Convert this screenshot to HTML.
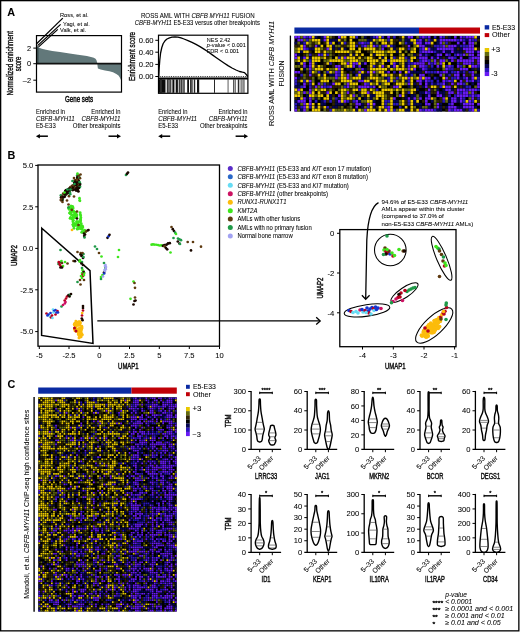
<!DOCTYPE html>
<html><head><meta charset="utf-8"><title>Figure</title>
<style>html,body{margin:0;padding:0;background:#fff;}body{width:520px;height:632px;overflow:hidden;font-family:"Liberation Sans",sans-serif;}svg{display:block;}#w{will-change:transform;}text{stroke:#111;stroke-width:0.06px;}</style>
</head><body>
<div id="w"><svg width="520" height="632" viewBox="0 0 520 632" font-family="Liberation Sans, sans-serif"><rect x="0.65" y="0.65" width="518.20" height="630.20" fill="none" stroke="#000" stroke-width="1.3"/>
<text x="7.20" y="15.80" font-size="10.8" font-weight="bold" fill="#000">A</text>
<text x="7.40" y="159.40" font-size="10.8" font-weight="bold" fill="#000">B</text>
<text x="7.40" y="388.20" font-size="10.8" font-weight="bold" fill="#000">C</text>
<path d="M37.0 63.6 L37.0 45.8 L38.5 47.5 L41.9 48.8 L46 49.8 L52.3 50.9 L60 52.0 L69.6 53.5 L78 54.8 L86.9 56.1 L91 57.0 L93.8 57.8 L95.5 58.8 L96.4 60.1 L97.0 62.0 L97.3 63.6 Z" fill="#62787a" stroke="none" stroke-width="1" />
<rect x="37.00" y="46.50" width="1.60" height="17.10" fill="#3d5052"/>
<path d="M97.3 63.6 L97.6 66.5 L97.9 68.5 L100.7 69.6 L105 70.5 L109.4 71.3 L113 72.3 L116.3 73.9 L118.5 75.5 L119.8 77.4 L121.0 80.0 L121.0 63.6 Z" fill="#62787a" stroke="none" stroke-width="1" />
<line x1="36.50" y1="63.60" x2="121.50" y2="63.60" stroke="#111" stroke-width="1.6" />
<rect x="36.50" y="35.60" width="85.00" height="56.50" fill="none" stroke="#000" stroke-width="1.2"/>
<line x1="33.30" y1="48.10" x2="36.50" y2="48.10" stroke="#000" stroke-width="1.0" />
<text x="31.00" y="50.70" font-size="7.4" text-anchor="end">2</text>
<line x1="33.30" y1="63.70" x2="36.50" y2="63.70" stroke="#000" stroke-width="1.0" />
<text x="31.00" y="66.30" font-size="7.4" text-anchor="end">0</text>
<line x1="33.30" y1="80.20" x2="36.50" y2="80.20" stroke="#000" stroke-width="1.0" />
<text x="31.00" y="82.80" font-size="7.4" text-anchor="end">–2</text>
<text x="13.10" y="95.50" font-size="8.8" textLength="64.50" lengthAdjust="spacingAndGlyphs" style="stroke-width:0.38px" transform="rotate(-90 13.10 95.50)">Normalized enrichment</text>
<text x="20.70" y="71.20" font-size="8.8" textLength="14.40" lengthAdjust="spacingAndGlyphs" style="stroke-width:0.38px" transform="rotate(-90 20.70 71.20)">score</text>
<text x="65.00" y="102.40" font-size="9.4" textLength="28.10" lengthAdjust="spacingAndGlyphs" style="stroke-width:0.5px">Gene sets</text>
<line x1="36.60" y1="43.80" x2="62.80" y2="18.10" stroke="#000" stroke-width="1.25" />
<line x1="37.60" y1="45.60" x2="60.60" y2="24.40" stroke="#000" stroke-width="1.25" />
<line x1="38.60" y1="46.90" x2="57.80" y2="29.40" stroke="#000" stroke-width="1.25" />
<text x="60.00" y="16.60" font-size="6.2" textLength="28.50" lengthAdjust="spacingAndGlyphs">Ross, et al.</text>
<text x="63.00" y="25.50" font-size="6.2" textLength="26.80" lengthAdjust="spacingAndGlyphs">Yagi, et al.</text>
<text x="60.00" y="32.40" font-size="6.2" textLength="26.20" lengthAdjust="spacingAndGlyphs">Valk, et al.</text>
<text x="35.90" y="113.80" font-size="6.4" textLength="29.20" lengthAdjust="spacingAndGlyphs">Enriched in</text>
<text x="35.90" y="121.30" font-size="6.4" font-style="italic" textLength="38.90" lengthAdjust="spacingAndGlyphs">CBFB-MYH11</text>
<text x="35.90" y="128.40" font-size="6.4" textLength="19.80" lengthAdjust="spacingAndGlyphs">E5-E33</text>
<text x="120.50" y="113.80" font-size="6.4" text-anchor="end" textLength="29.20" lengthAdjust="spacingAndGlyphs">Enriched in</text>
<text x="120.50" y="121.30" font-size="6.4" text-anchor="end" font-style="italic" textLength="38.90" lengthAdjust="spacingAndGlyphs">CBFB-MYH11</text>
<text x="120.50" y="128.40" font-size="6.4" text-anchor="end" textLength="47.70" lengthAdjust="spacingAndGlyphs">Other breakpoints</text>
<line x1="38.90" y1="136.20" x2="47.90" y2="136.20" stroke="#000" stroke-width="1.5" />
<path d="M35.9 136.2 L39.9 134.0 L39.9 138.39999999999998 Z" fill="#000" stroke="none" stroke-width="1" />
<line x1="108.50" y1="136.20" x2="117.50" y2="136.20" stroke="#000" stroke-width="1.5" />
<path d="M121.0 136.2 L117.0 134.0 L117.0 138.39999999999998 Z" fill="#000" stroke="none" stroke-width="1" />
<text x="140.90" y="17.60" font-size="6.6" textLength="113.80" lengthAdjust="spacingAndGlyphs">ROSS AML WITH <tspan font-style="italic">CBFB MYH11</tspan> FUSION</text>
<text x="134.70" y="25.00" font-size="6.4" textLength="125.20" lengthAdjust="spacingAndGlyphs"><tspan font-style="italic">CBFB-MYH11</tspan> E5-E33 versus other breakpoints</text>
<rect x="158.80" y="79.40" width="6.70" height="13.40" fill="#0a0a0a"/>
<rect x="159.90" y="79.40" width="2.00" height="13.40" fill="#2a2a2a"/>
<rect x="166.80" y="79.40" width="4.00" height="13.40" fill="#1a1a1a"/>
<rect x="167.60" y="79.40" width="2.40" height="13.40" fill="#6a6a6a"/>
<rect x="171.70" y="79.40" width="2.70" height="13.40" fill="#0a0a0a"/>
<rect x="172.40" y="79.40" width="0.50" height="13.40" fill="#cfcfcf"/>
<rect x="175.70" y="79.40" width="2.20" height="13.40" fill="#111"/>
<rect x="178.80" y="79.40" width="5.70" height="13.40" fill="#888"/>
<rect x="178.80" y="79.40" width="0.80" height="13.40" fill="#111"/>
<rect x="181.20" y="79.40" width="0.70" height="13.40" fill="#222"/>
<rect x="183.70" y="79.40" width="0.80" height="13.40" fill="#111"/>
<rect x="187.20" y="79.40" width="1.80" height="13.40" fill="#111"/>
<rect x="190.30" y="79.40" width="2.50" height="13.40" fill="#555"/>
<rect x="193.80" y="79.40" width="1.40" height="13.40" fill="#222"/>
<rect x="190.30" y="79.40" width="0.70" height="13.40" fill="#111"/>
<rect x="197.00" y="79.40" width="2.20" height="13.40" fill="#111"/>
<rect x="214.00" y="79.40" width="0.90" height="13.40" fill="#111"/>
<rect x="227.30" y="79.40" width="1.60" height="13.40" fill="#9a9a9a"/>
<rect x="233.30" y="79.40" width="0.90" height="13.40" fill="#111"/>
<rect x="234.80" y="79.40" width="0.80" height="13.40" fill="#222"/>
<rect x="237.80" y="79.40" width="1.50" height="13.40" fill="#2a2a2a"/>
<rect x="240.40" y="79.40" width="2.40" height="13.40" fill="#8a8a8a"/>
<rect x="243.50" y="79.40" width="0.90" height="13.40" fill="#111"/>
<line x1="158.50" y1="78.50" x2="247.90" y2="78.50" stroke="#000" stroke-width="1.8" />
<line x1="158.50" y1="76.60" x2="247.90" y2="76.60" stroke="#000" stroke-width="0.9" stroke-dasharray="0.9 0.9"/>
<path d="M158.8 76.5 L159.2 68 L159.8 60 L160.6 53 L161.8 47.5 L163.2 43.5 L165 40.8 L167 39.0 L169.5 37.8 L172 37.2 L175 37.0 L178 37.2 L181 37.9 L184 39.0 L188 40.6 L192 42.4 L196 44.4 L200 46.6 L204 49.1 L208 51.8 L212 54.6 L216 57.5 L220 60.3 L224 63.0 L228 65.6 L232 68.0 L236 70.0 L239.5 71.5 L242.5 72.2 L244.5 72.6 L246 74.2 L247.8 76.5" fill="none" stroke="#000" stroke-width="1.3" stroke-linejoin="round"/>
<rect x="158.50" y="35.20" width="89.40" height="58.10" fill="none" stroke="#000" stroke-width="1.2"/>
<line x1="155.30" y1="40.30" x2="158.50" y2="40.30" stroke="#000" stroke-width="1.0" />
<text x="153.60" y="43.00" font-size="7.6" text-anchor="end">0.60</text>
<line x1="155.30" y1="52.20" x2="158.50" y2="52.20" stroke="#000" stroke-width="1.0" />
<text x="153.60" y="54.90" font-size="7.6" text-anchor="end">0.40</text>
<line x1="155.30" y1="64.40" x2="158.50" y2="64.40" stroke="#000" stroke-width="1.0" />
<text x="153.60" y="67.10" font-size="7.6" text-anchor="end">0.20</text>
<line x1="155.30" y1="76.50" x2="158.50" y2="76.50" stroke="#000" stroke-width="1.0" />
<text x="153.60" y="79.20" font-size="7.6" text-anchor="end">0.00</text>
<text x="134.90" y="81.00" font-size="8.8" textLength="49.00" lengthAdjust="spacingAndGlyphs" style="stroke-width:0.38px" transform="rotate(-90 134.90 81.00)">Enrichment score</text>
<text x="206.80" y="41.50" font-size="6.2" textLength="23.60" lengthAdjust="spacingAndGlyphs">NES 2.42</text>
<text x="206.80" y="46.80" font-size="6.2" textLength="39.10" lengthAdjust="spacingAndGlyphs"><tspan font-style="italic">p</tspan>-value &lt; 0.001</text>
<text x="206.80" y="52.60" font-size="6.2" textLength="32.30" lengthAdjust="spacingAndGlyphs">FDR &lt; 0.001</text>
<text x="158.20" y="113.80" font-size="6.4" textLength="29.20" lengthAdjust="spacingAndGlyphs">Enriched in</text>
<text x="158.20" y="121.30" font-size="6.4" font-style="italic" textLength="38.90" lengthAdjust="spacingAndGlyphs">CBFB-MYH11</text>
<text x="158.20" y="128.40" font-size="6.4" textLength="19.80" lengthAdjust="spacingAndGlyphs">E5-E33</text>
<text x="247.60" y="113.80" font-size="6.4" text-anchor="end" textLength="29.20" lengthAdjust="spacingAndGlyphs">Enriched in</text>
<text x="247.60" y="121.30" font-size="6.4" text-anchor="end" font-style="italic" textLength="38.90" lengthAdjust="spacingAndGlyphs">CBFB-MYH11</text>
<text x="247.60" y="128.40" font-size="6.4" text-anchor="end" textLength="47.70" lengthAdjust="spacingAndGlyphs">Other breakpoints</text>
<line x1="161.20" y1="136.20" x2="170.20" y2="136.20" stroke="#000" stroke-width="1.5" />
<path d="M158.2 136.2 L162.2 134.0 L162.2 138.39999999999998 Z" fill="#000" stroke="none" stroke-width="1" />
<line x1="235.60" y1="136.20" x2="244.60" y2="136.20" stroke="#000" stroke-width="1.5" />
<path d="M248.1 136.2 L244.1 134.0 L244.1 138.39999999999998 Z" fill="#000" stroke="none" stroke-width="1" />
<rect x="294.40" y="27.50" width="124.60" height="6.10" fill="#0a2aa2"/>
<rect x="419.00" y="27.50" width="61.00" height="6.10" fill="#c00008"/>
<rect x="294.40" y="35.80" width="185.60" height="75.80" fill="#000"/>
<g><path fill="#681af5" d="M294.5 35.9h2.60v2.62h-2.60zM294.5 53.4h2.60v2.62h-2.60zM294.5 56.4h2.60v2.62h-2.60zM294.5 70.9h2.60v2.62h-2.60zM294.5 76.8h2.60v2.62h-2.60zM294.5 108.8h2.60v2.62h-2.60zM297.4 35.9h2.60v2.62h-2.60zM297.4 38.9h2.60v2.62h-2.60zM297.4 70.9h2.60v2.62h-2.60zM297.4 88.4h2.60v2.62h-2.60zM297.4 100.1h2.60v2.62h-2.60zM300.3 38.9h2.60v2.62h-2.60zM300.3 100.1h2.60v2.62h-2.60zM303.2 35.9h2.60v2.62h-2.60zM303.2 44.7h2.60v2.62h-2.60zM303.2 47.6h2.60v2.62h-2.60zM303.2 56.4h2.60v2.62h-2.60zM303.2 62.2h2.60v2.62h-2.60zM303.2 65.1h2.60v2.62h-2.60zM303.2 82.6h2.60v2.62h-2.60zM303.2 85.5h2.60v2.62h-2.60zM303.2 91.3h2.60v2.62h-2.60zM303.2 97.2h2.60v2.62h-2.60zM303.2 100.1h2.60v2.62h-2.60zM303.2 103.0h2.60v2.62h-2.60zM303.2 105.9h2.60v2.62h-2.60zM303.2 108.8h2.60v2.62h-2.60zM309.0 35.9h2.60v2.62h-2.60zM309.0 62.2h2.60v2.62h-2.60zM309.0 65.1h2.60v2.62h-2.60zM309.0 68.0h2.60v2.62h-2.60zM309.0 73.8h2.60v2.62h-2.60zM309.0 79.7h2.60v2.62h-2.60zM309.0 88.4h2.60v2.62h-2.60zM309.0 91.3h2.60v2.62h-2.60zM309.0 97.2h2.60v2.62h-2.60zM309.0 100.1h2.60v2.62h-2.60zM309.0 103.0h2.60v2.62h-2.60zM314.8 44.7h2.60v2.62h-2.60zM314.8 85.5h2.60v2.62h-2.60zM317.7 53.4h2.60v2.62h-2.60zM317.7 82.6h2.60v2.62h-2.60zM320.6 85.5h2.60v2.62h-2.60zM323.5 35.9h2.60v2.62h-2.60zM323.5 38.9h2.60v2.62h-2.60zM326.4 47.6h2.60v2.62h-2.60zM326.4 91.3h2.60v2.62h-2.60zM329.3 85.5h2.60v2.62h-2.60zM332.2 82.6h2.60v2.62h-2.60zM335.1 65.1h2.60v2.62h-2.60zM335.1 70.9h2.60v2.62h-2.60zM335.1 73.8h2.60v2.62h-2.60zM335.1 76.8h2.60v2.62h-2.60zM338.0 35.9h2.60v2.62h-2.60zM338.0 65.1h2.60v2.62h-2.60zM338.0 68.0h2.60v2.62h-2.60zM338.0 94.3h2.60v2.62h-2.60zM338.0 100.1h2.60v2.62h-2.60zM343.8 56.4h2.60v2.62h-2.60zM343.8 100.1h2.60v2.62h-2.60zM346.7 62.2h2.60v2.62h-2.60zM346.7 73.8h2.60v2.62h-2.60zM346.7 76.8h2.60v2.62h-2.60zM346.7 82.6h2.60v2.62h-2.60zM346.7 85.5h2.60v2.62h-2.60zM346.7 91.3h2.60v2.62h-2.60zM352.5 62.2h2.60v2.62h-2.60zM352.5 65.1h2.60v2.62h-2.60zM352.5 94.3h2.60v2.62h-2.60zM355.4 62.2h2.60v2.62h-2.60zM355.4 100.1h2.60v2.62h-2.60zM355.4 103.0h2.60v2.62h-2.60zM355.4 105.9h2.60v2.62h-2.60zM358.3 65.1h2.60v2.62h-2.60zM358.3 70.9h2.60v2.62h-2.60zM358.3 79.7h2.60v2.62h-2.60zM358.3 85.5h2.60v2.62h-2.60zM358.3 103.0h2.60v2.62h-2.60zM361.2 41.8h2.60v2.62h-2.60zM361.2 68.0h2.60v2.62h-2.60zM361.2 79.7h2.60v2.62h-2.60zM361.2 85.5h2.60v2.62h-2.60zM364.1 44.7h2.60v2.62h-2.60zM364.1 62.2h2.60v2.62h-2.60zM364.1 82.6h2.60v2.62h-2.60zM364.1 85.5h2.60v2.62h-2.60zM364.1 108.8h2.60v2.62h-2.60zM367.0 70.9h2.60v2.62h-2.60zM367.0 85.5h2.60v2.62h-2.60zM367.0 91.3h2.60v2.62h-2.60zM367.0 103.0h2.60v2.62h-2.60zM372.8 44.7h2.60v2.62h-2.60zM372.8 70.9h2.60v2.62h-2.60zM372.8 85.5h2.60v2.62h-2.60zM372.8 103.0h2.60v2.62h-2.60zM375.8 35.9h2.60v2.62h-2.60zM381.5 47.6h2.60v2.62h-2.60zM381.5 65.1h2.60v2.62h-2.60zM384.4 44.7h2.60v2.62h-2.60zM387.3 35.9h2.60v2.62h-2.60zM387.3 70.9h2.60v2.62h-2.60zM387.3 105.9h2.60v2.62h-2.60zM387.3 108.8h2.60v2.62h-2.60zM393.1 62.2h2.60v2.62h-2.60zM393.1 65.1h2.60v2.62h-2.60zM393.1 85.5h2.60v2.62h-2.60zM393.1 97.2h2.60v2.62h-2.60zM396.0 85.5h2.60v2.62h-2.60zM398.9 70.9h2.60v2.62h-2.60zM398.9 94.3h2.60v2.62h-2.60zM407.6 35.9h2.60v2.62h-2.60zM407.6 44.7h2.60v2.62h-2.60zM407.6 65.1h2.60v2.62h-2.60zM407.6 68.0h2.60v2.62h-2.60zM407.6 70.9h2.60v2.62h-2.60zM407.6 76.8h2.60v2.62h-2.60zM407.6 82.6h2.60v2.62h-2.60zM407.6 97.2h2.60v2.62h-2.60zM410.5 35.9h2.60v2.62h-2.60zM413.4 62.2h2.60v2.62h-2.60zM413.4 68.0h2.60v2.62h-2.60zM413.4 97.2h2.60v2.62h-2.60zM416.3 41.8h2.60v2.62h-2.60zM416.3 62.2h2.60v2.62h-2.60zM416.3 79.7h2.60v2.62h-2.60zM419.2 38.9h2.60v2.62h-2.60zM419.2 41.8h2.60v2.62h-2.60zM419.2 44.7h2.60v2.62h-2.60zM419.2 53.4h2.60v2.62h-2.60zM419.2 56.4h2.60v2.62h-2.60zM419.2 62.2h2.60v2.62h-2.60zM419.2 65.1h2.60v2.62h-2.60zM419.2 73.8h2.60v2.62h-2.60zM419.2 76.8h2.60v2.62h-2.60zM419.2 79.7h2.60v2.62h-2.60zM419.2 82.6h2.60v2.62h-2.60zM419.2 97.2h2.60v2.62h-2.60zM419.2 108.8h2.60v2.62h-2.60zM422.1 35.9h2.60v2.62h-2.60zM422.1 44.7h2.60v2.62h-2.60zM422.1 47.6h2.60v2.62h-2.60zM422.1 50.5h2.60v2.62h-2.60zM422.1 56.4h2.60v2.62h-2.60zM422.1 59.3h2.60v2.62h-2.60zM422.1 62.2h2.60v2.62h-2.60zM422.1 65.1h2.60v2.62h-2.60zM422.1 68.0h2.60v2.62h-2.60zM422.1 73.8h2.60v2.62h-2.60zM425.0 41.8h2.60v2.62h-2.60zM425.0 50.5h2.60v2.62h-2.60zM425.0 56.4h2.60v2.62h-2.60zM425.0 59.3h2.60v2.62h-2.60zM425.0 70.9h2.60v2.62h-2.60zM425.0 76.8h2.60v2.62h-2.60zM425.0 79.7h2.60v2.62h-2.60zM425.0 82.6h2.60v2.62h-2.60zM425.0 85.5h2.60v2.62h-2.60zM425.0 91.3h2.60v2.62h-2.60zM425.0 97.2h2.60v2.62h-2.60zM425.0 100.1h2.60v2.62h-2.60zM425.0 103.0h2.60v2.62h-2.60zM425.0 108.8h2.60v2.62h-2.60zM427.9 35.9h2.60v2.62h-2.60zM427.9 41.8h2.60v2.62h-2.60zM427.9 47.6h2.60v2.62h-2.60zM427.9 50.5h2.60v2.62h-2.60zM427.9 62.2h2.60v2.62h-2.60zM427.9 76.8h2.60v2.62h-2.60zM427.9 88.4h2.60v2.62h-2.60zM427.9 94.3h2.60v2.62h-2.60zM427.9 97.2h2.60v2.62h-2.60zM427.9 103.0h2.60v2.62h-2.60zM427.9 108.8h2.60v2.62h-2.60zM430.8 50.5h2.60v2.62h-2.60zM430.8 56.4h2.60v2.62h-2.60zM430.8 108.8h2.60v2.62h-2.60zM433.8 59.3h2.60v2.62h-2.60zM433.8 62.2h2.60v2.62h-2.60zM436.6 47.6h2.60v2.62h-2.60zM436.6 53.4h2.60v2.62h-2.60zM436.6 56.4h2.60v2.62h-2.60zM436.6 65.1h2.60v2.62h-2.60zM436.6 70.9h2.60v2.62h-2.60zM436.6 91.3h2.60v2.62h-2.60zM436.6 94.3h2.60v2.62h-2.60zM436.6 103.0h2.60v2.62h-2.60zM436.6 105.9h2.60v2.62h-2.60zM439.5 35.9h2.60v2.62h-2.60zM439.5 38.9h2.60v2.62h-2.60zM439.5 41.8h2.60v2.62h-2.60zM439.5 47.6h2.60v2.62h-2.60zM439.5 53.4h2.60v2.62h-2.60zM439.5 59.3h2.60v2.62h-2.60zM439.5 62.2h2.60v2.62h-2.60zM439.5 73.8h2.60v2.62h-2.60zM439.5 94.3h2.60v2.62h-2.60zM442.4 38.9h2.60v2.62h-2.60zM442.4 44.7h2.60v2.62h-2.60zM442.4 47.6h2.60v2.62h-2.60zM442.4 50.5h2.60v2.62h-2.60zM442.4 59.3h2.60v2.62h-2.60zM442.4 70.9h2.60v2.62h-2.60zM442.4 79.7h2.60v2.62h-2.60zM442.4 82.6h2.60v2.62h-2.60zM442.4 97.2h2.60v2.62h-2.60zM445.3 38.9h2.60v2.62h-2.60zM445.3 47.6h2.60v2.62h-2.60zM445.3 53.4h2.60v2.62h-2.60zM445.3 68.0h2.60v2.62h-2.60zM445.3 70.9h2.60v2.62h-2.60zM445.3 76.8h2.60v2.62h-2.60zM445.3 85.5h2.60v2.62h-2.60zM445.3 88.4h2.60v2.62h-2.60zM448.2 38.9h2.60v2.62h-2.60zM448.2 44.7h2.60v2.62h-2.60zM448.2 47.6h2.60v2.62h-2.60zM448.2 56.4h2.60v2.62h-2.60zM448.2 65.1h2.60v2.62h-2.60zM448.2 79.7h2.60v2.62h-2.60zM448.2 85.5h2.60v2.62h-2.60zM448.2 88.4h2.60v2.62h-2.60zM448.2 91.3h2.60v2.62h-2.60zM448.2 105.9h2.60v2.62h-2.60zM448.2 108.8h2.60v2.62h-2.60zM451.1 38.9h2.60v2.62h-2.60zM451.1 44.7h2.60v2.62h-2.60zM451.1 47.6h2.60v2.62h-2.60zM451.1 50.5h2.60v2.62h-2.60zM451.1 56.4h2.60v2.62h-2.60zM451.1 59.3h2.60v2.62h-2.60zM451.1 82.6h2.60v2.62h-2.60zM451.1 91.3h2.60v2.62h-2.60zM451.1 97.2h2.60v2.62h-2.60zM451.1 100.1h2.60v2.62h-2.60zM451.1 103.0h2.60v2.62h-2.60zM451.1 105.9h2.60v2.62h-2.60zM454.0 35.9h2.60v2.62h-2.60zM454.0 38.9h2.60v2.62h-2.60zM454.0 44.7h2.60v2.62h-2.60zM454.0 73.8h2.60v2.62h-2.60zM454.0 97.2h2.60v2.62h-2.60zM454.0 100.1h2.60v2.62h-2.60zM454.0 105.9h2.60v2.62h-2.60zM454.0 108.8h2.60v2.62h-2.60zM456.9 41.8h2.60v2.62h-2.60zM456.9 53.4h2.60v2.62h-2.60zM456.9 59.3h2.60v2.62h-2.60zM456.9 65.1h2.60v2.62h-2.60zM456.9 70.9h2.60v2.62h-2.60zM456.9 73.8h2.60v2.62h-2.60zM456.9 76.8h2.60v2.62h-2.60zM456.9 82.6h2.60v2.62h-2.60zM456.9 88.4h2.60v2.62h-2.60zM456.9 91.3h2.60v2.62h-2.60zM456.9 94.3h2.60v2.62h-2.60zM456.9 108.8h2.60v2.62h-2.60zM459.8 35.9h2.60v2.62h-2.60zM459.8 38.9h2.60v2.62h-2.60zM459.8 56.4h2.60v2.62h-2.60zM459.8 59.3h2.60v2.62h-2.60zM459.8 68.0h2.60v2.62h-2.60zM459.8 79.7h2.60v2.62h-2.60zM459.8 82.6h2.60v2.62h-2.60zM459.8 88.4h2.60v2.62h-2.60zM459.8 94.3h2.60v2.62h-2.60zM459.8 97.2h2.60v2.62h-2.60zM459.8 100.1h2.60v2.62h-2.60zM459.8 108.8h2.60v2.62h-2.60zM462.8 41.8h2.60v2.62h-2.60zM462.8 47.6h2.60v2.62h-2.60zM462.8 53.4h2.60v2.62h-2.60zM462.8 59.3h2.60v2.62h-2.60zM462.8 62.2h2.60v2.62h-2.60zM462.8 68.0h2.60v2.62h-2.60zM462.8 73.8h2.60v2.62h-2.60zM462.8 88.4h2.60v2.62h-2.60zM462.8 91.3h2.60v2.62h-2.60zM462.8 94.3h2.60v2.62h-2.60zM462.8 103.0h2.60v2.62h-2.60zM462.8 105.9h2.60v2.62h-2.60zM465.6 35.9h2.60v2.62h-2.60zM465.6 47.6h2.60v2.62h-2.60zM465.6 50.5h2.60v2.62h-2.60zM465.6 59.3h2.60v2.62h-2.60zM465.6 62.2h2.60v2.62h-2.60zM465.6 68.0h2.60v2.62h-2.60zM465.6 76.8h2.60v2.62h-2.60zM465.6 79.7h2.60v2.62h-2.60zM465.6 91.3h2.60v2.62h-2.60zM465.6 94.3h2.60v2.62h-2.60zM465.6 103.0h2.60v2.62h-2.60zM465.6 105.9h2.60v2.62h-2.60zM468.5 35.9h2.60v2.62h-2.60zM468.5 38.9h2.60v2.62h-2.60zM468.5 41.8h2.60v2.62h-2.60zM468.5 44.7h2.60v2.62h-2.60zM468.5 47.6h2.60v2.62h-2.60zM468.5 50.5h2.60v2.62h-2.60zM468.5 53.4h2.60v2.62h-2.60zM468.5 59.3h2.60v2.62h-2.60zM468.5 62.2h2.60v2.62h-2.60zM468.5 88.4h2.60v2.62h-2.60zM468.5 100.1h2.60v2.62h-2.60zM468.5 103.0h2.60v2.62h-2.60zM468.5 105.9h2.60v2.62h-2.60zM471.4 35.9h2.60v2.62h-2.60zM471.4 41.8h2.60v2.62h-2.60zM471.4 44.7h2.60v2.62h-2.60zM471.4 47.6h2.60v2.62h-2.60zM471.4 50.5h2.60v2.62h-2.60zM471.4 53.4h2.60v2.62h-2.60zM471.4 56.4h2.60v2.62h-2.60zM471.4 59.3h2.60v2.62h-2.60zM471.4 65.1h2.60v2.62h-2.60zM471.4 70.9h2.60v2.62h-2.60zM471.4 73.8h2.60v2.62h-2.60zM471.4 76.8h2.60v2.62h-2.60zM471.4 79.7h2.60v2.62h-2.60zM471.4 88.4h2.60v2.62h-2.60zM471.4 91.3h2.60v2.62h-2.60zM471.4 94.3h2.60v2.62h-2.60zM471.4 97.2h2.60v2.62h-2.60zM471.4 103.0h2.60v2.62h-2.60zM471.4 105.9h2.60v2.62h-2.60zM471.4 108.8h2.60v2.62h-2.60zM474.3 56.4h2.60v2.62h-2.60zM474.3 65.1h2.60v2.62h-2.60zM474.3 88.4h2.60v2.62h-2.60zM477.2 50.5h2.60v2.62h-2.60zM477.2 53.4h2.60v2.62h-2.60zM477.2 56.4h2.60v2.62h-2.60zM477.2 59.3h2.60v2.62h-2.60zM477.2 62.2h2.60v2.62h-2.60zM477.2 82.6h2.60v2.62h-2.60zM477.2 85.5h2.60v2.62h-2.60zM477.2 94.3h2.60v2.62h-2.60zM477.2 103.0h2.60v2.62h-2.60z"/><path fill="#060650" d="M294.5 41.8h2.60v2.62h-2.60zM294.5 85.5h2.60v2.62h-2.60zM294.5 100.1h2.60v2.62h-2.60zM297.4 53.4h2.60v2.62h-2.60zM297.4 62.2h2.60v2.62h-2.60zM297.4 76.8h2.60v2.62h-2.60zM297.4 82.6h2.60v2.62h-2.60zM297.4 85.5h2.60v2.62h-2.60zM297.4 97.2h2.60v2.62h-2.60zM297.4 103.0h2.60v2.62h-2.60zM300.3 41.8h2.60v2.62h-2.60zM300.3 50.5h2.60v2.62h-2.60zM300.3 56.4h2.60v2.62h-2.60zM300.3 108.8h2.60v2.62h-2.60zM303.2 68.0h2.60v2.62h-2.60zM306.1 65.1h2.60v2.62h-2.60zM306.1 94.3h2.60v2.62h-2.60zM306.1 97.2h2.60v2.62h-2.60zM309.0 47.6h2.60v2.62h-2.60zM309.0 56.4h2.60v2.62h-2.60zM311.9 47.6h2.60v2.62h-2.60zM314.8 35.9h2.60v2.62h-2.60zM314.8 62.2h2.60v2.62h-2.60zM314.8 97.2h2.60v2.62h-2.60zM314.8 105.9h2.60v2.62h-2.60zM317.7 44.7h2.60v2.62h-2.60zM320.6 35.9h2.60v2.62h-2.60zM320.6 38.9h2.60v2.62h-2.60zM320.6 73.8h2.60v2.62h-2.60zM320.6 100.1h2.60v2.62h-2.60zM320.6 103.0h2.60v2.62h-2.60zM323.5 103.0h2.60v2.62h-2.60zM329.3 38.9h2.60v2.62h-2.60zM329.3 73.8h2.60v2.62h-2.60zM329.3 82.6h2.60v2.62h-2.60zM329.3 94.3h2.60v2.62h-2.60zM329.3 97.2h2.60v2.62h-2.60zM332.2 38.9h2.60v2.62h-2.60zM332.2 44.7h2.60v2.62h-2.60zM332.2 47.6h2.60v2.62h-2.60zM332.2 73.8h2.60v2.62h-2.60zM332.2 105.9h2.60v2.62h-2.60zM335.1 38.9h2.60v2.62h-2.60zM335.1 100.1h2.60v2.62h-2.60zM335.1 103.0h2.60v2.62h-2.60zM335.1 105.9h2.60v2.62h-2.60zM338.0 41.8h2.60v2.62h-2.60zM338.0 47.6h2.60v2.62h-2.60zM338.0 97.2h2.60v2.62h-2.60zM338.0 103.0h2.60v2.62h-2.60zM340.9 103.0h2.60v2.62h-2.60zM343.8 47.6h2.60v2.62h-2.60zM346.7 53.4h2.60v2.62h-2.60zM346.7 68.0h2.60v2.62h-2.60zM349.6 68.0h2.60v2.62h-2.60zM352.5 53.4h2.60v2.62h-2.60zM352.5 70.9h2.60v2.62h-2.60zM352.5 79.7h2.60v2.62h-2.60zM355.4 65.1h2.60v2.62h-2.60zM355.4 97.2h2.60v2.62h-2.60zM355.4 108.8h2.60v2.62h-2.60zM358.3 94.3h2.60v2.62h-2.60zM358.3 100.1h2.60v2.62h-2.60zM361.2 62.2h2.60v2.62h-2.60zM361.2 73.8h2.60v2.62h-2.60zM361.2 76.8h2.60v2.62h-2.60zM361.2 103.0h2.60v2.62h-2.60zM361.2 105.9h2.60v2.62h-2.60zM364.1 35.9h2.60v2.62h-2.60zM364.1 68.0h2.60v2.62h-2.60zM364.1 73.8h2.60v2.62h-2.60zM364.1 97.2h2.60v2.62h-2.60zM367.0 38.9h2.60v2.62h-2.60zM367.0 73.8h2.60v2.62h-2.60zM369.9 35.9h2.60v2.62h-2.60zM369.9 38.9h2.60v2.62h-2.60zM369.9 79.7h2.60v2.62h-2.60zM369.9 94.3h2.60v2.62h-2.60zM369.9 97.2h2.60v2.62h-2.60zM372.8 41.8h2.60v2.62h-2.60zM372.8 53.4h2.60v2.62h-2.60zM372.8 94.3h2.60v2.62h-2.60zM372.8 100.1h2.60v2.62h-2.60zM372.8 105.9h2.60v2.62h-2.60zM378.6 82.6h2.60v2.62h-2.60zM381.5 56.4h2.60v2.62h-2.60zM384.4 70.9h2.60v2.62h-2.60zM384.4 76.8h2.60v2.62h-2.60zM390.2 65.1h2.60v2.62h-2.60zM393.1 44.7h2.60v2.62h-2.60zM393.1 47.6h2.60v2.62h-2.60zM393.1 100.1h2.60v2.62h-2.60zM396.0 50.5h2.60v2.62h-2.60zM396.0 62.2h2.60v2.62h-2.60zM396.0 100.1h2.60v2.62h-2.60zM398.9 38.9h2.60v2.62h-2.60zM404.8 35.9h2.60v2.62h-2.60zM404.8 38.9h2.60v2.62h-2.60zM404.8 62.2h2.60v2.62h-2.60zM404.8 65.1h2.60v2.62h-2.60zM404.8 79.7h2.60v2.62h-2.60zM404.8 94.3h2.60v2.62h-2.60zM404.8 97.2h2.60v2.62h-2.60zM404.8 108.8h2.60v2.62h-2.60zM407.6 38.9h2.60v2.62h-2.60zM407.6 41.8h2.60v2.62h-2.60zM407.6 56.4h2.60v2.62h-2.60zM407.6 73.8h2.60v2.62h-2.60zM407.6 85.5h2.60v2.62h-2.60zM407.6 108.8h2.60v2.62h-2.60zM410.5 41.8h2.60v2.62h-2.60zM410.5 70.9h2.60v2.62h-2.60zM410.5 94.3h2.60v2.62h-2.60zM410.5 97.2h2.60v2.62h-2.60zM413.4 53.4h2.60v2.62h-2.60zM413.4 70.9h2.60v2.62h-2.60zM413.4 82.6h2.60v2.62h-2.60zM413.4 94.3h2.60v2.62h-2.60zM413.4 100.1h2.60v2.62h-2.60zM413.4 103.0h2.60v2.62h-2.60zM416.3 56.4h2.60v2.62h-2.60zM416.3 70.9h2.60v2.62h-2.60zM416.3 85.5h2.60v2.62h-2.60zM416.3 88.4h2.60v2.62h-2.60zM416.3 103.0h2.60v2.62h-2.60zM419.2 68.0h2.60v2.62h-2.60zM419.2 70.9h2.60v2.62h-2.60zM419.2 91.3h2.60v2.62h-2.60zM419.2 94.3h2.60v2.62h-2.60zM419.2 103.0h2.60v2.62h-2.60zM419.2 105.9h2.60v2.62h-2.60zM422.1 38.9h2.60v2.62h-2.60zM422.1 41.8h2.60v2.62h-2.60zM422.1 53.4h2.60v2.62h-2.60zM422.1 79.7h2.60v2.62h-2.60zM422.1 85.5h2.60v2.62h-2.60zM422.1 91.3h2.60v2.62h-2.60zM425.0 44.7h2.60v2.62h-2.60zM425.0 94.3h2.60v2.62h-2.60zM427.9 44.7h2.60v2.62h-2.60zM427.9 53.4h2.60v2.62h-2.60zM427.9 68.0h2.60v2.62h-2.60zM427.9 73.8h2.60v2.62h-2.60zM427.9 82.6h2.60v2.62h-2.60zM427.9 105.9h2.60v2.62h-2.60zM430.8 38.9h2.60v2.62h-2.60zM430.8 47.6h2.60v2.62h-2.60zM430.8 68.0h2.60v2.62h-2.60zM430.8 100.1h2.60v2.62h-2.60zM433.8 47.6h2.60v2.62h-2.60zM433.8 53.4h2.60v2.62h-2.60zM433.8 56.4h2.60v2.62h-2.60zM433.8 68.0h2.60v2.62h-2.60zM433.8 82.6h2.60v2.62h-2.60zM436.6 38.9h2.60v2.62h-2.60zM436.6 41.8h2.60v2.62h-2.60zM436.6 50.5h2.60v2.62h-2.60zM436.6 76.8h2.60v2.62h-2.60zM436.6 88.4h2.60v2.62h-2.60zM436.6 108.8h2.60v2.62h-2.60zM439.5 50.5h2.60v2.62h-2.60zM439.5 56.4h2.60v2.62h-2.60zM439.5 65.1h2.60v2.62h-2.60zM439.5 91.3h2.60v2.62h-2.60zM439.5 103.0h2.60v2.62h-2.60zM439.5 105.9h2.60v2.62h-2.60zM439.5 108.8h2.60v2.62h-2.60zM442.4 88.4h2.60v2.62h-2.60zM442.4 91.3h2.60v2.62h-2.60zM442.4 94.3h2.60v2.62h-2.60zM445.3 50.5h2.60v2.62h-2.60zM445.3 56.4h2.60v2.62h-2.60zM445.3 73.8h2.60v2.62h-2.60zM445.3 82.6h2.60v2.62h-2.60zM445.3 105.9h2.60v2.62h-2.60zM448.2 35.9h2.60v2.62h-2.60zM448.2 50.5h2.60v2.62h-2.60zM448.2 59.3h2.60v2.62h-2.60zM448.2 70.9h2.60v2.62h-2.60zM448.2 97.2h2.60v2.62h-2.60zM448.2 100.1h2.60v2.62h-2.60zM451.1 88.4h2.60v2.62h-2.60zM454.0 47.6h2.60v2.62h-2.60zM454.0 50.5h2.60v2.62h-2.60zM456.9 44.7h2.60v2.62h-2.60zM456.9 50.5h2.60v2.62h-2.60zM456.9 85.5h2.60v2.62h-2.60zM456.9 97.2h2.60v2.62h-2.60zM456.9 100.1h2.60v2.62h-2.60zM456.9 105.9h2.60v2.62h-2.60zM459.8 47.6h2.60v2.62h-2.60zM459.8 50.5h2.60v2.62h-2.60zM459.8 70.9h2.60v2.62h-2.60zM459.8 76.8h2.60v2.62h-2.60zM459.8 103.0h2.60v2.62h-2.60zM459.8 105.9h2.60v2.62h-2.60zM462.8 85.5h2.60v2.62h-2.60zM462.8 108.8h2.60v2.62h-2.60zM465.6 38.9h2.60v2.62h-2.60zM468.5 76.8h2.60v2.62h-2.60zM471.4 68.0h2.60v2.62h-2.60zM471.4 82.6h2.60v2.62h-2.60zM474.3 50.5h2.60v2.62h-2.60zM474.3 73.8h2.60v2.62h-2.60zM474.3 79.7h2.60v2.62h-2.60zM474.3 105.9h2.60v2.62h-2.60zM477.2 35.9h2.60v2.62h-2.60zM477.2 68.0h2.60v2.62h-2.60zM477.2 73.8h2.60v2.62h-2.60z"/><path fill="#302404" d="M294.5 44.7h2.60v2.62h-2.60zM294.5 73.8h2.60v2.62h-2.60zM294.5 97.2h2.60v2.62h-2.60zM297.4 44.7h2.60v2.62h-2.60zM297.4 79.7h2.60v2.62h-2.60zM297.4 105.9h2.60v2.62h-2.60zM300.3 59.3h2.60v2.62h-2.60zM300.3 65.1h2.60v2.62h-2.60zM300.3 70.9h2.60v2.62h-2.60zM300.3 76.8h2.60v2.62h-2.60zM303.2 53.4h2.60v2.62h-2.60zM306.1 44.7h2.60v2.62h-2.60zM306.1 70.9h2.60v2.62h-2.60zM306.1 73.8h2.60v2.62h-2.60zM306.1 76.8h2.60v2.62h-2.60zM306.1 82.6h2.60v2.62h-2.60zM309.0 50.5h2.60v2.62h-2.60zM309.0 76.8h2.60v2.62h-2.60zM311.9 41.8h2.60v2.62h-2.60zM311.9 44.7h2.60v2.62h-2.60zM311.9 53.4h2.60v2.62h-2.60zM311.9 73.8h2.60v2.62h-2.60zM311.9 85.5h2.60v2.62h-2.60zM314.8 53.4h2.60v2.62h-2.60zM314.8 65.1h2.60v2.62h-2.60zM314.8 73.8h2.60v2.62h-2.60zM320.6 50.5h2.60v2.62h-2.60zM320.6 91.3h2.60v2.62h-2.60zM320.6 105.9h2.60v2.62h-2.60zM323.5 41.8h2.60v2.62h-2.60zM323.5 47.6h2.60v2.62h-2.60zM323.5 62.2h2.60v2.62h-2.60zM323.5 65.1h2.60v2.62h-2.60zM323.5 68.0h2.60v2.62h-2.60zM323.5 91.3h2.60v2.62h-2.60zM326.4 56.4h2.60v2.62h-2.60zM326.4 82.6h2.60v2.62h-2.60zM326.4 88.4h2.60v2.62h-2.60zM326.4 100.1h2.60v2.62h-2.60zM326.4 108.8h2.60v2.62h-2.60zM329.3 105.9h2.60v2.62h-2.60zM332.2 35.9h2.60v2.62h-2.60zM332.2 50.5h2.60v2.62h-2.60zM332.2 53.4h2.60v2.62h-2.60zM332.2 62.2h2.60v2.62h-2.60zM332.2 65.1h2.60v2.62h-2.60zM332.2 85.5h2.60v2.62h-2.60zM332.2 88.4h2.60v2.62h-2.60zM332.2 94.3h2.60v2.62h-2.60zM332.2 100.1h2.60v2.62h-2.60zM332.2 103.0h2.60v2.62h-2.60zM335.1 47.6h2.60v2.62h-2.60zM335.1 79.7h2.60v2.62h-2.60zM335.1 85.5h2.60v2.62h-2.60zM338.0 53.4h2.60v2.62h-2.60zM338.0 62.2h2.60v2.62h-2.60zM338.0 79.7h2.60v2.62h-2.60zM338.0 85.5h2.60v2.62h-2.60zM338.0 91.3h2.60v2.62h-2.60zM338.0 105.9h2.60v2.62h-2.60zM340.9 38.9h2.60v2.62h-2.60zM340.9 44.7h2.60v2.62h-2.60zM340.9 53.4h2.60v2.62h-2.60zM340.9 65.1h2.60v2.62h-2.60zM343.8 44.7h2.60v2.62h-2.60zM343.8 53.4h2.60v2.62h-2.60zM343.8 70.9h2.60v2.62h-2.60zM343.8 103.0h2.60v2.62h-2.60zM346.7 41.8h2.60v2.62h-2.60zM346.7 94.3h2.60v2.62h-2.60zM346.7 105.9h2.60v2.62h-2.60zM349.6 70.9h2.60v2.62h-2.60zM349.6 88.4h2.60v2.62h-2.60zM349.6 91.3h2.60v2.62h-2.60zM349.6 100.1h2.60v2.62h-2.60zM352.5 50.5h2.60v2.62h-2.60zM352.5 103.0h2.60v2.62h-2.60zM355.4 41.8h2.60v2.62h-2.60zM355.4 56.4h2.60v2.62h-2.60zM355.4 70.9h2.60v2.62h-2.60zM355.4 79.7h2.60v2.62h-2.60zM355.4 85.5h2.60v2.62h-2.60zM358.3 44.7h2.60v2.62h-2.60zM358.3 53.4h2.60v2.62h-2.60zM358.3 91.3h2.60v2.62h-2.60zM361.2 47.6h2.60v2.62h-2.60zM361.2 56.4h2.60v2.62h-2.60zM361.2 82.6h2.60v2.62h-2.60zM364.1 59.3h2.60v2.62h-2.60zM364.1 70.9h2.60v2.62h-2.60zM364.1 76.8h2.60v2.62h-2.60zM364.1 94.3h2.60v2.62h-2.60zM364.1 103.0h2.60v2.62h-2.60zM367.0 50.5h2.60v2.62h-2.60zM367.0 65.1h2.60v2.62h-2.60zM367.0 68.0h2.60v2.62h-2.60zM367.0 88.4h2.60v2.62h-2.60zM369.9 91.3h2.60v2.62h-2.60zM372.8 56.4h2.60v2.62h-2.60zM372.8 73.8h2.60v2.62h-2.60zM372.8 79.7h2.60v2.62h-2.60zM375.8 47.6h2.60v2.62h-2.60zM375.8 62.2h2.60v2.62h-2.60zM375.8 65.1h2.60v2.62h-2.60zM375.8 105.9h2.60v2.62h-2.60zM378.6 59.3h2.60v2.62h-2.60zM381.5 108.8h2.60v2.62h-2.60zM384.4 65.1h2.60v2.62h-2.60zM384.4 91.3h2.60v2.62h-2.60zM387.3 41.8h2.60v2.62h-2.60zM387.3 47.6h2.60v2.62h-2.60zM387.3 53.4h2.60v2.62h-2.60zM387.3 68.0h2.60v2.62h-2.60zM387.3 91.3h2.60v2.62h-2.60zM387.3 94.3h2.60v2.62h-2.60zM387.3 97.2h2.60v2.62h-2.60zM390.2 35.9h2.60v2.62h-2.60zM390.2 85.5h2.60v2.62h-2.60zM390.2 94.3h2.60v2.62h-2.60zM393.1 38.9h2.60v2.62h-2.60zM393.1 41.8h2.60v2.62h-2.60zM393.1 73.8h2.60v2.62h-2.60zM393.1 82.6h2.60v2.62h-2.60zM396.0 38.9h2.60v2.62h-2.60zM396.0 47.6h2.60v2.62h-2.60zM396.0 56.4h2.60v2.62h-2.60zM396.0 73.8h2.60v2.62h-2.60zM398.9 35.9h2.60v2.62h-2.60zM398.9 65.1h2.60v2.62h-2.60zM398.9 79.7h2.60v2.62h-2.60zM401.8 44.7h2.60v2.62h-2.60zM401.8 73.8h2.60v2.62h-2.60zM401.8 97.2h2.60v2.62h-2.60zM404.8 44.7h2.60v2.62h-2.60zM404.8 47.6h2.60v2.62h-2.60zM404.8 91.3h2.60v2.62h-2.60zM404.8 100.1h2.60v2.62h-2.60zM404.8 103.0h2.60v2.62h-2.60zM413.4 91.3h2.60v2.62h-2.60zM413.4 108.8h2.60v2.62h-2.60zM416.3 53.4h2.60v2.62h-2.60zM416.3 59.3h2.60v2.62h-2.60zM416.3 65.1h2.60v2.62h-2.60zM416.3 82.6h2.60v2.62h-2.60zM419.2 85.5h2.60v2.62h-2.60zM422.1 70.9h2.60v2.62h-2.60zM422.1 100.1h2.60v2.62h-2.60zM425.0 62.2h2.60v2.62h-2.60zM425.0 88.4h2.60v2.62h-2.60zM427.9 65.1h2.60v2.62h-2.60zM427.9 85.5h2.60v2.62h-2.60zM430.8 44.7h2.60v2.62h-2.60zM430.8 73.8h2.60v2.62h-2.60zM430.8 88.4h2.60v2.62h-2.60zM430.8 91.3h2.60v2.62h-2.60zM433.8 91.3h2.60v2.62h-2.60zM436.6 59.3h2.60v2.62h-2.60zM436.6 68.0h2.60v2.62h-2.60zM436.6 85.5h2.60v2.62h-2.60zM436.6 100.1h2.60v2.62h-2.60zM439.5 97.2h2.60v2.62h-2.60zM439.5 100.1h2.60v2.62h-2.60zM442.4 56.4h2.60v2.62h-2.60zM442.4 105.9h2.60v2.62h-2.60zM445.3 35.9h2.60v2.62h-2.60zM445.3 91.3h2.60v2.62h-2.60zM445.3 94.3h2.60v2.62h-2.60zM445.3 108.8h2.60v2.62h-2.60zM448.2 41.8h2.60v2.62h-2.60zM448.2 76.8h2.60v2.62h-2.60zM448.2 82.6h2.60v2.62h-2.60zM451.1 73.8h2.60v2.62h-2.60zM451.1 85.5h2.60v2.62h-2.60zM454.0 59.3h2.60v2.62h-2.60zM454.0 68.0h2.60v2.62h-2.60zM454.0 82.6h2.60v2.62h-2.60zM454.0 88.4h2.60v2.62h-2.60zM454.0 91.3h2.60v2.62h-2.60zM456.9 47.6h2.60v2.62h-2.60zM456.9 68.0h2.60v2.62h-2.60zM459.8 62.2h2.60v2.62h-2.60zM459.8 85.5h2.60v2.62h-2.60zM462.8 50.5h2.60v2.62h-2.60zM462.8 79.7h2.60v2.62h-2.60zM465.6 70.9h2.60v2.62h-2.60zM465.6 73.8h2.60v2.62h-2.60zM465.6 108.8h2.60v2.62h-2.60zM468.5 73.8h2.60v2.62h-2.60zM474.3 59.3h2.60v2.62h-2.60zM474.3 62.2h2.60v2.62h-2.60zM474.3 68.0h2.60v2.62h-2.60zM474.3 91.3h2.60v2.62h-2.60zM474.3 97.2h2.60v2.62h-2.60zM477.2 38.9h2.60v2.62h-2.60zM477.2 47.6h2.60v2.62h-2.60zM477.2 100.1h2.60v2.62h-2.60z"/><path fill="#646a0e" d="M294.5 47.6h2.60v2.62h-2.60zM294.5 50.5h2.60v2.62h-2.60zM294.5 59.3h2.60v2.62h-2.60zM294.5 65.1h2.60v2.62h-2.60zM294.5 91.3h2.60v2.62h-2.60zM297.4 41.8h2.60v2.62h-2.60zM297.4 65.1h2.60v2.62h-2.60zM297.4 108.8h2.60v2.62h-2.60zM300.3 35.9h2.60v2.62h-2.60zM300.3 91.3h2.60v2.62h-2.60zM300.3 94.3h2.60v2.62h-2.60zM300.3 103.0h2.60v2.62h-2.60zM303.2 38.9h2.60v2.62h-2.60zM303.2 73.8h2.60v2.62h-2.60zM303.2 76.8h2.60v2.62h-2.60zM306.1 53.4h2.60v2.62h-2.60zM306.1 59.3h2.60v2.62h-2.60zM306.1 68.0h2.60v2.62h-2.60zM306.1 91.3h2.60v2.62h-2.60zM306.1 108.8h2.60v2.62h-2.60zM309.0 38.9h2.60v2.62h-2.60zM309.0 41.8h2.60v2.62h-2.60zM309.0 44.7h2.60v2.62h-2.60zM311.9 68.0h2.60v2.62h-2.60zM311.9 76.8h2.60v2.62h-2.60zM311.9 79.7h2.60v2.62h-2.60zM311.9 88.4h2.60v2.62h-2.60zM311.9 97.2h2.60v2.62h-2.60zM314.8 41.8h2.60v2.62h-2.60zM314.8 70.9h2.60v2.62h-2.60zM314.8 94.3h2.60v2.62h-2.60zM317.7 76.8h2.60v2.62h-2.60zM317.7 85.5h2.60v2.62h-2.60zM317.7 88.4h2.60v2.62h-2.60zM317.7 97.2h2.60v2.62h-2.60zM320.6 47.6h2.60v2.62h-2.60zM320.6 56.4h2.60v2.62h-2.60zM320.6 65.1h2.60v2.62h-2.60zM320.6 76.8h2.60v2.62h-2.60zM320.6 82.6h2.60v2.62h-2.60zM323.5 59.3h2.60v2.62h-2.60zM323.5 70.9h2.60v2.62h-2.60zM323.5 108.8h2.60v2.62h-2.60zM326.4 50.5h2.60v2.62h-2.60zM326.4 59.3h2.60v2.62h-2.60zM326.4 76.8h2.60v2.62h-2.60zM329.3 35.9h2.60v2.62h-2.60zM329.3 50.5h2.60v2.62h-2.60zM329.3 53.4h2.60v2.62h-2.60zM329.3 56.4h2.60v2.62h-2.60zM329.3 68.0h2.60v2.62h-2.60zM329.3 76.8h2.60v2.62h-2.60zM329.3 88.4h2.60v2.62h-2.60zM332.2 68.0h2.60v2.62h-2.60zM332.2 70.9h2.60v2.62h-2.60zM332.2 76.8h2.60v2.62h-2.60zM332.2 79.7h2.60v2.62h-2.60zM332.2 97.2h2.60v2.62h-2.60zM335.1 44.7h2.60v2.62h-2.60zM335.1 108.8h2.60v2.62h-2.60zM338.0 44.7h2.60v2.62h-2.60zM338.0 76.8h2.60v2.62h-2.60zM338.0 88.4h2.60v2.62h-2.60zM338.0 108.8h2.60v2.62h-2.60zM340.9 85.5h2.60v2.62h-2.60zM340.9 105.9h2.60v2.62h-2.60zM340.9 108.8h2.60v2.62h-2.60zM343.8 38.9h2.60v2.62h-2.60zM343.8 59.3h2.60v2.62h-2.60zM343.8 65.1h2.60v2.62h-2.60zM343.8 73.8h2.60v2.62h-2.60zM343.8 82.6h2.60v2.62h-2.60zM343.8 91.3h2.60v2.62h-2.60zM343.8 94.3h2.60v2.62h-2.60zM343.8 97.2h2.60v2.62h-2.60zM346.7 44.7h2.60v2.62h-2.60zM346.7 59.3h2.60v2.62h-2.60zM346.7 88.4h2.60v2.62h-2.60zM346.7 108.8h2.60v2.62h-2.60zM349.6 50.5h2.60v2.62h-2.60zM349.6 73.8h2.60v2.62h-2.60zM349.6 76.8h2.60v2.62h-2.60zM349.6 85.5h2.60v2.62h-2.60zM349.6 103.0h2.60v2.62h-2.60zM349.6 105.9h2.60v2.62h-2.60zM349.6 108.8h2.60v2.62h-2.60zM352.5 85.5h2.60v2.62h-2.60zM352.5 91.3h2.60v2.62h-2.60zM352.5 97.2h2.60v2.62h-2.60zM355.4 68.0h2.60v2.62h-2.60zM355.4 94.3h2.60v2.62h-2.60zM358.3 38.9h2.60v2.62h-2.60zM358.3 59.3h2.60v2.62h-2.60zM358.3 68.0h2.60v2.62h-2.60zM361.2 35.9h2.60v2.62h-2.60zM361.2 38.9h2.60v2.62h-2.60zM361.2 59.3h2.60v2.62h-2.60zM361.2 94.3h2.60v2.62h-2.60zM361.2 100.1h2.60v2.62h-2.60zM361.2 108.8h2.60v2.62h-2.60zM364.1 38.9h2.60v2.62h-2.60zM364.1 56.4h2.60v2.62h-2.60zM364.1 100.1h2.60v2.62h-2.60zM364.1 105.9h2.60v2.62h-2.60zM367.0 44.7h2.60v2.62h-2.60zM367.0 76.8h2.60v2.62h-2.60zM367.0 97.2h2.60v2.62h-2.60zM369.9 50.5h2.60v2.62h-2.60zM372.8 82.6h2.60v2.62h-2.60zM372.8 88.4h2.60v2.62h-2.60zM372.8 97.2h2.60v2.62h-2.60zM375.8 38.9h2.60v2.62h-2.60zM375.8 41.8h2.60v2.62h-2.60zM375.8 70.9h2.60v2.62h-2.60zM375.8 73.8h2.60v2.62h-2.60zM378.6 44.7h2.60v2.62h-2.60zM378.6 47.6h2.60v2.62h-2.60zM378.6 62.2h2.60v2.62h-2.60zM378.6 76.8h2.60v2.62h-2.60zM378.6 79.7h2.60v2.62h-2.60zM381.5 76.8h2.60v2.62h-2.60zM381.5 82.6h2.60v2.62h-2.60zM381.5 85.5h2.60v2.62h-2.60zM384.4 38.9h2.60v2.62h-2.60zM384.4 50.5h2.60v2.62h-2.60zM384.4 53.4h2.60v2.62h-2.60zM384.4 85.5h2.60v2.62h-2.60zM384.4 94.3h2.60v2.62h-2.60zM384.4 97.2h2.60v2.62h-2.60zM387.3 73.8h2.60v2.62h-2.60zM387.3 103.0h2.60v2.62h-2.60zM393.1 68.0h2.60v2.62h-2.60zM393.1 76.8h2.60v2.62h-2.60zM393.1 88.4h2.60v2.62h-2.60zM396.0 79.7h2.60v2.62h-2.60zM396.0 91.3h2.60v2.62h-2.60zM396.0 94.3h2.60v2.62h-2.60zM396.0 108.8h2.60v2.62h-2.60zM398.9 53.4h2.60v2.62h-2.60zM398.9 62.2h2.60v2.62h-2.60zM398.9 76.8h2.60v2.62h-2.60zM398.9 88.4h2.60v2.62h-2.60zM398.9 100.1h2.60v2.62h-2.60zM398.9 103.0h2.60v2.62h-2.60zM401.8 38.9h2.60v2.62h-2.60zM401.8 41.8h2.60v2.62h-2.60zM404.8 50.5h2.60v2.62h-2.60zM404.8 59.3h2.60v2.62h-2.60zM404.8 68.0h2.60v2.62h-2.60zM404.8 82.6h2.60v2.62h-2.60zM404.8 88.4h2.60v2.62h-2.60zM407.6 53.4h2.60v2.62h-2.60zM407.6 88.4h2.60v2.62h-2.60zM410.5 47.6h2.60v2.62h-2.60zM410.5 53.4h2.60v2.62h-2.60zM410.5 65.1h2.60v2.62h-2.60zM410.5 85.5h2.60v2.62h-2.60zM413.4 44.7h2.60v2.62h-2.60zM413.4 73.8h2.60v2.62h-2.60zM413.4 76.8h2.60v2.62h-2.60zM413.4 105.9h2.60v2.62h-2.60zM416.3 35.9h2.60v2.62h-2.60zM416.3 94.3h2.60v2.62h-2.60zM416.3 97.2h2.60v2.62h-2.60zM422.1 105.9h2.60v2.62h-2.60zM425.0 38.9h2.60v2.62h-2.60zM425.0 105.9h2.60v2.62h-2.60zM430.8 59.3h2.60v2.62h-2.60zM433.8 88.4h2.60v2.62h-2.60zM433.8 97.2h2.60v2.62h-2.60zM433.8 100.1h2.60v2.62h-2.60zM433.8 103.0h2.60v2.62h-2.60zM433.8 105.9h2.60v2.62h-2.60zM436.6 62.2h2.60v2.62h-2.60zM442.4 41.8h2.60v2.62h-2.60zM442.4 68.0h2.60v2.62h-2.60zM442.4 73.8h2.60v2.62h-2.60zM445.3 44.7h2.60v2.62h-2.60zM445.3 59.3h2.60v2.62h-2.60zM445.3 100.1h2.60v2.62h-2.60zM462.8 65.1h2.60v2.62h-2.60zM465.6 53.4h2.60v2.62h-2.60zM465.6 82.6h2.60v2.62h-2.60zM468.5 91.3h2.60v2.62h-2.60zM468.5 97.2h2.60v2.62h-2.60zM474.3 41.8h2.60v2.62h-2.60zM474.3 70.9h2.60v2.62h-2.60zM474.3 85.5h2.60v2.62h-2.60z"/><path fill="#2a16b9" d="M294.5 79.7h2.60v2.62h-2.60zM294.5 82.6h2.60v2.62h-2.60zM294.5 103.0h2.60v2.62h-2.60zM294.5 105.9h2.60v2.62h-2.60zM300.3 73.8h2.60v2.62h-2.60zM300.3 85.5h2.60v2.62h-2.60zM300.3 105.9h2.60v2.62h-2.60zM303.2 41.8h2.60v2.62h-2.60zM303.2 79.7h2.60v2.62h-2.60zM306.1 35.9h2.60v2.62h-2.60zM306.1 38.9h2.60v2.62h-2.60zM306.1 47.6h2.60v2.62h-2.60zM309.0 53.4h2.60v2.62h-2.60zM309.0 59.3h2.60v2.62h-2.60zM309.0 70.9h2.60v2.62h-2.60zM309.0 82.6h2.60v2.62h-2.60zM309.0 85.5h2.60v2.62h-2.60zM309.0 105.9h2.60v2.62h-2.60zM314.8 100.1h2.60v2.62h-2.60zM317.7 70.9h2.60v2.62h-2.60zM320.6 53.4h2.60v2.62h-2.60zM323.5 82.6h2.60v2.62h-2.60zM323.5 85.5h2.60v2.62h-2.60zM323.5 100.1h2.60v2.62h-2.60zM326.4 53.4h2.60v2.62h-2.60zM326.4 70.9h2.60v2.62h-2.60zM326.4 85.5h2.60v2.62h-2.60zM326.4 105.9h2.60v2.62h-2.60zM329.3 41.8h2.60v2.62h-2.60zM329.3 62.2h2.60v2.62h-2.60zM329.3 100.1h2.60v2.62h-2.60zM329.3 108.8h2.60v2.62h-2.60zM335.1 97.2h2.60v2.62h-2.60zM338.0 56.4h2.60v2.62h-2.60zM338.0 70.9h2.60v2.62h-2.60zM338.0 73.8h2.60v2.62h-2.60zM343.8 41.8h2.60v2.62h-2.60zM343.8 85.5h2.60v2.62h-2.60zM346.7 100.1h2.60v2.62h-2.60zM352.5 100.1h2.60v2.62h-2.60zM355.4 35.9h2.60v2.62h-2.60zM355.4 44.7h2.60v2.62h-2.60zM355.4 73.8h2.60v2.62h-2.60zM358.3 41.8h2.60v2.62h-2.60zM358.3 88.4h2.60v2.62h-2.60zM361.2 44.7h2.60v2.62h-2.60zM364.1 41.8h2.60v2.62h-2.60zM367.0 41.8h2.60v2.62h-2.60zM367.0 82.6h2.60v2.62h-2.60zM367.0 105.9h2.60v2.62h-2.60zM369.9 85.5h2.60v2.62h-2.60zM372.8 35.9h2.60v2.62h-2.60zM372.8 65.1h2.60v2.62h-2.60zM375.8 44.7h2.60v2.62h-2.60zM375.8 88.4h2.60v2.62h-2.60zM381.5 35.9h2.60v2.62h-2.60zM381.5 44.7h2.60v2.62h-2.60zM384.4 100.1h2.60v2.62h-2.60zM384.4 103.0h2.60v2.62h-2.60zM384.4 105.9h2.60v2.62h-2.60zM387.3 38.9h2.60v2.62h-2.60zM387.3 59.3h2.60v2.62h-2.60zM387.3 76.8h2.60v2.62h-2.60zM387.3 79.7h2.60v2.62h-2.60zM387.3 100.1h2.60v2.62h-2.60zM390.2 44.7h2.60v2.62h-2.60zM393.1 35.9h2.60v2.62h-2.60zM393.1 56.4h2.60v2.62h-2.60zM393.1 70.9h2.60v2.62h-2.60zM393.1 79.7h2.60v2.62h-2.60zM393.1 103.0h2.60v2.62h-2.60zM393.1 108.8h2.60v2.62h-2.60zM396.0 76.8h2.60v2.62h-2.60zM396.0 103.0h2.60v2.62h-2.60zM398.9 105.9h2.60v2.62h-2.60zM404.8 41.8h2.60v2.62h-2.60zM404.8 56.4h2.60v2.62h-2.60zM404.8 73.8h2.60v2.62h-2.60zM407.6 47.6h2.60v2.62h-2.60zM407.6 59.3h2.60v2.62h-2.60zM407.6 62.2h2.60v2.62h-2.60zM407.6 79.7h2.60v2.62h-2.60zM407.6 91.3h2.60v2.62h-2.60zM407.6 100.1h2.60v2.62h-2.60zM407.6 103.0h2.60v2.62h-2.60zM410.5 62.2h2.60v2.62h-2.60zM410.5 73.8h2.60v2.62h-2.60zM416.3 38.9h2.60v2.62h-2.60zM419.2 35.9h2.60v2.62h-2.60zM419.2 47.6h2.60v2.62h-2.60zM419.2 50.5h2.60v2.62h-2.60zM419.2 59.3h2.60v2.62h-2.60zM422.1 108.8h2.60v2.62h-2.60zM425.0 35.9h2.60v2.62h-2.60zM425.0 53.4h2.60v2.62h-2.60zM425.0 65.1h2.60v2.62h-2.60zM425.0 68.0h2.60v2.62h-2.60zM427.9 38.9h2.60v2.62h-2.60zM427.9 59.3h2.60v2.62h-2.60zM427.9 70.9h2.60v2.62h-2.60zM427.9 79.7h2.60v2.62h-2.60zM427.9 91.3h2.60v2.62h-2.60zM430.8 62.2h2.60v2.62h-2.60zM430.8 65.1h2.60v2.62h-2.60zM430.8 70.9h2.60v2.62h-2.60zM430.8 79.7h2.60v2.62h-2.60zM430.8 82.6h2.60v2.62h-2.60zM433.8 35.9h2.60v2.62h-2.60zM433.8 44.7h2.60v2.62h-2.60zM433.8 50.5h2.60v2.62h-2.60zM433.8 70.9h2.60v2.62h-2.60zM433.8 76.8h2.60v2.62h-2.60zM433.8 108.8h2.60v2.62h-2.60zM436.6 44.7h2.60v2.62h-2.60zM436.6 79.7h2.60v2.62h-2.60zM436.6 82.6h2.60v2.62h-2.60zM439.5 44.7h2.60v2.62h-2.60zM439.5 70.9h2.60v2.62h-2.60zM439.5 82.6h2.60v2.62h-2.60zM439.5 85.5h2.60v2.62h-2.60zM442.4 35.9h2.60v2.62h-2.60zM442.4 100.1h2.60v2.62h-2.60zM445.3 41.8h2.60v2.62h-2.60zM445.3 65.1h2.60v2.62h-2.60zM445.3 79.7h2.60v2.62h-2.60zM448.2 53.4h2.60v2.62h-2.60zM448.2 68.0h2.60v2.62h-2.60zM448.2 73.8h2.60v2.62h-2.60zM448.2 94.3h2.60v2.62h-2.60zM448.2 103.0h2.60v2.62h-2.60zM451.1 65.1h2.60v2.62h-2.60zM451.1 68.0h2.60v2.62h-2.60zM451.1 70.9h2.60v2.62h-2.60zM451.1 76.8h2.60v2.62h-2.60zM451.1 79.7h2.60v2.62h-2.60zM451.1 108.8h2.60v2.62h-2.60zM454.0 53.4h2.60v2.62h-2.60zM454.0 56.4h2.60v2.62h-2.60zM454.0 70.9h2.60v2.62h-2.60zM454.0 76.8h2.60v2.62h-2.60zM454.0 94.3h2.60v2.62h-2.60zM456.9 38.9h2.60v2.62h-2.60zM456.9 62.2h2.60v2.62h-2.60zM459.8 44.7h2.60v2.62h-2.60zM459.8 53.4h2.60v2.62h-2.60zM459.8 65.1h2.60v2.62h-2.60zM459.8 91.3h2.60v2.62h-2.60zM462.8 35.9h2.60v2.62h-2.60zM462.8 38.9h2.60v2.62h-2.60zM462.8 44.7h2.60v2.62h-2.60zM462.8 70.9h2.60v2.62h-2.60zM462.8 76.8h2.60v2.62h-2.60zM462.8 82.6h2.60v2.62h-2.60zM462.8 97.2h2.60v2.62h-2.60zM462.8 100.1h2.60v2.62h-2.60zM465.6 44.7h2.60v2.62h-2.60zM465.6 85.5h2.60v2.62h-2.60zM465.6 88.4h2.60v2.62h-2.60zM468.5 56.4h2.60v2.62h-2.60zM468.5 70.9h2.60v2.62h-2.60zM468.5 79.7h2.60v2.62h-2.60zM468.5 85.5h2.60v2.62h-2.60zM468.5 94.3h2.60v2.62h-2.60zM468.5 108.8h2.60v2.62h-2.60zM471.4 38.9h2.60v2.62h-2.60zM471.4 62.2h2.60v2.62h-2.60zM471.4 100.1h2.60v2.62h-2.60zM474.3 38.9h2.60v2.62h-2.60zM474.3 94.3h2.60v2.62h-2.60zM477.2 65.1h2.60v2.62h-2.60zM477.2 76.8h2.60v2.62h-2.60zM477.2 79.7h2.60v2.62h-2.60zM477.2 88.4h2.60v2.62h-2.60zM477.2 97.2h2.60v2.62h-2.60zM477.2 108.8h2.60v2.62h-2.60z"/><path fill="#e8c800" d="M294.5 88.4h2.60v2.62h-2.60zM294.5 94.3h2.60v2.62h-2.60zM297.4 47.6h2.60v2.62h-2.60zM297.4 50.5h2.60v2.62h-2.60zM297.4 56.4h2.60v2.62h-2.60zM297.4 59.3h2.60v2.62h-2.60zM297.4 91.3h2.60v2.62h-2.60zM297.4 94.3h2.60v2.62h-2.60zM300.3 44.7h2.60v2.62h-2.60zM300.3 47.6h2.60v2.62h-2.60zM300.3 62.2h2.60v2.62h-2.60zM300.3 68.0h2.60v2.62h-2.60zM300.3 79.7h2.60v2.62h-2.60zM300.3 88.4h2.60v2.62h-2.60zM300.3 97.2h2.60v2.62h-2.60zM303.2 50.5h2.60v2.62h-2.60zM303.2 59.3h2.60v2.62h-2.60zM306.1 41.8h2.60v2.62h-2.60zM306.1 50.5h2.60v2.62h-2.60zM306.1 56.4h2.60v2.62h-2.60zM306.1 79.7h2.60v2.62h-2.60zM306.1 103.0h2.60v2.62h-2.60zM306.1 105.9h2.60v2.62h-2.60zM309.0 94.3h2.60v2.62h-2.60zM311.9 35.9h2.60v2.62h-2.60zM311.9 38.9h2.60v2.62h-2.60zM311.9 56.4h2.60v2.62h-2.60zM311.9 59.3h2.60v2.62h-2.60zM311.9 62.2h2.60v2.62h-2.60zM311.9 65.1h2.60v2.62h-2.60zM311.9 70.9h2.60v2.62h-2.60zM311.9 82.6h2.60v2.62h-2.60zM311.9 91.3h2.60v2.62h-2.60zM311.9 94.3h2.60v2.62h-2.60zM311.9 103.0h2.60v2.62h-2.60zM311.9 105.9h2.60v2.62h-2.60zM311.9 108.8h2.60v2.62h-2.60zM314.8 38.9h2.60v2.62h-2.60zM314.8 47.6h2.60v2.62h-2.60zM314.8 50.5h2.60v2.62h-2.60zM314.8 56.4h2.60v2.62h-2.60zM314.8 59.3h2.60v2.62h-2.60zM314.8 68.0h2.60v2.62h-2.60zM314.8 88.4h2.60v2.62h-2.60zM314.8 108.8h2.60v2.62h-2.60zM317.7 38.9h2.60v2.62h-2.60zM317.7 41.8h2.60v2.62h-2.60zM317.7 47.6h2.60v2.62h-2.60zM317.7 50.5h2.60v2.62h-2.60zM317.7 56.4h2.60v2.62h-2.60zM317.7 59.3h2.60v2.62h-2.60zM317.7 65.1h2.60v2.62h-2.60zM317.7 68.0h2.60v2.62h-2.60zM317.7 73.8h2.60v2.62h-2.60zM317.7 91.3h2.60v2.62h-2.60zM317.7 94.3h2.60v2.62h-2.60zM317.7 103.0h2.60v2.62h-2.60zM317.7 105.9h2.60v2.62h-2.60zM317.7 108.8h2.60v2.62h-2.60zM320.6 44.7h2.60v2.62h-2.60zM320.6 68.0h2.60v2.62h-2.60zM320.6 79.7h2.60v2.62h-2.60zM320.6 88.4h2.60v2.62h-2.60zM320.6 94.3h2.60v2.62h-2.60zM323.5 50.5h2.60v2.62h-2.60zM323.5 53.4h2.60v2.62h-2.60zM323.5 56.4h2.60v2.62h-2.60zM323.5 73.8h2.60v2.62h-2.60zM323.5 76.8h2.60v2.62h-2.60zM323.5 79.7h2.60v2.62h-2.60zM323.5 88.4h2.60v2.62h-2.60zM323.5 97.2h2.60v2.62h-2.60zM323.5 105.9h2.60v2.62h-2.60zM326.4 35.9h2.60v2.62h-2.60zM326.4 38.9h2.60v2.62h-2.60zM326.4 41.8h2.60v2.62h-2.60zM326.4 44.7h2.60v2.62h-2.60zM326.4 62.2h2.60v2.62h-2.60zM326.4 68.0h2.60v2.62h-2.60zM326.4 79.7h2.60v2.62h-2.60zM326.4 94.3h2.60v2.62h-2.60zM326.4 97.2h2.60v2.62h-2.60zM329.3 44.7h2.60v2.62h-2.60zM329.3 47.6h2.60v2.62h-2.60zM329.3 59.3h2.60v2.62h-2.60zM329.3 70.9h2.60v2.62h-2.60zM329.3 91.3h2.60v2.62h-2.60zM332.2 41.8h2.60v2.62h-2.60zM332.2 59.3h2.60v2.62h-2.60zM332.2 108.8h2.60v2.62h-2.60zM335.1 50.5h2.60v2.62h-2.60zM335.1 56.4h2.60v2.62h-2.60zM335.1 59.3h2.60v2.62h-2.60zM335.1 68.0h2.60v2.62h-2.60zM335.1 82.6h2.60v2.62h-2.60zM335.1 91.3h2.60v2.62h-2.60zM338.0 38.9h2.60v2.62h-2.60zM338.0 50.5h2.60v2.62h-2.60zM338.0 59.3h2.60v2.62h-2.60zM338.0 82.6h2.60v2.62h-2.60zM340.9 35.9h2.60v2.62h-2.60zM340.9 41.8h2.60v2.62h-2.60zM340.9 47.6h2.60v2.62h-2.60zM340.9 50.5h2.60v2.62h-2.60zM340.9 56.4h2.60v2.62h-2.60zM340.9 59.3h2.60v2.62h-2.60zM340.9 62.2h2.60v2.62h-2.60zM340.9 68.0h2.60v2.62h-2.60zM340.9 70.9h2.60v2.62h-2.60zM340.9 73.8h2.60v2.62h-2.60zM340.9 76.8h2.60v2.62h-2.60zM340.9 79.7h2.60v2.62h-2.60zM340.9 88.4h2.60v2.62h-2.60zM340.9 91.3h2.60v2.62h-2.60zM340.9 94.3h2.60v2.62h-2.60zM340.9 97.2h2.60v2.62h-2.60zM340.9 100.1h2.60v2.62h-2.60zM343.8 35.9h2.60v2.62h-2.60zM343.8 50.5h2.60v2.62h-2.60zM343.8 62.2h2.60v2.62h-2.60zM343.8 76.8h2.60v2.62h-2.60zM343.8 79.7h2.60v2.62h-2.60zM343.8 88.4h2.60v2.62h-2.60zM343.8 108.8h2.60v2.62h-2.60zM346.7 50.5h2.60v2.62h-2.60zM346.7 56.4h2.60v2.62h-2.60zM346.7 65.1h2.60v2.62h-2.60zM346.7 79.7h2.60v2.62h-2.60zM346.7 97.2h2.60v2.62h-2.60zM349.6 35.9h2.60v2.62h-2.60zM349.6 38.9h2.60v2.62h-2.60zM349.6 41.8h2.60v2.62h-2.60zM349.6 44.7h2.60v2.62h-2.60zM349.6 47.6h2.60v2.62h-2.60zM349.6 53.4h2.60v2.62h-2.60zM349.6 56.4h2.60v2.62h-2.60zM349.6 59.3h2.60v2.62h-2.60zM349.6 62.2h2.60v2.62h-2.60zM349.6 65.1h2.60v2.62h-2.60zM349.6 79.7h2.60v2.62h-2.60zM349.6 82.6h2.60v2.62h-2.60zM349.6 94.3h2.60v2.62h-2.60zM349.6 97.2h2.60v2.62h-2.60zM352.5 35.9h2.60v2.62h-2.60zM352.5 41.8h2.60v2.62h-2.60zM352.5 44.7h2.60v2.62h-2.60zM352.5 47.6h2.60v2.62h-2.60zM352.5 56.4h2.60v2.62h-2.60zM352.5 59.3h2.60v2.62h-2.60zM352.5 76.8h2.60v2.62h-2.60zM352.5 82.6h2.60v2.62h-2.60zM352.5 88.4h2.60v2.62h-2.60zM352.5 108.8h2.60v2.62h-2.60zM355.4 50.5h2.60v2.62h-2.60zM355.4 53.4h2.60v2.62h-2.60zM355.4 59.3h2.60v2.62h-2.60zM355.4 76.8h2.60v2.62h-2.60zM355.4 82.6h2.60v2.62h-2.60zM355.4 88.4h2.60v2.62h-2.60zM358.3 47.6h2.60v2.62h-2.60zM358.3 50.5h2.60v2.62h-2.60zM358.3 56.4h2.60v2.62h-2.60zM358.3 62.2h2.60v2.62h-2.60zM358.3 73.8h2.60v2.62h-2.60zM358.3 76.8h2.60v2.62h-2.60zM358.3 97.2h2.60v2.62h-2.60zM358.3 108.8h2.60v2.62h-2.60zM361.2 53.4h2.60v2.62h-2.60zM361.2 70.9h2.60v2.62h-2.60zM361.2 88.4h2.60v2.62h-2.60zM361.2 91.3h2.60v2.62h-2.60zM364.1 47.6h2.60v2.62h-2.60zM364.1 79.7h2.60v2.62h-2.60zM364.1 88.4h2.60v2.62h-2.60zM364.1 91.3h2.60v2.62h-2.60zM367.0 47.6h2.60v2.62h-2.60zM367.0 56.4h2.60v2.62h-2.60zM367.0 59.3h2.60v2.62h-2.60zM367.0 79.7h2.60v2.62h-2.60zM367.0 94.3h2.60v2.62h-2.60zM367.0 100.1h2.60v2.62h-2.60zM367.0 108.8h2.60v2.62h-2.60zM369.9 41.8h2.60v2.62h-2.60zM369.9 44.7h2.60v2.62h-2.60zM369.9 47.6h2.60v2.62h-2.60zM369.9 53.4h2.60v2.62h-2.60zM369.9 56.4h2.60v2.62h-2.60zM369.9 59.3h2.60v2.62h-2.60zM369.9 62.2h2.60v2.62h-2.60zM369.9 65.1h2.60v2.62h-2.60zM369.9 68.0h2.60v2.62h-2.60zM369.9 70.9h2.60v2.62h-2.60zM369.9 73.8h2.60v2.62h-2.60zM369.9 76.8h2.60v2.62h-2.60zM369.9 82.6h2.60v2.62h-2.60zM369.9 88.4h2.60v2.62h-2.60zM369.9 100.1h2.60v2.62h-2.60zM369.9 103.0h2.60v2.62h-2.60zM369.9 105.9h2.60v2.62h-2.60zM369.9 108.8h2.60v2.62h-2.60zM372.8 38.9h2.60v2.62h-2.60zM372.8 47.6h2.60v2.62h-2.60zM372.8 50.5h2.60v2.62h-2.60zM372.8 59.3h2.60v2.62h-2.60zM372.8 62.2h2.60v2.62h-2.60zM372.8 68.0h2.60v2.62h-2.60zM372.8 76.8h2.60v2.62h-2.60zM372.8 91.3h2.60v2.62h-2.60zM372.8 108.8h2.60v2.62h-2.60zM375.8 50.5h2.60v2.62h-2.60zM375.8 53.4h2.60v2.62h-2.60zM375.8 59.3h2.60v2.62h-2.60zM375.8 68.0h2.60v2.62h-2.60zM375.8 76.8h2.60v2.62h-2.60zM375.8 79.7h2.60v2.62h-2.60zM375.8 82.6h2.60v2.62h-2.60zM375.8 91.3h2.60v2.62h-2.60zM375.8 94.3h2.60v2.62h-2.60zM375.8 97.2h2.60v2.62h-2.60zM378.6 35.9h2.60v2.62h-2.60zM378.6 38.9h2.60v2.62h-2.60zM378.6 50.5h2.60v2.62h-2.60zM378.6 53.4h2.60v2.62h-2.60zM378.6 56.4h2.60v2.62h-2.60zM378.6 65.1h2.60v2.62h-2.60zM378.6 68.0h2.60v2.62h-2.60zM378.6 70.9h2.60v2.62h-2.60zM378.6 85.5h2.60v2.62h-2.60zM378.6 91.3h2.60v2.62h-2.60zM378.6 94.3h2.60v2.62h-2.60zM378.6 105.9h2.60v2.62h-2.60zM378.6 108.8h2.60v2.62h-2.60zM381.5 38.9h2.60v2.62h-2.60zM381.5 41.8h2.60v2.62h-2.60zM381.5 50.5h2.60v2.62h-2.60zM381.5 53.4h2.60v2.62h-2.60zM381.5 59.3h2.60v2.62h-2.60zM381.5 62.2h2.60v2.62h-2.60zM381.5 68.0h2.60v2.62h-2.60zM381.5 70.9h2.60v2.62h-2.60zM381.5 73.8h2.60v2.62h-2.60zM381.5 79.7h2.60v2.62h-2.60zM381.5 88.4h2.60v2.62h-2.60zM381.5 91.3h2.60v2.62h-2.60zM381.5 94.3h2.60v2.62h-2.60zM381.5 97.2h2.60v2.62h-2.60zM381.5 100.1h2.60v2.62h-2.60zM381.5 103.0h2.60v2.62h-2.60zM381.5 105.9h2.60v2.62h-2.60zM384.4 41.8h2.60v2.62h-2.60zM384.4 56.4h2.60v2.62h-2.60zM384.4 59.3h2.60v2.62h-2.60zM384.4 68.0h2.60v2.62h-2.60zM384.4 73.8h2.60v2.62h-2.60zM384.4 79.7h2.60v2.62h-2.60zM384.4 82.6h2.60v2.62h-2.60zM384.4 88.4h2.60v2.62h-2.60zM384.4 108.8h2.60v2.62h-2.60zM387.3 44.7h2.60v2.62h-2.60zM387.3 50.5h2.60v2.62h-2.60zM387.3 65.1h2.60v2.62h-2.60zM387.3 82.6h2.60v2.62h-2.60zM387.3 88.4h2.60v2.62h-2.60zM390.2 38.9h2.60v2.62h-2.60zM390.2 41.8h2.60v2.62h-2.60zM390.2 47.6h2.60v2.62h-2.60zM390.2 50.5h2.60v2.62h-2.60zM390.2 53.4h2.60v2.62h-2.60zM390.2 56.4h2.60v2.62h-2.60zM390.2 59.3h2.60v2.62h-2.60zM390.2 62.2h2.60v2.62h-2.60zM390.2 68.0h2.60v2.62h-2.60zM390.2 73.8h2.60v2.62h-2.60zM390.2 76.8h2.60v2.62h-2.60zM390.2 79.7h2.60v2.62h-2.60zM390.2 88.4h2.60v2.62h-2.60zM390.2 91.3h2.60v2.62h-2.60zM390.2 97.2h2.60v2.62h-2.60zM390.2 100.1h2.60v2.62h-2.60zM390.2 103.0h2.60v2.62h-2.60zM390.2 105.9h2.60v2.62h-2.60zM390.2 108.8h2.60v2.62h-2.60zM393.1 50.5h2.60v2.62h-2.60zM393.1 59.3h2.60v2.62h-2.60zM396.0 59.3h2.60v2.62h-2.60zM396.0 65.1h2.60v2.62h-2.60zM396.0 68.0h2.60v2.62h-2.60zM396.0 82.6h2.60v2.62h-2.60zM396.0 88.4h2.60v2.62h-2.60zM398.9 41.8h2.60v2.62h-2.60zM398.9 47.6h2.60v2.62h-2.60zM398.9 50.5h2.60v2.62h-2.60zM398.9 56.4h2.60v2.62h-2.60zM398.9 59.3h2.60v2.62h-2.60zM398.9 68.0h2.60v2.62h-2.60zM398.9 73.8h2.60v2.62h-2.60zM398.9 82.6h2.60v2.62h-2.60zM398.9 85.5h2.60v2.62h-2.60zM398.9 108.8h2.60v2.62h-2.60zM401.8 35.9h2.60v2.62h-2.60zM401.8 47.6h2.60v2.62h-2.60zM401.8 53.4h2.60v2.62h-2.60zM401.8 56.4h2.60v2.62h-2.60zM401.8 59.3h2.60v2.62h-2.60zM401.8 62.2h2.60v2.62h-2.60zM401.8 65.1h2.60v2.62h-2.60zM401.8 68.0h2.60v2.62h-2.60zM401.8 76.8h2.60v2.62h-2.60zM401.8 79.7h2.60v2.62h-2.60zM401.8 82.6h2.60v2.62h-2.60zM401.8 88.4h2.60v2.62h-2.60zM401.8 91.3h2.60v2.62h-2.60zM401.8 94.3h2.60v2.62h-2.60zM401.8 100.1h2.60v2.62h-2.60zM401.8 103.0h2.60v2.62h-2.60zM401.8 108.8h2.60v2.62h-2.60zM404.8 70.9h2.60v2.62h-2.60zM404.8 76.8h2.60v2.62h-2.60zM404.8 105.9h2.60v2.62h-2.60zM410.5 38.9h2.60v2.62h-2.60zM410.5 50.5h2.60v2.62h-2.60zM410.5 56.4h2.60v2.62h-2.60zM410.5 59.3h2.60v2.62h-2.60zM410.5 68.0h2.60v2.62h-2.60zM410.5 76.8h2.60v2.62h-2.60zM410.5 79.7h2.60v2.62h-2.60zM410.5 82.6h2.60v2.62h-2.60zM410.5 88.4h2.60v2.62h-2.60zM410.5 91.3h2.60v2.62h-2.60zM410.5 100.1h2.60v2.62h-2.60zM410.5 103.0h2.60v2.62h-2.60zM410.5 105.9h2.60v2.62h-2.60zM410.5 108.8h2.60v2.62h-2.60zM413.4 38.9h2.60v2.62h-2.60zM413.4 41.8h2.60v2.62h-2.60zM413.4 47.6h2.60v2.62h-2.60zM413.4 50.5h2.60v2.62h-2.60zM413.4 56.4h2.60v2.62h-2.60zM413.4 65.1h2.60v2.62h-2.60zM413.4 88.4h2.60v2.62h-2.60zM416.3 44.7h2.60v2.62h-2.60zM416.3 76.8h2.60v2.62h-2.60zM416.3 100.1h2.60v2.62h-2.60zM416.3 108.8h2.60v2.62h-2.60zM422.1 76.8h2.60v2.62h-2.60zM425.0 47.6h2.60v2.62h-2.60zM430.8 41.8h2.60v2.62h-2.60zM430.8 85.5h2.60v2.62h-2.60zM430.8 97.2h2.60v2.62h-2.60zM433.8 38.9h2.60v2.62h-2.60zM433.8 85.5h2.60v2.62h-2.60zM442.4 62.2h2.60v2.62h-2.60zM442.4 65.1h2.60v2.62h-2.60zM442.4 76.8h2.60v2.62h-2.60zM442.4 85.5h2.60v2.62h-2.60zM445.3 97.2h2.60v2.62h-2.60zM448.2 62.2h2.60v2.62h-2.60zM454.0 79.7h2.60v2.62h-2.60zM454.0 85.5h2.60v2.62h-2.60zM465.6 100.1h2.60v2.62h-2.60zM468.5 65.1h2.60v2.62h-2.60zM474.3 35.9h2.60v2.62h-2.60zM474.3 47.6h2.60v2.62h-2.60zM474.3 76.8h2.60v2.62h-2.60zM474.3 100.1h2.60v2.62h-2.60zM474.3 108.8h2.60v2.62h-2.60z"/></g>
<line x1="290.40" y1="35.60" x2="290.40" y2="111.20" stroke="#000" stroke-width="1.3" />
<text x="274.40" y="126.00" font-size="7.2" textLength="105.00" lengthAdjust="spacingAndGlyphs" transform="rotate(-90 274.40 126.00)">ROSS AML WITH <tspan font-style="italic">CBFB MYH11</tspan></text>
<text x="283.60" y="86.60" font-size="7.2" textLength="26.10" lengthAdjust="spacingAndGlyphs" transform="rotate(-90 283.60 86.60)">FUSION</text>
<rect x="484.70" y="25.20" width="4.50" height="4.30" fill="#0a2aa2"/>
<rect x="484.70" y="33.10" width="4.50" height="4.00" fill="#c00008"/>
<text x="491.90" y="29.50" font-size="6.6" textLength="23.20" lengthAdjust="spacingAndGlyphs">E5-E33</text>
<text x="491.90" y="37.10" font-size="6.6" textLength="18.00" lengthAdjust="spacingAndGlyphs">Other</text>
<rect x="484.70" y="48.00" width="4.50" height="4.05" fill="#e8c800"/>
<rect x="484.70" y="52.00" width="4.50" height="4.05" fill="#646a0e"/>
<rect x="484.70" y="56.00" width="4.50" height="4.05" fill="#302404"/>
<rect x="484.70" y="60.00" width="4.50" height="4.05" fill="#000000"/>
<rect x="484.70" y="64.00" width="4.50" height="4.05" fill="#060650"/>
<rect x="484.70" y="68.00" width="4.50" height="4.05" fill="#2a16b9"/>
<rect x="484.70" y="72.00" width="4.50" height="4.05" fill="#681af5"/>
<text x="491.20" y="52.30" font-size="6.8" textLength="9.00" lengthAdjust="spacingAndGlyphs">+3</text>
<text x="491.20" y="76.10" font-size="6.8" textLength="6.50" lengthAdjust="spacingAndGlyphs">-3</text>
<rect x="38.20" y="387.50" width="93.30" height="6.20" fill="#0a2aa2"/>
<rect x="131.50" y="387.50" width="45.30" height="6.20" fill="#c00008"/>
<rect x="38.20" y="397.20" width="138.60" height="214.40" fill="#000"/>
<g><path fill="#e8c800" d="M38.4 397.4h1.70v1.70h-1.70zM38.4 403.7h1.70v1.70h-1.70zM38.4 405.8h1.70v1.70h-1.70zM38.4 416.3h1.70v1.70h-1.70zM38.4 431.0h1.70v1.70h-1.70zM38.4 433.1h1.70v1.70h-1.70zM38.4 437.3h1.70v1.70h-1.70zM38.4 441.5h1.70v1.70h-1.70zM38.4 460.5h1.70v1.70h-1.70zM38.4 468.9h1.70v1.70h-1.70zM38.4 477.3h1.70v1.70h-1.70zM38.4 483.6h1.70v1.70h-1.70zM38.4 485.7h1.70v1.70h-1.70zM38.4 487.8h1.70v1.70h-1.70zM38.4 494.1h1.70v1.70h-1.70zM38.4 504.6h1.70v1.70h-1.70zM38.4 506.7h1.70v1.70h-1.70zM38.4 508.8h1.70v1.70h-1.70zM38.4 513.0h1.70v1.70h-1.70zM38.4 515.1h1.70v1.70h-1.70zM38.4 521.4h1.70v1.70h-1.70zM38.4 542.4h1.70v1.70h-1.70zM38.4 555.0h1.70v1.70h-1.70zM38.4 567.7h1.70v1.70h-1.70zM38.4 569.8h1.70v1.70h-1.70zM38.4 574.0h1.70v1.70h-1.70zM38.4 578.2h1.70v1.70h-1.70zM38.4 597.1h1.70v1.70h-1.70zM40.5 399.5h1.70v1.70h-1.70zM40.5 403.7h1.70v1.70h-1.70zM40.5 405.8h1.70v1.70h-1.70zM40.5 407.9h1.70v1.70h-1.70zM40.5 410.0h1.70v1.70h-1.70zM40.5 412.1h1.70v1.70h-1.70zM40.5 416.3h1.70v1.70h-1.70zM40.5 424.7h1.70v1.70h-1.70zM40.5 426.8h1.70v1.70h-1.70zM40.5 439.4h1.70v1.70h-1.70zM40.5 441.5h1.70v1.70h-1.70zM40.5 445.7h1.70v1.70h-1.70zM40.5 449.9h1.70v1.70h-1.70zM40.5 464.7h1.70v1.70h-1.70zM40.5 466.8h1.70v1.70h-1.70zM40.5 468.9h1.70v1.70h-1.70zM40.5 471.0h1.70v1.70h-1.70zM40.5 473.1h1.70v1.70h-1.70zM40.5 477.3h1.70v1.70h-1.70zM40.5 485.7h1.70v1.70h-1.70zM40.5 489.9h1.70v1.70h-1.70zM40.5 492.0h1.70v1.70h-1.70zM40.5 496.2h1.70v1.70h-1.70zM40.5 500.4h1.70v1.70h-1.70zM40.5 502.5h1.70v1.70h-1.70zM40.5 504.6h1.70v1.70h-1.70zM40.5 506.7h1.70v1.70h-1.70zM40.5 510.9h1.70v1.70h-1.70zM40.5 513.0h1.70v1.70h-1.70zM40.5 515.1h1.70v1.70h-1.70zM40.5 519.3h1.70v1.70h-1.70zM40.5 523.5h1.70v1.70h-1.70zM40.5 534.0h1.70v1.70h-1.70zM40.5 538.2h1.70v1.70h-1.70zM40.5 552.9h1.70v1.70h-1.70zM40.5 555.0h1.70v1.70h-1.70zM40.5 571.9h1.70v1.70h-1.70zM40.5 578.2h1.70v1.70h-1.70zM40.5 582.4h1.70v1.70h-1.70zM40.5 603.4h1.70v1.70h-1.70zM40.5 607.6h1.70v1.70h-1.70zM42.6 397.4h1.70v1.70h-1.70zM42.6 401.6h1.70v1.70h-1.70zM42.6 403.7h1.70v1.70h-1.70zM42.6 407.9h1.70v1.70h-1.70zM42.6 414.2h1.70v1.70h-1.70zM42.6 416.3h1.70v1.70h-1.70zM42.6 418.4h1.70v1.70h-1.70zM42.6 420.5h1.70v1.70h-1.70zM42.6 426.8h1.70v1.70h-1.70zM42.6 431.0h1.70v1.70h-1.70zM42.6 433.1h1.70v1.70h-1.70zM42.6 435.2h1.70v1.70h-1.70zM42.6 437.3h1.70v1.70h-1.70zM42.6 443.6h1.70v1.70h-1.70zM42.6 445.7h1.70v1.70h-1.70zM42.6 447.8h1.70v1.70h-1.70zM42.6 449.9h1.70v1.70h-1.70zM42.6 454.2h1.70v1.70h-1.70zM42.6 464.7h1.70v1.70h-1.70zM42.6 468.9h1.70v1.70h-1.70zM42.6 471.0h1.70v1.70h-1.70zM42.6 473.1h1.70v1.70h-1.70zM42.6 479.4h1.70v1.70h-1.70zM42.6 481.5h1.70v1.70h-1.70zM42.6 483.6h1.70v1.70h-1.70zM42.6 485.7h1.70v1.70h-1.70zM42.6 487.8h1.70v1.70h-1.70zM42.6 489.9h1.70v1.70h-1.70zM42.6 492.0h1.70v1.70h-1.70zM42.6 494.1h1.70v1.70h-1.70zM42.6 496.2h1.70v1.70h-1.70zM42.6 498.3h1.70v1.70h-1.70zM42.6 502.5h1.70v1.70h-1.70zM42.6 504.6h1.70v1.70h-1.70zM42.6 506.7h1.70v1.70h-1.70zM42.6 508.8h1.70v1.70h-1.70zM42.6 513.0h1.70v1.70h-1.70zM42.6 515.1h1.70v1.70h-1.70zM42.6 517.2h1.70v1.70h-1.70zM42.6 521.4h1.70v1.70h-1.70zM42.6 525.6h1.70v1.70h-1.70zM42.6 527.7h1.70v1.70h-1.70zM42.6 529.8h1.70v1.70h-1.70zM42.6 531.9h1.70v1.70h-1.70zM42.6 540.3h1.70v1.70h-1.70zM42.6 544.5h1.70v1.70h-1.70zM42.6 546.6h1.70v1.70h-1.70zM42.6 550.8h1.70v1.70h-1.70zM42.6 552.9h1.70v1.70h-1.70zM42.6 565.6h1.70v1.70h-1.70zM42.6 567.7h1.70v1.70h-1.70zM42.6 574.0h1.70v1.70h-1.70zM42.6 576.1h1.70v1.70h-1.70zM42.6 584.5h1.70v1.70h-1.70zM42.6 586.6h1.70v1.70h-1.70zM42.6 595.0h1.70v1.70h-1.70zM42.6 597.1h1.70v1.70h-1.70zM42.6 601.3h1.70v1.70h-1.70zM42.6 605.5h1.70v1.70h-1.70zM44.7 397.4h1.70v1.70h-1.70zM44.7 399.5h1.70v1.70h-1.70zM44.7 401.6h1.70v1.70h-1.70zM44.7 403.7h1.70v1.70h-1.70zM44.7 405.8h1.70v1.70h-1.70zM44.7 407.9h1.70v1.70h-1.70zM44.7 410.0h1.70v1.70h-1.70zM44.7 412.1h1.70v1.70h-1.70zM44.7 414.2h1.70v1.70h-1.70zM44.7 416.3h1.70v1.70h-1.70zM44.7 418.4h1.70v1.70h-1.70zM44.7 420.5h1.70v1.70h-1.70zM44.7 431.0h1.70v1.70h-1.70zM44.7 433.1h1.70v1.70h-1.70zM44.7 437.3h1.70v1.70h-1.70zM44.7 439.4h1.70v1.70h-1.70zM44.7 441.5h1.70v1.70h-1.70zM44.7 443.6h1.70v1.70h-1.70zM44.7 445.7h1.70v1.70h-1.70zM44.7 447.8h1.70v1.70h-1.70zM44.7 449.9h1.70v1.70h-1.70zM44.7 452.1h1.70v1.70h-1.70zM44.7 454.2h1.70v1.70h-1.70zM44.7 458.4h1.70v1.70h-1.70zM44.7 460.5h1.70v1.70h-1.70zM44.7 462.6h1.70v1.70h-1.70zM44.7 464.7h1.70v1.70h-1.70zM44.7 466.8h1.70v1.70h-1.70zM44.7 468.9h1.70v1.70h-1.70zM44.7 471.0h1.70v1.70h-1.70zM44.7 477.3h1.70v1.70h-1.70zM44.7 479.4h1.70v1.70h-1.70zM44.7 481.5h1.70v1.70h-1.70zM44.7 487.8h1.70v1.70h-1.70zM44.7 492.0h1.70v1.70h-1.70zM44.7 504.6h1.70v1.70h-1.70zM44.7 506.7h1.70v1.70h-1.70zM44.7 510.9h1.70v1.70h-1.70zM44.7 513.0h1.70v1.70h-1.70zM44.7 515.1h1.70v1.70h-1.70zM44.7 519.3h1.70v1.70h-1.70zM44.7 521.4h1.70v1.70h-1.70zM44.7 527.7h1.70v1.70h-1.70zM44.7 529.8h1.70v1.70h-1.70zM44.7 536.1h1.70v1.70h-1.70zM44.7 540.3h1.70v1.70h-1.70zM44.7 542.4h1.70v1.70h-1.70zM44.7 548.7h1.70v1.70h-1.70zM44.7 552.9h1.70v1.70h-1.70zM44.7 557.1h1.70v1.70h-1.70zM44.7 571.9h1.70v1.70h-1.70zM44.7 574.0h1.70v1.70h-1.70zM44.7 576.1h1.70v1.70h-1.70zM44.7 588.7h1.70v1.70h-1.70zM44.7 590.8h1.70v1.70h-1.70zM44.7 597.1h1.70v1.70h-1.70zM44.7 603.4h1.70v1.70h-1.70zM44.7 605.5h1.70v1.70h-1.70zM44.7 609.7h1.70v1.70h-1.70zM46.8 397.4h1.70v1.70h-1.70zM46.8 399.5h1.70v1.70h-1.70zM46.8 401.6h1.70v1.70h-1.70zM46.8 403.7h1.70v1.70h-1.70zM46.8 405.8h1.70v1.70h-1.70zM46.8 410.0h1.70v1.70h-1.70zM46.8 412.1h1.70v1.70h-1.70zM46.8 414.2h1.70v1.70h-1.70zM46.8 416.3h1.70v1.70h-1.70zM46.8 420.5h1.70v1.70h-1.70zM46.8 422.6h1.70v1.70h-1.70zM46.8 424.7h1.70v1.70h-1.70zM46.8 426.8h1.70v1.70h-1.70zM46.8 428.9h1.70v1.70h-1.70zM46.8 431.0h1.70v1.70h-1.70zM46.8 433.1h1.70v1.70h-1.70zM46.8 435.2h1.70v1.70h-1.70zM46.8 441.5h1.70v1.70h-1.70zM46.8 443.6h1.70v1.70h-1.70zM46.8 445.7h1.70v1.70h-1.70zM46.8 447.8h1.70v1.70h-1.70zM46.8 454.2h1.70v1.70h-1.70zM46.8 458.4h1.70v1.70h-1.70zM46.8 460.5h1.70v1.70h-1.70zM46.8 462.6h1.70v1.70h-1.70zM46.8 464.7h1.70v1.70h-1.70zM46.8 468.9h1.70v1.70h-1.70zM46.8 471.0h1.70v1.70h-1.70zM46.8 473.1h1.70v1.70h-1.70zM46.8 475.2h1.70v1.70h-1.70zM46.8 485.7h1.70v1.70h-1.70zM46.8 494.1h1.70v1.70h-1.70zM46.8 496.2h1.70v1.70h-1.70zM46.8 498.3h1.70v1.70h-1.70zM46.8 502.5h1.70v1.70h-1.70zM46.8 506.7h1.70v1.70h-1.70zM46.8 508.8h1.70v1.70h-1.70zM46.8 513.0h1.70v1.70h-1.70zM46.8 515.1h1.70v1.70h-1.70zM46.8 517.2h1.70v1.70h-1.70zM46.8 519.3h1.70v1.70h-1.70zM46.8 531.9h1.70v1.70h-1.70zM46.8 534.0h1.70v1.70h-1.70zM46.8 538.2h1.70v1.70h-1.70zM46.8 540.3h1.70v1.70h-1.70zM46.8 546.6h1.70v1.70h-1.70zM46.8 548.7h1.70v1.70h-1.70zM46.8 552.9h1.70v1.70h-1.70zM46.8 557.1h1.70v1.70h-1.70zM46.8 571.9h1.70v1.70h-1.70zM46.8 584.5h1.70v1.70h-1.70zM46.8 603.4h1.70v1.70h-1.70zM46.8 607.6h1.70v1.70h-1.70zM46.8 609.7h1.70v1.70h-1.70zM48.9 399.5h1.70v1.70h-1.70zM48.9 403.7h1.70v1.70h-1.70zM48.9 405.8h1.70v1.70h-1.70zM48.9 407.9h1.70v1.70h-1.70zM48.9 410.0h1.70v1.70h-1.70zM48.9 414.2h1.70v1.70h-1.70zM48.9 418.4h1.70v1.70h-1.70zM48.9 420.5h1.70v1.70h-1.70zM48.9 422.6h1.70v1.70h-1.70zM48.9 424.7h1.70v1.70h-1.70zM48.9 433.1h1.70v1.70h-1.70zM48.9 435.2h1.70v1.70h-1.70zM48.9 437.3h1.70v1.70h-1.70zM48.9 441.5h1.70v1.70h-1.70zM48.9 445.7h1.70v1.70h-1.70zM48.9 447.8h1.70v1.70h-1.70zM48.9 458.4h1.70v1.70h-1.70zM48.9 464.7h1.70v1.70h-1.70zM48.9 468.9h1.70v1.70h-1.70zM48.9 471.0h1.70v1.70h-1.70zM48.9 473.1h1.70v1.70h-1.70zM48.9 481.5h1.70v1.70h-1.70zM48.9 485.7h1.70v1.70h-1.70zM48.9 487.8h1.70v1.70h-1.70zM48.9 492.0h1.70v1.70h-1.70zM48.9 519.3h1.70v1.70h-1.70zM48.9 534.0h1.70v1.70h-1.70zM48.9 538.2h1.70v1.70h-1.70zM48.9 550.8h1.70v1.70h-1.70zM48.9 559.3h1.70v1.70h-1.70zM48.9 586.6h1.70v1.70h-1.70zM48.9 588.7h1.70v1.70h-1.70zM48.9 597.1h1.70v1.70h-1.70zM48.9 605.5h1.70v1.70h-1.70zM51.0 397.4h1.70v1.70h-1.70zM51.0 399.5h1.70v1.70h-1.70zM51.0 401.6h1.70v1.70h-1.70zM51.0 403.7h1.70v1.70h-1.70zM51.0 405.8h1.70v1.70h-1.70zM51.0 410.0h1.70v1.70h-1.70zM51.0 414.2h1.70v1.70h-1.70zM51.0 416.3h1.70v1.70h-1.70zM51.0 420.5h1.70v1.70h-1.70zM51.0 426.8h1.70v1.70h-1.70zM51.0 428.9h1.70v1.70h-1.70zM51.0 433.1h1.70v1.70h-1.70zM51.0 441.5h1.70v1.70h-1.70zM51.0 447.8h1.70v1.70h-1.70zM51.0 454.2h1.70v1.70h-1.70zM51.0 456.3h1.70v1.70h-1.70zM51.0 458.4h1.70v1.70h-1.70zM51.0 460.5h1.70v1.70h-1.70zM51.0 462.6h1.70v1.70h-1.70zM51.0 466.8h1.70v1.70h-1.70zM51.0 477.3h1.70v1.70h-1.70zM51.0 483.6h1.70v1.70h-1.70zM51.0 485.7h1.70v1.70h-1.70zM51.0 487.8h1.70v1.70h-1.70zM51.0 496.2h1.70v1.70h-1.70zM51.0 500.4h1.70v1.70h-1.70zM51.0 502.5h1.70v1.70h-1.70zM51.0 515.1h1.70v1.70h-1.70zM51.0 525.6h1.70v1.70h-1.70zM51.0 527.7h1.70v1.70h-1.70zM51.0 552.9h1.70v1.70h-1.70zM51.0 557.1h1.70v1.70h-1.70zM51.0 569.8h1.70v1.70h-1.70zM51.0 582.4h1.70v1.70h-1.70zM51.0 588.7h1.70v1.70h-1.70zM51.0 592.9h1.70v1.70h-1.70zM51.0 607.6h1.70v1.70h-1.70zM53.1 401.6h1.70v1.70h-1.70zM53.1 414.2h1.70v1.70h-1.70zM53.1 447.8h1.70v1.70h-1.70zM53.1 468.9h1.70v1.70h-1.70zM53.1 473.1h1.70v1.70h-1.70zM53.1 481.5h1.70v1.70h-1.70zM53.1 487.8h1.70v1.70h-1.70zM53.1 510.9h1.70v1.70h-1.70zM53.1 513.0h1.70v1.70h-1.70zM53.1 515.1h1.70v1.70h-1.70zM53.1 519.3h1.70v1.70h-1.70zM53.1 521.4h1.70v1.70h-1.70zM53.1 534.0h1.70v1.70h-1.70zM53.1 544.5h1.70v1.70h-1.70zM53.1 557.1h1.70v1.70h-1.70zM53.1 561.4h1.70v1.70h-1.70zM53.1 563.5h1.70v1.70h-1.70zM53.1 571.9h1.70v1.70h-1.70zM53.1 590.8h1.70v1.70h-1.70zM53.1 595.0h1.70v1.70h-1.70zM53.1 597.1h1.70v1.70h-1.70zM53.1 607.6h1.70v1.70h-1.70zM53.1 609.7h1.70v1.70h-1.70zM55.2 403.7h1.70v1.70h-1.70zM55.2 414.2h1.70v1.70h-1.70zM55.2 416.3h1.70v1.70h-1.70zM55.2 431.0h1.70v1.70h-1.70zM55.2 473.1h1.70v1.70h-1.70zM55.2 485.7h1.70v1.70h-1.70zM55.2 519.3h1.70v1.70h-1.70zM55.2 523.5h1.70v1.70h-1.70zM55.2 534.0h1.70v1.70h-1.70zM55.2 540.3h1.70v1.70h-1.70zM55.2 542.4h1.70v1.70h-1.70zM55.2 544.5h1.70v1.70h-1.70zM55.2 576.1h1.70v1.70h-1.70zM57.3 399.5h1.70v1.70h-1.70zM57.3 403.7h1.70v1.70h-1.70zM57.3 416.3h1.70v1.70h-1.70zM57.3 431.0h1.70v1.70h-1.70zM57.3 435.2h1.70v1.70h-1.70zM57.3 441.5h1.70v1.70h-1.70zM57.3 447.8h1.70v1.70h-1.70zM57.3 466.8h1.70v1.70h-1.70zM57.3 468.9h1.70v1.70h-1.70zM57.3 473.1h1.70v1.70h-1.70zM57.3 487.8h1.70v1.70h-1.70zM57.3 515.1h1.70v1.70h-1.70zM57.3 519.3h1.70v1.70h-1.70zM57.3 531.9h1.70v1.70h-1.70zM57.3 550.8h1.70v1.70h-1.70zM57.3 565.6h1.70v1.70h-1.70zM57.3 569.8h1.70v1.70h-1.70zM57.3 578.2h1.70v1.70h-1.70zM57.3 607.6h1.70v1.70h-1.70zM59.4 399.5h1.70v1.70h-1.70zM59.4 401.6h1.70v1.70h-1.70zM59.4 407.9h1.70v1.70h-1.70zM59.4 410.0h1.70v1.70h-1.70zM59.4 414.2h1.70v1.70h-1.70zM59.4 433.1h1.70v1.70h-1.70zM59.4 435.2h1.70v1.70h-1.70zM59.4 437.3h1.70v1.70h-1.70zM59.4 441.5h1.70v1.70h-1.70zM59.4 445.7h1.70v1.70h-1.70zM59.4 447.8h1.70v1.70h-1.70zM59.4 452.1h1.70v1.70h-1.70zM59.4 458.4h1.70v1.70h-1.70zM59.4 462.6h1.70v1.70h-1.70zM59.4 464.7h1.70v1.70h-1.70zM59.4 466.8h1.70v1.70h-1.70zM59.4 468.9h1.70v1.70h-1.70zM59.4 471.0h1.70v1.70h-1.70zM59.4 475.2h1.70v1.70h-1.70zM59.4 481.5h1.70v1.70h-1.70zM59.4 485.7h1.70v1.70h-1.70zM59.4 487.8h1.70v1.70h-1.70zM59.4 489.9h1.70v1.70h-1.70zM59.4 494.1h1.70v1.70h-1.70zM59.4 500.4h1.70v1.70h-1.70zM59.4 502.5h1.70v1.70h-1.70zM59.4 504.6h1.70v1.70h-1.70zM59.4 506.7h1.70v1.70h-1.70zM59.4 510.9h1.70v1.70h-1.70zM59.4 513.0h1.70v1.70h-1.70zM59.4 517.2h1.70v1.70h-1.70zM59.4 519.3h1.70v1.70h-1.70zM59.4 525.6h1.70v1.70h-1.70zM59.4 527.7h1.70v1.70h-1.70zM59.4 531.9h1.70v1.70h-1.70zM59.4 536.1h1.70v1.70h-1.70zM59.4 538.2h1.70v1.70h-1.70zM59.4 540.3h1.70v1.70h-1.70zM59.4 542.4h1.70v1.70h-1.70zM59.4 552.9h1.70v1.70h-1.70zM59.4 557.1h1.70v1.70h-1.70zM59.4 559.3h1.70v1.70h-1.70zM59.4 565.6h1.70v1.70h-1.70zM59.4 578.2h1.70v1.70h-1.70zM59.4 582.4h1.70v1.70h-1.70zM59.4 584.5h1.70v1.70h-1.70zM59.4 588.7h1.70v1.70h-1.70zM59.4 597.1h1.70v1.70h-1.70zM59.4 605.5h1.70v1.70h-1.70zM61.5 397.4h1.70v1.70h-1.70zM61.5 399.5h1.70v1.70h-1.70zM61.5 401.6h1.70v1.70h-1.70zM61.5 403.7h1.70v1.70h-1.70zM61.5 405.8h1.70v1.70h-1.70zM61.5 416.3h1.70v1.70h-1.70zM61.5 420.5h1.70v1.70h-1.70zM61.5 422.6h1.70v1.70h-1.70zM61.5 428.9h1.70v1.70h-1.70zM61.5 431.0h1.70v1.70h-1.70zM61.5 435.2h1.70v1.70h-1.70zM61.5 447.8h1.70v1.70h-1.70zM61.5 456.3h1.70v1.70h-1.70zM61.5 464.7h1.70v1.70h-1.70zM61.5 468.9h1.70v1.70h-1.70zM61.5 471.0h1.70v1.70h-1.70zM61.5 475.2h1.70v1.70h-1.70zM61.5 479.4h1.70v1.70h-1.70zM61.5 487.8h1.70v1.70h-1.70zM61.5 492.0h1.70v1.70h-1.70zM61.5 498.3h1.70v1.70h-1.70zM61.5 515.1h1.70v1.70h-1.70zM61.5 517.2h1.70v1.70h-1.70zM61.5 523.5h1.70v1.70h-1.70zM61.5 534.0h1.70v1.70h-1.70zM61.5 540.3h1.70v1.70h-1.70zM61.5 544.5h1.70v1.70h-1.70zM61.5 567.7h1.70v1.70h-1.70zM61.5 574.0h1.70v1.70h-1.70zM61.5 607.6h1.70v1.70h-1.70zM63.6 397.4h1.70v1.70h-1.70zM63.6 401.6h1.70v1.70h-1.70zM63.6 403.7h1.70v1.70h-1.70zM63.6 405.8h1.70v1.70h-1.70zM63.6 410.0h1.70v1.70h-1.70zM63.6 412.1h1.70v1.70h-1.70zM63.6 414.2h1.70v1.70h-1.70zM63.6 416.3h1.70v1.70h-1.70zM63.6 420.5h1.70v1.70h-1.70zM63.6 428.9h1.70v1.70h-1.70zM63.6 433.1h1.70v1.70h-1.70zM63.6 445.7h1.70v1.70h-1.70zM63.6 447.8h1.70v1.70h-1.70zM63.6 449.9h1.70v1.70h-1.70zM63.6 456.3h1.70v1.70h-1.70zM63.6 462.6h1.70v1.70h-1.70zM63.6 464.7h1.70v1.70h-1.70zM63.6 466.8h1.70v1.70h-1.70zM63.6 477.3h1.70v1.70h-1.70zM63.6 487.8h1.70v1.70h-1.70zM63.6 500.4h1.70v1.70h-1.70zM63.6 502.5h1.70v1.70h-1.70zM63.6 506.7h1.70v1.70h-1.70zM63.6 508.8h1.70v1.70h-1.70zM63.6 521.4h1.70v1.70h-1.70zM63.6 525.6h1.70v1.70h-1.70zM63.6 571.9h1.70v1.70h-1.70zM63.6 586.6h1.70v1.70h-1.70zM63.6 607.6h1.70v1.70h-1.70zM65.7 403.7h1.70v1.70h-1.70zM65.7 407.9h1.70v1.70h-1.70zM65.7 422.6h1.70v1.70h-1.70zM65.7 426.8h1.70v1.70h-1.70zM65.7 443.6h1.70v1.70h-1.70zM65.7 447.8h1.70v1.70h-1.70zM65.7 462.6h1.70v1.70h-1.70zM65.7 502.5h1.70v1.70h-1.70zM65.7 513.0h1.70v1.70h-1.70zM65.7 592.9h1.70v1.70h-1.70zM67.8 403.7h1.70v1.70h-1.70zM67.8 405.8h1.70v1.70h-1.70zM67.8 407.9h1.70v1.70h-1.70zM67.8 410.0h1.70v1.70h-1.70zM67.8 414.2h1.70v1.70h-1.70zM67.8 416.3h1.70v1.70h-1.70zM67.8 418.4h1.70v1.70h-1.70zM67.8 422.6h1.70v1.70h-1.70zM67.8 424.7h1.70v1.70h-1.70zM67.8 426.8h1.70v1.70h-1.70zM67.8 428.9h1.70v1.70h-1.70zM67.8 433.1h1.70v1.70h-1.70zM67.8 437.3h1.70v1.70h-1.70zM67.8 443.6h1.70v1.70h-1.70zM67.8 449.9h1.70v1.70h-1.70zM67.8 456.3h1.70v1.70h-1.70zM67.8 458.4h1.70v1.70h-1.70zM67.8 460.5h1.70v1.70h-1.70zM67.8 462.6h1.70v1.70h-1.70zM67.8 464.7h1.70v1.70h-1.70zM67.8 473.1h1.70v1.70h-1.70zM67.8 479.4h1.70v1.70h-1.70zM67.8 481.5h1.70v1.70h-1.70zM67.8 494.1h1.70v1.70h-1.70zM67.8 496.2h1.70v1.70h-1.70zM67.8 513.0h1.70v1.70h-1.70zM67.8 525.6h1.70v1.70h-1.70zM67.8 582.4h1.70v1.70h-1.70zM67.8 592.9h1.70v1.70h-1.70zM67.8 607.6h1.70v1.70h-1.70zM69.9 416.3h1.70v1.70h-1.70zM69.9 420.5h1.70v1.70h-1.70zM69.9 433.1h1.70v1.70h-1.70zM69.9 443.6h1.70v1.70h-1.70zM69.9 445.7h1.70v1.70h-1.70zM69.9 454.2h1.70v1.70h-1.70zM69.9 468.9h1.70v1.70h-1.70zM69.9 475.2h1.70v1.70h-1.70zM69.9 481.5h1.70v1.70h-1.70zM69.9 483.6h1.70v1.70h-1.70zM69.9 508.8h1.70v1.70h-1.70zM69.9 519.3h1.70v1.70h-1.70zM69.9 536.1h1.70v1.70h-1.70zM69.9 552.9h1.70v1.70h-1.70zM69.9 592.9h1.70v1.70h-1.70zM69.9 595.0h1.70v1.70h-1.70zM72.0 407.9h1.70v1.70h-1.70zM72.0 412.1h1.70v1.70h-1.70zM72.0 418.4h1.70v1.70h-1.70zM72.0 420.5h1.70v1.70h-1.70zM72.0 422.6h1.70v1.70h-1.70zM72.0 426.8h1.70v1.70h-1.70zM72.0 431.0h1.70v1.70h-1.70zM72.0 433.1h1.70v1.70h-1.70zM72.0 441.5h1.70v1.70h-1.70zM72.0 443.6h1.70v1.70h-1.70zM72.0 460.5h1.70v1.70h-1.70zM72.0 466.8h1.70v1.70h-1.70zM72.0 468.9h1.70v1.70h-1.70zM72.0 471.0h1.70v1.70h-1.70zM72.0 475.2h1.70v1.70h-1.70zM72.0 487.8h1.70v1.70h-1.70zM72.0 494.1h1.70v1.70h-1.70zM72.0 502.5h1.70v1.70h-1.70zM72.0 506.7h1.70v1.70h-1.70zM72.0 513.0h1.70v1.70h-1.70zM72.0 525.6h1.70v1.70h-1.70zM72.0 536.1h1.70v1.70h-1.70zM72.0 569.8h1.70v1.70h-1.70zM72.0 586.6h1.70v1.70h-1.70zM74.1 399.5h1.70v1.70h-1.70zM74.1 401.6h1.70v1.70h-1.70zM74.1 414.2h1.70v1.70h-1.70zM74.1 416.3h1.70v1.70h-1.70zM74.1 418.4h1.70v1.70h-1.70zM74.1 426.8h1.70v1.70h-1.70zM74.1 428.9h1.70v1.70h-1.70zM74.1 433.1h1.70v1.70h-1.70zM74.1 437.3h1.70v1.70h-1.70zM74.1 439.4h1.70v1.70h-1.70zM74.1 441.5h1.70v1.70h-1.70zM74.1 443.6h1.70v1.70h-1.70zM74.1 456.3h1.70v1.70h-1.70zM74.1 458.4h1.70v1.70h-1.70zM74.1 462.6h1.70v1.70h-1.70zM74.1 464.7h1.70v1.70h-1.70zM74.1 468.9h1.70v1.70h-1.70zM74.1 471.0h1.70v1.70h-1.70zM74.1 481.5h1.70v1.70h-1.70zM74.1 485.7h1.70v1.70h-1.70zM74.1 487.8h1.70v1.70h-1.70zM74.1 506.7h1.70v1.70h-1.70zM74.1 508.8h1.70v1.70h-1.70zM74.1 510.9h1.70v1.70h-1.70zM74.1 513.0h1.70v1.70h-1.70zM74.1 515.1h1.70v1.70h-1.70zM74.1 529.8h1.70v1.70h-1.70zM74.1 534.0h1.70v1.70h-1.70zM74.1 536.1h1.70v1.70h-1.70zM74.1 540.3h1.70v1.70h-1.70zM74.1 552.9h1.70v1.70h-1.70zM74.1 584.5h1.70v1.70h-1.70zM74.1 586.6h1.70v1.70h-1.70zM74.1 590.8h1.70v1.70h-1.70zM74.1 601.3h1.70v1.70h-1.70zM74.1 607.6h1.70v1.70h-1.70zM74.1 609.7h1.70v1.70h-1.70zM76.2 397.4h1.70v1.70h-1.70zM76.2 405.8h1.70v1.70h-1.70zM76.2 416.3h1.70v1.70h-1.70zM76.2 420.5h1.70v1.70h-1.70zM76.2 447.8h1.70v1.70h-1.70zM76.2 477.3h1.70v1.70h-1.70zM76.2 506.7h1.70v1.70h-1.70zM78.3 397.4h1.70v1.70h-1.70zM78.3 401.6h1.70v1.70h-1.70zM78.3 403.7h1.70v1.70h-1.70zM78.3 407.9h1.70v1.70h-1.70zM78.3 410.0h1.70v1.70h-1.70zM78.3 414.2h1.70v1.70h-1.70zM78.3 416.3h1.70v1.70h-1.70zM78.3 420.5h1.70v1.70h-1.70zM78.3 424.7h1.70v1.70h-1.70zM78.3 431.0h1.70v1.70h-1.70zM78.3 433.1h1.70v1.70h-1.70zM78.3 441.5h1.70v1.70h-1.70zM78.3 443.6h1.70v1.70h-1.70zM78.3 460.5h1.70v1.70h-1.70zM78.3 475.2h1.70v1.70h-1.70zM78.3 485.7h1.70v1.70h-1.70zM78.3 492.0h1.70v1.70h-1.70zM78.3 494.1h1.70v1.70h-1.70zM78.3 502.5h1.70v1.70h-1.70zM78.3 513.0h1.70v1.70h-1.70zM78.3 521.4h1.70v1.70h-1.70zM78.3 529.8h1.70v1.70h-1.70zM78.3 540.3h1.70v1.70h-1.70zM78.3 542.4h1.70v1.70h-1.70zM78.3 559.3h1.70v1.70h-1.70zM78.3 578.2h1.70v1.70h-1.70zM78.3 597.1h1.70v1.70h-1.70zM78.3 609.7h1.70v1.70h-1.70zM80.4 405.8h1.70v1.70h-1.70zM80.4 412.1h1.70v1.70h-1.70zM80.4 426.8h1.70v1.70h-1.70zM80.4 466.8h1.70v1.70h-1.70zM80.4 506.7h1.70v1.70h-1.70zM80.4 531.9h1.70v1.70h-1.70zM80.4 597.1h1.70v1.70h-1.70zM80.4 607.6h1.70v1.70h-1.70zM80.4 609.7h1.70v1.70h-1.70zM82.5 403.7h1.70v1.70h-1.70zM82.5 441.5h1.70v1.70h-1.70zM82.5 445.7h1.70v1.70h-1.70zM82.5 458.4h1.70v1.70h-1.70zM82.5 464.7h1.70v1.70h-1.70zM82.5 475.2h1.70v1.70h-1.70zM82.5 487.8h1.70v1.70h-1.70zM82.5 546.6h1.70v1.70h-1.70zM84.6 414.2h1.70v1.70h-1.70zM84.6 428.9h1.70v1.70h-1.70zM84.6 437.3h1.70v1.70h-1.70zM84.6 468.9h1.70v1.70h-1.70zM84.6 481.5h1.70v1.70h-1.70zM84.6 519.3h1.70v1.70h-1.70zM84.6 540.3h1.70v1.70h-1.70zM84.6 582.4h1.70v1.70h-1.70zM84.6 592.9h1.70v1.70h-1.70zM86.7 397.4h1.70v1.70h-1.70zM86.7 399.5h1.70v1.70h-1.70zM86.7 401.6h1.70v1.70h-1.70zM86.7 403.7h1.70v1.70h-1.70zM86.7 405.8h1.70v1.70h-1.70zM86.7 407.9h1.70v1.70h-1.70zM86.7 412.1h1.70v1.70h-1.70zM86.7 416.3h1.70v1.70h-1.70zM86.7 418.4h1.70v1.70h-1.70zM86.7 420.5h1.70v1.70h-1.70zM86.7 422.6h1.70v1.70h-1.70zM86.7 426.8h1.70v1.70h-1.70zM86.7 433.1h1.70v1.70h-1.70zM86.7 435.2h1.70v1.70h-1.70zM86.7 437.3h1.70v1.70h-1.70zM86.7 439.4h1.70v1.70h-1.70zM86.7 454.2h1.70v1.70h-1.70zM86.7 462.6h1.70v1.70h-1.70zM86.7 464.7h1.70v1.70h-1.70zM86.7 468.9h1.70v1.70h-1.70zM86.7 471.0h1.70v1.70h-1.70zM86.7 479.4h1.70v1.70h-1.70zM86.7 481.5h1.70v1.70h-1.70zM86.7 487.8h1.70v1.70h-1.70zM86.7 489.9h1.70v1.70h-1.70zM86.7 492.0h1.70v1.70h-1.70zM86.7 494.1h1.70v1.70h-1.70zM86.7 498.3h1.70v1.70h-1.70zM86.7 502.5h1.70v1.70h-1.70zM86.7 506.7h1.70v1.70h-1.70zM86.7 510.9h1.70v1.70h-1.70zM86.7 515.1h1.70v1.70h-1.70zM86.7 517.2h1.70v1.70h-1.70zM86.7 525.6h1.70v1.70h-1.70zM86.7 527.7h1.70v1.70h-1.70zM86.7 538.2h1.70v1.70h-1.70zM86.7 544.5h1.70v1.70h-1.70zM86.7 546.6h1.70v1.70h-1.70zM86.7 555.0h1.70v1.70h-1.70zM86.7 559.3h1.70v1.70h-1.70zM86.7 563.5h1.70v1.70h-1.70zM86.7 567.7h1.70v1.70h-1.70zM86.7 571.9h1.70v1.70h-1.70zM86.7 584.5h1.70v1.70h-1.70zM86.7 586.6h1.70v1.70h-1.70zM86.7 595.0h1.70v1.70h-1.70zM86.7 607.6h1.70v1.70h-1.70zM86.7 609.7h1.70v1.70h-1.70zM88.8 401.6h1.70v1.70h-1.70zM88.8 403.7h1.70v1.70h-1.70zM88.8 405.8h1.70v1.70h-1.70zM88.8 416.3h1.70v1.70h-1.70zM88.8 418.4h1.70v1.70h-1.70zM88.8 424.7h1.70v1.70h-1.70zM88.8 441.5h1.70v1.70h-1.70zM88.8 445.7h1.70v1.70h-1.70zM88.8 452.1h1.70v1.70h-1.70zM88.8 460.5h1.70v1.70h-1.70zM88.8 464.7h1.70v1.70h-1.70zM88.8 475.2h1.70v1.70h-1.70zM88.8 481.5h1.70v1.70h-1.70zM88.8 483.6h1.70v1.70h-1.70zM88.8 487.8h1.70v1.70h-1.70zM88.8 498.3h1.70v1.70h-1.70zM88.8 500.4h1.70v1.70h-1.70zM88.8 502.5h1.70v1.70h-1.70zM88.8 515.1h1.70v1.70h-1.70zM88.8 538.2h1.70v1.70h-1.70zM88.8 548.7h1.70v1.70h-1.70zM88.8 550.8h1.70v1.70h-1.70zM88.8 565.6h1.70v1.70h-1.70zM88.8 571.9h1.70v1.70h-1.70zM88.8 607.6h1.70v1.70h-1.70zM90.9 401.6h1.70v1.70h-1.70zM90.9 403.7h1.70v1.70h-1.70zM90.9 405.8h1.70v1.70h-1.70zM90.9 407.9h1.70v1.70h-1.70zM90.9 410.0h1.70v1.70h-1.70zM90.9 426.8h1.70v1.70h-1.70zM90.9 437.3h1.70v1.70h-1.70zM90.9 441.5h1.70v1.70h-1.70zM90.9 443.6h1.70v1.70h-1.70zM90.9 445.7h1.70v1.70h-1.70zM90.9 447.8h1.70v1.70h-1.70zM90.9 452.1h1.70v1.70h-1.70zM90.9 458.4h1.70v1.70h-1.70zM90.9 464.7h1.70v1.70h-1.70zM90.9 466.8h1.70v1.70h-1.70zM90.9 479.4h1.70v1.70h-1.70zM90.9 483.6h1.70v1.70h-1.70zM90.9 487.8h1.70v1.70h-1.70zM90.9 492.0h1.70v1.70h-1.70zM90.9 504.6h1.70v1.70h-1.70zM90.9 508.8h1.70v1.70h-1.70zM90.9 510.9h1.70v1.70h-1.70zM90.9 513.0h1.70v1.70h-1.70zM90.9 515.1h1.70v1.70h-1.70zM90.9 525.6h1.70v1.70h-1.70zM90.9 531.9h1.70v1.70h-1.70zM90.9 534.0h1.70v1.70h-1.70zM90.9 536.1h1.70v1.70h-1.70zM90.9 542.4h1.70v1.70h-1.70zM90.9 546.6h1.70v1.70h-1.70zM90.9 550.8h1.70v1.70h-1.70zM90.9 580.3h1.70v1.70h-1.70zM90.9 597.1h1.70v1.70h-1.70zM90.9 605.5h1.70v1.70h-1.70zM93.0 401.6h1.70v1.70h-1.70zM93.0 418.4h1.70v1.70h-1.70zM93.0 426.8h1.70v1.70h-1.70zM93.0 441.5h1.70v1.70h-1.70zM93.0 460.5h1.70v1.70h-1.70zM93.0 468.9h1.70v1.70h-1.70zM93.0 487.8h1.70v1.70h-1.70zM93.0 494.1h1.70v1.70h-1.70zM93.0 552.9h1.70v1.70h-1.70zM93.0 557.1h1.70v1.70h-1.70zM93.0 567.7h1.70v1.70h-1.70zM93.0 588.7h1.70v1.70h-1.70zM95.1 403.7h1.70v1.70h-1.70zM95.1 405.8h1.70v1.70h-1.70zM95.1 412.1h1.70v1.70h-1.70zM95.1 416.3h1.70v1.70h-1.70zM95.1 418.4h1.70v1.70h-1.70zM95.1 447.8h1.70v1.70h-1.70zM95.1 466.8h1.70v1.70h-1.70zM95.1 513.0h1.70v1.70h-1.70zM95.1 540.3h1.70v1.70h-1.70zM97.2 399.5h1.70v1.70h-1.70zM97.2 403.7h1.70v1.70h-1.70zM97.2 405.8h1.70v1.70h-1.70zM97.2 407.9h1.70v1.70h-1.70zM97.2 428.9h1.70v1.70h-1.70zM97.2 433.1h1.70v1.70h-1.70zM97.2 449.9h1.70v1.70h-1.70zM97.2 468.9h1.70v1.70h-1.70zM97.2 471.0h1.70v1.70h-1.70zM97.2 475.2h1.70v1.70h-1.70zM97.2 504.6h1.70v1.70h-1.70zM97.2 513.0h1.70v1.70h-1.70zM97.2 523.5h1.70v1.70h-1.70zM97.2 534.0h1.70v1.70h-1.70zM97.2 536.1h1.70v1.70h-1.70zM97.2 550.8h1.70v1.70h-1.70zM97.2 561.4h1.70v1.70h-1.70zM97.2 595.0h1.70v1.70h-1.70zM99.3 403.7h1.70v1.70h-1.70zM99.3 405.8h1.70v1.70h-1.70zM99.3 407.9h1.70v1.70h-1.70zM99.3 416.3h1.70v1.70h-1.70zM99.3 420.5h1.70v1.70h-1.70zM99.3 424.7h1.70v1.70h-1.70zM99.3 426.8h1.70v1.70h-1.70zM99.3 428.9h1.70v1.70h-1.70zM99.3 433.1h1.70v1.70h-1.70zM99.3 437.3h1.70v1.70h-1.70zM99.3 447.8h1.70v1.70h-1.70zM99.3 449.9h1.70v1.70h-1.70zM99.3 454.2h1.70v1.70h-1.70zM99.3 462.6h1.70v1.70h-1.70zM99.3 485.7h1.70v1.70h-1.70zM99.3 487.8h1.70v1.70h-1.70zM99.3 492.0h1.70v1.70h-1.70zM99.3 508.8h1.70v1.70h-1.70zM99.3 523.5h1.70v1.70h-1.70zM99.3 525.6h1.70v1.70h-1.70zM99.3 534.0h1.70v1.70h-1.70zM99.3 536.1h1.70v1.70h-1.70zM99.3 538.2h1.70v1.70h-1.70zM99.3 571.9h1.70v1.70h-1.70zM99.3 582.4h1.70v1.70h-1.70zM99.3 588.7h1.70v1.70h-1.70zM99.3 607.6h1.70v1.70h-1.70zM101.4 399.5h1.70v1.70h-1.70zM101.4 403.7h1.70v1.70h-1.70zM101.4 407.9h1.70v1.70h-1.70zM101.4 418.4h1.70v1.70h-1.70zM101.4 420.5h1.70v1.70h-1.70zM101.4 422.6h1.70v1.70h-1.70zM101.4 431.0h1.70v1.70h-1.70zM101.4 458.4h1.70v1.70h-1.70zM101.4 464.7h1.70v1.70h-1.70zM101.4 468.9h1.70v1.70h-1.70zM101.4 471.0h1.70v1.70h-1.70zM101.4 483.6h1.70v1.70h-1.70zM101.4 485.7h1.70v1.70h-1.70zM101.4 494.1h1.70v1.70h-1.70zM101.4 515.1h1.70v1.70h-1.70zM101.4 538.2h1.70v1.70h-1.70zM101.4 586.6h1.70v1.70h-1.70zM101.4 607.6h1.70v1.70h-1.70zM103.5 397.4h1.70v1.70h-1.70zM103.5 403.7h1.70v1.70h-1.70zM103.5 405.8h1.70v1.70h-1.70zM103.5 410.0h1.70v1.70h-1.70zM103.5 414.2h1.70v1.70h-1.70zM103.5 416.3h1.70v1.70h-1.70zM103.5 418.4h1.70v1.70h-1.70zM103.5 428.9h1.70v1.70h-1.70zM103.5 433.1h1.70v1.70h-1.70zM103.5 435.2h1.70v1.70h-1.70zM103.5 437.3h1.70v1.70h-1.70zM103.5 439.4h1.70v1.70h-1.70zM103.5 462.6h1.70v1.70h-1.70zM103.5 464.7h1.70v1.70h-1.70zM103.5 468.9h1.70v1.70h-1.70zM103.5 473.1h1.70v1.70h-1.70zM103.5 487.8h1.70v1.70h-1.70zM103.5 492.0h1.70v1.70h-1.70zM103.5 502.5h1.70v1.70h-1.70zM103.5 504.6h1.70v1.70h-1.70zM103.5 515.1h1.70v1.70h-1.70zM103.5 521.4h1.70v1.70h-1.70zM103.5 523.5h1.70v1.70h-1.70zM103.5 534.0h1.70v1.70h-1.70zM103.5 546.6h1.70v1.70h-1.70zM103.5 561.4h1.70v1.70h-1.70zM103.5 607.6h1.70v1.70h-1.70zM105.6 397.4h1.70v1.70h-1.70zM105.6 407.9h1.70v1.70h-1.70zM105.6 414.2h1.70v1.70h-1.70zM105.6 416.3h1.70v1.70h-1.70zM105.6 418.4h1.70v1.70h-1.70zM105.6 441.5h1.70v1.70h-1.70zM105.6 458.4h1.70v1.70h-1.70zM105.6 468.9h1.70v1.70h-1.70zM105.6 473.1h1.70v1.70h-1.70zM105.6 483.6h1.70v1.70h-1.70zM105.6 494.1h1.70v1.70h-1.70zM105.6 502.5h1.70v1.70h-1.70zM105.6 506.7h1.70v1.70h-1.70zM105.6 513.0h1.70v1.70h-1.70zM105.6 519.3h1.70v1.70h-1.70zM105.6 538.2h1.70v1.70h-1.70zM107.7 397.4h1.70v1.70h-1.70zM107.7 399.5h1.70v1.70h-1.70zM107.7 401.6h1.70v1.70h-1.70zM107.7 403.7h1.70v1.70h-1.70zM107.7 405.8h1.70v1.70h-1.70zM107.7 407.9h1.70v1.70h-1.70zM107.7 410.0h1.70v1.70h-1.70zM107.7 412.1h1.70v1.70h-1.70zM107.7 416.3h1.70v1.70h-1.70zM107.7 418.4h1.70v1.70h-1.70zM107.7 420.5h1.70v1.70h-1.70zM107.7 426.8h1.70v1.70h-1.70zM107.7 431.0h1.70v1.70h-1.70zM107.7 433.1h1.70v1.70h-1.70zM107.7 439.4h1.70v1.70h-1.70zM107.7 441.5h1.70v1.70h-1.70zM107.7 443.6h1.70v1.70h-1.70zM107.7 445.7h1.70v1.70h-1.70zM107.7 449.9h1.70v1.70h-1.70zM107.7 454.2h1.70v1.70h-1.70zM107.7 456.3h1.70v1.70h-1.70zM107.7 462.6h1.70v1.70h-1.70zM107.7 464.7h1.70v1.70h-1.70zM107.7 468.9h1.70v1.70h-1.70zM107.7 471.0h1.70v1.70h-1.70zM107.7 473.1h1.70v1.70h-1.70zM107.7 481.5h1.70v1.70h-1.70zM107.7 483.6h1.70v1.70h-1.70zM107.7 487.8h1.70v1.70h-1.70zM107.7 489.9h1.70v1.70h-1.70zM107.7 492.0h1.70v1.70h-1.70zM107.7 502.5h1.70v1.70h-1.70zM107.7 506.7h1.70v1.70h-1.70zM107.7 508.8h1.70v1.70h-1.70zM107.7 510.9h1.70v1.70h-1.70zM107.7 513.0h1.70v1.70h-1.70zM107.7 519.3h1.70v1.70h-1.70zM107.7 521.4h1.70v1.70h-1.70zM107.7 529.8h1.70v1.70h-1.70zM107.7 540.3h1.70v1.70h-1.70zM107.7 542.4h1.70v1.70h-1.70zM107.7 544.5h1.70v1.70h-1.70zM107.7 550.8h1.70v1.70h-1.70zM107.7 555.0h1.70v1.70h-1.70zM107.7 557.1h1.70v1.70h-1.70zM107.7 559.3h1.70v1.70h-1.70zM107.7 565.6h1.70v1.70h-1.70zM107.7 576.1h1.70v1.70h-1.70zM107.7 578.2h1.70v1.70h-1.70zM107.7 580.3h1.70v1.70h-1.70zM107.7 584.5h1.70v1.70h-1.70zM107.7 586.6h1.70v1.70h-1.70zM107.7 595.0h1.70v1.70h-1.70zM107.7 597.1h1.70v1.70h-1.70zM107.7 609.7h1.70v1.70h-1.70zM109.8 397.4h1.70v1.70h-1.70zM109.8 401.6h1.70v1.70h-1.70zM109.8 403.7h1.70v1.70h-1.70zM109.8 410.0h1.70v1.70h-1.70zM109.8 416.3h1.70v1.70h-1.70zM109.8 418.4h1.70v1.70h-1.70zM109.8 422.6h1.70v1.70h-1.70zM109.8 424.7h1.70v1.70h-1.70zM109.8 433.1h1.70v1.70h-1.70zM109.8 441.5h1.70v1.70h-1.70zM109.8 445.7h1.70v1.70h-1.70zM109.8 454.2h1.70v1.70h-1.70zM109.8 458.4h1.70v1.70h-1.70zM109.8 464.7h1.70v1.70h-1.70zM109.8 466.8h1.70v1.70h-1.70zM109.8 468.9h1.70v1.70h-1.70zM109.8 471.0h1.70v1.70h-1.70zM109.8 481.5h1.70v1.70h-1.70zM109.8 483.6h1.70v1.70h-1.70zM109.8 487.8h1.70v1.70h-1.70zM109.8 523.5h1.70v1.70h-1.70zM109.8 534.0h1.70v1.70h-1.70zM109.8 538.2h1.70v1.70h-1.70zM109.8 544.5h1.70v1.70h-1.70zM109.8 546.6h1.70v1.70h-1.70zM109.8 552.9h1.70v1.70h-1.70zM109.8 565.6h1.70v1.70h-1.70zM109.8 569.8h1.70v1.70h-1.70zM109.8 580.3h1.70v1.70h-1.70zM109.8 584.5h1.70v1.70h-1.70zM109.8 597.1h1.70v1.70h-1.70zM109.8 605.5h1.70v1.70h-1.70zM111.9 397.4h1.70v1.70h-1.70zM111.9 399.5h1.70v1.70h-1.70zM111.9 403.7h1.70v1.70h-1.70zM111.9 405.8h1.70v1.70h-1.70zM111.9 407.9h1.70v1.70h-1.70zM111.9 414.2h1.70v1.70h-1.70zM111.9 416.3h1.70v1.70h-1.70zM111.9 420.5h1.70v1.70h-1.70zM111.9 422.6h1.70v1.70h-1.70zM111.9 424.7h1.70v1.70h-1.70zM111.9 431.0h1.70v1.70h-1.70zM111.9 433.1h1.70v1.70h-1.70zM111.9 435.2h1.70v1.70h-1.70zM111.9 439.4h1.70v1.70h-1.70zM111.9 443.6h1.70v1.70h-1.70zM111.9 445.7h1.70v1.70h-1.70zM111.9 447.8h1.70v1.70h-1.70zM111.9 454.2h1.70v1.70h-1.70zM111.9 460.5h1.70v1.70h-1.70zM111.9 462.6h1.70v1.70h-1.70zM111.9 464.7h1.70v1.70h-1.70zM111.9 466.8h1.70v1.70h-1.70zM111.9 468.9h1.70v1.70h-1.70zM111.9 475.2h1.70v1.70h-1.70zM111.9 481.5h1.70v1.70h-1.70zM111.9 485.7h1.70v1.70h-1.70zM111.9 487.8h1.70v1.70h-1.70zM111.9 489.9h1.70v1.70h-1.70zM111.9 496.2h1.70v1.70h-1.70zM111.9 502.5h1.70v1.70h-1.70zM111.9 504.6h1.70v1.70h-1.70zM111.9 506.7h1.70v1.70h-1.70zM111.9 510.9h1.70v1.70h-1.70zM111.9 513.0h1.70v1.70h-1.70zM111.9 515.1h1.70v1.70h-1.70zM111.9 521.4h1.70v1.70h-1.70zM111.9 523.5h1.70v1.70h-1.70zM111.9 531.9h1.70v1.70h-1.70zM111.9 538.2h1.70v1.70h-1.70zM111.9 542.4h1.70v1.70h-1.70zM111.9 544.5h1.70v1.70h-1.70zM111.9 548.7h1.70v1.70h-1.70zM111.9 559.3h1.70v1.70h-1.70zM111.9 561.4h1.70v1.70h-1.70zM111.9 565.6h1.70v1.70h-1.70zM111.9 584.5h1.70v1.70h-1.70zM111.9 586.6h1.70v1.70h-1.70zM111.9 588.7h1.70v1.70h-1.70zM111.9 601.3h1.70v1.70h-1.70zM111.9 607.6h1.70v1.70h-1.70zM114.0 401.6h1.70v1.70h-1.70zM114.0 403.7h1.70v1.70h-1.70zM114.0 422.6h1.70v1.70h-1.70zM114.0 433.1h1.70v1.70h-1.70zM114.0 441.5h1.70v1.70h-1.70zM114.0 443.6h1.70v1.70h-1.70zM114.0 447.8h1.70v1.70h-1.70zM114.0 449.9h1.70v1.70h-1.70zM114.0 456.3h1.70v1.70h-1.70zM114.0 460.5h1.70v1.70h-1.70zM114.0 462.6h1.70v1.70h-1.70zM114.0 464.7h1.70v1.70h-1.70zM114.0 477.3h1.70v1.70h-1.70zM114.0 481.5h1.70v1.70h-1.70zM114.0 487.8h1.70v1.70h-1.70zM114.0 492.0h1.70v1.70h-1.70zM114.0 502.5h1.70v1.70h-1.70zM114.0 506.7h1.70v1.70h-1.70zM114.0 508.8h1.70v1.70h-1.70zM114.0 531.9h1.70v1.70h-1.70zM114.0 536.1h1.70v1.70h-1.70zM114.0 538.2h1.70v1.70h-1.70zM114.0 542.4h1.70v1.70h-1.70zM114.0 561.4h1.70v1.70h-1.70zM114.0 607.6h1.70v1.70h-1.70zM116.1 401.6h1.70v1.70h-1.70zM116.1 405.8h1.70v1.70h-1.70zM116.1 407.9h1.70v1.70h-1.70zM116.1 433.1h1.70v1.70h-1.70zM116.1 443.6h1.70v1.70h-1.70zM116.1 454.2h1.70v1.70h-1.70zM116.1 473.1h1.70v1.70h-1.70zM116.1 477.3h1.70v1.70h-1.70zM116.1 487.8h1.70v1.70h-1.70zM116.1 494.1h1.70v1.70h-1.70zM116.1 502.5h1.70v1.70h-1.70zM116.1 508.8h1.70v1.70h-1.70zM116.1 510.9h1.70v1.70h-1.70zM116.1 521.4h1.70v1.70h-1.70zM116.1 544.5h1.70v1.70h-1.70zM116.1 565.6h1.70v1.70h-1.70zM116.1 571.9h1.70v1.70h-1.70zM116.1 607.6h1.70v1.70h-1.70zM118.2 403.7h1.70v1.70h-1.70zM118.2 405.8h1.70v1.70h-1.70zM118.2 418.4h1.70v1.70h-1.70zM118.2 422.6h1.70v1.70h-1.70zM118.2 433.1h1.70v1.70h-1.70zM118.2 452.1h1.70v1.70h-1.70zM118.2 477.3h1.70v1.70h-1.70zM118.2 487.8h1.70v1.70h-1.70zM118.2 527.7h1.70v1.70h-1.70zM118.2 586.6h1.70v1.70h-1.70zM118.2 599.2h1.70v1.70h-1.70zM120.3 399.5h1.70v1.70h-1.70zM120.3 401.6h1.70v1.70h-1.70zM120.3 405.8h1.70v1.70h-1.70zM120.3 407.9h1.70v1.70h-1.70zM120.3 418.4h1.70v1.70h-1.70zM120.3 426.8h1.70v1.70h-1.70zM120.3 428.9h1.70v1.70h-1.70zM120.3 437.3h1.70v1.70h-1.70zM120.3 441.5h1.70v1.70h-1.70zM120.3 464.7h1.70v1.70h-1.70zM120.3 466.8h1.70v1.70h-1.70zM120.3 468.9h1.70v1.70h-1.70zM120.3 477.3h1.70v1.70h-1.70zM120.3 479.4h1.70v1.70h-1.70zM120.3 487.8h1.70v1.70h-1.70zM120.3 489.9h1.70v1.70h-1.70zM120.3 502.5h1.70v1.70h-1.70zM120.3 504.6h1.70v1.70h-1.70zM120.3 510.9h1.70v1.70h-1.70zM120.3 521.4h1.70v1.70h-1.70zM120.3 550.8h1.70v1.70h-1.70zM120.3 559.3h1.70v1.70h-1.70zM120.3 567.7h1.70v1.70h-1.70zM120.3 588.7h1.70v1.70h-1.70zM120.3 603.4h1.70v1.70h-1.70zM122.4 397.4h1.70v1.70h-1.70zM122.4 399.5h1.70v1.70h-1.70zM122.4 403.7h1.70v1.70h-1.70zM122.4 410.0h1.70v1.70h-1.70zM122.4 412.1h1.70v1.70h-1.70zM122.4 414.2h1.70v1.70h-1.70zM122.4 416.3h1.70v1.70h-1.70zM122.4 418.4h1.70v1.70h-1.70zM122.4 424.7h1.70v1.70h-1.70zM122.4 426.8h1.70v1.70h-1.70zM122.4 435.2h1.70v1.70h-1.70zM122.4 437.3h1.70v1.70h-1.70zM122.4 441.5h1.70v1.70h-1.70zM122.4 443.6h1.70v1.70h-1.70zM122.4 462.6h1.70v1.70h-1.70zM122.4 466.8h1.70v1.70h-1.70zM122.4 473.1h1.70v1.70h-1.70zM122.4 477.3h1.70v1.70h-1.70zM122.4 479.4h1.70v1.70h-1.70zM122.4 481.5h1.70v1.70h-1.70zM122.4 489.9h1.70v1.70h-1.70zM122.4 492.0h1.70v1.70h-1.70zM122.4 498.3h1.70v1.70h-1.70zM122.4 502.5h1.70v1.70h-1.70zM122.4 510.9h1.70v1.70h-1.70zM122.4 513.0h1.70v1.70h-1.70zM122.4 519.3h1.70v1.70h-1.70zM122.4 525.6h1.70v1.70h-1.70zM122.4 534.0h1.70v1.70h-1.70zM122.4 542.4h1.70v1.70h-1.70zM122.4 548.7h1.70v1.70h-1.70zM122.4 552.9h1.70v1.70h-1.70zM122.4 557.1h1.70v1.70h-1.70zM122.4 561.4h1.70v1.70h-1.70zM122.4 569.8h1.70v1.70h-1.70zM122.4 584.5h1.70v1.70h-1.70zM122.4 590.8h1.70v1.70h-1.70zM122.4 592.9h1.70v1.70h-1.70zM122.4 609.7h1.70v1.70h-1.70zM124.5 401.6h1.70v1.70h-1.70zM124.5 435.2h1.70v1.70h-1.70zM124.5 452.1h1.70v1.70h-1.70zM124.5 454.2h1.70v1.70h-1.70zM124.5 458.4h1.70v1.70h-1.70zM124.5 466.8h1.70v1.70h-1.70zM124.5 471.0h1.70v1.70h-1.70zM124.5 487.8h1.70v1.70h-1.70zM124.5 498.3h1.70v1.70h-1.70zM124.5 506.7h1.70v1.70h-1.70zM124.5 515.1h1.70v1.70h-1.70zM124.5 521.4h1.70v1.70h-1.70zM124.5 536.1h1.70v1.70h-1.70zM124.5 538.2h1.70v1.70h-1.70zM124.5 542.4h1.70v1.70h-1.70zM124.5 548.7h1.70v1.70h-1.70zM124.5 592.9h1.70v1.70h-1.70zM124.5 607.6h1.70v1.70h-1.70zM126.6 399.5h1.70v1.70h-1.70zM126.6 401.6h1.70v1.70h-1.70zM126.6 403.7h1.70v1.70h-1.70zM126.6 410.0h1.70v1.70h-1.70zM126.6 414.2h1.70v1.70h-1.70zM126.6 416.3h1.70v1.70h-1.70zM126.6 420.5h1.70v1.70h-1.70zM126.6 433.1h1.70v1.70h-1.70zM126.6 437.3h1.70v1.70h-1.70zM126.6 441.5h1.70v1.70h-1.70zM126.6 460.5h1.70v1.70h-1.70zM126.6 468.9h1.70v1.70h-1.70zM126.6 479.4h1.70v1.70h-1.70zM126.6 481.5h1.70v1.70h-1.70zM126.6 487.8h1.70v1.70h-1.70zM126.6 494.1h1.70v1.70h-1.70zM126.6 508.8h1.70v1.70h-1.70zM126.6 521.4h1.70v1.70h-1.70zM126.6 523.5h1.70v1.70h-1.70zM126.6 525.6h1.70v1.70h-1.70zM126.6 540.3h1.70v1.70h-1.70zM126.6 550.8h1.70v1.70h-1.70zM126.6 557.1h1.70v1.70h-1.70zM126.6 605.5h1.70v1.70h-1.70zM128.7 399.5h1.70v1.70h-1.70zM128.7 426.8h1.70v1.70h-1.70zM128.7 447.8h1.70v1.70h-1.70zM128.7 458.4h1.70v1.70h-1.70zM128.7 466.8h1.70v1.70h-1.70zM128.7 471.0h1.70v1.70h-1.70zM128.7 485.7h1.70v1.70h-1.70zM128.7 487.8h1.70v1.70h-1.70zM128.7 565.6h1.70v1.70h-1.70zM128.7 574.0h1.70v1.70h-1.70zM128.7 595.0h1.70v1.70h-1.70zM130.8 439.4h1.70v1.70h-1.70zM132.9 500.4h1.70v1.70h-1.70zM132.9 538.2h1.70v1.70h-1.70zM132.9 552.9h1.70v1.70h-1.70zM132.9 599.2h1.70v1.70h-1.70zM137.1 416.3h1.70v1.70h-1.70zM139.2 399.5h1.70v1.70h-1.70zM139.2 458.4h1.70v1.70h-1.70zM143.4 468.9h1.70v1.70h-1.70zM143.4 479.4h1.70v1.70h-1.70zM143.4 527.7h1.70v1.70h-1.70zM143.4 605.5h1.70v1.70h-1.70zM145.5 439.4h1.70v1.70h-1.70zM145.5 456.3h1.70v1.70h-1.70zM145.5 489.9h1.70v1.70h-1.70zM145.5 544.5h1.70v1.70h-1.70zM145.5 561.4h1.70v1.70h-1.70zM145.5 603.4h1.70v1.70h-1.70zM145.5 607.6h1.70v1.70h-1.70zM147.6 412.1h1.70v1.70h-1.70zM147.6 586.6h1.70v1.70h-1.70zM147.6 603.4h1.70v1.70h-1.70zM149.7 405.8h1.70v1.70h-1.70zM149.7 437.3h1.70v1.70h-1.70zM149.7 517.2h1.70v1.70h-1.70zM149.7 567.7h1.70v1.70h-1.70zM149.7 578.2h1.70v1.70h-1.70zM153.9 580.3h1.70v1.70h-1.70zM156.0 563.5h1.70v1.70h-1.70zM158.1 424.7h1.70v1.70h-1.70zM158.1 513.0h1.70v1.70h-1.70zM158.1 525.6h1.70v1.70h-1.70zM158.1 555.0h1.70v1.70h-1.70zM160.2 420.5h1.70v1.70h-1.70zM166.5 559.3h1.70v1.70h-1.70zM172.8 426.8h1.70v1.70h-1.70zM172.8 428.9h1.70v1.70h-1.70zM172.8 439.4h1.70v1.70h-1.70zM172.8 443.6h1.70v1.70h-1.70zM172.8 452.1h1.70v1.70h-1.70zM172.8 473.1h1.70v1.70h-1.70zM172.8 487.8h1.70v1.70h-1.70zM172.8 536.1h1.70v1.70h-1.70zM172.8 569.8h1.70v1.70h-1.70zM172.8 574.0h1.70v1.70h-1.70zM172.8 601.3h1.70v1.70h-1.70zM174.9 399.5h1.70v1.70h-1.70zM174.9 477.3h1.70v1.70h-1.70zM174.9 483.6h1.70v1.70h-1.70zM174.9 504.6h1.70v1.70h-1.70zM174.9 544.5h1.70v1.70h-1.70z"/><path fill="#060650" d="M38.4 401.6h1.70v1.70h-1.70zM38.4 458.4h1.70v1.70h-1.70zM38.4 473.1h1.70v1.70h-1.70zM38.4 481.5h1.70v1.70h-1.70zM38.4 536.1h1.70v1.70h-1.70zM38.4 548.7h1.70v1.70h-1.70zM38.4 557.1h1.70v1.70h-1.70zM38.4 559.3h1.70v1.70h-1.70zM38.4 565.6h1.70v1.70h-1.70zM38.4 571.9h1.70v1.70h-1.70zM38.4 584.5h1.70v1.70h-1.70zM38.4 586.6h1.70v1.70h-1.70zM38.4 607.6h1.70v1.70h-1.70zM40.5 422.6h1.70v1.70h-1.70zM40.5 521.4h1.70v1.70h-1.70zM40.5 544.5h1.70v1.70h-1.70zM40.5 567.7h1.70v1.70h-1.70zM40.5 576.1h1.70v1.70h-1.70zM40.5 584.5h1.70v1.70h-1.70zM40.5 592.9h1.70v1.70h-1.70zM42.6 405.8h1.70v1.70h-1.70zM42.6 466.8h1.70v1.70h-1.70zM42.6 561.4h1.70v1.70h-1.70zM42.6 599.2h1.70v1.70h-1.70zM42.6 603.4h1.70v1.70h-1.70zM44.7 435.2h1.70v1.70h-1.70zM44.7 489.9h1.70v1.70h-1.70zM44.7 500.4h1.70v1.70h-1.70zM44.7 517.2h1.70v1.70h-1.70zM44.7 565.6h1.70v1.70h-1.70zM44.7 592.9h1.70v1.70h-1.70zM46.8 437.3h1.70v1.70h-1.70zM46.8 489.9h1.70v1.70h-1.70zM46.8 521.4h1.70v1.70h-1.70zM46.8 582.4h1.70v1.70h-1.70zM46.8 586.6h1.70v1.70h-1.70zM46.8 601.3h1.70v1.70h-1.70zM48.9 456.3h1.70v1.70h-1.70zM48.9 536.1h1.70v1.70h-1.70zM48.9 563.5h1.70v1.70h-1.70zM48.9 565.6h1.70v1.70h-1.70zM48.9 569.8h1.70v1.70h-1.70zM51.0 439.4h1.70v1.70h-1.70zM51.0 445.7h1.70v1.70h-1.70zM51.0 452.1h1.70v1.70h-1.70zM51.0 473.1h1.70v1.70h-1.70zM51.0 479.4h1.70v1.70h-1.70zM51.0 534.0h1.70v1.70h-1.70zM51.0 538.2h1.70v1.70h-1.70zM51.0 542.4h1.70v1.70h-1.70zM51.0 567.7h1.70v1.70h-1.70zM51.0 590.8h1.70v1.70h-1.70zM53.1 424.7h1.70v1.70h-1.70zM53.1 431.0h1.70v1.70h-1.70zM53.1 460.5h1.70v1.70h-1.70zM53.1 500.4h1.70v1.70h-1.70zM53.1 504.6h1.70v1.70h-1.70zM53.1 517.2h1.70v1.70h-1.70zM53.1 540.3h1.70v1.70h-1.70zM53.1 576.1h1.70v1.70h-1.70zM53.1 582.4h1.70v1.70h-1.70zM53.1 584.5h1.70v1.70h-1.70zM53.1 588.7h1.70v1.70h-1.70zM53.1 599.2h1.70v1.70h-1.70zM53.1 605.5h1.70v1.70h-1.70zM55.2 410.0h1.70v1.70h-1.70zM55.2 441.5h1.70v1.70h-1.70zM55.2 445.7h1.70v1.70h-1.70zM55.2 452.1h1.70v1.70h-1.70zM55.2 479.4h1.70v1.70h-1.70zM55.2 531.9h1.70v1.70h-1.70zM55.2 538.2h1.70v1.70h-1.70zM55.2 557.1h1.70v1.70h-1.70zM55.2 580.3h1.70v1.70h-1.70zM55.2 586.6h1.70v1.70h-1.70zM55.2 597.1h1.70v1.70h-1.70zM55.2 605.5h1.70v1.70h-1.70zM57.3 414.2h1.70v1.70h-1.70zM57.3 420.5h1.70v1.70h-1.70zM57.3 449.9h1.70v1.70h-1.70zM57.3 456.3h1.70v1.70h-1.70zM57.3 458.4h1.70v1.70h-1.70zM57.3 460.5h1.70v1.70h-1.70zM57.3 462.6h1.70v1.70h-1.70zM57.3 494.1h1.70v1.70h-1.70zM57.3 523.5h1.70v1.70h-1.70zM57.3 525.6h1.70v1.70h-1.70zM57.3 534.0h1.70v1.70h-1.70zM57.3 548.7h1.70v1.70h-1.70zM57.3 552.9h1.70v1.70h-1.70zM57.3 571.9h1.70v1.70h-1.70zM59.4 428.9h1.70v1.70h-1.70zM59.4 515.1h1.70v1.70h-1.70zM59.4 523.5h1.70v1.70h-1.70zM59.4 548.7h1.70v1.70h-1.70zM59.4 561.4h1.70v1.70h-1.70zM59.4 580.3h1.70v1.70h-1.70zM59.4 601.3h1.70v1.70h-1.70zM61.5 412.1h1.70v1.70h-1.70zM61.5 502.5h1.70v1.70h-1.70zM61.5 510.9h1.70v1.70h-1.70zM61.5 531.9h1.70v1.70h-1.70zM61.5 546.6h1.70v1.70h-1.70zM61.5 548.7h1.70v1.70h-1.70zM61.5 557.1h1.70v1.70h-1.70zM61.5 571.9h1.70v1.70h-1.70zM61.5 580.3h1.70v1.70h-1.70zM61.5 584.5h1.70v1.70h-1.70zM61.5 597.1h1.70v1.70h-1.70zM61.5 603.4h1.70v1.70h-1.70zM61.5 605.5h1.70v1.70h-1.70zM63.6 452.1h1.70v1.70h-1.70zM63.6 454.2h1.70v1.70h-1.70zM63.6 498.3h1.70v1.70h-1.70zM63.6 504.6h1.70v1.70h-1.70zM63.6 559.3h1.70v1.70h-1.70zM63.6 563.5h1.70v1.70h-1.70zM63.6 567.7h1.70v1.70h-1.70zM63.6 582.4h1.70v1.70h-1.70zM63.6 588.7h1.70v1.70h-1.70zM63.6 603.4h1.70v1.70h-1.70zM65.7 397.4h1.70v1.70h-1.70zM65.7 401.6h1.70v1.70h-1.70zM65.7 416.3h1.70v1.70h-1.70zM65.7 431.0h1.70v1.70h-1.70zM65.7 439.4h1.70v1.70h-1.70zM65.7 441.5h1.70v1.70h-1.70zM65.7 445.7h1.70v1.70h-1.70zM65.7 449.9h1.70v1.70h-1.70zM65.7 487.8h1.70v1.70h-1.70zM65.7 508.8h1.70v1.70h-1.70zM65.7 515.1h1.70v1.70h-1.70zM65.7 517.2h1.70v1.70h-1.70zM65.7 534.0h1.70v1.70h-1.70zM65.7 536.1h1.70v1.70h-1.70zM65.7 542.4h1.70v1.70h-1.70zM65.7 544.5h1.70v1.70h-1.70zM65.7 578.2h1.70v1.70h-1.70zM65.7 580.3h1.70v1.70h-1.70zM67.8 397.4h1.70v1.70h-1.70zM67.8 435.2h1.70v1.70h-1.70zM67.8 452.1h1.70v1.70h-1.70zM67.8 477.3h1.70v1.70h-1.70zM67.8 510.9h1.70v1.70h-1.70zM67.8 544.5h1.70v1.70h-1.70zM67.8 555.0h1.70v1.70h-1.70zM67.8 574.0h1.70v1.70h-1.70zM67.8 595.0h1.70v1.70h-1.70zM67.8 597.1h1.70v1.70h-1.70zM69.9 452.1h1.70v1.70h-1.70zM69.9 466.8h1.70v1.70h-1.70zM69.9 492.0h1.70v1.70h-1.70zM69.9 494.1h1.70v1.70h-1.70zM69.9 498.3h1.70v1.70h-1.70zM69.9 521.4h1.70v1.70h-1.70zM69.9 531.9h1.70v1.70h-1.70zM69.9 538.2h1.70v1.70h-1.70zM69.9 542.4h1.70v1.70h-1.70zM69.9 555.0h1.70v1.70h-1.70zM69.9 559.3h1.70v1.70h-1.70zM69.9 567.7h1.70v1.70h-1.70zM69.9 569.8h1.70v1.70h-1.70zM69.9 578.2h1.70v1.70h-1.70zM69.9 582.4h1.70v1.70h-1.70zM69.9 609.7h1.70v1.70h-1.70zM72.0 456.3h1.70v1.70h-1.70zM72.0 498.3h1.70v1.70h-1.70zM72.0 517.2h1.70v1.70h-1.70zM72.0 544.5h1.70v1.70h-1.70zM72.0 559.3h1.70v1.70h-1.70zM72.0 563.5h1.70v1.70h-1.70zM72.0 565.6h1.70v1.70h-1.70zM72.0 574.0h1.70v1.70h-1.70zM72.0 601.3h1.70v1.70h-1.70zM72.0 603.4h1.70v1.70h-1.70zM74.1 407.9h1.70v1.70h-1.70zM74.1 466.8h1.70v1.70h-1.70zM74.1 475.2h1.70v1.70h-1.70zM74.1 489.9h1.70v1.70h-1.70zM74.1 494.1h1.70v1.70h-1.70zM74.1 548.7h1.70v1.70h-1.70zM74.1 559.3h1.70v1.70h-1.70zM74.1 597.1h1.70v1.70h-1.70zM74.1 599.2h1.70v1.70h-1.70zM74.1 603.4h1.70v1.70h-1.70zM76.2 399.5h1.70v1.70h-1.70zM76.2 424.7h1.70v1.70h-1.70zM76.2 428.9h1.70v1.70h-1.70zM76.2 431.0h1.70v1.70h-1.70zM76.2 435.2h1.70v1.70h-1.70zM76.2 441.5h1.70v1.70h-1.70zM76.2 443.6h1.70v1.70h-1.70zM76.2 452.1h1.70v1.70h-1.70zM76.2 456.3h1.70v1.70h-1.70zM76.2 458.4h1.70v1.70h-1.70zM76.2 460.5h1.70v1.70h-1.70zM76.2 475.2h1.70v1.70h-1.70zM76.2 487.8h1.70v1.70h-1.70zM76.2 489.9h1.70v1.70h-1.70zM76.2 510.9h1.70v1.70h-1.70zM76.2 557.1h1.70v1.70h-1.70zM76.2 569.8h1.70v1.70h-1.70zM76.2 586.6h1.70v1.70h-1.70zM76.2 588.7h1.70v1.70h-1.70zM76.2 592.9h1.70v1.70h-1.70zM76.2 595.0h1.70v1.70h-1.70zM76.2 597.1h1.70v1.70h-1.70zM78.3 452.1h1.70v1.70h-1.70zM78.3 462.6h1.70v1.70h-1.70zM78.3 479.4h1.70v1.70h-1.70zM78.3 500.4h1.70v1.70h-1.70zM78.3 510.9h1.70v1.70h-1.70zM78.3 519.3h1.70v1.70h-1.70zM78.3 534.0h1.70v1.70h-1.70zM78.3 536.1h1.70v1.70h-1.70zM78.3 574.0h1.70v1.70h-1.70zM78.3 576.1h1.70v1.70h-1.70zM78.3 582.4h1.70v1.70h-1.70zM78.3 601.3h1.70v1.70h-1.70zM80.4 418.4h1.70v1.70h-1.70zM80.4 443.6h1.70v1.70h-1.70zM80.4 445.7h1.70v1.70h-1.70zM80.4 462.6h1.70v1.70h-1.70zM80.4 477.3h1.70v1.70h-1.70zM80.4 487.8h1.70v1.70h-1.70zM80.4 489.9h1.70v1.70h-1.70zM80.4 529.8h1.70v1.70h-1.70zM80.4 534.0h1.70v1.70h-1.70zM80.4 544.5h1.70v1.70h-1.70zM80.4 555.0h1.70v1.70h-1.70zM80.4 569.8h1.70v1.70h-1.70zM80.4 592.9h1.70v1.70h-1.70zM82.5 431.0h1.70v1.70h-1.70zM82.5 452.1h1.70v1.70h-1.70zM82.5 479.4h1.70v1.70h-1.70zM82.5 498.3h1.70v1.70h-1.70zM82.5 500.4h1.70v1.70h-1.70zM82.5 502.5h1.70v1.70h-1.70zM82.5 521.4h1.70v1.70h-1.70zM82.5 525.6h1.70v1.70h-1.70zM82.5 534.0h1.70v1.70h-1.70zM82.5 548.7h1.70v1.70h-1.70zM82.5 550.8h1.70v1.70h-1.70zM82.5 574.0h1.70v1.70h-1.70zM82.5 576.1h1.70v1.70h-1.70zM82.5 597.1h1.70v1.70h-1.70zM82.5 601.3h1.70v1.70h-1.70zM84.6 403.7h1.70v1.70h-1.70zM84.6 420.5h1.70v1.70h-1.70zM84.6 424.7h1.70v1.70h-1.70zM84.6 426.8h1.70v1.70h-1.70zM84.6 433.1h1.70v1.70h-1.70zM84.6 473.1h1.70v1.70h-1.70zM84.6 477.3h1.70v1.70h-1.70zM84.6 492.0h1.70v1.70h-1.70zM84.6 500.4h1.70v1.70h-1.70zM84.6 502.5h1.70v1.70h-1.70zM84.6 504.6h1.70v1.70h-1.70zM84.6 521.4h1.70v1.70h-1.70zM84.6 536.1h1.70v1.70h-1.70zM84.6 538.2h1.70v1.70h-1.70zM84.6 546.6h1.70v1.70h-1.70zM84.6 571.9h1.70v1.70h-1.70zM84.6 574.0h1.70v1.70h-1.70zM84.6 576.1h1.70v1.70h-1.70zM84.6 578.2h1.70v1.70h-1.70zM84.6 580.3h1.70v1.70h-1.70zM84.6 590.8h1.70v1.70h-1.70zM84.6 599.2h1.70v1.70h-1.70zM84.6 605.5h1.70v1.70h-1.70zM86.7 441.5h1.70v1.70h-1.70zM86.7 452.1h1.70v1.70h-1.70zM86.7 466.8h1.70v1.70h-1.70zM86.7 521.4h1.70v1.70h-1.70zM86.7 569.8h1.70v1.70h-1.70zM86.7 592.9h1.70v1.70h-1.70zM88.8 397.4h1.70v1.70h-1.70zM88.8 517.2h1.70v1.70h-1.70zM88.8 527.7h1.70v1.70h-1.70zM88.8 574.0h1.70v1.70h-1.70zM88.8 580.3h1.70v1.70h-1.70zM88.8 590.8h1.70v1.70h-1.70zM88.8 595.0h1.70v1.70h-1.70zM88.8 599.2h1.70v1.70h-1.70zM90.9 399.5h1.70v1.70h-1.70zM90.9 420.5h1.70v1.70h-1.70zM90.9 433.1h1.70v1.70h-1.70zM90.9 489.9h1.70v1.70h-1.70zM90.9 517.2h1.70v1.70h-1.70zM90.9 521.4h1.70v1.70h-1.70zM90.9 569.8h1.70v1.70h-1.70zM90.9 582.4h1.70v1.70h-1.70zM90.9 599.2h1.70v1.70h-1.70zM93.0 407.9h1.70v1.70h-1.70zM93.0 424.7h1.70v1.70h-1.70zM93.0 443.6h1.70v1.70h-1.70zM93.0 445.7h1.70v1.70h-1.70zM93.0 447.8h1.70v1.70h-1.70zM93.0 449.9h1.70v1.70h-1.70zM93.0 456.3h1.70v1.70h-1.70zM93.0 458.4h1.70v1.70h-1.70zM93.0 479.4h1.70v1.70h-1.70zM93.0 529.8h1.70v1.70h-1.70zM93.0 534.0h1.70v1.70h-1.70zM93.0 542.4h1.70v1.70h-1.70zM93.0 544.5h1.70v1.70h-1.70zM93.0 546.6h1.70v1.70h-1.70zM93.0 550.8h1.70v1.70h-1.70zM93.0 565.6h1.70v1.70h-1.70zM93.0 576.1h1.70v1.70h-1.70zM93.0 592.9h1.70v1.70h-1.70zM93.0 605.5h1.70v1.70h-1.70zM95.1 397.4h1.70v1.70h-1.70zM95.1 399.5h1.70v1.70h-1.70zM95.1 422.6h1.70v1.70h-1.70zM95.1 428.9h1.70v1.70h-1.70zM95.1 449.9h1.70v1.70h-1.70zM95.1 456.3h1.70v1.70h-1.70zM95.1 458.4h1.70v1.70h-1.70zM95.1 464.7h1.70v1.70h-1.70zM95.1 496.2h1.70v1.70h-1.70zM95.1 500.4h1.70v1.70h-1.70zM95.1 534.0h1.70v1.70h-1.70zM95.1 544.5h1.70v1.70h-1.70zM95.1 550.8h1.70v1.70h-1.70zM95.1 552.9h1.70v1.70h-1.70zM95.1 563.5h1.70v1.70h-1.70zM97.2 410.0h1.70v1.70h-1.70zM97.2 435.2h1.70v1.70h-1.70zM97.2 443.6h1.70v1.70h-1.70zM97.2 559.3h1.70v1.70h-1.70zM97.2 603.4h1.70v1.70h-1.70zM97.2 607.6h1.70v1.70h-1.70zM99.3 473.1h1.70v1.70h-1.70zM99.3 527.7h1.70v1.70h-1.70zM99.3 531.9h1.70v1.70h-1.70zM99.3 540.3h1.70v1.70h-1.70zM99.3 578.2h1.70v1.70h-1.70zM99.3 609.7h1.70v1.70h-1.70zM101.4 397.4h1.70v1.70h-1.70zM101.4 401.6h1.70v1.70h-1.70zM101.4 439.4h1.70v1.70h-1.70zM101.4 445.7h1.70v1.70h-1.70zM101.4 452.1h1.70v1.70h-1.70zM101.4 500.4h1.70v1.70h-1.70zM101.4 521.4h1.70v1.70h-1.70zM101.4 525.6h1.70v1.70h-1.70zM101.4 536.1h1.70v1.70h-1.70zM101.4 540.3h1.70v1.70h-1.70zM101.4 546.6h1.70v1.70h-1.70zM101.4 548.7h1.70v1.70h-1.70zM101.4 550.8h1.70v1.70h-1.70zM101.4 574.0h1.70v1.70h-1.70zM101.4 584.5h1.70v1.70h-1.70zM101.4 588.7h1.70v1.70h-1.70zM101.4 592.9h1.70v1.70h-1.70zM101.4 595.0h1.70v1.70h-1.70zM101.4 597.1h1.70v1.70h-1.70zM103.5 431.0h1.70v1.70h-1.70zM103.5 441.5h1.70v1.70h-1.70zM103.5 445.7h1.70v1.70h-1.70zM103.5 477.3h1.70v1.70h-1.70zM103.5 496.2h1.70v1.70h-1.70zM103.5 519.3h1.70v1.70h-1.70zM103.5 529.8h1.70v1.70h-1.70zM103.5 531.9h1.70v1.70h-1.70zM103.5 536.1h1.70v1.70h-1.70zM103.5 584.5h1.70v1.70h-1.70zM103.5 588.7h1.70v1.70h-1.70zM103.5 603.4h1.70v1.70h-1.70zM105.6 405.8h1.70v1.70h-1.70zM105.6 420.5h1.70v1.70h-1.70zM105.6 449.9h1.70v1.70h-1.70zM105.6 466.8h1.70v1.70h-1.70zM105.6 481.5h1.70v1.70h-1.70zM105.6 492.0h1.70v1.70h-1.70zM105.6 517.2h1.70v1.70h-1.70zM105.6 523.5h1.70v1.70h-1.70zM105.6 531.9h1.70v1.70h-1.70zM105.6 536.1h1.70v1.70h-1.70zM105.6 561.4h1.70v1.70h-1.70zM107.7 574.0h1.70v1.70h-1.70zM109.8 420.5h1.70v1.70h-1.70zM109.8 426.8h1.70v1.70h-1.70zM109.8 447.8h1.70v1.70h-1.70zM109.8 456.3h1.70v1.70h-1.70zM109.8 504.6h1.70v1.70h-1.70zM109.8 506.7h1.70v1.70h-1.70zM109.8 519.3h1.70v1.70h-1.70zM109.8 521.4h1.70v1.70h-1.70zM109.8 529.8h1.70v1.70h-1.70zM109.8 540.3h1.70v1.70h-1.70zM109.8 542.4h1.70v1.70h-1.70zM109.8 561.4h1.70v1.70h-1.70zM109.8 563.5h1.70v1.70h-1.70zM109.8 571.9h1.70v1.70h-1.70zM109.8 576.1h1.70v1.70h-1.70zM109.8 582.4h1.70v1.70h-1.70zM109.8 586.6h1.70v1.70h-1.70zM109.8 595.0h1.70v1.70h-1.70zM109.8 601.3h1.70v1.70h-1.70zM109.8 603.4h1.70v1.70h-1.70zM111.9 428.9h1.70v1.70h-1.70zM111.9 471.0h1.70v1.70h-1.70zM111.9 479.4h1.70v1.70h-1.70zM111.9 536.1h1.70v1.70h-1.70zM111.9 599.2h1.70v1.70h-1.70zM114.0 397.4h1.70v1.70h-1.70zM114.0 435.2h1.70v1.70h-1.70zM114.0 439.4h1.70v1.70h-1.70zM114.0 466.8h1.70v1.70h-1.70zM114.0 510.9h1.70v1.70h-1.70zM114.0 521.4h1.70v1.70h-1.70zM114.0 523.5h1.70v1.70h-1.70zM114.0 540.3h1.70v1.70h-1.70zM114.0 544.5h1.70v1.70h-1.70zM114.0 548.7h1.70v1.70h-1.70zM114.0 555.0h1.70v1.70h-1.70zM114.0 559.3h1.70v1.70h-1.70zM114.0 565.6h1.70v1.70h-1.70zM114.0 567.7h1.70v1.70h-1.70zM114.0 571.9h1.70v1.70h-1.70zM114.0 597.1h1.70v1.70h-1.70zM114.0 609.7h1.70v1.70h-1.70zM116.1 412.1h1.70v1.70h-1.70zM116.1 445.7h1.70v1.70h-1.70zM116.1 456.3h1.70v1.70h-1.70zM116.1 475.2h1.70v1.70h-1.70zM116.1 479.4h1.70v1.70h-1.70zM116.1 481.5h1.70v1.70h-1.70zM116.1 515.1h1.70v1.70h-1.70zM116.1 519.3h1.70v1.70h-1.70zM116.1 523.5h1.70v1.70h-1.70zM116.1 557.1h1.70v1.70h-1.70zM116.1 559.3h1.70v1.70h-1.70zM116.1 561.4h1.70v1.70h-1.70zM116.1 576.1h1.70v1.70h-1.70zM116.1 597.1h1.70v1.70h-1.70zM116.1 599.2h1.70v1.70h-1.70zM116.1 609.7h1.70v1.70h-1.70zM118.2 401.6h1.70v1.70h-1.70zM118.2 416.3h1.70v1.70h-1.70zM118.2 420.5h1.70v1.70h-1.70zM118.2 424.7h1.70v1.70h-1.70zM118.2 431.0h1.70v1.70h-1.70zM118.2 441.5h1.70v1.70h-1.70zM118.2 445.7h1.70v1.70h-1.70zM118.2 449.9h1.70v1.70h-1.70zM118.2 454.2h1.70v1.70h-1.70zM118.2 464.7h1.70v1.70h-1.70zM118.2 481.5h1.70v1.70h-1.70zM118.2 485.7h1.70v1.70h-1.70zM118.2 489.9h1.70v1.70h-1.70zM118.2 494.1h1.70v1.70h-1.70zM118.2 502.5h1.70v1.70h-1.70zM118.2 513.0h1.70v1.70h-1.70zM118.2 529.8h1.70v1.70h-1.70zM118.2 546.6h1.70v1.70h-1.70zM118.2 561.4h1.70v1.70h-1.70zM118.2 563.5h1.70v1.70h-1.70zM118.2 569.8h1.70v1.70h-1.70zM118.2 584.5h1.70v1.70h-1.70zM118.2 590.8h1.70v1.70h-1.70zM118.2 597.1h1.70v1.70h-1.70zM120.3 416.3h1.70v1.70h-1.70zM120.3 431.0h1.70v1.70h-1.70zM120.3 435.2h1.70v1.70h-1.70zM120.3 447.8h1.70v1.70h-1.70zM120.3 449.9h1.70v1.70h-1.70zM120.3 473.1h1.70v1.70h-1.70zM120.3 527.7h1.70v1.70h-1.70zM120.3 542.4h1.70v1.70h-1.70zM120.3 563.5h1.70v1.70h-1.70zM120.3 578.2h1.70v1.70h-1.70zM120.3 599.2h1.70v1.70h-1.70zM122.4 407.9h1.70v1.70h-1.70zM122.4 420.5h1.70v1.70h-1.70zM122.4 431.0h1.70v1.70h-1.70zM122.4 452.1h1.70v1.70h-1.70zM122.4 517.2h1.70v1.70h-1.70zM122.4 527.7h1.70v1.70h-1.70zM122.4 550.8h1.70v1.70h-1.70zM122.4 578.2h1.70v1.70h-1.70zM122.4 597.1h1.70v1.70h-1.70zM122.4 601.3h1.70v1.70h-1.70zM122.4 607.6h1.70v1.70h-1.70zM124.5 403.7h1.70v1.70h-1.70zM124.5 420.5h1.70v1.70h-1.70zM124.5 424.7h1.70v1.70h-1.70zM124.5 428.9h1.70v1.70h-1.70zM124.5 439.4h1.70v1.70h-1.70zM124.5 477.3h1.70v1.70h-1.70zM124.5 479.4h1.70v1.70h-1.70zM124.5 489.9h1.70v1.70h-1.70zM124.5 510.9h1.70v1.70h-1.70zM124.5 513.0h1.70v1.70h-1.70zM124.5 527.7h1.70v1.70h-1.70zM124.5 529.8h1.70v1.70h-1.70zM124.5 567.7h1.70v1.70h-1.70zM124.5 569.8h1.70v1.70h-1.70zM124.5 590.8h1.70v1.70h-1.70zM124.5 599.2h1.70v1.70h-1.70zM124.5 603.4h1.70v1.70h-1.70zM126.6 407.9h1.70v1.70h-1.70zM126.6 418.4h1.70v1.70h-1.70zM126.6 424.7h1.70v1.70h-1.70zM126.6 449.9h1.70v1.70h-1.70zM126.6 489.9h1.70v1.70h-1.70zM126.6 502.5h1.70v1.70h-1.70zM126.6 527.7h1.70v1.70h-1.70zM126.6 546.6h1.70v1.70h-1.70zM126.6 555.0h1.70v1.70h-1.70zM126.6 567.7h1.70v1.70h-1.70zM126.6 571.9h1.70v1.70h-1.70zM126.6 578.2h1.70v1.70h-1.70zM126.6 586.6h1.70v1.70h-1.70zM126.6 597.1h1.70v1.70h-1.70zM126.6 599.2h1.70v1.70h-1.70zM126.6 607.6h1.70v1.70h-1.70zM128.7 410.0h1.70v1.70h-1.70zM128.7 418.4h1.70v1.70h-1.70zM128.7 439.4h1.70v1.70h-1.70zM128.7 445.7h1.70v1.70h-1.70zM128.7 454.2h1.70v1.70h-1.70zM128.7 462.6h1.70v1.70h-1.70zM128.7 475.2h1.70v1.70h-1.70zM128.7 504.6h1.70v1.70h-1.70zM128.7 508.8h1.70v1.70h-1.70zM128.7 517.2h1.70v1.70h-1.70zM128.7 521.4h1.70v1.70h-1.70zM128.7 536.1h1.70v1.70h-1.70zM128.7 557.1h1.70v1.70h-1.70zM128.7 563.5h1.70v1.70h-1.70zM128.7 578.2h1.70v1.70h-1.70zM128.7 582.4h1.70v1.70h-1.70zM128.7 597.1h1.70v1.70h-1.70zM130.8 397.4h1.70v1.70h-1.70zM130.8 410.0h1.70v1.70h-1.70zM130.8 422.6h1.70v1.70h-1.70zM130.8 426.8h1.70v1.70h-1.70zM130.8 428.9h1.70v1.70h-1.70zM130.8 431.0h1.70v1.70h-1.70zM130.8 449.9h1.70v1.70h-1.70zM130.8 452.1h1.70v1.70h-1.70zM130.8 460.5h1.70v1.70h-1.70zM130.8 464.7h1.70v1.70h-1.70zM130.8 466.8h1.70v1.70h-1.70zM130.8 479.4h1.70v1.70h-1.70zM130.8 481.5h1.70v1.70h-1.70zM130.8 483.6h1.70v1.70h-1.70zM130.8 496.2h1.70v1.70h-1.70zM130.8 515.1h1.70v1.70h-1.70zM130.8 519.3h1.70v1.70h-1.70zM130.8 523.5h1.70v1.70h-1.70zM130.8 542.4h1.70v1.70h-1.70zM130.8 565.6h1.70v1.70h-1.70zM130.8 569.8h1.70v1.70h-1.70zM130.8 582.4h1.70v1.70h-1.70zM130.8 584.5h1.70v1.70h-1.70zM130.8 586.6h1.70v1.70h-1.70zM130.8 609.7h1.70v1.70h-1.70zM132.9 412.1h1.70v1.70h-1.70zM132.9 420.5h1.70v1.70h-1.70zM132.9 452.1h1.70v1.70h-1.70zM132.9 468.9h1.70v1.70h-1.70zM132.9 502.5h1.70v1.70h-1.70zM132.9 521.4h1.70v1.70h-1.70zM132.9 525.6h1.70v1.70h-1.70zM132.9 529.8h1.70v1.70h-1.70zM132.9 555.0h1.70v1.70h-1.70zM132.9 574.0h1.70v1.70h-1.70zM135.0 428.9h1.70v1.70h-1.70zM135.0 441.5h1.70v1.70h-1.70zM135.0 445.7h1.70v1.70h-1.70zM135.0 460.5h1.70v1.70h-1.70zM135.0 475.2h1.70v1.70h-1.70zM135.0 492.0h1.70v1.70h-1.70zM135.0 496.2h1.70v1.70h-1.70zM135.0 531.9h1.70v1.70h-1.70zM135.0 534.0h1.70v1.70h-1.70zM135.0 555.0h1.70v1.70h-1.70zM135.0 569.8h1.70v1.70h-1.70zM135.0 580.3h1.70v1.70h-1.70zM137.1 397.4h1.70v1.70h-1.70zM137.1 405.8h1.70v1.70h-1.70zM137.1 410.0h1.70v1.70h-1.70zM137.1 412.1h1.70v1.70h-1.70zM137.1 414.2h1.70v1.70h-1.70zM137.1 426.8h1.70v1.70h-1.70zM137.1 462.6h1.70v1.70h-1.70zM137.1 464.7h1.70v1.70h-1.70zM137.1 466.8h1.70v1.70h-1.70zM137.1 468.9h1.70v1.70h-1.70zM137.1 492.0h1.70v1.70h-1.70zM137.1 510.9h1.70v1.70h-1.70zM137.1 536.1h1.70v1.70h-1.70zM137.1 555.0h1.70v1.70h-1.70zM137.1 561.4h1.70v1.70h-1.70zM137.1 567.7h1.70v1.70h-1.70zM137.1 571.9h1.70v1.70h-1.70zM137.1 580.3h1.70v1.70h-1.70zM137.1 597.1h1.70v1.70h-1.70zM139.2 407.9h1.70v1.70h-1.70zM139.2 433.1h1.70v1.70h-1.70zM139.2 445.7h1.70v1.70h-1.70zM139.2 449.9h1.70v1.70h-1.70zM139.2 452.1h1.70v1.70h-1.70zM139.2 454.2h1.70v1.70h-1.70zM139.2 456.3h1.70v1.70h-1.70zM139.2 460.5h1.70v1.70h-1.70zM139.2 462.6h1.70v1.70h-1.70zM139.2 466.8h1.70v1.70h-1.70zM139.2 506.7h1.70v1.70h-1.70zM139.2 508.8h1.70v1.70h-1.70zM139.2 519.3h1.70v1.70h-1.70zM139.2 527.7h1.70v1.70h-1.70zM139.2 538.2h1.70v1.70h-1.70zM139.2 559.3h1.70v1.70h-1.70zM139.2 590.8h1.70v1.70h-1.70zM139.2 599.2h1.70v1.70h-1.70zM141.3 397.4h1.70v1.70h-1.70zM141.3 437.3h1.70v1.70h-1.70zM141.3 447.8h1.70v1.70h-1.70zM141.3 449.9h1.70v1.70h-1.70zM141.3 460.5h1.70v1.70h-1.70zM141.3 471.0h1.70v1.70h-1.70zM141.3 481.5h1.70v1.70h-1.70zM141.3 483.6h1.70v1.70h-1.70zM141.3 487.8h1.70v1.70h-1.70zM141.3 494.1h1.70v1.70h-1.70zM141.3 500.4h1.70v1.70h-1.70zM141.3 502.5h1.70v1.70h-1.70zM141.3 515.1h1.70v1.70h-1.70zM141.3 517.2h1.70v1.70h-1.70zM141.3 519.3h1.70v1.70h-1.70zM141.3 536.1h1.70v1.70h-1.70zM141.3 548.7h1.70v1.70h-1.70zM141.3 552.9h1.70v1.70h-1.70zM141.3 557.1h1.70v1.70h-1.70zM141.3 559.3h1.70v1.70h-1.70zM141.3 565.6h1.70v1.70h-1.70zM141.3 574.0h1.70v1.70h-1.70zM141.3 578.2h1.70v1.70h-1.70zM141.3 588.7h1.70v1.70h-1.70zM141.3 590.8h1.70v1.70h-1.70zM141.3 601.3h1.70v1.70h-1.70zM143.4 397.4h1.70v1.70h-1.70zM143.4 407.9h1.70v1.70h-1.70zM143.4 475.2h1.70v1.70h-1.70zM143.4 496.2h1.70v1.70h-1.70zM143.4 498.3h1.70v1.70h-1.70zM143.4 513.0h1.70v1.70h-1.70zM143.4 523.5h1.70v1.70h-1.70zM143.4 525.6h1.70v1.70h-1.70zM143.4 540.3h1.70v1.70h-1.70zM143.4 546.6h1.70v1.70h-1.70zM143.4 569.8h1.70v1.70h-1.70zM143.4 576.1h1.70v1.70h-1.70zM143.4 590.8h1.70v1.70h-1.70zM143.4 601.3h1.70v1.70h-1.70zM145.5 405.8h1.70v1.70h-1.70zM145.5 416.3h1.70v1.70h-1.70zM145.5 424.7h1.70v1.70h-1.70zM145.5 426.8h1.70v1.70h-1.70zM145.5 431.0h1.70v1.70h-1.70zM145.5 475.2h1.70v1.70h-1.70zM145.5 496.2h1.70v1.70h-1.70zM145.5 500.4h1.70v1.70h-1.70zM145.5 504.6h1.70v1.70h-1.70zM145.5 506.7h1.70v1.70h-1.70zM145.5 546.6h1.70v1.70h-1.70zM145.5 563.5h1.70v1.70h-1.70zM145.5 571.9h1.70v1.70h-1.70zM145.5 576.1h1.70v1.70h-1.70zM145.5 578.2h1.70v1.70h-1.70zM145.5 590.8h1.70v1.70h-1.70zM145.5 592.9h1.70v1.70h-1.70zM147.6 435.2h1.70v1.70h-1.70zM147.6 439.4h1.70v1.70h-1.70zM147.6 445.7h1.70v1.70h-1.70zM147.6 449.9h1.70v1.70h-1.70zM147.6 452.1h1.70v1.70h-1.70zM147.6 479.4h1.70v1.70h-1.70zM147.6 481.5h1.70v1.70h-1.70zM147.6 483.6h1.70v1.70h-1.70zM147.6 487.8h1.70v1.70h-1.70zM147.6 494.1h1.70v1.70h-1.70zM147.6 504.6h1.70v1.70h-1.70zM147.6 519.3h1.70v1.70h-1.70zM147.6 534.0h1.70v1.70h-1.70zM147.6 538.2h1.70v1.70h-1.70zM147.6 540.3h1.70v1.70h-1.70zM147.6 546.6h1.70v1.70h-1.70zM147.6 555.0h1.70v1.70h-1.70zM147.6 565.6h1.70v1.70h-1.70zM147.6 571.9h1.70v1.70h-1.70zM147.6 574.0h1.70v1.70h-1.70zM147.6 590.8h1.70v1.70h-1.70zM147.6 605.5h1.70v1.70h-1.70zM149.7 401.6h1.70v1.70h-1.70zM149.7 418.4h1.70v1.70h-1.70zM149.7 422.6h1.70v1.70h-1.70zM149.7 428.9h1.70v1.70h-1.70zM149.7 431.0h1.70v1.70h-1.70zM149.7 441.5h1.70v1.70h-1.70zM149.7 447.8h1.70v1.70h-1.70zM149.7 456.3h1.70v1.70h-1.70zM149.7 466.8h1.70v1.70h-1.70zM149.7 479.4h1.70v1.70h-1.70zM149.7 483.6h1.70v1.70h-1.70zM149.7 489.9h1.70v1.70h-1.70zM149.7 496.2h1.70v1.70h-1.70zM149.7 498.3h1.70v1.70h-1.70zM149.7 500.4h1.70v1.70h-1.70zM149.7 502.5h1.70v1.70h-1.70zM149.7 515.1h1.70v1.70h-1.70zM149.7 519.3h1.70v1.70h-1.70zM149.7 525.6h1.70v1.70h-1.70zM149.7 540.3h1.70v1.70h-1.70zM149.7 546.6h1.70v1.70h-1.70zM149.7 550.8h1.70v1.70h-1.70zM149.7 557.1h1.70v1.70h-1.70zM149.7 559.3h1.70v1.70h-1.70zM149.7 561.4h1.70v1.70h-1.70zM149.7 565.6h1.70v1.70h-1.70zM149.7 576.1h1.70v1.70h-1.70zM149.7 580.3h1.70v1.70h-1.70zM149.7 582.4h1.70v1.70h-1.70zM149.7 592.9h1.70v1.70h-1.70zM149.7 605.5h1.70v1.70h-1.70zM149.7 607.6h1.70v1.70h-1.70zM151.8 399.5h1.70v1.70h-1.70zM151.8 416.3h1.70v1.70h-1.70zM151.8 449.9h1.70v1.70h-1.70zM151.8 462.6h1.70v1.70h-1.70zM151.8 498.3h1.70v1.70h-1.70zM151.8 502.5h1.70v1.70h-1.70zM151.8 582.4h1.70v1.70h-1.70zM153.9 431.0h1.70v1.70h-1.70zM153.9 447.8h1.70v1.70h-1.70zM153.9 475.2h1.70v1.70h-1.70zM153.9 483.6h1.70v1.70h-1.70zM153.9 485.7h1.70v1.70h-1.70zM153.9 494.1h1.70v1.70h-1.70zM153.9 496.2h1.70v1.70h-1.70zM153.9 498.3h1.70v1.70h-1.70zM153.9 508.8h1.70v1.70h-1.70zM153.9 510.9h1.70v1.70h-1.70zM153.9 515.1h1.70v1.70h-1.70zM153.9 525.6h1.70v1.70h-1.70zM153.9 529.8h1.70v1.70h-1.70zM153.9 536.1h1.70v1.70h-1.70zM153.9 544.5h1.70v1.70h-1.70zM153.9 550.8h1.70v1.70h-1.70zM153.9 574.0h1.70v1.70h-1.70zM153.9 576.1h1.70v1.70h-1.70zM153.9 588.7h1.70v1.70h-1.70zM153.9 590.8h1.70v1.70h-1.70zM153.9 607.6h1.70v1.70h-1.70zM156.0 407.9h1.70v1.70h-1.70zM156.0 410.0h1.70v1.70h-1.70zM156.0 416.3h1.70v1.70h-1.70zM156.0 428.9h1.70v1.70h-1.70zM156.0 435.2h1.70v1.70h-1.70zM156.0 449.9h1.70v1.70h-1.70zM156.0 456.3h1.70v1.70h-1.70zM156.0 460.5h1.70v1.70h-1.70zM156.0 462.6h1.70v1.70h-1.70zM156.0 487.8h1.70v1.70h-1.70zM156.0 494.1h1.70v1.70h-1.70zM156.0 500.4h1.70v1.70h-1.70zM156.0 540.3h1.70v1.70h-1.70zM156.0 552.9h1.70v1.70h-1.70zM156.0 555.0h1.70v1.70h-1.70zM156.0 567.7h1.70v1.70h-1.70zM156.0 584.5h1.70v1.70h-1.70zM156.0 603.4h1.70v1.70h-1.70zM158.1 403.7h1.70v1.70h-1.70zM158.1 458.4h1.70v1.70h-1.70zM158.1 464.7h1.70v1.70h-1.70zM158.1 477.3h1.70v1.70h-1.70zM158.1 481.5h1.70v1.70h-1.70zM158.1 487.8h1.70v1.70h-1.70zM158.1 492.0h1.70v1.70h-1.70zM158.1 498.3h1.70v1.70h-1.70zM158.1 519.3h1.70v1.70h-1.70zM158.1 521.4h1.70v1.70h-1.70zM158.1 523.5h1.70v1.70h-1.70zM158.1 536.1h1.70v1.70h-1.70zM158.1 561.4h1.70v1.70h-1.70zM158.1 571.9h1.70v1.70h-1.70zM158.1 607.6h1.70v1.70h-1.70zM160.2 412.1h1.70v1.70h-1.70zM160.2 416.3h1.70v1.70h-1.70zM160.2 424.7h1.70v1.70h-1.70zM160.2 439.4h1.70v1.70h-1.70zM160.2 458.4h1.70v1.70h-1.70zM160.2 477.3h1.70v1.70h-1.70zM160.2 487.8h1.70v1.70h-1.70zM160.2 500.4h1.70v1.70h-1.70zM160.2 527.7h1.70v1.70h-1.70zM160.2 550.8h1.70v1.70h-1.70zM160.2 555.0h1.70v1.70h-1.70zM160.2 563.5h1.70v1.70h-1.70zM160.2 578.2h1.70v1.70h-1.70zM160.2 584.5h1.70v1.70h-1.70zM160.2 592.9h1.70v1.70h-1.70zM160.2 603.4h1.70v1.70h-1.70zM162.3 397.4h1.70v1.70h-1.70zM162.3 410.0h1.70v1.70h-1.70zM162.3 414.2h1.70v1.70h-1.70zM162.3 416.3h1.70v1.70h-1.70zM162.3 418.4h1.70v1.70h-1.70zM162.3 431.0h1.70v1.70h-1.70zM162.3 435.2h1.70v1.70h-1.70zM162.3 452.1h1.70v1.70h-1.70zM162.3 473.1h1.70v1.70h-1.70zM162.3 492.0h1.70v1.70h-1.70zM162.3 498.3h1.70v1.70h-1.70zM162.3 517.2h1.70v1.70h-1.70zM162.3 519.3h1.70v1.70h-1.70zM162.3 565.6h1.70v1.70h-1.70zM162.3 569.8h1.70v1.70h-1.70zM162.3 590.8h1.70v1.70h-1.70zM162.3 592.9h1.70v1.70h-1.70zM162.3 595.0h1.70v1.70h-1.70zM162.3 599.2h1.70v1.70h-1.70zM164.4 399.5h1.70v1.70h-1.70zM164.4 414.2h1.70v1.70h-1.70zM164.4 439.4h1.70v1.70h-1.70zM164.4 456.3h1.70v1.70h-1.70zM164.4 475.2h1.70v1.70h-1.70zM164.4 477.3h1.70v1.70h-1.70zM164.4 481.5h1.70v1.70h-1.70zM164.4 483.6h1.70v1.70h-1.70zM164.4 498.3h1.70v1.70h-1.70zM164.4 521.4h1.70v1.70h-1.70zM164.4 523.5h1.70v1.70h-1.70zM164.4 557.1h1.70v1.70h-1.70zM164.4 571.9h1.70v1.70h-1.70zM164.4 578.2h1.70v1.70h-1.70zM164.4 603.4h1.70v1.70h-1.70zM166.5 397.4h1.70v1.70h-1.70zM166.5 405.8h1.70v1.70h-1.70zM166.5 407.9h1.70v1.70h-1.70zM166.5 443.6h1.70v1.70h-1.70zM166.5 462.6h1.70v1.70h-1.70zM166.5 468.9h1.70v1.70h-1.70zM166.5 477.3h1.70v1.70h-1.70zM166.5 479.4h1.70v1.70h-1.70zM166.5 483.6h1.70v1.70h-1.70zM166.5 489.9h1.70v1.70h-1.70zM166.5 504.6h1.70v1.70h-1.70zM166.5 506.7h1.70v1.70h-1.70zM166.5 510.9h1.70v1.70h-1.70zM166.5 513.0h1.70v1.70h-1.70zM166.5 525.6h1.70v1.70h-1.70zM166.5 529.8h1.70v1.70h-1.70zM166.5 540.3h1.70v1.70h-1.70zM166.5 546.6h1.70v1.70h-1.70zM166.5 548.7h1.70v1.70h-1.70zM166.5 571.9h1.70v1.70h-1.70zM166.5 576.1h1.70v1.70h-1.70zM166.5 590.8h1.70v1.70h-1.70zM166.5 599.2h1.70v1.70h-1.70zM166.5 609.7h1.70v1.70h-1.70zM168.6 435.2h1.70v1.70h-1.70zM168.6 437.3h1.70v1.70h-1.70zM168.6 439.4h1.70v1.70h-1.70zM168.6 449.9h1.70v1.70h-1.70zM168.6 458.4h1.70v1.70h-1.70zM168.6 475.2h1.70v1.70h-1.70zM168.6 525.6h1.70v1.70h-1.70zM168.6 555.0h1.70v1.70h-1.70zM168.6 557.1h1.70v1.70h-1.70zM168.6 567.7h1.70v1.70h-1.70zM168.6 592.9h1.70v1.70h-1.70zM170.7 410.0h1.70v1.70h-1.70zM170.7 418.4h1.70v1.70h-1.70zM170.7 502.5h1.70v1.70h-1.70zM170.7 519.3h1.70v1.70h-1.70zM170.7 525.6h1.70v1.70h-1.70zM170.7 531.9h1.70v1.70h-1.70zM170.7 538.2h1.70v1.70h-1.70zM170.7 542.4h1.70v1.70h-1.70zM170.7 561.4h1.70v1.70h-1.70zM170.7 571.9h1.70v1.70h-1.70zM170.7 580.3h1.70v1.70h-1.70zM170.7 590.8h1.70v1.70h-1.70zM170.7 599.2h1.70v1.70h-1.70zM170.7 603.4h1.70v1.70h-1.70zM172.8 399.5h1.70v1.70h-1.70zM172.8 431.0h1.70v1.70h-1.70zM172.8 449.9h1.70v1.70h-1.70zM172.8 454.2h1.70v1.70h-1.70zM172.8 462.6h1.70v1.70h-1.70zM172.8 485.7h1.70v1.70h-1.70zM172.8 496.2h1.70v1.70h-1.70zM172.8 498.3h1.70v1.70h-1.70zM172.8 500.4h1.70v1.70h-1.70zM172.8 504.6h1.70v1.70h-1.70zM172.8 508.8h1.70v1.70h-1.70zM172.8 531.9h1.70v1.70h-1.70zM172.8 567.7h1.70v1.70h-1.70zM172.8 603.4h1.70v1.70h-1.70zM172.8 605.5h1.70v1.70h-1.70zM174.9 412.1h1.70v1.70h-1.70zM174.9 426.8h1.70v1.70h-1.70zM174.9 433.1h1.70v1.70h-1.70zM174.9 447.8h1.70v1.70h-1.70zM174.9 452.1h1.70v1.70h-1.70zM174.9 485.7h1.70v1.70h-1.70zM174.9 492.0h1.70v1.70h-1.70zM174.9 502.5h1.70v1.70h-1.70zM174.9 525.6h1.70v1.70h-1.70zM174.9 540.3h1.70v1.70h-1.70zM174.9 550.8h1.70v1.70h-1.70zM174.9 561.4h1.70v1.70h-1.70zM174.9 565.6h1.70v1.70h-1.70zM174.9 571.9h1.70v1.70h-1.70zM174.9 582.4h1.70v1.70h-1.70zM174.9 584.5h1.70v1.70h-1.70zM174.9 586.6h1.70v1.70h-1.70zM174.9 588.7h1.70v1.70h-1.70zM174.9 595.0h1.70v1.70h-1.70zM174.9 599.2h1.70v1.70h-1.70zM174.9 605.5h1.70v1.70h-1.70z"/><path fill="#302404" d="M38.4 407.9h1.70v1.70h-1.70zM38.4 414.2h1.70v1.70h-1.70zM38.4 420.5h1.70v1.70h-1.70zM38.4 428.9h1.70v1.70h-1.70zM38.4 443.6h1.70v1.70h-1.70zM38.4 464.7h1.70v1.70h-1.70zM38.4 466.8h1.70v1.70h-1.70zM38.4 475.2h1.70v1.70h-1.70zM38.4 479.4h1.70v1.70h-1.70zM38.4 502.5h1.70v1.70h-1.70zM38.4 544.5h1.70v1.70h-1.70zM38.4 561.4h1.70v1.70h-1.70zM38.4 582.4h1.70v1.70h-1.70zM38.4 588.7h1.70v1.70h-1.70zM38.4 601.3h1.70v1.70h-1.70zM40.5 397.4h1.70v1.70h-1.70zM40.5 401.6h1.70v1.70h-1.70zM40.5 420.5h1.70v1.70h-1.70zM40.5 447.8h1.70v1.70h-1.70zM40.5 452.1h1.70v1.70h-1.70zM40.5 456.3h1.70v1.70h-1.70zM40.5 458.4h1.70v1.70h-1.70zM40.5 481.5h1.70v1.70h-1.70zM40.5 494.1h1.70v1.70h-1.70zM40.5 498.3h1.70v1.70h-1.70zM40.5 536.1h1.70v1.70h-1.70zM40.5 548.7h1.70v1.70h-1.70zM40.5 550.8h1.70v1.70h-1.70zM40.5 557.1h1.70v1.70h-1.70zM40.5 563.5h1.70v1.70h-1.70zM40.5 586.6h1.70v1.70h-1.70zM40.5 588.7h1.70v1.70h-1.70zM40.5 590.8h1.70v1.70h-1.70zM42.6 399.5h1.70v1.70h-1.70zM42.6 456.3h1.70v1.70h-1.70zM42.6 458.4h1.70v1.70h-1.70zM42.6 536.1h1.70v1.70h-1.70zM42.6 538.2h1.70v1.70h-1.70zM42.6 542.4h1.70v1.70h-1.70zM42.6 569.8h1.70v1.70h-1.70zM42.6 588.7h1.70v1.70h-1.70zM42.6 609.7h1.70v1.70h-1.70zM44.7 422.6h1.70v1.70h-1.70zM44.7 473.1h1.70v1.70h-1.70zM44.7 496.2h1.70v1.70h-1.70zM44.7 498.3h1.70v1.70h-1.70zM44.7 502.5h1.70v1.70h-1.70zM44.7 523.5h1.70v1.70h-1.70zM44.7 538.2h1.70v1.70h-1.70zM44.7 555.0h1.70v1.70h-1.70zM44.7 563.5h1.70v1.70h-1.70zM44.7 567.7h1.70v1.70h-1.70zM44.7 578.2h1.70v1.70h-1.70zM44.7 586.6h1.70v1.70h-1.70zM46.8 510.9h1.70v1.70h-1.70zM46.8 523.5h1.70v1.70h-1.70zM46.8 529.8h1.70v1.70h-1.70zM46.8 559.3h1.70v1.70h-1.70zM46.8 561.4h1.70v1.70h-1.70zM46.8 569.8h1.70v1.70h-1.70zM46.8 574.0h1.70v1.70h-1.70zM46.8 576.1h1.70v1.70h-1.70zM46.8 588.7h1.70v1.70h-1.70zM46.8 590.8h1.70v1.70h-1.70zM48.9 412.1h1.70v1.70h-1.70zM48.9 416.3h1.70v1.70h-1.70zM48.9 426.8h1.70v1.70h-1.70zM48.9 439.4h1.70v1.70h-1.70zM48.9 454.2h1.70v1.70h-1.70zM48.9 460.5h1.70v1.70h-1.70zM48.9 466.8h1.70v1.70h-1.70zM48.9 494.1h1.70v1.70h-1.70zM48.9 502.5h1.70v1.70h-1.70zM48.9 506.7h1.70v1.70h-1.70zM48.9 515.1h1.70v1.70h-1.70zM48.9 517.2h1.70v1.70h-1.70zM48.9 521.4h1.70v1.70h-1.70zM48.9 529.8h1.70v1.70h-1.70zM48.9 540.3h1.70v1.70h-1.70zM48.9 544.5h1.70v1.70h-1.70zM48.9 555.0h1.70v1.70h-1.70zM48.9 571.9h1.70v1.70h-1.70zM48.9 574.0h1.70v1.70h-1.70zM48.9 576.1h1.70v1.70h-1.70zM48.9 578.2h1.70v1.70h-1.70zM48.9 580.3h1.70v1.70h-1.70zM48.9 592.9h1.70v1.70h-1.70zM48.9 609.7h1.70v1.70h-1.70zM51.0 449.9h1.70v1.70h-1.70zM51.0 471.0h1.70v1.70h-1.70zM51.0 492.0h1.70v1.70h-1.70zM51.0 498.3h1.70v1.70h-1.70zM51.0 504.6h1.70v1.70h-1.70zM51.0 506.7h1.70v1.70h-1.70zM51.0 523.5h1.70v1.70h-1.70zM51.0 548.7h1.70v1.70h-1.70zM51.0 555.0h1.70v1.70h-1.70zM51.0 561.4h1.70v1.70h-1.70zM51.0 571.9h1.70v1.70h-1.70zM51.0 574.0h1.70v1.70h-1.70zM51.0 576.1h1.70v1.70h-1.70zM51.0 597.1h1.70v1.70h-1.70zM53.1 397.4h1.70v1.70h-1.70zM53.1 405.8h1.70v1.70h-1.70zM53.1 428.9h1.70v1.70h-1.70zM53.1 437.3h1.70v1.70h-1.70zM53.1 449.9h1.70v1.70h-1.70zM53.1 452.1h1.70v1.70h-1.70zM53.1 454.2h1.70v1.70h-1.70zM53.1 458.4h1.70v1.70h-1.70zM53.1 464.7h1.70v1.70h-1.70zM53.1 471.0h1.70v1.70h-1.70zM53.1 475.2h1.70v1.70h-1.70zM53.1 483.6h1.70v1.70h-1.70zM53.1 496.2h1.70v1.70h-1.70zM53.1 502.5h1.70v1.70h-1.70zM53.1 523.5h1.70v1.70h-1.70zM53.1 536.1h1.70v1.70h-1.70zM53.1 546.6h1.70v1.70h-1.70zM53.1 548.7h1.70v1.70h-1.70zM53.1 592.9h1.70v1.70h-1.70zM55.2 397.4h1.70v1.70h-1.70zM55.2 418.4h1.70v1.70h-1.70zM55.2 437.3h1.70v1.70h-1.70zM55.2 447.8h1.70v1.70h-1.70zM55.2 454.2h1.70v1.70h-1.70zM55.2 460.5h1.70v1.70h-1.70zM55.2 462.6h1.70v1.70h-1.70zM55.2 468.9h1.70v1.70h-1.70zM55.2 477.3h1.70v1.70h-1.70zM55.2 494.1h1.70v1.70h-1.70zM55.2 510.9h1.70v1.70h-1.70zM55.2 521.4h1.70v1.70h-1.70zM55.2 550.8h1.70v1.70h-1.70zM55.2 565.6h1.70v1.70h-1.70zM55.2 569.8h1.70v1.70h-1.70zM57.3 397.4h1.70v1.70h-1.70zM57.3 424.7h1.70v1.70h-1.70zM57.3 437.3h1.70v1.70h-1.70zM57.3 443.6h1.70v1.70h-1.70zM57.3 445.7h1.70v1.70h-1.70zM57.3 471.0h1.70v1.70h-1.70zM57.3 479.4h1.70v1.70h-1.70zM57.3 502.5h1.70v1.70h-1.70zM57.3 504.6h1.70v1.70h-1.70zM57.3 506.7h1.70v1.70h-1.70zM57.3 513.0h1.70v1.70h-1.70zM57.3 517.2h1.70v1.70h-1.70zM57.3 536.1h1.70v1.70h-1.70zM57.3 540.3h1.70v1.70h-1.70zM57.3 542.4h1.70v1.70h-1.70zM57.3 555.0h1.70v1.70h-1.70zM57.3 574.0h1.70v1.70h-1.70zM57.3 588.7h1.70v1.70h-1.70zM57.3 597.1h1.70v1.70h-1.70zM59.4 416.3h1.70v1.70h-1.70zM59.4 422.6h1.70v1.70h-1.70zM59.4 424.7h1.70v1.70h-1.70zM59.4 431.0h1.70v1.70h-1.70zM59.4 443.6h1.70v1.70h-1.70zM59.4 456.3h1.70v1.70h-1.70zM59.4 460.5h1.70v1.70h-1.70zM59.4 479.4h1.70v1.70h-1.70zM59.4 496.2h1.70v1.70h-1.70zM59.4 521.4h1.70v1.70h-1.70zM59.4 563.5h1.70v1.70h-1.70zM59.4 567.7h1.70v1.70h-1.70zM59.4 571.9h1.70v1.70h-1.70zM59.4 590.8h1.70v1.70h-1.70zM61.5 407.9h1.70v1.70h-1.70zM61.5 410.0h1.70v1.70h-1.70zM61.5 424.7h1.70v1.70h-1.70zM61.5 433.1h1.70v1.70h-1.70zM61.5 437.3h1.70v1.70h-1.70zM61.5 441.5h1.70v1.70h-1.70zM61.5 443.6h1.70v1.70h-1.70zM61.5 445.7h1.70v1.70h-1.70zM61.5 449.9h1.70v1.70h-1.70zM61.5 458.4h1.70v1.70h-1.70zM61.5 466.8h1.70v1.70h-1.70zM61.5 477.3h1.70v1.70h-1.70zM61.5 483.6h1.70v1.70h-1.70zM61.5 519.3h1.70v1.70h-1.70zM61.5 529.8h1.70v1.70h-1.70zM61.5 538.2h1.70v1.70h-1.70zM61.5 542.4h1.70v1.70h-1.70zM61.5 565.6h1.70v1.70h-1.70zM61.5 569.8h1.70v1.70h-1.70zM61.5 576.1h1.70v1.70h-1.70zM63.6 422.6h1.70v1.70h-1.70zM63.6 424.7h1.70v1.70h-1.70zM63.6 460.5h1.70v1.70h-1.70zM63.6 471.0h1.70v1.70h-1.70zM63.6 473.1h1.70v1.70h-1.70zM63.6 479.4h1.70v1.70h-1.70zM63.6 485.7h1.70v1.70h-1.70zM63.6 517.2h1.70v1.70h-1.70zM63.6 527.7h1.70v1.70h-1.70zM63.6 531.9h1.70v1.70h-1.70zM63.6 534.0h1.70v1.70h-1.70zM63.6 536.1h1.70v1.70h-1.70zM63.6 542.4h1.70v1.70h-1.70zM63.6 580.3h1.70v1.70h-1.70zM63.6 592.9h1.70v1.70h-1.70zM65.7 433.1h1.70v1.70h-1.70zM65.7 471.0h1.70v1.70h-1.70zM65.7 475.2h1.70v1.70h-1.70zM65.7 481.5h1.70v1.70h-1.70zM65.7 498.3h1.70v1.70h-1.70zM65.7 506.7h1.70v1.70h-1.70zM65.7 525.6h1.70v1.70h-1.70zM65.7 531.9h1.70v1.70h-1.70zM65.7 550.8h1.70v1.70h-1.70zM65.7 552.9h1.70v1.70h-1.70zM65.7 561.4h1.70v1.70h-1.70zM65.7 565.6h1.70v1.70h-1.70zM65.7 586.6h1.70v1.70h-1.70zM65.7 609.7h1.70v1.70h-1.70zM67.8 420.5h1.70v1.70h-1.70zM67.8 431.0h1.70v1.70h-1.70zM67.8 445.7h1.70v1.70h-1.70zM67.8 454.2h1.70v1.70h-1.70zM67.8 471.0h1.70v1.70h-1.70zM67.8 489.9h1.70v1.70h-1.70zM67.8 506.7h1.70v1.70h-1.70zM67.8 521.4h1.70v1.70h-1.70zM67.8 534.0h1.70v1.70h-1.70zM67.8 540.3h1.70v1.70h-1.70zM67.8 542.4h1.70v1.70h-1.70zM67.8 546.6h1.70v1.70h-1.70zM67.8 550.8h1.70v1.70h-1.70zM67.8 552.9h1.70v1.70h-1.70zM67.8 561.4h1.70v1.70h-1.70zM67.8 563.5h1.70v1.70h-1.70zM67.8 580.3h1.70v1.70h-1.70zM67.8 601.3h1.70v1.70h-1.70zM69.9 403.7h1.70v1.70h-1.70zM69.9 405.8h1.70v1.70h-1.70zM69.9 407.9h1.70v1.70h-1.70zM69.9 428.9h1.70v1.70h-1.70zM69.9 437.3h1.70v1.70h-1.70zM69.9 447.8h1.70v1.70h-1.70zM69.9 449.9h1.70v1.70h-1.70zM69.9 462.6h1.70v1.70h-1.70zM69.9 471.0h1.70v1.70h-1.70zM69.9 487.8h1.70v1.70h-1.70zM69.9 489.9h1.70v1.70h-1.70zM69.9 496.2h1.70v1.70h-1.70zM69.9 504.6h1.70v1.70h-1.70zM69.9 523.5h1.70v1.70h-1.70zM69.9 563.5h1.70v1.70h-1.70zM69.9 571.9h1.70v1.70h-1.70zM69.9 580.3h1.70v1.70h-1.70zM69.9 588.7h1.70v1.70h-1.70zM69.9 597.1h1.70v1.70h-1.70zM69.9 605.5h1.70v1.70h-1.70zM72.0 403.7h1.70v1.70h-1.70zM72.0 414.2h1.70v1.70h-1.70zM72.0 424.7h1.70v1.70h-1.70zM72.0 428.9h1.70v1.70h-1.70zM72.0 447.8h1.70v1.70h-1.70zM72.0 454.2h1.70v1.70h-1.70zM72.0 458.4h1.70v1.70h-1.70zM72.0 477.3h1.70v1.70h-1.70zM72.0 479.4h1.70v1.70h-1.70zM72.0 483.6h1.70v1.70h-1.70zM72.0 485.7h1.70v1.70h-1.70zM72.0 489.9h1.70v1.70h-1.70zM72.0 523.5h1.70v1.70h-1.70zM72.0 534.0h1.70v1.70h-1.70zM72.0 542.4h1.70v1.70h-1.70zM72.0 557.1h1.70v1.70h-1.70zM72.0 584.5h1.70v1.70h-1.70zM72.0 607.6h1.70v1.70h-1.70zM74.1 397.4h1.70v1.70h-1.70zM74.1 405.8h1.70v1.70h-1.70zM74.1 412.1h1.70v1.70h-1.70zM74.1 420.5h1.70v1.70h-1.70zM74.1 424.7h1.70v1.70h-1.70zM74.1 492.0h1.70v1.70h-1.70zM74.1 502.5h1.70v1.70h-1.70zM74.1 521.4h1.70v1.70h-1.70zM74.1 527.7h1.70v1.70h-1.70zM74.1 546.6h1.70v1.70h-1.70zM74.1 555.0h1.70v1.70h-1.70zM74.1 576.1h1.70v1.70h-1.70zM74.1 578.2h1.70v1.70h-1.70zM74.1 588.7h1.70v1.70h-1.70zM76.2 410.0h1.70v1.70h-1.70zM76.2 433.1h1.70v1.70h-1.70zM76.2 492.0h1.70v1.70h-1.70zM76.2 502.5h1.70v1.70h-1.70zM76.2 504.6h1.70v1.70h-1.70zM76.2 519.3h1.70v1.70h-1.70zM76.2 565.6h1.70v1.70h-1.70zM78.3 399.5h1.70v1.70h-1.70zM78.3 405.8h1.70v1.70h-1.70zM78.3 412.1h1.70v1.70h-1.70zM78.3 418.4h1.70v1.70h-1.70zM78.3 437.3h1.70v1.70h-1.70zM78.3 447.8h1.70v1.70h-1.70zM78.3 454.2h1.70v1.70h-1.70zM78.3 466.8h1.70v1.70h-1.70zM78.3 471.0h1.70v1.70h-1.70zM78.3 496.2h1.70v1.70h-1.70zM78.3 498.3h1.70v1.70h-1.70zM78.3 506.7h1.70v1.70h-1.70zM78.3 508.8h1.70v1.70h-1.70zM78.3 557.1h1.70v1.70h-1.70zM78.3 561.4h1.70v1.70h-1.70zM78.3 586.6h1.70v1.70h-1.70zM78.3 592.9h1.70v1.70h-1.70zM80.4 431.0h1.70v1.70h-1.70zM80.4 433.1h1.70v1.70h-1.70zM80.4 452.1h1.70v1.70h-1.70zM80.4 458.4h1.70v1.70h-1.70zM80.4 473.1h1.70v1.70h-1.70zM80.4 492.0h1.70v1.70h-1.70zM80.4 502.5h1.70v1.70h-1.70zM80.4 525.6h1.70v1.70h-1.70zM80.4 540.3h1.70v1.70h-1.70zM80.4 546.6h1.70v1.70h-1.70zM82.5 410.0h1.70v1.70h-1.70zM82.5 420.5h1.70v1.70h-1.70zM82.5 428.9h1.70v1.70h-1.70zM82.5 454.2h1.70v1.70h-1.70zM82.5 494.1h1.70v1.70h-1.70zM82.5 504.6h1.70v1.70h-1.70zM82.5 506.7h1.70v1.70h-1.70zM82.5 523.5h1.70v1.70h-1.70zM82.5 529.8h1.70v1.70h-1.70zM82.5 531.9h1.70v1.70h-1.70zM82.5 538.2h1.70v1.70h-1.70zM82.5 557.1h1.70v1.70h-1.70zM82.5 592.9h1.70v1.70h-1.70zM84.6 405.8h1.70v1.70h-1.70zM84.6 435.2h1.70v1.70h-1.70zM84.6 439.4h1.70v1.70h-1.70zM84.6 441.5h1.70v1.70h-1.70zM84.6 483.6h1.70v1.70h-1.70zM84.6 494.1h1.70v1.70h-1.70zM84.6 508.8h1.70v1.70h-1.70zM84.6 523.5h1.70v1.70h-1.70zM84.6 531.9h1.70v1.70h-1.70zM84.6 544.5h1.70v1.70h-1.70zM84.6 561.4h1.70v1.70h-1.70zM84.6 567.7h1.70v1.70h-1.70zM84.6 597.1h1.70v1.70h-1.70zM86.7 410.0h1.70v1.70h-1.70zM86.7 414.2h1.70v1.70h-1.70zM86.7 449.9h1.70v1.70h-1.70zM86.7 458.4h1.70v1.70h-1.70zM86.7 460.5h1.70v1.70h-1.70zM86.7 475.2h1.70v1.70h-1.70zM86.7 477.3h1.70v1.70h-1.70zM86.7 483.6h1.70v1.70h-1.70zM86.7 500.4h1.70v1.70h-1.70zM86.7 523.5h1.70v1.70h-1.70zM86.7 529.8h1.70v1.70h-1.70zM86.7 534.0h1.70v1.70h-1.70zM86.7 536.1h1.70v1.70h-1.70zM86.7 542.4h1.70v1.70h-1.70zM86.7 550.8h1.70v1.70h-1.70zM86.7 574.0h1.70v1.70h-1.70zM86.7 578.2h1.70v1.70h-1.70zM86.7 590.8h1.70v1.70h-1.70zM86.7 601.3h1.70v1.70h-1.70zM88.8 407.9h1.70v1.70h-1.70zM88.8 410.0h1.70v1.70h-1.70zM88.8 422.6h1.70v1.70h-1.70zM88.8 431.0h1.70v1.70h-1.70zM88.8 435.2h1.70v1.70h-1.70zM88.8 443.6h1.70v1.70h-1.70zM88.8 458.4h1.70v1.70h-1.70zM88.8 462.6h1.70v1.70h-1.70zM88.8 466.8h1.70v1.70h-1.70zM88.8 468.9h1.70v1.70h-1.70zM88.8 471.0h1.70v1.70h-1.70zM88.8 473.1h1.70v1.70h-1.70zM88.8 489.9h1.70v1.70h-1.70zM88.8 504.6h1.70v1.70h-1.70zM88.8 506.7h1.70v1.70h-1.70zM88.8 510.9h1.70v1.70h-1.70zM88.8 521.4h1.70v1.70h-1.70zM88.8 525.6h1.70v1.70h-1.70zM88.8 544.5h1.70v1.70h-1.70zM88.8 552.9h1.70v1.70h-1.70zM88.8 561.4h1.70v1.70h-1.70zM88.8 569.8h1.70v1.70h-1.70zM88.8 578.2h1.70v1.70h-1.70zM88.8 586.6h1.70v1.70h-1.70zM88.8 605.5h1.70v1.70h-1.70zM88.8 609.7h1.70v1.70h-1.70zM90.9 397.4h1.70v1.70h-1.70zM90.9 412.1h1.70v1.70h-1.70zM90.9 428.9h1.70v1.70h-1.70zM90.9 454.2h1.70v1.70h-1.70zM90.9 460.5h1.70v1.70h-1.70zM90.9 462.6h1.70v1.70h-1.70zM90.9 468.9h1.70v1.70h-1.70zM90.9 477.3h1.70v1.70h-1.70zM90.9 500.4h1.70v1.70h-1.70zM90.9 502.5h1.70v1.70h-1.70zM90.9 506.7h1.70v1.70h-1.70zM90.9 527.7h1.70v1.70h-1.70zM90.9 557.1h1.70v1.70h-1.70zM90.9 561.4h1.70v1.70h-1.70zM90.9 576.1h1.70v1.70h-1.70zM90.9 588.7h1.70v1.70h-1.70zM90.9 607.6h1.70v1.70h-1.70zM93.0 414.2h1.70v1.70h-1.70zM93.0 416.3h1.70v1.70h-1.70zM93.0 422.6h1.70v1.70h-1.70zM93.0 454.2h1.70v1.70h-1.70zM93.0 464.7h1.70v1.70h-1.70zM93.0 496.2h1.70v1.70h-1.70zM93.0 504.6h1.70v1.70h-1.70zM93.0 508.8h1.70v1.70h-1.70zM93.0 521.4h1.70v1.70h-1.70zM93.0 523.5h1.70v1.70h-1.70zM93.0 536.1h1.70v1.70h-1.70zM93.0 540.3h1.70v1.70h-1.70zM93.0 548.7h1.70v1.70h-1.70zM93.0 569.8h1.70v1.70h-1.70zM93.0 571.9h1.70v1.70h-1.70zM93.0 578.2h1.70v1.70h-1.70zM93.0 603.4h1.70v1.70h-1.70zM93.0 607.6h1.70v1.70h-1.70zM93.0 609.7h1.70v1.70h-1.70zM95.1 420.5h1.70v1.70h-1.70zM95.1 424.7h1.70v1.70h-1.70zM95.1 426.8h1.70v1.70h-1.70zM95.1 435.2h1.70v1.70h-1.70zM95.1 452.1h1.70v1.70h-1.70zM95.1 454.2h1.70v1.70h-1.70zM95.1 481.5h1.70v1.70h-1.70zM95.1 492.0h1.70v1.70h-1.70zM95.1 494.1h1.70v1.70h-1.70zM95.1 506.7h1.70v1.70h-1.70zM95.1 521.4h1.70v1.70h-1.70zM95.1 523.5h1.70v1.70h-1.70zM95.1 555.0h1.70v1.70h-1.70zM95.1 584.5h1.70v1.70h-1.70zM95.1 595.0h1.70v1.70h-1.70zM95.1 607.6h1.70v1.70h-1.70zM95.1 609.7h1.70v1.70h-1.70zM97.2 418.4h1.70v1.70h-1.70zM97.2 437.3h1.70v1.70h-1.70zM97.2 447.8h1.70v1.70h-1.70zM97.2 452.1h1.70v1.70h-1.70zM97.2 460.5h1.70v1.70h-1.70zM97.2 462.6h1.70v1.70h-1.70zM97.2 466.8h1.70v1.70h-1.70zM97.2 487.8h1.70v1.70h-1.70zM97.2 502.5h1.70v1.70h-1.70zM97.2 506.7h1.70v1.70h-1.70zM97.2 525.6h1.70v1.70h-1.70zM97.2 531.9h1.70v1.70h-1.70zM97.2 540.3h1.70v1.70h-1.70zM97.2 544.5h1.70v1.70h-1.70zM97.2 578.2h1.70v1.70h-1.70zM97.2 580.3h1.70v1.70h-1.70zM97.2 592.9h1.70v1.70h-1.70zM97.2 601.3h1.70v1.70h-1.70zM99.3 410.0h1.70v1.70h-1.70zM99.3 412.1h1.70v1.70h-1.70zM99.3 418.4h1.70v1.70h-1.70zM99.3 431.0h1.70v1.70h-1.70zM99.3 435.2h1.70v1.70h-1.70zM99.3 452.1h1.70v1.70h-1.70zM99.3 466.8h1.70v1.70h-1.70zM99.3 468.9h1.70v1.70h-1.70zM99.3 481.5h1.70v1.70h-1.70zM99.3 483.6h1.70v1.70h-1.70zM99.3 489.9h1.70v1.70h-1.70zM99.3 500.4h1.70v1.70h-1.70zM99.3 506.7h1.70v1.70h-1.70zM99.3 510.9h1.70v1.70h-1.70zM99.3 513.0h1.70v1.70h-1.70zM99.3 546.6h1.70v1.70h-1.70zM99.3 555.0h1.70v1.70h-1.70zM99.3 557.1h1.70v1.70h-1.70zM99.3 561.4h1.70v1.70h-1.70zM99.3 574.0h1.70v1.70h-1.70zM99.3 584.5h1.70v1.70h-1.70zM99.3 605.5h1.70v1.70h-1.70zM101.4 412.1h1.70v1.70h-1.70zM101.4 414.2h1.70v1.70h-1.70zM101.4 416.3h1.70v1.70h-1.70zM101.4 426.8h1.70v1.70h-1.70zM101.4 433.1h1.70v1.70h-1.70zM101.4 454.2h1.70v1.70h-1.70zM101.4 466.8h1.70v1.70h-1.70zM101.4 473.1h1.70v1.70h-1.70zM101.4 502.5h1.70v1.70h-1.70zM101.4 506.7h1.70v1.70h-1.70zM101.4 517.2h1.70v1.70h-1.70zM101.4 534.0h1.70v1.70h-1.70zM101.4 544.5h1.70v1.70h-1.70zM101.4 555.0h1.70v1.70h-1.70zM101.4 561.4h1.70v1.70h-1.70zM101.4 565.6h1.70v1.70h-1.70zM101.4 567.7h1.70v1.70h-1.70zM101.4 569.8h1.70v1.70h-1.70zM101.4 582.4h1.70v1.70h-1.70zM101.4 599.2h1.70v1.70h-1.70zM103.5 401.6h1.70v1.70h-1.70zM103.5 420.5h1.70v1.70h-1.70zM103.5 449.9h1.70v1.70h-1.70zM103.5 460.5h1.70v1.70h-1.70zM103.5 471.0h1.70v1.70h-1.70zM103.5 479.4h1.70v1.70h-1.70zM103.5 481.5h1.70v1.70h-1.70zM103.5 500.4h1.70v1.70h-1.70zM103.5 525.6h1.70v1.70h-1.70zM103.5 527.7h1.70v1.70h-1.70zM103.5 540.3h1.70v1.70h-1.70zM103.5 544.5h1.70v1.70h-1.70zM103.5 548.7h1.70v1.70h-1.70zM103.5 555.0h1.70v1.70h-1.70zM103.5 557.1h1.70v1.70h-1.70zM103.5 586.6h1.70v1.70h-1.70zM103.5 595.0h1.70v1.70h-1.70zM103.5 597.1h1.70v1.70h-1.70zM103.5 601.3h1.70v1.70h-1.70zM105.6 412.1h1.70v1.70h-1.70zM105.6 428.9h1.70v1.70h-1.70zM105.6 452.1h1.70v1.70h-1.70zM105.6 454.2h1.70v1.70h-1.70zM105.6 460.5h1.70v1.70h-1.70zM105.6 462.6h1.70v1.70h-1.70zM105.6 475.2h1.70v1.70h-1.70zM105.6 477.3h1.70v1.70h-1.70zM105.6 496.2h1.70v1.70h-1.70zM105.6 498.3h1.70v1.70h-1.70zM105.6 504.6h1.70v1.70h-1.70zM105.6 550.8h1.70v1.70h-1.70zM105.6 552.9h1.70v1.70h-1.70zM105.6 555.0h1.70v1.70h-1.70zM105.6 559.3h1.70v1.70h-1.70zM105.6 592.9h1.70v1.70h-1.70zM105.6 597.1h1.70v1.70h-1.70zM105.6 601.3h1.70v1.70h-1.70zM107.7 414.2h1.70v1.70h-1.70zM107.7 424.7h1.70v1.70h-1.70zM107.7 428.9h1.70v1.70h-1.70zM107.7 435.2h1.70v1.70h-1.70zM107.7 458.4h1.70v1.70h-1.70zM107.7 479.4h1.70v1.70h-1.70zM107.7 485.7h1.70v1.70h-1.70zM107.7 498.3h1.70v1.70h-1.70zM107.7 523.5h1.70v1.70h-1.70zM107.7 525.6h1.70v1.70h-1.70zM107.7 536.1h1.70v1.70h-1.70zM107.7 546.6h1.70v1.70h-1.70zM107.7 567.7h1.70v1.70h-1.70zM109.8 399.5h1.70v1.70h-1.70zM109.8 437.3h1.70v1.70h-1.70zM109.8 439.4h1.70v1.70h-1.70zM109.8 443.6h1.70v1.70h-1.70zM109.8 460.5h1.70v1.70h-1.70zM109.8 473.1h1.70v1.70h-1.70zM109.8 479.4h1.70v1.70h-1.70zM109.8 489.9h1.70v1.70h-1.70zM109.8 492.0h1.70v1.70h-1.70zM109.8 498.3h1.70v1.70h-1.70zM109.8 515.1h1.70v1.70h-1.70zM109.8 548.7h1.70v1.70h-1.70zM109.8 550.8h1.70v1.70h-1.70zM109.8 557.1h1.70v1.70h-1.70zM109.8 559.3h1.70v1.70h-1.70zM109.8 567.7h1.70v1.70h-1.70zM111.9 401.6h1.70v1.70h-1.70zM111.9 418.4h1.70v1.70h-1.70zM111.9 426.8h1.70v1.70h-1.70zM111.9 441.5h1.70v1.70h-1.70zM111.9 452.1h1.70v1.70h-1.70zM111.9 458.4h1.70v1.70h-1.70zM111.9 508.8h1.70v1.70h-1.70zM111.9 534.0h1.70v1.70h-1.70zM111.9 540.3h1.70v1.70h-1.70zM111.9 563.5h1.70v1.70h-1.70zM111.9 567.7h1.70v1.70h-1.70zM111.9 569.8h1.70v1.70h-1.70zM111.9 576.1h1.70v1.70h-1.70zM111.9 603.4h1.70v1.70h-1.70zM114.0 414.2h1.70v1.70h-1.70zM114.0 416.3h1.70v1.70h-1.70zM114.0 420.5h1.70v1.70h-1.70zM114.0 426.8h1.70v1.70h-1.70zM114.0 431.0h1.70v1.70h-1.70zM114.0 445.7h1.70v1.70h-1.70zM114.0 468.9h1.70v1.70h-1.70zM114.0 473.1h1.70v1.70h-1.70zM114.0 479.4h1.70v1.70h-1.70zM114.0 485.7h1.70v1.70h-1.70zM114.0 498.3h1.70v1.70h-1.70zM114.0 513.0h1.70v1.70h-1.70zM114.0 519.3h1.70v1.70h-1.70zM114.0 525.6h1.70v1.70h-1.70zM114.0 569.8h1.70v1.70h-1.70zM114.0 582.4h1.70v1.70h-1.70zM114.0 592.9h1.70v1.70h-1.70zM114.0 601.3h1.70v1.70h-1.70zM114.0 603.4h1.70v1.70h-1.70zM116.1 410.0h1.70v1.70h-1.70zM116.1 420.5h1.70v1.70h-1.70zM116.1 428.9h1.70v1.70h-1.70zM116.1 447.8h1.70v1.70h-1.70zM116.1 460.5h1.70v1.70h-1.70zM116.1 466.8h1.70v1.70h-1.70zM116.1 471.0h1.70v1.70h-1.70zM116.1 485.7h1.70v1.70h-1.70zM116.1 492.0h1.70v1.70h-1.70zM116.1 496.2h1.70v1.70h-1.70zM116.1 529.8h1.70v1.70h-1.70zM116.1 534.0h1.70v1.70h-1.70zM116.1 540.3h1.70v1.70h-1.70zM116.1 542.4h1.70v1.70h-1.70zM116.1 552.9h1.70v1.70h-1.70zM116.1 582.4h1.70v1.70h-1.70zM116.1 601.3h1.70v1.70h-1.70zM118.2 397.4h1.70v1.70h-1.70zM118.2 410.0h1.70v1.70h-1.70zM118.2 447.8h1.70v1.70h-1.70zM118.2 458.4h1.70v1.70h-1.70zM118.2 466.8h1.70v1.70h-1.70zM118.2 471.0h1.70v1.70h-1.70zM118.2 492.0h1.70v1.70h-1.70zM118.2 496.2h1.70v1.70h-1.70zM118.2 506.7h1.70v1.70h-1.70zM118.2 517.2h1.70v1.70h-1.70zM118.2 521.4h1.70v1.70h-1.70zM118.2 540.3h1.70v1.70h-1.70zM118.2 550.8h1.70v1.70h-1.70zM118.2 557.1h1.70v1.70h-1.70zM118.2 565.6h1.70v1.70h-1.70zM118.2 571.9h1.70v1.70h-1.70zM120.3 420.5h1.70v1.70h-1.70zM120.3 424.7h1.70v1.70h-1.70zM120.3 433.1h1.70v1.70h-1.70zM120.3 439.4h1.70v1.70h-1.70zM120.3 452.1h1.70v1.70h-1.70zM120.3 460.5h1.70v1.70h-1.70zM120.3 471.0h1.70v1.70h-1.70zM120.3 475.2h1.70v1.70h-1.70zM120.3 481.5h1.70v1.70h-1.70zM120.3 483.6h1.70v1.70h-1.70zM120.3 494.1h1.70v1.70h-1.70zM120.3 498.3h1.70v1.70h-1.70zM120.3 500.4h1.70v1.70h-1.70zM120.3 508.8h1.70v1.70h-1.70zM120.3 523.5h1.70v1.70h-1.70zM120.3 529.8h1.70v1.70h-1.70zM120.3 531.9h1.70v1.70h-1.70zM120.3 540.3h1.70v1.70h-1.70zM120.3 548.7h1.70v1.70h-1.70zM120.3 565.6h1.70v1.70h-1.70zM120.3 574.0h1.70v1.70h-1.70zM120.3 580.3h1.70v1.70h-1.70zM120.3 607.6h1.70v1.70h-1.70zM122.4 405.8h1.70v1.70h-1.70zM122.4 428.9h1.70v1.70h-1.70zM122.4 439.4h1.70v1.70h-1.70zM122.4 447.8h1.70v1.70h-1.70zM122.4 449.9h1.70v1.70h-1.70zM122.4 485.7h1.70v1.70h-1.70zM122.4 500.4h1.70v1.70h-1.70zM122.4 506.7h1.70v1.70h-1.70zM122.4 521.4h1.70v1.70h-1.70zM122.4 544.5h1.70v1.70h-1.70zM122.4 565.6h1.70v1.70h-1.70zM122.4 571.9h1.70v1.70h-1.70zM122.4 576.1h1.70v1.70h-1.70zM124.5 397.4h1.70v1.70h-1.70zM124.5 405.8h1.70v1.70h-1.70zM124.5 407.9h1.70v1.70h-1.70zM124.5 422.6h1.70v1.70h-1.70zM124.5 431.0h1.70v1.70h-1.70zM124.5 437.3h1.70v1.70h-1.70zM124.5 441.5h1.70v1.70h-1.70zM124.5 443.6h1.70v1.70h-1.70zM124.5 447.8h1.70v1.70h-1.70zM124.5 449.9h1.70v1.70h-1.70zM124.5 460.5h1.70v1.70h-1.70zM124.5 473.1h1.70v1.70h-1.70zM124.5 492.0h1.70v1.70h-1.70zM124.5 496.2h1.70v1.70h-1.70zM124.5 508.8h1.70v1.70h-1.70zM124.5 519.3h1.70v1.70h-1.70zM124.5 525.6h1.70v1.70h-1.70zM124.5 531.9h1.70v1.70h-1.70zM124.5 544.5h1.70v1.70h-1.70zM124.5 546.6h1.70v1.70h-1.70zM124.5 559.3h1.70v1.70h-1.70zM124.5 561.4h1.70v1.70h-1.70zM124.5 565.6h1.70v1.70h-1.70zM124.5 578.2h1.70v1.70h-1.70zM124.5 580.3h1.70v1.70h-1.70zM124.5 582.4h1.70v1.70h-1.70zM124.5 595.0h1.70v1.70h-1.70zM124.5 597.1h1.70v1.70h-1.70zM124.5 601.3h1.70v1.70h-1.70zM126.6 426.8h1.70v1.70h-1.70zM126.6 428.9h1.70v1.70h-1.70zM126.6 454.2h1.70v1.70h-1.70zM126.6 458.4h1.70v1.70h-1.70zM126.6 510.9h1.70v1.70h-1.70zM126.6 515.1h1.70v1.70h-1.70zM126.6 517.2h1.70v1.70h-1.70zM126.6 529.8h1.70v1.70h-1.70zM126.6 544.5h1.70v1.70h-1.70zM126.6 552.9h1.70v1.70h-1.70zM126.6 576.1h1.70v1.70h-1.70zM126.6 580.3h1.70v1.70h-1.70zM126.6 595.0h1.70v1.70h-1.70zM126.6 609.7h1.70v1.70h-1.70zM128.7 414.2h1.70v1.70h-1.70zM128.7 437.3h1.70v1.70h-1.70zM128.7 460.5h1.70v1.70h-1.70zM128.7 494.1h1.70v1.70h-1.70zM128.7 498.3h1.70v1.70h-1.70zM128.7 500.4h1.70v1.70h-1.70zM128.7 506.7h1.70v1.70h-1.70zM128.7 515.1h1.70v1.70h-1.70zM128.7 529.8h1.70v1.70h-1.70zM128.7 538.2h1.70v1.70h-1.70zM128.7 552.9h1.70v1.70h-1.70zM128.7 571.9h1.70v1.70h-1.70zM128.7 590.8h1.70v1.70h-1.70zM130.8 401.6h1.70v1.70h-1.70zM130.8 414.2h1.70v1.70h-1.70zM130.8 443.6h1.70v1.70h-1.70zM130.8 473.1h1.70v1.70h-1.70zM130.8 487.8h1.70v1.70h-1.70zM130.8 489.9h1.70v1.70h-1.70zM130.8 544.5h1.70v1.70h-1.70zM130.8 576.1h1.70v1.70h-1.70zM130.8 599.2h1.70v1.70h-1.70zM132.9 435.2h1.70v1.70h-1.70zM132.9 439.4h1.70v1.70h-1.70zM132.9 517.2h1.70v1.70h-1.70zM132.9 592.9h1.70v1.70h-1.70zM135.0 414.2h1.70v1.70h-1.70zM137.1 431.0h1.70v1.70h-1.70zM137.1 475.2h1.70v1.70h-1.70zM137.1 601.3h1.70v1.70h-1.70zM139.2 405.8h1.70v1.70h-1.70zM139.2 412.1h1.70v1.70h-1.70zM139.2 426.8h1.70v1.70h-1.70zM139.2 464.7h1.70v1.70h-1.70zM139.2 483.6h1.70v1.70h-1.70zM139.2 502.5h1.70v1.70h-1.70zM139.2 548.7h1.70v1.70h-1.70zM139.2 552.9h1.70v1.70h-1.70zM139.2 557.1h1.70v1.70h-1.70zM139.2 582.4h1.70v1.70h-1.70zM141.3 399.5h1.70v1.70h-1.70zM141.3 424.7h1.70v1.70h-1.70zM141.3 428.9h1.70v1.70h-1.70zM141.3 510.9h1.70v1.70h-1.70zM141.3 597.1h1.70v1.70h-1.70zM141.3 599.2h1.70v1.70h-1.70zM141.3 607.6h1.70v1.70h-1.70zM141.3 609.7h1.70v1.70h-1.70zM143.4 399.5h1.70v1.70h-1.70zM143.4 403.7h1.70v1.70h-1.70zM143.4 435.2h1.70v1.70h-1.70zM143.4 452.1h1.70v1.70h-1.70zM143.4 462.6h1.70v1.70h-1.70zM143.4 464.7h1.70v1.70h-1.70zM143.4 500.4h1.70v1.70h-1.70zM143.4 508.8h1.70v1.70h-1.70zM143.4 510.9h1.70v1.70h-1.70zM143.4 536.1h1.70v1.70h-1.70zM143.4 538.2h1.70v1.70h-1.70zM145.5 410.0h1.70v1.70h-1.70zM145.5 428.9h1.70v1.70h-1.70zM145.5 447.8h1.70v1.70h-1.70zM145.5 458.4h1.70v1.70h-1.70zM145.5 460.5h1.70v1.70h-1.70zM145.5 464.7h1.70v1.70h-1.70zM145.5 483.6h1.70v1.70h-1.70zM145.5 498.3h1.70v1.70h-1.70zM145.5 517.2h1.70v1.70h-1.70zM145.5 519.3h1.70v1.70h-1.70zM145.5 521.4h1.70v1.70h-1.70zM145.5 540.3h1.70v1.70h-1.70zM145.5 580.3h1.70v1.70h-1.70zM145.5 601.3h1.70v1.70h-1.70zM145.5 605.5h1.70v1.70h-1.70zM147.6 397.4h1.70v1.70h-1.70zM147.6 414.2h1.70v1.70h-1.70zM147.6 426.8h1.70v1.70h-1.70zM147.6 441.5h1.70v1.70h-1.70zM147.6 458.4h1.70v1.70h-1.70zM147.6 485.7h1.70v1.70h-1.70zM147.6 496.2h1.70v1.70h-1.70zM147.6 506.7h1.70v1.70h-1.70zM147.6 513.0h1.70v1.70h-1.70zM147.6 523.5h1.70v1.70h-1.70zM147.6 527.7h1.70v1.70h-1.70zM147.6 542.4h1.70v1.70h-1.70zM147.6 563.5h1.70v1.70h-1.70zM149.7 426.8h1.70v1.70h-1.70zM149.7 435.2h1.70v1.70h-1.70zM149.7 452.1h1.70v1.70h-1.70zM149.7 471.0h1.70v1.70h-1.70zM149.7 523.5h1.70v1.70h-1.70zM149.7 531.9h1.70v1.70h-1.70zM149.7 536.1h1.70v1.70h-1.70zM149.7 544.5h1.70v1.70h-1.70zM149.7 555.0h1.70v1.70h-1.70zM153.9 401.6h1.70v1.70h-1.70zM153.9 410.0h1.70v1.70h-1.70zM153.9 420.5h1.70v1.70h-1.70zM153.9 452.1h1.70v1.70h-1.70zM153.9 464.7h1.70v1.70h-1.70zM153.9 492.0h1.70v1.70h-1.70zM153.9 521.4h1.70v1.70h-1.70zM153.9 567.7h1.70v1.70h-1.70zM153.9 578.2h1.70v1.70h-1.70zM153.9 609.7h1.70v1.70h-1.70zM156.0 498.3h1.70v1.70h-1.70zM156.0 527.7h1.70v1.70h-1.70zM158.1 412.1h1.70v1.70h-1.70zM158.1 416.3h1.70v1.70h-1.70zM158.1 439.4h1.70v1.70h-1.70zM158.1 447.8h1.70v1.70h-1.70zM158.1 452.1h1.70v1.70h-1.70zM158.1 462.6h1.70v1.70h-1.70zM158.1 468.9h1.70v1.70h-1.70zM158.1 473.1h1.70v1.70h-1.70zM158.1 483.6h1.70v1.70h-1.70zM158.1 496.2h1.70v1.70h-1.70zM158.1 569.8h1.70v1.70h-1.70zM158.1 578.2h1.70v1.70h-1.70zM158.1 582.4h1.70v1.70h-1.70zM158.1 592.9h1.70v1.70h-1.70zM158.1 595.0h1.70v1.70h-1.70zM158.1 601.3h1.70v1.70h-1.70zM160.2 433.1h1.70v1.70h-1.70zM160.2 435.2h1.70v1.70h-1.70zM160.2 445.7h1.70v1.70h-1.70zM160.2 468.9h1.70v1.70h-1.70zM160.2 485.7h1.70v1.70h-1.70zM160.2 494.1h1.70v1.70h-1.70zM160.2 561.4h1.70v1.70h-1.70zM160.2 586.6h1.70v1.70h-1.70zM160.2 599.2h1.70v1.70h-1.70zM160.2 601.3h1.70v1.70h-1.70zM162.3 399.5h1.70v1.70h-1.70zM162.3 424.7h1.70v1.70h-1.70zM162.3 441.5h1.70v1.70h-1.70zM162.3 494.1h1.70v1.70h-1.70zM162.3 515.1h1.70v1.70h-1.70zM162.3 531.9h1.70v1.70h-1.70zM162.3 542.4h1.70v1.70h-1.70zM162.3 578.2h1.70v1.70h-1.70zM162.3 584.5h1.70v1.70h-1.70zM162.3 586.6h1.70v1.70h-1.70zM162.3 609.7h1.70v1.70h-1.70zM164.4 454.2h1.70v1.70h-1.70zM164.4 504.6h1.70v1.70h-1.70zM164.4 536.1h1.70v1.70h-1.70zM164.4 544.5h1.70v1.70h-1.70zM164.4 590.8h1.70v1.70h-1.70zM166.5 410.0h1.70v1.70h-1.70zM166.5 454.2h1.70v1.70h-1.70zM166.5 523.5h1.70v1.70h-1.70zM166.5 565.6h1.70v1.70h-1.70zM166.5 574.0h1.70v1.70h-1.70zM168.6 447.8h1.70v1.70h-1.70zM168.6 479.4h1.70v1.70h-1.70zM168.6 586.6h1.70v1.70h-1.70zM170.7 441.5h1.70v1.70h-1.70zM170.7 452.1h1.70v1.70h-1.70zM170.7 456.3h1.70v1.70h-1.70zM170.7 479.4h1.70v1.70h-1.70zM170.7 529.8h1.70v1.70h-1.70zM170.7 578.2h1.70v1.70h-1.70zM172.8 412.1h1.70v1.70h-1.70zM172.8 424.7h1.70v1.70h-1.70zM172.8 437.3h1.70v1.70h-1.70zM172.8 475.2h1.70v1.70h-1.70zM172.8 515.1h1.70v1.70h-1.70zM172.8 548.7h1.70v1.70h-1.70zM172.8 555.0h1.70v1.70h-1.70zM172.8 565.6h1.70v1.70h-1.70zM172.8 582.4h1.70v1.70h-1.70zM172.8 590.8h1.70v1.70h-1.70zM172.8 607.6h1.70v1.70h-1.70zM172.8 609.7h1.70v1.70h-1.70zM174.9 439.4h1.70v1.70h-1.70zM174.9 498.3h1.70v1.70h-1.70zM174.9 542.4h1.70v1.70h-1.70zM174.9 567.7h1.70v1.70h-1.70z"/><path fill="#2a16b9" d="M38.4 412.1h1.70v1.70h-1.70zM38.4 424.7h1.70v1.70h-1.70zM38.4 426.8h1.70v1.70h-1.70zM38.4 435.2h1.70v1.70h-1.70zM38.4 445.7h1.70v1.70h-1.70zM38.4 452.1h1.70v1.70h-1.70zM38.4 492.0h1.70v1.70h-1.70zM38.4 517.2h1.70v1.70h-1.70zM38.4 519.3h1.70v1.70h-1.70zM38.4 523.5h1.70v1.70h-1.70zM38.4 592.9h1.70v1.70h-1.70zM38.4 603.4h1.70v1.70h-1.70zM38.4 609.7h1.70v1.70h-1.70zM40.5 428.9h1.70v1.70h-1.70zM40.5 443.6h1.70v1.70h-1.70zM40.5 531.9h1.70v1.70h-1.70zM40.5 595.0h1.70v1.70h-1.70zM40.5 605.5h1.70v1.70h-1.70zM42.6 578.2h1.70v1.70h-1.70zM44.7 582.4h1.70v1.70h-1.70zM44.7 599.2h1.70v1.70h-1.70zM46.8 563.5h1.70v1.70h-1.70zM46.8 597.1h1.70v1.70h-1.70zM48.9 475.2h1.70v1.70h-1.70zM48.9 489.9h1.70v1.70h-1.70zM48.9 504.6h1.70v1.70h-1.70zM48.9 527.7h1.70v1.70h-1.70zM48.9 531.9h1.70v1.70h-1.70zM48.9 601.3h1.70v1.70h-1.70zM51.0 521.4h1.70v1.70h-1.70zM51.0 540.3h1.70v1.70h-1.70zM51.0 601.3h1.70v1.70h-1.70zM53.1 477.3h1.70v1.70h-1.70zM53.1 527.7h1.70v1.70h-1.70zM53.1 574.0h1.70v1.70h-1.70zM53.1 578.2h1.70v1.70h-1.70zM53.1 601.3h1.70v1.70h-1.70zM55.2 426.8h1.70v1.70h-1.70zM55.2 449.9h1.70v1.70h-1.70zM55.2 456.3h1.70v1.70h-1.70zM55.2 458.4h1.70v1.70h-1.70zM55.2 466.8h1.70v1.70h-1.70zM55.2 496.2h1.70v1.70h-1.70zM55.2 500.4h1.70v1.70h-1.70zM55.2 559.3h1.70v1.70h-1.70zM55.2 584.5h1.70v1.70h-1.70zM55.2 588.7h1.70v1.70h-1.70zM55.2 592.9h1.70v1.70h-1.70zM55.2 607.6h1.70v1.70h-1.70zM55.2 609.7h1.70v1.70h-1.70zM57.3 410.0h1.70v1.70h-1.70zM57.3 475.2h1.70v1.70h-1.70zM57.3 492.0h1.70v1.70h-1.70zM57.3 496.2h1.70v1.70h-1.70zM57.3 538.2h1.70v1.70h-1.70zM57.3 563.5h1.70v1.70h-1.70zM57.3 582.4h1.70v1.70h-1.70zM57.3 595.0h1.70v1.70h-1.70zM59.4 412.1h1.70v1.70h-1.70zM59.4 492.0h1.70v1.70h-1.70zM59.4 595.0h1.70v1.70h-1.70zM61.5 454.2h1.70v1.70h-1.70zM61.5 481.5h1.70v1.70h-1.70zM61.5 496.2h1.70v1.70h-1.70zM61.5 536.1h1.70v1.70h-1.70zM61.5 582.4h1.70v1.70h-1.70zM61.5 588.7h1.70v1.70h-1.70zM63.6 399.5h1.70v1.70h-1.70zM63.6 458.4h1.70v1.70h-1.70zM63.6 496.2h1.70v1.70h-1.70zM63.6 538.2h1.70v1.70h-1.70zM63.6 555.0h1.70v1.70h-1.70zM63.6 557.1h1.70v1.70h-1.70zM63.6 565.6h1.70v1.70h-1.70zM63.6 601.3h1.70v1.70h-1.70zM63.6 605.5h1.70v1.70h-1.70zM63.6 609.7h1.70v1.70h-1.70zM65.7 435.2h1.70v1.70h-1.70zM65.7 454.2h1.70v1.70h-1.70zM65.7 456.3h1.70v1.70h-1.70zM65.7 479.4h1.70v1.70h-1.70zM65.7 483.6h1.70v1.70h-1.70zM65.7 523.5h1.70v1.70h-1.70zM65.7 588.7h1.70v1.70h-1.70zM65.7 597.1h1.70v1.70h-1.70zM65.7 603.4h1.70v1.70h-1.70zM67.8 498.3h1.70v1.70h-1.70zM67.8 515.1h1.70v1.70h-1.70zM67.8 523.5h1.70v1.70h-1.70zM67.8 529.8h1.70v1.70h-1.70zM67.8 569.8h1.70v1.70h-1.70zM67.8 578.2h1.70v1.70h-1.70zM69.9 414.2h1.70v1.70h-1.70zM69.9 435.2h1.70v1.70h-1.70zM69.9 456.3h1.70v1.70h-1.70zM69.9 464.7h1.70v1.70h-1.70zM69.9 546.6h1.70v1.70h-1.70zM69.9 557.1h1.70v1.70h-1.70zM69.9 599.2h1.70v1.70h-1.70zM69.9 601.3h1.70v1.70h-1.70zM72.0 452.1h1.70v1.70h-1.70zM72.0 540.3h1.70v1.70h-1.70zM72.0 548.7h1.70v1.70h-1.70zM72.0 550.8h1.70v1.70h-1.70zM72.0 555.0h1.70v1.70h-1.70zM72.0 576.1h1.70v1.70h-1.70zM72.0 582.4h1.70v1.70h-1.70zM72.0 595.0h1.70v1.70h-1.70zM74.1 445.7h1.70v1.70h-1.70zM74.1 538.2h1.70v1.70h-1.70zM74.1 574.0h1.70v1.70h-1.70zM76.2 401.6h1.70v1.70h-1.70zM76.2 414.2h1.70v1.70h-1.70zM76.2 426.8h1.70v1.70h-1.70zM76.2 439.4h1.70v1.70h-1.70zM76.2 468.9h1.70v1.70h-1.70zM76.2 494.1h1.70v1.70h-1.70zM76.2 498.3h1.70v1.70h-1.70zM76.2 525.6h1.70v1.70h-1.70zM76.2 546.6h1.70v1.70h-1.70zM76.2 548.7h1.70v1.70h-1.70zM76.2 552.9h1.70v1.70h-1.70zM76.2 578.2h1.70v1.70h-1.70zM76.2 603.4h1.70v1.70h-1.70zM78.3 426.8h1.70v1.70h-1.70zM78.3 439.4h1.70v1.70h-1.70zM78.3 504.6h1.70v1.70h-1.70zM78.3 517.2h1.70v1.70h-1.70zM78.3 548.7h1.70v1.70h-1.70zM78.3 569.8h1.70v1.70h-1.70zM78.3 599.2h1.70v1.70h-1.70zM78.3 605.5h1.70v1.70h-1.70zM78.3 607.6h1.70v1.70h-1.70zM80.4 401.6h1.70v1.70h-1.70zM80.4 403.7h1.70v1.70h-1.70zM80.4 407.9h1.70v1.70h-1.70zM80.4 515.1h1.70v1.70h-1.70zM80.4 517.2h1.70v1.70h-1.70zM80.4 521.4h1.70v1.70h-1.70zM80.4 538.2h1.70v1.70h-1.70zM80.4 548.7h1.70v1.70h-1.70zM80.4 552.9h1.70v1.70h-1.70zM80.4 561.4h1.70v1.70h-1.70zM80.4 565.6h1.70v1.70h-1.70zM80.4 571.9h1.70v1.70h-1.70zM80.4 578.2h1.70v1.70h-1.70zM80.4 584.5h1.70v1.70h-1.70zM80.4 599.2h1.70v1.70h-1.70zM80.4 601.3h1.70v1.70h-1.70zM82.5 412.1h1.70v1.70h-1.70zM82.5 437.3h1.70v1.70h-1.70zM82.5 439.4h1.70v1.70h-1.70zM82.5 447.8h1.70v1.70h-1.70zM82.5 462.6h1.70v1.70h-1.70zM82.5 473.1h1.70v1.70h-1.70zM82.5 510.9h1.70v1.70h-1.70zM82.5 527.7h1.70v1.70h-1.70zM82.5 555.0h1.70v1.70h-1.70zM82.5 571.9h1.70v1.70h-1.70zM82.5 580.3h1.70v1.70h-1.70zM82.5 582.4h1.70v1.70h-1.70zM82.5 605.5h1.70v1.70h-1.70zM82.5 609.7h1.70v1.70h-1.70zM84.6 401.6h1.70v1.70h-1.70zM84.6 445.7h1.70v1.70h-1.70zM84.6 452.1h1.70v1.70h-1.70zM84.6 454.2h1.70v1.70h-1.70zM84.6 458.4h1.70v1.70h-1.70zM84.6 489.9h1.70v1.70h-1.70zM84.6 517.2h1.70v1.70h-1.70zM84.6 525.6h1.70v1.70h-1.70zM84.6 542.4h1.70v1.70h-1.70zM84.6 552.9h1.70v1.70h-1.70zM84.6 559.3h1.70v1.70h-1.70zM84.6 563.5h1.70v1.70h-1.70zM84.6 584.5h1.70v1.70h-1.70zM84.6 586.6h1.70v1.70h-1.70zM84.6 601.3h1.70v1.70h-1.70zM84.6 607.6h1.70v1.70h-1.70zM86.7 485.7h1.70v1.70h-1.70zM86.7 576.1h1.70v1.70h-1.70zM86.7 582.4h1.70v1.70h-1.70zM86.7 599.2h1.70v1.70h-1.70zM86.7 605.5h1.70v1.70h-1.70zM88.8 449.9h1.70v1.70h-1.70zM88.8 567.7h1.70v1.70h-1.70zM88.8 597.1h1.70v1.70h-1.70zM88.8 601.3h1.70v1.70h-1.70zM90.9 435.2h1.70v1.70h-1.70zM90.9 498.3h1.70v1.70h-1.70zM90.9 538.2h1.70v1.70h-1.70zM90.9 540.3h1.70v1.70h-1.70zM90.9 552.9h1.70v1.70h-1.70zM90.9 555.0h1.70v1.70h-1.70zM93.0 397.4h1.70v1.70h-1.70zM93.0 399.5h1.70v1.70h-1.70zM93.0 405.8h1.70v1.70h-1.70zM93.0 433.1h1.70v1.70h-1.70zM93.0 517.2h1.70v1.70h-1.70zM93.0 561.4h1.70v1.70h-1.70zM93.0 563.5h1.70v1.70h-1.70zM93.0 590.8h1.70v1.70h-1.70zM93.0 599.2h1.70v1.70h-1.70zM95.1 401.6h1.70v1.70h-1.70zM95.1 410.0h1.70v1.70h-1.70zM95.1 431.0h1.70v1.70h-1.70zM95.1 531.9h1.70v1.70h-1.70zM95.1 546.6h1.70v1.70h-1.70zM95.1 559.3h1.70v1.70h-1.70zM95.1 565.6h1.70v1.70h-1.70zM95.1 571.9h1.70v1.70h-1.70zM95.1 574.0h1.70v1.70h-1.70zM95.1 588.7h1.70v1.70h-1.70zM97.2 424.7h1.70v1.70h-1.70zM97.2 464.7h1.70v1.70h-1.70zM97.2 496.2h1.70v1.70h-1.70zM97.2 510.9h1.70v1.70h-1.70zM97.2 515.1h1.70v1.70h-1.70zM97.2 521.4h1.70v1.70h-1.70zM97.2 527.7h1.70v1.70h-1.70zM97.2 569.8h1.70v1.70h-1.70zM97.2 582.4h1.70v1.70h-1.70zM97.2 609.7h1.70v1.70h-1.70zM99.3 456.3h1.70v1.70h-1.70zM99.3 494.1h1.70v1.70h-1.70zM99.3 502.5h1.70v1.70h-1.70zM99.3 504.6h1.70v1.70h-1.70zM99.3 521.4h1.70v1.70h-1.70zM99.3 544.5h1.70v1.70h-1.70zM99.3 548.7h1.70v1.70h-1.70zM99.3 586.6h1.70v1.70h-1.70zM99.3 590.8h1.70v1.70h-1.70zM101.4 437.3h1.70v1.70h-1.70zM101.4 443.6h1.70v1.70h-1.70zM101.4 449.9h1.70v1.70h-1.70zM101.4 462.6h1.70v1.70h-1.70zM101.4 492.0h1.70v1.70h-1.70zM101.4 508.8h1.70v1.70h-1.70zM101.4 527.7h1.70v1.70h-1.70zM101.4 590.8h1.70v1.70h-1.70zM103.5 426.8h1.70v1.70h-1.70zM103.5 517.2h1.70v1.70h-1.70zM103.5 550.8h1.70v1.70h-1.70zM103.5 559.3h1.70v1.70h-1.70zM103.5 567.7h1.70v1.70h-1.70zM103.5 574.0h1.70v1.70h-1.70zM103.5 592.9h1.70v1.70h-1.70zM105.6 403.7h1.70v1.70h-1.70zM105.6 426.8h1.70v1.70h-1.70zM105.6 439.4h1.70v1.70h-1.70zM105.6 443.6h1.70v1.70h-1.70zM105.6 471.0h1.70v1.70h-1.70zM105.6 485.7h1.70v1.70h-1.70zM105.6 500.4h1.70v1.70h-1.70zM105.6 510.9h1.70v1.70h-1.70zM105.6 521.4h1.70v1.70h-1.70zM105.6 565.6h1.70v1.70h-1.70zM105.6 569.8h1.70v1.70h-1.70zM105.6 574.0h1.70v1.70h-1.70zM105.6 578.2h1.70v1.70h-1.70zM105.6 599.2h1.70v1.70h-1.70zM105.6 603.4h1.70v1.70h-1.70zM105.6 607.6h1.70v1.70h-1.70zM105.6 609.7h1.70v1.70h-1.70zM107.7 422.6h1.70v1.70h-1.70zM107.7 592.9h1.70v1.70h-1.70zM107.7 599.2h1.70v1.70h-1.70zM109.8 407.9h1.70v1.70h-1.70zM109.8 412.1h1.70v1.70h-1.70zM109.8 431.0h1.70v1.70h-1.70zM109.8 496.2h1.70v1.70h-1.70zM109.8 510.9h1.70v1.70h-1.70zM109.8 517.2h1.70v1.70h-1.70zM109.8 527.7h1.70v1.70h-1.70zM109.8 599.2h1.70v1.70h-1.70zM111.9 483.6h1.70v1.70h-1.70zM111.9 529.8h1.70v1.70h-1.70zM111.9 552.9h1.70v1.70h-1.70zM114.0 500.4h1.70v1.70h-1.70zM114.0 504.6h1.70v1.70h-1.70zM114.0 529.8h1.70v1.70h-1.70zM114.0 552.9h1.70v1.70h-1.70zM114.0 580.3h1.70v1.70h-1.70zM114.0 584.5h1.70v1.70h-1.70zM116.1 468.9h1.70v1.70h-1.70zM116.1 489.9h1.70v1.70h-1.70zM116.1 504.6h1.70v1.70h-1.70zM116.1 527.7h1.70v1.70h-1.70zM116.1 531.9h1.70v1.70h-1.70zM116.1 548.7h1.70v1.70h-1.70zM116.1 550.8h1.70v1.70h-1.70zM116.1 586.6h1.70v1.70h-1.70zM116.1 590.8h1.70v1.70h-1.70zM116.1 595.0h1.70v1.70h-1.70zM118.2 414.2h1.70v1.70h-1.70zM118.2 462.6h1.70v1.70h-1.70zM118.2 468.9h1.70v1.70h-1.70zM118.2 515.1h1.70v1.70h-1.70zM118.2 519.3h1.70v1.70h-1.70zM118.2 531.9h1.70v1.70h-1.70zM118.2 534.0h1.70v1.70h-1.70zM118.2 542.4h1.70v1.70h-1.70zM118.2 552.9h1.70v1.70h-1.70zM118.2 574.0h1.70v1.70h-1.70zM118.2 588.7h1.70v1.70h-1.70zM118.2 592.9h1.70v1.70h-1.70zM118.2 595.0h1.70v1.70h-1.70zM118.2 607.6h1.70v1.70h-1.70zM120.3 462.6h1.70v1.70h-1.70zM120.3 496.2h1.70v1.70h-1.70zM120.3 506.7h1.70v1.70h-1.70zM120.3 536.1h1.70v1.70h-1.70zM120.3 544.5h1.70v1.70h-1.70zM120.3 561.4h1.70v1.70h-1.70zM122.4 529.8h1.70v1.70h-1.70zM122.4 599.2h1.70v1.70h-1.70zM124.5 445.7h1.70v1.70h-1.70zM124.5 462.6h1.70v1.70h-1.70zM124.5 485.7h1.70v1.70h-1.70zM124.5 540.3h1.70v1.70h-1.70zM124.5 550.8h1.70v1.70h-1.70zM124.5 563.5h1.70v1.70h-1.70zM124.5 576.1h1.70v1.70h-1.70zM124.5 605.5h1.70v1.70h-1.70zM126.6 405.8h1.70v1.70h-1.70zM126.6 447.8h1.70v1.70h-1.70zM126.6 464.7h1.70v1.70h-1.70zM126.6 504.6h1.70v1.70h-1.70zM126.6 559.3h1.70v1.70h-1.70zM126.6 561.4h1.70v1.70h-1.70zM126.6 565.6h1.70v1.70h-1.70zM126.6 569.8h1.70v1.70h-1.70zM126.6 584.5h1.70v1.70h-1.70zM126.6 590.8h1.70v1.70h-1.70zM128.7 422.6h1.70v1.70h-1.70zM128.7 435.2h1.70v1.70h-1.70zM128.7 468.9h1.70v1.70h-1.70zM128.7 473.1h1.70v1.70h-1.70zM128.7 477.3h1.70v1.70h-1.70zM128.7 481.5h1.70v1.70h-1.70zM128.7 492.0h1.70v1.70h-1.70zM128.7 502.5h1.70v1.70h-1.70zM128.7 510.9h1.70v1.70h-1.70zM128.7 513.0h1.70v1.70h-1.70zM128.7 523.5h1.70v1.70h-1.70zM128.7 534.0h1.70v1.70h-1.70zM128.7 544.5h1.70v1.70h-1.70zM128.7 546.6h1.70v1.70h-1.70zM128.7 548.7h1.70v1.70h-1.70zM128.7 555.0h1.70v1.70h-1.70zM128.7 609.7h1.70v1.70h-1.70zM130.8 403.7h1.70v1.70h-1.70zM130.8 435.2h1.70v1.70h-1.70zM130.8 437.3h1.70v1.70h-1.70zM130.8 456.3h1.70v1.70h-1.70zM130.8 462.6h1.70v1.70h-1.70zM130.8 485.7h1.70v1.70h-1.70zM130.8 508.8h1.70v1.70h-1.70zM130.8 517.2h1.70v1.70h-1.70zM130.8 538.2h1.70v1.70h-1.70zM130.8 555.0h1.70v1.70h-1.70zM130.8 557.1h1.70v1.70h-1.70zM130.8 559.3h1.70v1.70h-1.70zM130.8 580.3h1.70v1.70h-1.70zM130.8 590.8h1.70v1.70h-1.70zM130.8 597.1h1.70v1.70h-1.70zM130.8 605.5h1.70v1.70h-1.70zM132.9 397.4h1.70v1.70h-1.70zM132.9 399.5h1.70v1.70h-1.70zM132.9 403.7h1.70v1.70h-1.70zM132.9 405.8h1.70v1.70h-1.70zM132.9 414.2h1.70v1.70h-1.70zM132.9 441.5h1.70v1.70h-1.70zM132.9 460.5h1.70v1.70h-1.70zM132.9 462.6h1.70v1.70h-1.70zM132.9 483.6h1.70v1.70h-1.70zM132.9 485.7h1.70v1.70h-1.70zM132.9 494.1h1.70v1.70h-1.70zM132.9 496.2h1.70v1.70h-1.70zM132.9 510.9h1.70v1.70h-1.70zM132.9 519.3h1.70v1.70h-1.70zM132.9 523.5h1.70v1.70h-1.70zM132.9 536.1h1.70v1.70h-1.70zM132.9 544.5h1.70v1.70h-1.70zM132.9 557.1h1.70v1.70h-1.70zM132.9 559.3h1.70v1.70h-1.70zM132.9 565.6h1.70v1.70h-1.70zM135.0 407.9h1.70v1.70h-1.70zM135.0 410.0h1.70v1.70h-1.70zM135.0 420.5h1.70v1.70h-1.70zM135.0 437.3h1.70v1.70h-1.70zM135.0 447.8h1.70v1.70h-1.70zM135.0 456.3h1.70v1.70h-1.70zM135.0 458.4h1.70v1.70h-1.70zM135.0 471.0h1.70v1.70h-1.70zM135.0 519.3h1.70v1.70h-1.70zM135.0 527.7h1.70v1.70h-1.70zM135.0 538.2h1.70v1.70h-1.70zM135.0 540.3h1.70v1.70h-1.70zM135.0 544.5h1.70v1.70h-1.70zM135.0 557.1h1.70v1.70h-1.70zM135.0 574.0h1.70v1.70h-1.70zM135.0 586.6h1.70v1.70h-1.70zM137.1 424.7h1.70v1.70h-1.70zM137.1 437.3h1.70v1.70h-1.70zM137.1 447.8h1.70v1.70h-1.70zM137.1 481.5h1.70v1.70h-1.70zM137.1 487.8h1.70v1.70h-1.70zM137.1 496.2h1.70v1.70h-1.70zM137.1 519.3h1.70v1.70h-1.70zM137.1 521.4h1.70v1.70h-1.70zM137.1 529.8h1.70v1.70h-1.70zM137.1 538.2h1.70v1.70h-1.70zM137.1 542.4h1.70v1.70h-1.70zM137.1 544.5h1.70v1.70h-1.70zM137.1 552.9h1.70v1.70h-1.70zM137.1 565.6h1.70v1.70h-1.70zM137.1 590.8h1.70v1.70h-1.70zM137.1 595.0h1.70v1.70h-1.70zM139.2 397.4h1.70v1.70h-1.70zM139.2 443.6h1.70v1.70h-1.70zM139.2 468.9h1.70v1.70h-1.70zM139.2 473.1h1.70v1.70h-1.70zM139.2 477.3h1.70v1.70h-1.70zM139.2 489.9h1.70v1.70h-1.70zM139.2 521.4h1.70v1.70h-1.70zM139.2 534.0h1.70v1.70h-1.70zM139.2 542.4h1.70v1.70h-1.70zM139.2 544.5h1.70v1.70h-1.70zM139.2 565.6h1.70v1.70h-1.70zM139.2 574.0h1.70v1.70h-1.70zM139.2 580.3h1.70v1.70h-1.70zM139.2 584.5h1.70v1.70h-1.70zM139.2 592.9h1.70v1.70h-1.70zM139.2 603.4h1.70v1.70h-1.70zM139.2 607.6h1.70v1.70h-1.70zM139.2 609.7h1.70v1.70h-1.70zM141.3 435.2h1.70v1.70h-1.70zM141.3 439.4h1.70v1.70h-1.70zM141.3 445.7h1.70v1.70h-1.70zM141.3 452.1h1.70v1.70h-1.70zM141.3 473.1h1.70v1.70h-1.70zM141.3 489.9h1.70v1.70h-1.70zM141.3 498.3h1.70v1.70h-1.70zM141.3 506.7h1.70v1.70h-1.70zM141.3 521.4h1.70v1.70h-1.70zM141.3 527.7h1.70v1.70h-1.70zM141.3 538.2h1.70v1.70h-1.70zM141.3 569.8h1.70v1.70h-1.70zM141.3 580.3h1.70v1.70h-1.70zM143.4 410.0h1.70v1.70h-1.70zM143.4 418.4h1.70v1.70h-1.70zM143.4 437.3h1.70v1.70h-1.70zM143.4 443.6h1.70v1.70h-1.70zM143.4 454.2h1.70v1.70h-1.70zM143.4 477.3h1.70v1.70h-1.70zM143.4 492.0h1.70v1.70h-1.70zM143.4 502.5h1.70v1.70h-1.70zM143.4 504.6h1.70v1.70h-1.70zM143.4 515.1h1.70v1.70h-1.70zM143.4 517.2h1.70v1.70h-1.70zM143.4 519.3h1.70v1.70h-1.70zM143.4 521.4h1.70v1.70h-1.70zM143.4 548.7h1.70v1.70h-1.70zM143.4 552.9h1.70v1.70h-1.70zM143.4 559.3h1.70v1.70h-1.70zM143.4 565.6h1.70v1.70h-1.70zM143.4 584.5h1.70v1.70h-1.70zM143.4 597.1h1.70v1.70h-1.70zM143.4 599.2h1.70v1.70h-1.70zM143.4 603.4h1.70v1.70h-1.70zM143.4 607.6h1.70v1.70h-1.70zM145.5 403.7h1.70v1.70h-1.70zM145.5 433.1h1.70v1.70h-1.70zM145.5 435.2h1.70v1.70h-1.70zM145.5 443.6h1.70v1.70h-1.70zM145.5 445.7h1.70v1.70h-1.70zM145.5 462.6h1.70v1.70h-1.70zM145.5 466.8h1.70v1.70h-1.70zM145.5 468.9h1.70v1.70h-1.70zM145.5 485.7h1.70v1.70h-1.70zM145.5 502.5h1.70v1.70h-1.70zM145.5 508.8h1.70v1.70h-1.70zM145.5 510.9h1.70v1.70h-1.70zM145.5 513.0h1.70v1.70h-1.70zM145.5 515.1h1.70v1.70h-1.70zM145.5 525.6h1.70v1.70h-1.70zM145.5 529.8h1.70v1.70h-1.70zM145.5 536.1h1.70v1.70h-1.70zM145.5 555.0h1.70v1.70h-1.70zM145.5 557.1h1.70v1.70h-1.70zM145.5 569.8h1.70v1.70h-1.70zM145.5 584.5h1.70v1.70h-1.70zM145.5 586.6h1.70v1.70h-1.70zM145.5 595.0h1.70v1.70h-1.70zM145.5 597.1h1.70v1.70h-1.70zM145.5 599.2h1.70v1.70h-1.70zM147.6 399.5h1.70v1.70h-1.70zM147.6 403.7h1.70v1.70h-1.70zM147.6 407.9h1.70v1.70h-1.70zM147.6 422.6h1.70v1.70h-1.70zM147.6 437.3h1.70v1.70h-1.70zM147.6 454.2h1.70v1.70h-1.70zM147.6 464.7h1.70v1.70h-1.70zM147.6 502.5h1.70v1.70h-1.70zM147.6 536.1h1.70v1.70h-1.70zM147.6 552.9h1.70v1.70h-1.70zM147.6 559.3h1.70v1.70h-1.70zM147.6 561.4h1.70v1.70h-1.70zM147.6 580.3h1.70v1.70h-1.70zM147.6 595.0h1.70v1.70h-1.70zM147.6 609.7h1.70v1.70h-1.70zM149.7 397.4h1.70v1.70h-1.70zM149.7 403.7h1.70v1.70h-1.70zM149.7 416.3h1.70v1.70h-1.70zM149.7 433.1h1.70v1.70h-1.70zM149.7 445.7h1.70v1.70h-1.70zM149.7 460.5h1.70v1.70h-1.70zM149.7 468.9h1.70v1.70h-1.70zM149.7 475.2h1.70v1.70h-1.70zM149.7 485.7h1.70v1.70h-1.70zM149.7 494.1h1.70v1.70h-1.70zM149.7 508.8h1.70v1.70h-1.70zM149.7 513.0h1.70v1.70h-1.70zM149.7 521.4h1.70v1.70h-1.70zM149.7 527.7h1.70v1.70h-1.70zM149.7 529.8h1.70v1.70h-1.70zM149.7 538.2h1.70v1.70h-1.70zM149.7 542.4h1.70v1.70h-1.70zM149.7 574.0h1.70v1.70h-1.70zM149.7 586.6h1.70v1.70h-1.70zM149.7 590.8h1.70v1.70h-1.70zM149.7 599.2h1.70v1.70h-1.70zM151.8 422.6h1.70v1.70h-1.70zM151.8 431.0h1.70v1.70h-1.70zM151.8 435.2h1.70v1.70h-1.70zM151.8 479.4h1.70v1.70h-1.70zM151.8 485.7h1.70v1.70h-1.70zM151.8 496.2h1.70v1.70h-1.70zM151.8 504.6h1.70v1.70h-1.70zM151.8 540.3h1.70v1.70h-1.70zM151.8 546.6h1.70v1.70h-1.70zM151.8 555.0h1.70v1.70h-1.70zM151.8 574.0h1.70v1.70h-1.70zM151.8 578.2h1.70v1.70h-1.70zM151.8 607.6h1.70v1.70h-1.70zM153.9 407.9h1.70v1.70h-1.70zM153.9 422.6h1.70v1.70h-1.70zM153.9 433.1h1.70v1.70h-1.70zM153.9 435.2h1.70v1.70h-1.70zM153.9 454.2h1.70v1.70h-1.70zM153.9 456.3h1.70v1.70h-1.70zM153.9 460.5h1.70v1.70h-1.70zM153.9 471.0h1.70v1.70h-1.70zM153.9 477.3h1.70v1.70h-1.70zM153.9 481.5h1.70v1.70h-1.70zM153.9 489.9h1.70v1.70h-1.70zM153.9 513.0h1.70v1.70h-1.70zM153.9 557.1h1.70v1.70h-1.70zM153.9 559.3h1.70v1.70h-1.70zM153.9 563.5h1.70v1.70h-1.70zM153.9 597.1h1.70v1.70h-1.70zM156.0 401.6h1.70v1.70h-1.70zM156.0 405.8h1.70v1.70h-1.70zM156.0 431.0h1.70v1.70h-1.70zM156.0 433.1h1.70v1.70h-1.70zM156.0 452.1h1.70v1.70h-1.70zM156.0 475.2h1.70v1.70h-1.70zM156.0 481.5h1.70v1.70h-1.70zM156.0 483.6h1.70v1.70h-1.70zM156.0 485.7h1.70v1.70h-1.70zM156.0 489.9h1.70v1.70h-1.70zM156.0 502.5h1.70v1.70h-1.70zM156.0 506.7h1.70v1.70h-1.70zM156.0 519.3h1.70v1.70h-1.70zM156.0 529.8h1.70v1.70h-1.70zM156.0 565.6h1.70v1.70h-1.70zM156.0 569.8h1.70v1.70h-1.70zM156.0 578.2h1.70v1.70h-1.70zM156.0 582.4h1.70v1.70h-1.70zM156.0 586.6h1.70v1.70h-1.70zM156.0 599.2h1.70v1.70h-1.70zM156.0 609.7h1.70v1.70h-1.70zM158.1 410.0h1.70v1.70h-1.70zM158.1 414.2h1.70v1.70h-1.70zM158.1 426.8h1.70v1.70h-1.70zM158.1 433.1h1.70v1.70h-1.70zM158.1 449.9h1.70v1.70h-1.70zM158.1 471.0h1.70v1.70h-1.70zM158.1 494.1h1.70v1.70h-1.70zM158.1 517.2h1.70v1.70h-1.70zM158.1 538.2h1.70v1.70h-1.70zM158.1 540.3h1.70v1.70h-1.70zM158.1 548.7h1.70v1.70h-1.70zM158.1 557.1h1.70v1.70h-1.70zM158.1 565.6h1.70v1.70h-1.70zM158.1 584.5h1.70v1.70h-1.70zM158.1 597.1h1.70v1.70h-1.70zM158.1 609.7h1.70v1.70h-1.70zM160.2 405.8h1.70v1.70h-1.70zM160.2 431.0h1.70v1.70h-1.70zM160.2 449.9h1.70v1.70h-1.70zM160.2 454.2h1.70v1.70h-1.70zM160.2 464.7h1.70v1.70h-1.70zM160.2 471.0h1.70v1.70h-1.70zM160.2 492.0h1.70v1.70h-1.70zM160.2 498.3h1.70v1.70h-1.70zM160.2 506.7h1.70v1.70h-1.70zM160.2 508.8h1.70v1.70h-1.70zM160.2 515.1h1.70v1.70h-1.70zM160.2 542.4h1.70v1.70h-1.70zM160.2 565.6h1.70v1.70h-1.70zM160.2 567.7h1.70v1.70h-1.70zM160.2 588.7h1.70v1.70h-1.70zM160.2 597.1h1.70v1.70h-1.70zM162.3 439.4h1.70v1.70h-1.70zM162.3 447.8h1.70v1.70h-1.70zM162.3 454.2h1.70v1.70h-1.70zM162.3 458.4h1.70v1.70h-1.70zM162.3 485.7h1.70v1.70h-1.70zM162.3 504.6h1.70v1.70h-1.70zM162.3 513.0h1.70v1.70h-1.70zM162.3 529.8h1.70v1.70h-1.70zM162.3 538.2h1.70v1.70h-1.70zM162.3 555.0h1.70v1.70h-1.70zM162.3 557.1h1.70v1.70h-1.70zM162.3 574.0h1.70v1.70h-1.70zM162.3 582.4h1.70v1.70h-1.70zM162.3 588.7h1.70v1.70h-1.70zM164.4 397.4h1.70v1.70h-1.70zM164.4 401.6h1.70v1.70h-1.70zM164.4 416.3h1.70v1.70h-1.70zM164.4 418.4h1.70v1.70h-1.70zM164.4 441.5h1.70v1.70h-1.70zM164.4 473.1h1.70v1.70h-1.70zM164.4 479.4h1.70v1.70h-1.70zM164.4 485.7h1.70v1.70h-1.70zM164.4 510.9h1.70v1.70h-1.70zM164.4 517.2h1.70v1.70h-1.70zM164.4 527.7h1.70v1.70h-1.70zM164.4 529.8h1.70v1.70h-1.70zM164.4 538.2h1.70v1.70h-1.70zM164.4 546.6h1.70v1.70h-1.70zM164.4 550.8h1.70v1.70h-1.70zM164.4 561.4h1.70v1.70h-1.70zM164.4 563.5h1.70v1.70h-1.70zM164.4 565.6h1.70v1.70h-1.70zM164.4 569.8h1.70v1.70h-1.70zM164.4 580.3h1.70v1.70h-1.70zM164.4 584.5h1.70v1.70h-1.70zM164.4 599.2h1.70v1.70h-1.70zM164.4 601.3h1.70v1.70h-1.70zM166.5 412.1h1.70v1.70h-1.70zM166.5 424.7h1.70v1.70h-1.70zM166.5 433.1h1.70v1.70h-1.70zM166.5 447.8h1.70v1.70h-1.70zM166.5 460.5h1.70v1.70h-1.70zM166.5 464.7h1.70v1.70h-1.70zM166.5 473.1h1.70v1.70h-1.70zM166.5 496.2h1.70v1.70h-1.70zM166.5 498.3h1.70v1.70h-1.70zM166.5 502.5h1.70v1.70h-1.70zM166.5 521.4h1.70v1.70h-1.70zM166.5 534.0h1.70v1.70h-1.70zM166.5 544.5h1.70v1.70h-1.70zM166.5 557.1h1.70v1.70h-1.70zM166.5 582.4h1.70v1.70h-1.70zM166.5 601.3h1.70v1.70h-1.70zM168.6 403.7h1.70v1.70h-1.70zM168.6 412.1h1.70v1.70h-1.70zM168.6 424.7h1.70v1.70h-1.70zM168.6 428.9h1.70v1.70h-1.70zM168.6 441.5h1.70v1.70h-1.70zM168.6 452.1h1.70v1.70h-1.70zM168.6 456.3h1.70v1.70h-1.70zM168.6 471.0h1.70v1.70h-1.70zM168.6 481.5h1.70v1.70h-1.70zM168.6 508.8h1.70v1.70h-1.70zM168.6 513.0h1.70v1.70h-1.70zM168.6 517.2h1.70v1.70h-1.70zM168.6 546.6h1.70v1.70h-1.70zM168.6 550.8h1.70v1.70h-1.70zM168.6 584.5h1.70v1.70h-1.70zM168.6 597.1h1.70v1.70h-1.70zM168.6 609.7h1.70v1.70h-1.70zM170.7 439.4h1.70v1.70h-1.70zM170.7 447.8h1.70v1.70h-1.70zM170.7 449.9h1.70v1.70h-1.70zM170.7 492.0h1.70v1.70h-1.70zM170.7 500.4h1.70v1.70h-1.70zM170.7 506.7h1.70v1.70h-1.70zM170.7 513.0h1.70v1.70h-1.70zM170.7 546.6h1.70v1.70h-1.70zM170.7 548.7h1.70v1.70h-1.70zM170.7 550.8h1.70v1.70h-1.70zM170.7 588.7h1.70v1.70h-1.70zM172.8 397.4h1.70v1.70h-1.70zM172.8 403.7h1.70v1.70h-1.70zM172.8 416.3h1.70v1.70h-1.70zM172.8 422.6h1.70v1.70h-1.70zM172.8 433.1h1.70v1.70h-1.70zM172.8 445.7h1.70v1.70h-1.70zM172.8 456.3h1.70v1.70h-1.70zM172.8 477.3h1.70v1.70h-1.70zM172.8 481.5h1.70v1.70h-1.70zM172.8 492.0h1.70v1.70h-1.70zM172.8 521.4h1.70v1.70h-1.70zM172.8 525.6h1.70v1.70h-1.70zM172.8 542.4h1.70v1.70h-1.70zM172.8 557.1h1.70v1.70h-1.70zM172.8 580.3h1.70v1.70h-1.70zM174.9 410.0h1.70v1.70h-1.70zM174.9 422.6h1.70v1.70h-1.70zM174.9 435.2h1.70v1.70h-1.70zM174.9 443.6h1.70v1.70h-1.70zM174.9 464.7h1.70v1.70h-1.70zM174.9 473.1h1.70v1.70h-1.70zM174.9 481.5h1.70v1.70h-1.70zM174.9 487.8h1.70v1.70h-1.70zM174.9 489.9h1.70v1.70h-1.70zM174.9 513.0h1.70v1.70h-1.70zM174.9 515.1h1.70v1.70h-1.70zM174.9 517.2h1.70v1.70h-1.70zM174.9 527.7h1.70v1.70h-1.70zM174.9 531.9h1.70v1.70h-1.70zM174.9 534.0h1.70v1.70h-1.70zM174.9 548.7h1.70v1.70h-1.70zM174.9 559.3h1.70v1.70h-1.70zM174.9 576.1h1.70v1.70h-1.70zM174.9 607.6h1.70v1.70h-1.70z"/><path fill="#646a0e" d="M38.4 418.4h1.70v1.70h-1.70zM38.4 447.8h1.70v1.70h-1.70zM38.4 462.6h1.70v1.70h-1.70zM38.4 471.0h1.70v1.70h-1.70zM38.4 498.3h1.70v1.70h-1.70zM38.4 500.4h1.70v1.70h-1.70zM38.4 510.9h1.70v1.70h-1.70zM38.4 525.6h1.70v1.70h-1.70zM38.4 529.8h1.70v1.70h-1.70zM38.4 534.0h1.70v1.70h-1.70zM38.4 605.5h1.70v1.70h-1.70zM40.5 414.2h1.70v1.70h-1.70zM40.5 418.4h1.70v1.70h-1.70zM40.5 431.0h1.70v1.70h-1.70zM40.5 433.1h1.70v1.70h-1.70zM40.5 437.3h1.70v1.70h-1.70zM40.5 454.2h1.70v1.70h-1.70zM40.5 460.5h1.70v1.70h-1.70zM40.5 462.6h1.70v1.70h-1.70zM40.5 475.2h1.70v1.70h-1.70zM40.5 487.8h1.70v1.70h-1.70zM40.5 517.2h1.70v1.70h-1.70zM40.5 529.8h1.70v1.70h-1.70zM40.5 540.3h1.70v1.70h-1.70zM40.5 561.4h1.70v1.70h-1.70zM40.5 569.8h1.70v1.70h-1.70zM40.5 597.1h1.70v1.70h-1.70zM40.5 599.2h1.70v1.70h-1.70zM40.5 609.7h1.70v1.70h-1.70zM42.6 412.1h1.70v1.70h-1.70zM42.6 422.6h1.70v1.70h-1.70zM42.6 424.7h1.70v1.70h-1.70zM42.6 428.9h1.70v1.70h-1.70zM42.6 439.4h1.70v1.70h-1.70zM42.6 441.5h1.70v1.70h-1.70zM42.6 452.1h1.70v1.70h-1.70zM42.6 462.6h1.70v1.70h-1.70zM42.6 475.2h1.70v1.70h-1.70zM42.6 477.3h1.70v1.70h-1.70zM42.6 500.4h1.70v1.70h-1.70zM42.6 510.9h1.70v1.70h-1.70zM42.6 519.3h1.70v1.70h-1.70zM42.6 523.5h1.70v1.70h-1.70zM42.6 534.0h1.70v1.70h-1.70zM42.6 548.7h1.70v1.70h-1.70zM42.6 555.0h1.70v1.70h-1.70zM42.6 557.1h1.70v1.70h-1.70zM42.6 580.3h1.70v1.70h-1.70zM42.6 592.9h1.70v1.70h-1.70zM44.7 426.8h1.70v1.70h-1.70zM44.7 428.9h1.70v1.70h-1.70zM44.7 456.3h1.70v1.70h-1.70zM44.7 475.2h1.70v1.70h-1.70zM44.7 483.6h1.70v1.70h-1.70zM44.7 494.1h1.70v1.70h-1.70zM44.7 508.8h1.70v1.70h-1.70zM44.7 525.6h1.70v1.70h-1.70zM44.7 531.9h1.70v1.70h-1.70zM44.7 544.5h1.70v1.70h-1.70zM44.7 546.6h1.70v1.70h-1.70zM44.7 550.8h1.70v1.70h-1.70zM44.7 559.3h1.70v1.70h-1.70zM44.7 584.5h1.70v1.70h-1.70zM44.7 595.0h1.70v1.70h-1.70zM46.8 407.9h1.70v1.70h-1.70zM46.8 418.4h1.70v1.70h-1.70zM46.8 439.4h1.70v1.70h-1.70zM46.8 449.9h1.70v1.70h-1.70zM46.8 466.8h1.70v1.70h-1.70zM46.8 477.3h1.70v1.70h-1.70zM46.8 479.4h1.70v1.70h-1.70zM46.8 483.6h1.70v1.70h-1.70zM46.8 487.8h1.70v1.70h-1.70zM46.8 492.0h1.70v1.70h-1.70zM46.8 504.6h1.70v1.70h-1.70zM46.8 525.6h1.70v1.70h-1.70zM46.8 536.1h1.70v1.70h-1.70zM46.8 542.4h1.70v1.70h-1.70zM46.8 544.5h1.70v1.70h-1.70zM46.8 555.0h1.70v1.70h-1.70zM46.8 580.3h1.70v1.70h-1.70zM46.8 592.9h1.70v1.70h-1.70zM46.8 595.0h1.70v1.70h-1.70zM48.9 397.4h1.70v1.70h-1.70zM48.9 401.6h1.70v1.70h-1.70zM48.9 443.6h1.70v1.70h-1.70zM48.9 462.6h1.70v1.70h-1.70zM48.9 496.2h1.70v1.70h-1.70zM48.9 498.3h1.70v1.70h-1.70zM48.9 500.4h1.70v1.70h-1.70zM48.9 508.8h1.70v1.70h-1.70zM48.9 510.9h1.70v1.70h-1.70zM48.9 525.6h1.70v1.70h-1.70zM48.9 552.9h1.70v1.70h-1.70zM48.9 561.4h1.70v1.70h-1.70zM48.9 590.8h1.70v1.70h-1.70zM48.9 607.6h1.70v1.70h-1.70zM51.0 407.9h1.70v1.70h-1.70zM51.0 412.1h1.70v1.70h-1.70zM51.0 418.4h1.70v1.70h-1.70zM51.0 424.7h1.70v1.70h-1.70zM51.0 431.0h1.70v1.70h-1.70zM51.0 435.2h1.70v1.70h-1.70zM51.0 443.6h1.70v1.70h-1.70zM51.0 464.7h1.70v1.70h-1.70zM51.0 468.9h1.70v1.70h-1.70zM51.0 475.2h1.70v1.70h-1.70zM51.0 489.9h1.70v1.70h-1.70zM51.0 494.1h1.70v1.70h-1.70zM51.0 508.8h1.70v1.70h-1.70zM51.0 513.0h1.70v1.70h-1.70zM51.0 517.2h1.70v1.70h-1.70zM51.0 519.3h1.70v1.70h-1.70zM51.0 529.8h1.70v1.70h-1.70zM51.0 544.5h1.70v1.70h-1.70zM51.0 550.8h1.70v1.70h-1.70zM51.0 578.2h1.70v1.70h-1.70zM51.0 586.6h1.70v1.70h-1.70zM51.0 595.0h1.70v1.70h-1.70zM51.0 609.7h1.70v1.70h-1.70zM53.1 399.5h1.70v1.70h-1.70zM53.1 403.7h1.70v1.70h-1.70zM53.1 410.0h1.70v1.70h-1.70zM53.1 416.3h1.70v1.70h-1.70zM53.1 420.5h1.70v1.70h-1.70zM53.1 426.8h1.70v1.70h-1.70zM53.1 433.1h1.70v1.70h-1.70zM53.1 441.5h1.70v1.70h-1.70zM53.1 443.6h1.70v1.70h-1.70zM53.1 445.7h1.70v1.70h-1.70zM53.1 479.4h1.70v1.70h-1.70zM53.1 489.9h1.70v1.70h-1.70zM53.1 492.0h1.70v1.70h-1.70zM53.1 494.1h1.70v1.70h-1.70zM53.1 498.3h1.70v1.70h-1.70zM53.1 506.7h1.70v1.70h-1.70zM53.1 531.9h1.70v1.70h-1.70zM53.1 542.4h1.70v1.70h-1.70zM53.1 567.7h1.70v1.70h-1.70zM53.1 569.8h1.70v1.70h-1.70zM55.2 405.8h1.70v1.70h-1.70zM55.2 412.1h1.70v1.70h-1.70zM55.2 428.9h1.70v1.70h-1.70zM55.2 483.6h1.70v1.70h-1.70zM55.2 487.8h1.70v1.70h-1.70zM55.2 492.0h1.70v1.70h-1.70zM55.2 517.2h1.70v1.70h-1.70zM55.2 527.7h1.70v1.70h-1.70zM55.2 546.6h1.70v1.70h-1.70zM55.2 555.0h1.70v1.70h-1.70zM55.2 578.2h1.70v1.70h-1.70zM55.2 595.0h1.70v1.70h-1.70zM55.2 599.2h1.70v1.70h-1.70zM57.3 401.6h1.70v1.70h-1.70zM57.3 407.9h1.70v1.70h-1.70zM57.3 412.1h1.70v1.70h-1.70zM57.3 418.4h1.70v1.70h-1.70zM57.3 433.1h1.70v1.70h-1.70zM57.3 452.1h1.70v1.70h-1.70zM57.3 485.7h1.70v1.70h-1.70zM57.3 559.3h1.70v1.70h-1.70zM57.3 584.5h1.70v1.70h-1.70zM57.3 586.6h1.70v1.70h-1.70zM57.3 605.5h1.70v1.70h-1.70zM59.4 403.7h1.70v1.70h-1.70zM59.4 405.8h1.70v1.70h-1.70zM59.4 418.4h1.70v1.70h-1.70zM59.4 420.5h1.70v1.70h-1.70zM59.4 426.8h1.70v1.70h-1.70zM59.4 439.4h1.70v1.70h-1.70zM59.4 449.9h1.70v1.70h-1.70zM59.4 454.2h1.70v1.70h-1.70zM59.4 473.1h1.70v1.70h-1.70zM59.4 477.3h1.70v1.70h-1.70zM59.4 483.6h1.70v1.70h-1.70zM59.4 498.3h1.70v1.70h-1.70zM59.4 529.8h1.70v1.70h-1.70zM59.4 544.5h1.70v1.70h-1.70zM59.4 546.6h1.70v1.70h-1.70zM59.4 550.8h1.70v1.70h-1.70zM59.4 569.8h1.70v1.70h-1.70zM59.4 576.1h1.70v1.70h-1.70zM59.4 592.9h1.70v1.70h-1.70zM59.4 607.6h1.70v1.70h-1.70zM59.4 609.7h1.70v1.70h-1.70zM61.5 414.2h1.70v1.70h-1.70zM61.5 426.8h1.70v1.70h-1.70zM61.5 439.4h1.70v1.70h-1.70zM61.5 452.1h1.70v1.70h-1.70zM61.5 460.5h1.70v1.70h-1.70zM61.5 462.6h1.70v1.70h-1.70zM61.5 494.1h1.70v1.70h-1.70zM61.5 500.4h1.70v1.70h-1.70zM61.5 504.6h1.70v1.70h-1.70zM61.5 506.7h1.70v1.70h-1.70zM61.5 508.8h1.70v1.70h-1.70zM61.5 513.0h1.70v1.70h-1.70zM61.5 521.4h1.70v1.70h-1.70zM61.5 525.6h1.70v1.70h-1.70zM61.5 552.9h1.70v1.70h-1.70zM61.5 555.0h1.70v1.70h-1.70zM61.5 561.4h1.70v1.70h-1.70zM61.5 586.6h1.70v1.70h-1.70zM63.6 426.8h1.70v1.70h-1.70zM63.6 431.0h1.70v1.70h-1.70zM63.6 437.3h1.70v1.70h-1.70zM63.6 439.4h1.70v1.70h-1.70zM63.6 441.5h1.70v1.70h-1.70zM63.6 468.9h1.70v1.70h-1.70zM63.6 481.5h1.70v1.70h-1.70zM63.6 489.9h1.70v1.70h-1.70zM63.6 492.0h1.70v1.70h-1.70zM63.6 510.9h1.70v1.70h-1.70zM63.6 513.0h1.70v1.70h-1.70zM63.6 519.3h1.70v1.70h-1.70zM63.6 552.9h1.70v1.70h-1.70zM63.6 584.5h1.70v1.70h-1.70zM63.6 599.2h1.70v1.70h-1.70zM65.7 399.5h1.70v1.70h-1.70zM65.7 410.0h1.70v1.70h-1.70zM65.7 418.4h1.70v1.70h-1.70zM65.7 420.5h1.70v1.70h-1.70zM65.7 424.7h1.70v1.70h-1.70zM65.7 458.4h1.70v1.70h-1.70zM65.7 464.7h1.70v1.70h-1.70zM65.7 477.3h1.70v1.70h-1.70zM65.7 489.9h1.70v1.70h-1.70zM65.7 510.9h1.70v1.70h-1.70zM65.7 527.7h1.70v1.70h-1.70zM65.7 540.3h1.70v1.70h-1.70zM65.7 563.5h1.70v1.70h-1.70zM65.7 582.4h1.70v1.70h-1.70zM67.8 412.1h1.70v1.70h-1.70zM67.8 439.4h1.70v1.70h-1.70zM67.8 441.5h1.70v1.70h-1.70zM67.8 447.8h1.70v1.70h-1.70zM67.8 466.8h1.70v1.70h-1.70zM67.8 468.9h1.70v1.70h-1.70zM67.8 475.2h1.70v1.70h-1.70zM67.8 492.0h1.70v1.70h-1.70zM67.8 502.5h1.70v1.70h-1.70zM67.8 538.2h1.70v1.70h-1.70zM67.8 571.9h1.70v1.70h-1.70zM67.8 590.8h1.70v1.70h-1.70zM67.8 599.2h1.70v1.70h-1.70zM69.9 401.6h1.70v1.70h-1.70zM69.9 410.0h1.70v1.70h-1.70zM69.9 418.4h1.70v1.70h-1.70zM69.9 441.5h1.70v1.70h-1.70zM69.9 458.4h1.70v1.70h-1.70zM69.9 460.5h1.70v1.70h-1.70zM69.9 513.0h1.70v1.70h-1.70zM69.9 534.0h1.70v1.70h-1.70zM69.9 550.8h1.70v1.70h-1.70zM69.9 561.4h1.70v1.70h-1.70zM69.9 574.0h1.70v1.70h-1.70zM69.9 607.6h1.70v1.70h-1.70zM72.0 397.4h1.70v1.70h-1.70zM72.0 401.6h1.70v1.70h-1.70zM72.0 405.8h1.70v1.70h-1.70zM72.0 416.3h1.70v1.70h-1.70zM72.0 449.9h1.70v1.70h-1.70zM72.0 464.7h1.70v1.70h-1.70zM72.0 473.1h1.70v1.70h-1.70zM72.0 492.0h1.70v1.70h-1.70zM72.0 496.2h1.70v1.70h-1.70zM72.0 500.4h1.70v1.70h-1.70zM72.0 504.6h1.70v1.70h-1.70zM72.0 510.9h1.70v1.70h-1.70zM72.0 515.1h1.70v1.70h-1.70zM72.0 519.3h1.70v1.70h-1.70zM72.0 521.4h1.70v1.70h-1.70zM72.0 561.4h1.70v1.70h-1.70zM72.0 571.9h1.70v1.70h-1.70zM74.1 403.7h1.70v1.70h-1.70zM74.1 431.0h1.70v1.70h-1.70zM74.1 435.2h1.70v1.70h-1.70zM74.1 447.8h1.70v1.70h-1.70zM74.1 449.9h1.70v1.70h-1.70zM74.1 452.1h1.70v1.70h-1.70zM74.1 460.5h1.70v1.70h-1.70zM74.1 477.3h1.70v1.70h-1.70zM74.1 504.6h1.70v1.70h-1.70zM74.1 517.2h1.70v1.70h-1.70zM74.1 531.9h1.70v1.70h-1.70zM74.1 557.1h1.70v1.70h-1.70zM74.1 563.5h1.70v1.70h-1.70zM74.1 565.6h1.70v1.70h-1.70zM74.1 569.8h1.70v1.70h-1.70zM74.1 571.9h1.70v1.70h-1.70zM76.2 412.1h1.70v1.70h-1.70zM76.2 473.1h1.70v1.70h-1.70zM76.2 481.5h1.70v1.70h-1.70zM76.2 508.8h1.70v1.70h-1.70zM76.2 515.1h1.70v1.70h-1.70zM76.2 540.3h1.70v1.70h-1.70zM76.2 601.3h1.70v1.70h-1.70zM76.2 607.6h1.70v1.70h-1.70zM78.3 456.3h1.70v1.70h-1.70zM78.3 458.4h1.70v1.70h-1.70zM78.3 464.7h1.70v1.70h-1.70zM78.3 468.9h1.70v1.70h-1.70zM78.3 473.1h1.70v1.70h-1.70zM78.3 489.9h1.70v1.70h-1.70zM78.3 515.1h1.70v1.70h-1.70zM78.3 525.6h1.70v1.70h-1.70zM78.3 531.9h1.70v1.70h-1.70zM78.3 584.5h1.70v1.70h-1.70zM78.3 588.7h1.70v1.70h-1.70zM80.4 397.4h1.70v1.70h-1.70zM80.4 428.9h1.70v1.70h-1.70zM80.4 447.8h1.70v1.70h-1.70zM80.4 464.7h1.70v1.70h-1.70zM80.4 475.2h1.70v1.70h-1.70zM80.4 481.5h1.70v1.70h-1.70zM80.4 496.2h1.70v1.70h-1.70zM80.4 504.6h1.70v1.70h-1.70zM80.4 508.8h1.70v1.70h-1.70zM82.5 405.8h1.70v1.70h-1.70zM82.5 407.9h1.70v1.70h-1.70zM82.5 414.2h1.70v1.70h-1.70zM82.5 418.4h1.70v1.70h-1.70zM82.5 424.7h1.70v1.70h-1.70zM82.5 433.1h1.70v1.70h-1.70zM82.5 435.2h1.70v1.70h-1.70zM82.5 443.6h1.70v1.70h-1.70zM82.5 460.5h1.70v1.70h-1.70zM82.5 466.8h1.70v1.70h-1.70zM82.5 468.9h1.70v1.70h-1.70zM82.5 477.3h1.70v1.70h-1.70zM82.5 481.5h1.70v1.70h-1.70zM82.5 540.3h1.70v1.70h-1.70zM82.5 565.6h1.70v1.70h-1.70zM82.5 569.8h1.70v1.70h-1.70zM84.6 397.4h1.70v1.70h-1.70zM84.6 399.5h1.70v1.70h-1.70zM84.6 412.1h1.70v1.70h-1.70zM84.6 456.3h1.70v1.70h-1.70zM84.6 464.7h1.70v1.70h-1.70zM84.6 466.8h1.70v1.70h-1.70zM84.6 487.8h1.70v1.70h-1.70zM84.6 513.0h1.70v1.70h-1.70zM84.6 529.8h1.70v1.70h-1.70zM84.6 534.0h1.70v1.70h-1.70zM84.6 550.8h1.70v1.70h-1.70zM84.6 555.0h1.70v1.70h-1.70zM86.7 424.7h1.70v1.70h-1.70zM86.7 443.6h1.70v1.70h-1.70zM86.7 445.7h1.70v1.70h-1.70zM86.7 447.8h1.70v1.70h-1.70zM86.7 473.1h1.70v1.70h-1.70zM86.7 496.2h1.70v1.70h-1.70zM86.7 504.6h1.70v1.70h-1.70zM86.7 508.8h1.70v1.70h-1.70zM86.7 513.0h1.70v1.70h-1.70zM86.7 519.3h1.70v1.70h-1.70zM86.7 531.9h1.70v1.70h-1.70zM86.7 540.3h1.70v1.70h-1.70zM86.7 552.9h1.70v1.70h-1.70zM86.7 561.4h1.70v1.70h-1.70zM86.7 565.6h1.70v1.70h-1.70zM86.7 580.3h1.70v1.70h-1.70zM86.7 597.1h1.70v1.70h-1.70zM88.8 447.8h1.70v1.70h-1.70zM88.8 454.2h1.70v1.70h-1.70zM88.8 479.4h1.70v1.70h-1.70zM88.8 485.7h1.70v1.70h-1.70zM88.8 494.1h1.70v1.70h-1.70zM88.8 496.2h1.70v1.70h-1.70zM88.8 508.8h1.70v1.70h-1.70zM88.8 519.3h1.70v1.70h-1.70zM88.8 523.5h1.70v1.70h-1.70zM88.8 542.4h1.70v1.70h-1.70zM88.8 546.6h1.70v1.70h-1.70zM88.8 557.1h1.70v1.70h-1.70zM88.8 563.5h1.70v1.70h-1.70zM88.8 576.1h1.70v1.70h-1.70zM88.8 588.7h1.70v1.70h-1.70zM88.8 603.4h1.70v1.70h-1.70zM90.9 418.4h1.70v1.70h-1.70zM90.9 422.6h1.70v1.70h-1.70zM90.9 431.0h1.70v1.70h-1.70zM90.9 439.4h1.70v1.70h-1.70zM90.9 449.9h1.70v1.70h-1.70zM90.9 456.3h1.70v1.70h-1.70zM90.9 471.0h1.70v1.70h-1.70zM90.9 473.1h1.70v1.70h-1.70zM90.9 475.2h1.70v1.70h-1.70zM90.9 494.1h1.70v1.70h-1.70zM90.9 496.2h1.70v1.70h-1.70zM90.9 519.3h1.70v1.70h-1.70zM90.9 544.5h1.70v1.70h-1.70zM90.9 563.5h1.70v1.70h-1.70zM90.9 571.9h1.70v1.70h-1.70zM90.9 578.2h1.70v1.70h-1.70zM90.9 584.5h1.70v1.70h-1.70zM90.9 586.6h1.70v1.70h-1.70zM90.9 590.8h1.70v1.70h-1.70zM90.9 595.0h1.70v1.70h-1.70zM90.9 601.3h1.70v1.70h-1.70zM90.9 609.7h1.70v1.70h-1.70zM93.0 403.7h1.70v1.70h-1.70zM93.0 428.9h1.70v1.70h-1.70zM93.0 431.0h1.70v1.70h-1.70zM93.0 435.2h1.70v1.70h-1.70zM93.0 437.3h1.70v1.70h-1.70zM93.0 439.4h1.70v1.70h-1.70zM93.0 452.1h1.70v1.70h-1.70zM93.0 466.8h1.70v1.70h-1.70zM93.0 473.1h1.70v1.70h-1.70zM93.0 510.9h1.70v1.70h-1.70zM93.0 513.0h1.70v1.70h-1.70zM93.0 574.0h1.70v1.70h-1.70zM93.0 580.3h1.70v1.70h-1.70zM93.0 595.0h1.70v1.70h-1.70zM95.1 433.1h1.70v1.70h-1.70zM95.1 441.5h1.70v1.70h-1.70zM95.1 460.5h1.70v1.70h-1.70zM95.1 468.9h1.70v1.70h-1.70zM95.1 473.1h1.70v1.70h-1.70zM95.1 510.9h1.70v1.70h-1.70zM95.1 515.1h1.70v1.70h-1.70zM95.1 525.6h1.70v1.70h-1.70zM95.1 557.1h1.70v1.70h-1.70zM97.2 397.4h1.70v1.70h-1.70zM97.2 401.6h1.70v1.70h-1.70zM97.2 422.6h1.70v1.70h-1.70zM97.2 441.5h1.70v1.70h-1.70zM97.2 458.4h1.70v1.70h-1.70zM97.2 477.3h1.70v1.70h-1.70zM97.2 481.5h1.70v1.70h-1.70zM97.2 485.7h1.70v1.70h-1.70zM97.2 498.3h1.70v1.70h-1.70zM97.2 552.9h1.70v1.70h-1.70zM97.2 563.5h1.70v1.70h-1.70zM97.2 588.7h1.70v1.70h-1.70zM99.3 397.4h1.70v1.70h-1.70zM99.3 399.5h1.70v1.70h-1.70zM99.3 414.2h1.70v1.70h-1.70zM99.3 439.4h1.70v1.70h-1.70zM99.3 445.7h1.70v1.70h-1.70zM99.3 460.5h1.70v1.70h-1.70zM99.3 464.7h1.70v1.70h-1.70zM99.3 475.2h1.70v1.70h-1.70zM99.3 479.4h1.70v1.70h-1.70zM99.3 519.3h1.70v1.70h-1.70zM99.3 542.4h1.70v1.70h-1.70zM99.3 559.3h1.70v1.70h-1.70zM99.3 565.6h1.70v1.70h-1.70zM99.3 576.1h1.70v1.70h-1.70zM99.3 597.1h1.70v1.70h-1.70zM101.4 410.0h1.70v1.70h-1.70zM101.4 424.7h1.70v1.70h-1.70zM101.4 441.5h1.70v1.70h-1.70zM101.4 460.5h1.70v1.70h-1.70zM101.4 477.3h1.70v1.70h-1.70zM101.4 479.4h1.70v1.70h-1.70zM101.4 481.5h1.70v1.70h-1.70zM101.4 496.2h1.70v1.70h-1.70zM101.4 498.3h1.70v1.70h-1.70zM101.4 504.6h1.70v1.70h-1.70zM101.4 513.0h1.70v1.70h-1.70zM101.4 523.5h1.70v1.70h-1.70zM101.4 557.1h1.70v1.70h-1.70zM101.4 578.2h1.70v1.70h-1.70zM101.4 605.5h1.70v1.70h-1.70zM103.5 399.5h1.70v1.70h-1.70zM103.5 407.9h1.70v1.70h-1.70zM103.5 422.6h1.70v1.70h-1.70zM103.5 424.7h1.70v1.70h-1.70zM103.5 443.6h1.70v1.70h-1.70zM103.5 452.1h1.70v1.70h-1.70zM103.5 454.2h1.70v1.70h-1.70zM103.5 458.4h1.70v1.70h-1.70zM103.5 506.7h1.70v1.70h-1.70zM103.5 510.9h1.70v1.70h-1.70zM103.5 542.4h1.70v1.70h-1.70zM103.5 565.6h1.70v1.70h-1.70zM103.5 571.9h1.70v1.70h-1.70zM103.5 609.7h1.70v1.70h-1.70zM105.6 399.5h1.70v1.70h-1.70zM105.6 422.6h1.70v1.70h-1.70zM105.6 433.1h1.70v1.70h-1.70zM105.6 435.2h1.70v1.70h-1.70zM105.6 445.7h1.70v1.70h-1.70zM105.6 447.8h1.70v1.70h-1.70zM105.6 515.1h1.70v1.70h-1.70zM105.6 529.8h1.70v1.70h-1.70zM105.6 544.5h1.70v1.70h-1.70zM105.6 571.9h1.70v1.70h-1.70zM105.6 588.7h1.70v1.70h-1.70zM107.7 452.1h1.70v1.70h-1.70zM107.7 460.5h1.70v1.70h-1.70zM107.7 466.8h1.70v1.70h-1.70zM107.7 475.2h1.70v1.70h-1.70zM107.7 494.1h1.70v1.70h-1.70zM107.7 496.2h1.70v1.70h-1.70zM107.7 515.1h1.70v1.70h-1.70zM107.7 517.2h1.70v1.70h-1.70zM107.7 527.7h1.70v1.70h-1.70zM107.7 534.0h1.70v1.70h-1.70zM107.7 569.8h1.70v1.70h-1.70zM107.7 571.9h1.70v1.70h-1.70zM107.7 605.5h1.70v1.70h-1.70zM107.7 607.6h1.70v1.70h-1.70zM109.8 405.8h1.70v1.70h-1.70zM109.8 414.2h1.70v1.70h-1.70zM109.8 428.9h1.70v1.70h-1.70zM109.8 485.7h1.70v1.70h-1.70zM109.8 502.5h1.70v1.70h-1.70zM109.8 513.0h1.70v1.70h-1.70zM109.8 525.6h1.70v1.70h-1.70zM109.8 555.0h1.70v1.70h-1.70zM109.8 574.0h1.70v1.70h-1.70zM109.8 578.2h1.70v1.70h-1.70zM109.8 607.6h1.70v1.70h-1.70zM111.9 410.0h1.70v1.70h-1.70zM111.9 412.1h1.70v1.70h-1.70zM111.9 437.3h1.70v1.70h-1.70zM111.9 449.9h1.70v1.70h-1.70zM111.9 473.1h1.70v1.70h-1.70zM111.9 477.3h1.70v1.70h-1.70zM111.9 498.3h1.70v1.70h-1.70zM111.9 500.4h1.70v1.70h-1.70zM111.9 519.3h1.70v1.70h-1.70zM111.9 525.6h1.70v1.70h-1.70zM111.9 527.7h1.70v1.70h-1.70zM111.9 546.6h1.70v1.70h-1.70zM111.9 550.8h1.70v1.70h-1.70zM111.9 555.0h1.70v1.70h-1.70zM111.9 557.1h1.70v1.70h-1.70zM111.9 571.9h1.70v1.70h-1.70zM111.9 582.4h1.70v1.70h-1.70zM111.9 590.8h1.70v1.70h-1.70zM111.9 592.9h1.70v1.70h-1.70zM111.9 595.0h1.70v1.70h-1.70zM111.9 597.1h1.70v1.70h-1.70zM111.9 609.7h1.70v1.70h-1.70zM114.0 399.5h1.70v1.70h-1.70zM114.0 418.4h1.70v1.70h-1.70zM114.0 428.9h1.70v1.70h-1.70zM114.0 437.3h1.70v1.70h-1.70zM114.0 452.1h1.70v1.70h-1.70zM114.0 458.4h1.70v1.70h-1.70zM114.0 471.0h1.70v1.70h-1.70zM114.0 475.2h1.70v1.70h-1.70zM114.0 489.9h1.70v1.70h-1.70zM114.0 494.1h1.70v1.70h-1.70zM114.0 496.2h1.70v1.70h-1.70zM114.0 517.2h1.70v1.70h-1.70zM114.0 550.8h1.70v1.70h-1.70zM114.0 578.2h1.70v1.70h-1.70zM116.1 399.5h1.70v1.70h-1.70zM116.1 403.7h1.70v1.70h-1.70zM116.1 416.3h1.70v1.70h-1.70zM116.1 418.4h1.70v1.70h-1.70zM116.1 426.8h1.70v1.70h-1.70zM116.1 431.0h1.70v1.70h-1.70zM116.1 435.2h1.70v1.70h-1.70zM116.1 441.5h1.70v1.70h-1.70zM116.1 462.6h1.70v1.70h-1.70zM116.1 500.4h1.70v1.70h-1.70zM116.1 513.0h1.70v1.70h-1.70zM116.1 525.6h1.70v1.70h-1.70zM116.1 546.6h1.70v1.70h-1.70zM116.1 584.5h1.70v1.70h-1.70zM118.2 407.9h1.70v1.70h-1.70zM118.2 428.9h1.70v1.70h-1.70zM118.2 435.2h1.70v1.70h-1.70zM118.2 475.2h1.70v1.70h-1.70zM118.2 479.4h1.70v1.70h-1.70zM118.2 483.6h1.70v1.70h-1.70zM118.2 525.6h1.70v1.70h-1.70zM120.3 397.4h1.70v1.70h-1.70zM120.3 403.7h1.70v1.70h-1.70zM120.3 412.1h1.70v1.70h-1.70zM120.3 414.2h1.70v1.70h-1.70zM120.3 445.7h1.70v1.70h-1.70zM120.3 454.2h1.70v1.70h-1.70zM120.3 456.3h1.70v1.70h-1.70zM120.3 458.4h1.70v1.70h-1.70zM120.3 513.0h1.70v1.70h-1.70zM120.3 515.1h1.70v1.70h-1.70zM120.3 519.3h1.70v1.70h-1.70zM120.3 546.6h1.70v1.70h-1.70zM120.3 552.9h1.70v1.70h-1.70zM120.3 555.0h1.70v1.70h-1.70zM120.3 557.1h1.70v1.70h-1.70zM120.3 582.4h1.70v1.70h-1.70zM120.3 586.6h1.70v1.70h-1.70zM120.3 592.9h1.70v1.70h-1.70zM120.3 595.0h1.70v1.70h-1.70zM122.4 433.1h1.70v1.70h-1.70zM122.4 445.7h1.70v1.70h-1.70zM122.4 454.2h1.70v1.70h-1.70zM122.4 458.4h1.70v1.70h-1.70zM122.4 468.9h1.70v1.70h-1.70zM122.4 475.2h1.70v1.70h-1.70zM122.4 483.6h1.70v1.70h-1.70zM122.4 496.2h1.70v1.70h-1.70zM122.4 523.5h1.70v1.70h-1.70zM122.4 531.9h1.70v1.70h-1.70zM122.4 536.1h1.70v1.70h-1.70zM122.4 538.2h1.70v1.70h-1.70zM122.4 559.3h1.70v1.70h-1.70zM122.4 586.6h1.70v1.70h-1.70zM122.4 588.7h1.70v1.70h-1.70zM124.5 410.0h1.70v1.70h-1.70zM124.5 412.1h1.70v1.70h-1.70zM124.5 426.8h1.70v1.70h-1.70zM124.5 433.1h1.70v1.70h-1.70zM124.5 456.3h1.70v1.70h-1.70zM124.5 468.9h1.70v1.70h-1.70zM124.5 500.4h1.70v1.70h-1.70zM124.5 502.5h1.70v1.70h-1.70zM124.5 504.6h1.70v1.70h-1.70zM124.5 534.0h1.70v1.70h-1.70zM124.5 557.1h1.70v1.70h-1.70zM124.5 571.9h1.70v1.70h-1.70zM124.5 609.7h1.70v1.70h-1.70zM126.6 397.4h1.70v1.70h-1.70zM126.6 422.6h1.70v1.70h-1.70zM126.6 431.0h1.70v1.70h-1.70zM126.6 439.4h1.70v1.70h-1.70zM126.6 445.7h1.70v1.70h-1.70zM126.6 466.8h1.70v1.70h-1.70zM126.6 485.7h1.70v1.70h-1.70zM126.6 506.7h1.70v1.70h-1.70zM128.7 397.4h1.70v1.70h-1.70zM128.7 403.7h1.70v1.70h-1.70zM128.7 405.8h1.70v1.70h-1.70zM128.7 416.3h1.70v1.70h-1.70zM128.7 428.9h1.70v1.70h-1.70zM128.7 441.5h1.70v1.70h-1.70zM128.7 456.3h1.70v1.70h-1.70zM128.7 540.3h1.70v1.70h-1.70zM128.7 567.7h1.70v1.70h-1.70zM130.8 454.2h1.70v1.70h-1.70zM130.8 468.9h1.70v1.70h-1.70zM130.8 536.1h1.70v1.70h-1.70zM130.8 603.4h1.70v1.70h-1.70zM132.9 477.3h1.70v1.70h-1.70zM132.9 561.4h1.70v1.70h-1.70zM132.9 563.5h1.70v1.70h-1.70zM132.9 605.5h1.70v1.70h-1.70zM137.1 550.8h1.70v1.70h-1.70zM137.1 557.1h1.70v1.70h-1.70zM137.1 582.4h1.70v1.70h-1.70zM139.2 403.7h1.70v1.70h-1.70zM139.2 424.7h1.70v1.70h-1.70zM139.2 496.2h1.70v1.70h-1.70zM139.2 601.3h1.70v1.70h-1.70zM141.3 401.6h1.70v1.70h-1.70zM141.3 405.8h1.70v1.70h-1.70zM141.3 475.2h1.70v1.70h-1.70zM141.3 477.3h1.70v1.70h-1.70zM141.3 485.7h1.70v1.70h-1.70zM141.3 496.2h1.70v1.70h-1.70zM141.3 508.8h1.70v1.70h-1.70zM141.3 603.4h1.70v1.70h-1.70zM143.4 412.1h1.70v1.70h-1.70zM143.4 426.8h1.70v1.70h-1.70zM143.4 447.8h1.70v1.70h-1.70zM143.4 460.5h1.70v1.70h-1.70zM143.4 483.6h1.70v1.70h-1.70zM143.4 487.8h1.70v1.70h-1.70zM143.4 494.1h1.70v1.70h-1.70zM143.4 506.7h1.70v1.70h-1.70zM143.4 529.8h1.70v1.70h-1.70zM143.4 542.4h1.70v1.70h-1.70zM143.4 544.5h1.70v1.70h-1.70zM143.4 555.0h1.70v1.70h-1.70zM143.4 557.1h1.70v1.70h-1.70zM143.4 563.5h1.70v1.70h-1.70zM143.4 574.0h1.70v1.70h-1.70zM143.4 578.2h1.70v1.70h-1.70zM143.4 582.4h1.70v1.70h-1.70zM145.5 412.1h1.70v1.70h-1.70zM145.5 420.5h1.70v1.70h-1.70zM145.5 477.3h1.70v1.70h-1.70zM145.5 550.8h1.70v1.70h-1.70zM145.5 574.0h1.70v1.70h-1.70zM147.6 428.9h1.70v1.70h-1.70zM147.6 456.3h1.70v1.70h-1.70zM147.6 489.9h1.70v1.70h-1.70zM149.7 449.9h1.70v1.70h-1.70zM149.7 454.2h1.70v1.70h-1.70zM149.7 458.4h1.70v1.70h-1.70zM149.7 506.7h1.70v1.70h-1.70zM149.7 510.9h1.70v1.70h-1.70zM149.7 584.5h1.70v1.70h-1.70zM149.7 597.1h1.70v1.70h-1.70zM153.9 412.1h1.70v1.70h-1.70zM153.9 527.7h1.70v1.70h-1.70zM153.9 548.7h1.70v1.70h-1.70zM153.9 599.2h1.70v1.70h-1.70zM153.9 603.4h1.70v1.70h-1.70zM153.9 605.5h1.70v1.70h-1.70zM156.0 422.6h1.70v1.70h-1.70zM156.0 458.4h1.70v1.70h-1.70zM156.0 515.1h1.70v1.70h-1.70zM158.1 401.6h1.70v1.70h-1.70zM158.1 422.6h1.70v1.70h-1.70zM158.1 431.0h1.70v1.70h-1.70zM158.1 460.5h1.70v1.70h-1.70zM158.1 479.4h1.70v1.70h-1.70zM158.1 489.9h1.70v1.70h-1.70zM158.1 534.0h1.70v1.70h-1.70zM158.1 574.0h1.70v1.70h-1.70zM158.1 599.2h1.70v1.70h-1.70zM158.1 603.4h1.70v1.70h-1.70zM160.2 407.9h1.70v1.70h-1.70zM160.2 426.8h1.70v1.70h-1.70zM160.2 437.3h1.70v1.70h-1.70zM160.2 447.8h1.70v1.70h-1.70zM160.2 483.6h1.70v1.70h-1.70zM162.3 510.9h1.70v1.70h-1.70zM162.3 559.3h1.70v1.70h-1.70zM162.3 571.9h1.70v1.70h-1.70zM164.4 431.0h1.70v1.70h-1.70zM166.5 418.4h1.70v1.70h-1.70zM168.6 529.8h1.70v1.70h-1.70zM170.7 426.8h1.70v1.70h-1.70zM172.8 410.0h1.70v1.70h-1.70zM172.8 418.4h1.70v1.70h-1.70zM172.8 420.5h1.70v1.70h-1.70zM172.8 523.5h1.70v1.70h-1.70zM172.8 527.7h1.70v1.70h-1.70zM172.8 529.8h1.70v1.70h-1.70zM172.8 534.0h1.70v1.70h-1.70zM172.8 559.3h1.70v1.70h-1.70zM172.8 584.5h1.70v1.70h-1.70zM172.8 595.0h1.70v1.70h-1.70zM174.9 471.0h1.70v1.70h-1.70zM174.9 521.4h1.70v1.70h-1.70zM174.9 529.8h1.70v1.70h-1.70z"/><path fill="#681af5" d="M38.4 489.9h1.70v1.70h-1.70zM38.4 527.7h1.70v1.70h-1.70zM38.4 540.3h1.70v1.70h-1.70zM38.4 576.1h1.70v1.70h-1.70zM38.4 580.3h1.70v1.70h-1.70zM38.4 590.8h1.70v1.70h-1.70zM38.4 595.0h1.70v1.70h-1.70zM38.4 599.2h1.70v1.70h-1.70zM40.5 479.4h1.70v1.70h-1.70zM40.5 565.6h1.70v1.70h-1.70zM40.5 580.3h1.70v1.70h-1.70zM42.6 571.9h1.70v1.70h-1.70zM42.6 590.8h1.70v1.70h-1.70zM46.8 605.5h1.70v1.70h-1.70zM48.9 431.0h1.70v1.70h-1.70zM48.9 479.4h1.70v1.70h-1.70zM48.9 557.1h1.70v1.70h-1.70zM48.9 567.7h1.70v1.70h-1.70zM48.9 584.5h1.70v1.70h-1.70zM48.9 595.0h1.70v1.70h-1.70zM48.9 599.2h1.70v1.70h-1.70zM51.0 531.9h1.70v1.70h-1.70zM51.0 563.5h1.70v1.70h-1.70zM51.0 580.3h1.70v1.70h-1.70zM51.0 584.5h1.70v1.70h-1.70zM51.0 599.2h1.70v1.70h-1.70zM53.1 508.8h1.70v1.70h-1.70zM53.1 529.8h1.70v1.70h-1.70zM53.1 552.9h1.70v1.70h-1.70zM53.1 559.3h1.70v1.70h-1.70zM53.1 603.4h1.70v1.70h-1.70zM55.2 399.5h1.70v1.70h-1.70zM55.2 407.9h1.70v1.70h-1.70zM55.2 424.7h1.70v1.70h-1.70zM55.2 435.2h1.70v1.70h-1.70zM55.2 439.4h1.70v1.70h-1.70zM55.2 443.6h1.70v1.70h-1.70zM55.2 475.2h1.70v1.70h-1.70zM55.2 498.3h1.70v1.70h-1.70zM55.2 508.8h1.70v1.70h-1.70zM55.2 525.6h1.70v1.70h-1.70zM55.2 529.8h1.70v1.70h-1.70zM55.2 548.7h1.70v1.70h-1.70zM55.2 552.9h1.70v1.70h-1.70zM55.2 563.5h1.70v1.70h-1.70zM55.2 567.7h1.70v1.70h-1.70zM55.2 571.9h1.70v1.70h-1.70zM55.2 574.0h1.70v1.70h-1.70zM55.2 582.4h1.70v1.70h-1.70zM55.2 601.3h1.70v1.70h-1.70zM55.2 603.4h1.70v1.70h-1.70zM57.3 428.9h1.70v1.70h-1.70zM57.3 439.4h1.70v1.70h-1.70zM57.3 489.9h1.70v1.70h-1.70zM57.3 527.7h1.70v1.70h-1.70zM57.3 557.1h1.70v1.70h-1.70zM57.3 561.4h1.70v1.70h-1.70zM57.3 576.1h1.70v1.70h-1.70zM57.3 599.2h1.70v1.70h-1.70zM57.3 601.3h1.70v1.70h-1.70zM57.3 603.4h1.70v1.70h-1.70zM59.4 574.0h1.70v1.70h-1.70zM61.5 489.9h1.70v1.70h-1.70zM61.5 550.8h1.70v1.70h-1.70zM61.5 578.2h1.70v1.70h-1.70zM61.5 599.2h1.70v1.70h-1.70zM63.6 475.2h1.70v1.70h-1.70zM63.6 483.6h1.70v1.70h-1.70zM63.6 494.1h1.70v1.70h-1.70zM63.6 529.8h1.70v1.70h-1.70zM63.6 540.3h1.70v1.70h-1.70zM63.6 544.5h1.70v1.70h-1.70zM63.6 574.0h1.70v1.70h-1.70zM65.7 412.1h1.70v1.70h-1.70zM65.7 437.3h1.70v1.70h-1.70zM65.7 500.4h1.70v1.70h-1.70zM65.7 529.8h1.70v1.70h-1.70zM65.7 538.2h1.70v1.70h-1.70zM65.7 546.6h1.70v1.70h-1.70zM65.7 548.7h1.70v1.70h-1.70zM65.7 557.1h1.70v1.70h-1.70zM65.7 559.3h1.70v1.70h-1.70zM65.7 567.7h1.70v1.70h-1.70zM65.7 569.8h1.70v1.70h-1.70zM65.7 574.0h1.70v1.70h-1.70zM65.7 576.1h1.70v1.70h-1.70zM65.7 584.5h1.70v1.70h-1.70zM65.7 590.8h1.70v1.70h-1.70zM65.7 599.2h1.70v1.70h-1.70zM67.8 487.8h1.70v1.70h-1.70zM67.8 519.3h1.70v1.70h-1.70zM67.8 527.7h1.70v1.70h-1.70zM67.8 531.9h1.70v1.70h-1.70zM67.8 536.1h1.70v1.70h-1.70zM67.8 567.7h1.70v1.70h-1.70zM67.8 586.6h1.70v1.70h-1.70zM67.8 603.4h1.70v1.70h-1.70zM67.8 605.5h1.70v1.70h-1.70zM69.9 426.8h1.70v1.70h-1.70zM69.9 439.4h1.70v1.70h-1.70zM69.9 485.7h1.70v1.70h-1.70zM69.9 515.1h1.70v1.70h-1.70zM69.9 517.2h1.70v1.70h-1.70zM69.9 529.8h1.70v1.70h-1.70zM69.9 548.7h1.70v1.70h-1.70zM69.9 576.1h1.70v1.70h-1.70zM69.9 603.4h1.70v1.70h-1.70zM72.0 437.3h1.70v1.70h-1.70zM72.0 439.4h1.70v1.70h-1.70zM72.0 508.8h1.70v1.70h-1.70zM72.0 527.7h1.70v1.70h-1.70zM72.0 529.8h1.70v1.70h-1.70zM72.0 531.9h1.70v1.70h-1.70zM72.0 538.2h1.70v1.70h-1.70zM72.0 546.6h1.70v1.70h-1.70zM72.0 552.9h1.70v1.70h-1.70zM72.0 567.7h1.70v1.70h-1.70zM72.0 578.2h1.70v1.70h-1.70zM72.0 588.7h1.70v1.70h-1.70zM72.0 590.8h1.70v1.70h-1.70zM72.0 592.9h1.70v1.70h-1.70zM72.0 597.1h1.70v1.70h-1.70zM72.0 599.2h1.70v1.70h-1.70zM72.0 605.5h1.70v1.70h-1.70zM74.1 519.3h1.70v1.70h-1.70zM74.1 550.8h1.70v1.70h-1.70zM74.1 595.0h1.70v1.70h-1.70zM74.1 605.5h1.70v1.70h-1.70zM76.2 407.9h1.70v1.70h-1.70zM76.2 454.2h1.70v1.70h-1.70zM76.2 466.8h1.70v1.70h-1.70zM76.2 485.7h1.70v1.70h-1.70zM76.2 500.4h1.70v1.70h-1.70zM76.2 517.2h1.70v1.70h-1.70zM76.2 527.7h1.70v1.70h-1.70zM76.2 529.8h1.70v1.70h-1.70zM76.2 536.1h1.70v1.70h-1.70zM76.2 542.4h1.70v1.70h-1.70zM76.2 544.5h1.70v1.70h-1.70zM76.2 550.8h1.70v1.70h-1.70zM76.2 555.0h1.70v1.70h-1.70zM76.2 561.4h1.70v1.70h-1.70zM76.2 563.5h1.70v1.70h-1.70zM76.2 567.7h1.70v1.70h-1.70zM76.2 571.9h1.70v1.70h-1.70zM76.2 576.1h1.70v1.70h-1.70zM76.2 580.3h1.70v1.70h-1.70zM76.2 582.4h1.70v1.70h-1.70zM76.2 590.8h1.70v1.70h-1.70zM76.2 599.2h1.70v1.70h-1.70zM76.2 605.5h1.70v1.70h-1.70zM76.2 609.7h1.70v1.70h-1.70zM78.3 445.7h1.70v1.70h-1.70zM78.3 449.9h1.70v1.70h-1.70zM78.3 477.3h1.70v1.70h-1.70zM78.3 481.5h1.70v1.70h-1.70zM78.3 527.7h1.70v1.70h-1.70zM78.3 538.2h1.70v1.70h-1.70zM78.3 552.9h1.70v1.70h-1.70zM78.3 555.0h1.70v1.70h-1.70zM78.3 563.5h1.70v1.70h-1.70zM78.3 565.6h1.70v1.70h-1.70zM78.3 580.3h1.70v1.70h-1.70zM78.3 595.0h1.70v1.70h-1.70zM78.3 603.4h1.70v1.70h-1.70zM80.4 410.0h1.70v1.70h-1.70zM80.4 422.6h1.70v1.70h-1.70zM80.4 424.7h1.70v1.70h-1.70zM80.4 437.3h1.70v1.70h-1.70zM80.4 439.4h1.70v1.70h-1.70zM80.4 460.5h1.70v1.70h-1.70zM80.4 479.4h1.70v1.70h-1.70zM80.4 510.9h1.70v1.70h-1.70zM80.4 513.0h1.70v1.70h-1.70zM80.4 519.3h1.70v1.70h-1.70zM80.4 527.7h1.70v1.70h-1.70zM80.4 536.1h1.70v1.70h-1.70zM80.4 550.8h1.70v1.70h-1.70zM80.4 559.3h1.70v1.70h-1.70zM80.4 563.5h1.70v1.70h-1.70zM80.4 574.0h1.70v1.70h-1.70zM80.4 576.1h1.70v1.70h-1.70zM80.4 588.7h1.70v1.70h-1.70zM80.4 590.8h1.70v1.70h-1.70zM80.4 595.0h1.70v1.70h-1.70zM80.4 603.4h1.70v1.70h-1.70zM80.4 605.5h1.70v1.70h-1.70zM82.5 416.3h1.70v1.70h-1.70zM82.5 489.9h1.70v1.70h-1.70zM82.5 496.2h1.70v1.70h-1.70zM82.5 515.1h1.70v1.70h-1.70zM82.5 517.2h1.70v1.70h-1.70zM82.5 544.5h1.70v1.70h-1.70zM82.5 552.9h1.70v1.70h-1.70zM82.5 561.4h1.70v1.70h-1.70zM82.5 563.5h1.70v1.70h-1.70zM82.5 567.7h1.70v1.70h-1.70zM82.5 578.2h1.70v1.70h-1.70zM82.5 588.7h1.70v1.70h-1.70zM82.5 590.8h1.70v1.70h-1.70zM82.5 595.0h1.70v1.70h-1.70zM82.5 599.2h1.70v1.70h-1.70zM82.5 603.4h1.70v1.70h-1.70zM84.6 443.6h1.70v1.70h-1.70zM84.6 449.9h1.70v1.70h-1.70zM84.6 475.2h1.70v1.70h-1.70zM84.6 496.2h1.70v1.70h-1.70zM84.6 506.7h1.70v1.70h-1.70zM84.6 527.7h1.70v1.70h-1.70zM84.6 548.7h1.70v1.70h-1.70zM84.6 565.6h1.70v1.70h-1.70zM84.6 569.8h1.70v1.70h-1.70zM84.6 588.7h1.70v1.70h-1.70zM86.7 548.7h1.70v1.70h-1.70zM88.8 437.3h1.70v1.70h-1.70zM88.8 477.3h1.70v1.70h-1.70zM88.8 536.1h1.70v1.70h-1.70zM88.8 592.9h1.70v1.70h-1.70zM90.9 529.8h1.70v1.70h-1.70zM90.9 548.7h1.70v1.70h-1.70zM90.9 574.0h1.70v1.70h-1.70zM90.9 592.9h1.70v1.70h-1.70zM90.9 603.4h1.70v1.70h-1.70zM93.0 412.1h1.70v1.70h-1.70zM93.0 420.5h1.70v1.70h-1.70zM93.0 471.0h1.70v1.70h-1.70zM93.0 481.5h1.70v1.70h-1.70zM93.0 492.0h1.70v1.70h-1.70zM93.0 498.3h1.70v1.70h-1.70zM93.0 500.4h1.70v1.70h-1.70zM93.0 502.5h1.70v1.70h-1.70zM93.0 506.7h1.70v1.70h-1.70zM93.0 515.1h1.70v1.70h-1.70zM93.0 519.3h1.70v1.70h-1.70zM93.0 525.6h1.70v1.70h-1.70zM93.0 527.7h1.70v1.70h-1.70zM93.0 538.2h1.70v1.70h-1.70zM93.0 559.3h1.70v1.70h-1.70zM93.0 582.4h1.70v1.70h-1.70zM93.0 584.5h1.70v1.70h-1.70zM93.0 597.1h1.70v1.70h-1.70zM95.1 437.3h1.70v1.70h-1.70zM95.1 462.6h1.70v1.70h-1.70zM95.1 517.2h1.70v1.70h-1.70zM95.1 527.7h1.70v1.70h-1.70zM95.1 529.8h1.70v1.70h-1.70zM95.1 538.2h1.70v1.70h-1.70zM95.1 542.4h1.70v1.70h-1.70zM95.1 548.7h1.70v1.70h-1.70zM95.1 561.4h1.70v1.70h-1.70zM95.1 569.8h1.70v1.70h-1.70zM95.1 576.1h1.70v1.70h-1.70zM95.1 578.2h1.70v1.70h-1.70zM95.1 580.3h1.70v1.70h-1.70zM95.1 582.4h1.70v1.70h-1.70zM95.1 590.8h1.70v1.70h-1.70zM95.1 592.9h1.70v1.70h-1.70zM95.1 597.1h1.70v1.70h-1.70zM95.1 599.2h1.70v1.70h-1.70zM95.1 603.4h1.70v1.70h-1.70zM95.1 605.5h1.70v1.70h-1.70zM97.2 412.1h1.70v1.70h-1.70zM97.2 420.5h1.70v1.70h-1.70zM97.2 439.4h1.70v1.70h-1.70zM97.2 445.7h1.70v1.70h-1.70zM97.2 456.3h1.70v1.70h-1.70zM97.2 489.9h1.70v1.70h-1.70zM97.2 529.8h1.70v1.70h-1.70zM97.2 538.2h1.70v1.70h-1.70zM97.2 546.6h1.70v1.70h-1.70zM97.2 548.7h1.70v1.70h-1.70zM97.2 555.0h1.70v1.70h-1.70zM97.2 557.1h1.70v1.70h-1.70zM97.2 576.1h1.70v1.70h-1.70zM97.2 584.5h1.70v1.70h-1.70zM97.2 597.1h1.70v1.70h-1.70zM97.2 599.2h1.70v1.70h-1.70zM99.3 422.6h1.70v1.70h-1.70zM99.3 477.3h1.70v1.70h-1.70zM99.3 563.5h1.70v1.70h-1.70zM99.3 567.7h1.70v1.70h-1.70zM99.3 569.8h1.70v1.70h-1.70zM99.3 592.9h1.70v1.70h-1.70zM99.3 595.0h1.70v1.70h-1.70zM101.4 489.9h1.70v1.70h-1.70zM101.4 529.8h1.70v1.70h-1.70zM101.4 531.9h1.70v1.70h-1.70zM101.4 552.9h1.70v1.70h-1.70zM101.4 559.3h1.70v1.70h-1.70zM101.4 563.5h1.70v1.70h-1.70zM101.4 576.1h1.70v1.70h-1.70zM101.4 580.3h1.70v1.70h-1.70zM101.4 603.4h1.70v1.70h-1.70zM103.5 475.2h1.70v1.70h-1.70zM103.5 483.6h1.70v1.70h-1.70zM103.5 552.9h1.70v1.70h-1.70zM103.5 580.3h1.70v1.70h-1.70zM105.6 410.0h1.70v1.70h-1.70zM105.6 437.3h1.70v1.70h-1.70zM105.6 464.7h1.70v1.70h-1.70zM105.6 525.6h1.70v1.70h-1.70zM105.6 527.7h1.70v1.70h-1.70zM105.6 548.7h1.70v1.70h-1.70zM105.6 567.7h1.70v1.70h-1.70zM105.6 576.1h1.70v1.70h-1.70zM105.6 584.5h1.70v1.70h-1.70zM105.6 586.6h1.70v1.70h-1.70zM105.6 590.8h1.70v1.70h-1.70zM105.6 595.0h1.70v1.70h-1.70zM105.6 605.5h1.70v1.70h-1.70zM107.7 561.4h1.70v1.70h-1.70zM107.7 582.4h1.70v1.70h-1.70zM107.7 588.7h1.70v1.70h-1.70zM107.7 603.4h1.70v1.70h-1.70zM109.8 475.2h1.70v1.70h-1.70zM109.8 477.3h1.70v1.70h-1.70zM109.8 588.7h1.70v1.70h-1.70zM114.0 483.6h1.70v1.70h-1.70zM114.0 534.0h1.70v1.70h-1.70zM114.0 546.6h1.70v1.70h-1.70zM114.0 557.1h1.70v1.70h-1.70zM114.0 563.5h1.70v1.70h-1.70zM114.0 574.0h1.70v1.70h-1.70zM114.0 586.6h1.70v1.70h-1.70zM114.0 588.7h1.70v1.70h-1.70zM114.0 595.0h1.70v1.70h-1.70zM116.1 422.6h1.70v1.70h-1.70zM116.1 449.9h1.70v1.70h-1.70zM116.1 498.3h1.70v1.70h-1.70zM116.1 517.2h1.70v1.70h-1.70zM116.1 538.2h1.70v1.70h-1.70zM116.1 555.0h1.70v1.70h-1.70zM116.1 563.5h1.70v1.70h-1.70zM116.1 567.7h1.70v1.70h-1.70zM116.1 574.0h1.70v1.70h-1.70zM116.1 578.2h1.70v1.70h-1.70zM116.1 592.9h1.70v1.70h-1.70zM116.1 603.4h1.70v1.70h-1.70zM116.1 605.5h1.70v1.70h-1.70zM118.2 412.1h1.70v1.70h-1.70zM118.2 437.3h1.70v1.70h-1.70zM118.2 473.1h1.70v1.70h-1.70zM118.2 500.4h1.70v1.70h-1.70zM118.2 523.5h1.70v1.70h-1.70zM118.2 538.2h1.70v1.70h-1.70zM118.2 544.5h1.70v1.70h-1.70zM118.2 548.7h1.70v1.70h-1.70zM118.2 555.0h1.70v1.70h-1.70zM118.2 559.3h1.70v1.70h-1.70zM118.2 567.7h1.70v1.70h-1.70zM118.2 576.1h1.70v1.70h-1.70zM118.2 578.2h1.70v1.70h-1.70zM118.2 580.3h1.70v1.70h-1.70zM118.2 582.4h1.70v1.70h-1.70zM118.2 603.4h1.70v1.70h-1.70zM118.2 605.5h1.70v1.70h-1.70zM118.2 609.7h1.70v1.70h-1.70zM120.3 410.0h1.70v1.70h-1.70zM120.3 422.6h1.70v1.70h-1.70zM120.3 534.0h1.70v1.70h-1.70zM120.3 538.2h1.70v1.70h-1.70zM120.3 584.5h1.70v1.70h-1.70zM120.3 601.3h1.70v1.70h-1.70zM120.3 605.5h1.70v1.70h-1.70zM122.4 574.0h1.70v1.70h-1.70zM122.4 582.4h1.70v1.70h-1.70zM122.4 603.4h1.70v1.70h-1.70zM124.5 399.5h1.70v1.70h-1.70zM124.5 494.1h1.70v1.70h-1.70zM124.5 552.9h1.70v1.70h-1.70zM124.5 574.0h1.70v1.70h-1.70zM124.5 586.6h1.70v1.70h-1.70zM124.5 588.7h1.70v1.70h-1.70zM126.6 475.2h1.70v1.70h-1.70zM126.6 483.6h1.70v1.70h-1.70zM126.6 492.0h1.70v1.70h-1.70zM126.6 542.4h1.70v1.70h-1.70zM126.6 563.5h1.70v1.70h-1.70zM126.6 574.0h1.70v1.70h-1.70zM126.6 582.4h1.70v1.70h-1.70zM126.6 603.4h1.70v1.70h-1.70zM128.7 407.9h1.70v1.70h-1.70zM128.7 431.0h1.70v1.70h-1.70zM128.7 452.1h1.70v1.70h-1.70zM128.7 496.2h1.70v1.70h-1.70zM128.7 519.3h1.70v1.70h-1.70zM128.7 527.7h1.70v1.70h-1.70zM128.7 550.8h1.70v1.70h-1.70zM128.7 561.4h1.70v1.70h-1.70zM128.7 569.8h1.70v1.70h-1.70zM128.7 576.1h1.70v1.70h-1.70zM128.7 580.3h1.70v1.70h-1.70zM128.7 584.5h1.70v1.70h-1.70zM128.7 586.6h1.70v1.70h-1.70zM128.7 588.7h1.70v1.70h-1.70zM128.7 599.2h1.70v1.70h-1.70zM128.7 605.5h1.70v1.70h-1.70zM130.8 405.8h1.70v1.70h-1.70zM130.8 407.9h1.70v1.70h-1.70zM130.8 412.1h1.70v1.70h-1.70zM130.8 416.3h1.70v1.70h-1.70zM130.8 418.4h1.70v1.70h-1.70zM130.8 420.5h1.70v1.70h-1.70zM130.8 424.7h1.70v1.70h-1.70zM130.8 433.1h1.70v1.70h-1.70zM130.8 441.5h1.70v1.70h-1.70zM130.8 445.7h1.70v1.70h-1.70zM130.8 447.8h1.70v1.70h-1.70zM130.8 458.4h1.70v1.70h-1.70zM130.8 475.2h1.70v1.70h-1.70zM130.8 492.0h1.70v1.70h-1.70zM130.8 494.1h1.70v1.70h-1.70zM130.8 498.3h1.70v1.70h-1.70zM130.8 500.4h1.70v1.70h-1.70zM130.8 502.5h1.70v1.70h-1.70zM130.8 504.6h1.70v1.70h-1.70zM130.8 506.7h1.70v1.70h-1.70zM130.8 510.9h1.70v1.70h-1.70zM130.8 513.0h1.70v1.70h-1.70zM130.8 525.6h1.70v1.70h-1.70zM130.8 527.7h1.70v1.70h-1.70zM130.8 531.9h1.70v1.70h-1.70zM130.8 534.0h1.70v1.70h-1.70zM130.8 546.6h1.70v1.70h-1.70zM130.8 550.8h1.70v1.70h-1.70zM130.8 563.5h1.70v1.70h-1.70zM130.8 567.7h1.70v1.70h-1.70zM130.8 571.9h1.70v1.70h-1.70zM130.8 574.0h1.70v1.70h-1.70zM130.8 578.2h1.70v1.70h-1.70zM130.8 592.9h1.70v1.70h-1.70zM130.8 595.0h1.70v1.70h-1.70zM130.8 607.6h1.70v1.70h-1.70zM132.9 401.6h1.70v1.70h-1.70zM132.9 407.9h1.70v1.70h-1.70zM132.9 410.0h1.70v1.70h-1.70zM132.9 416.3h1.70v1.70h-1.70zM132.9 418.4h1.70v1.70h-1.70zM132.9 422.6h1.70v1.70h-1.70zM132.9 424.7h1.70v1.70h-1.70zM132.9 428.9h1.70v1.70h-1.70zM132.9 431.0h1.70v1.70h-1.70zM132.9 433.1h1.70v1.70h-1.70zM132.9 437.3h1.70v1.70h-1.70zM132.9 445.7h1.70v1.70h-1.70zM132.9 447.8h1.70v1.70h-1.70zM132.9 449.9h1.70v1.70h-1.70zM132.9 454.2h1.70v1.70h-1.70zM132.9 456.3h1.70v1.70h-1.70zM132.9 458.4h1.70v1.70h-1.70zM132.9 464.7h1.70v1.70h-1.70zM132.9 471.0h1.70v1.70h-1.70zM132.9 475.2h1.70v1.70h-1.70zM132.9 481.5h1.70v1.70h-1.70zM132.9 487.8h1.70v1.70h-1.70zM132.9 489.9h1.70v1.70h-1.70zM132.9 498.3h1.70v1.70h-1.70zM132.9 504.6h1.70v1.70h-1.70zM132.9 506.7h1.70v1.70h-1.70zM132.9 508.8h1.70v1.70h-1.70zM132.9 515.1h1.70v1.70h-1.70zM132.9 527.7h1.70v1.70h-1.70zM132.9 531.9h1.70v1.70h-1.70zM132.9 540.3h1.70v1.70h-1.70zM132.9 542.4h1.70v1.70h-1.70zM132.9 546.6h1.70v1.70h-1.70zM132.9 548.7h1.70v1.70h-1.70zM132.9 550.8h1.70v1.70h-1.70zM132.9 567.7h1.70v1.70h-1.70zM132.9 569.8h1.70v1.70h-1.70zM132.9 571.9h1.70v1.70h-1.70zM132.9 578.2h1.70v1.70h-1.70zM132.9 580.3h1.70v1.70h-1.70zM132.9 584.5h1.70v1.70h-1.70zM132.9 586.6h1.70v1.70h-1.70zM132.9 588.7h1.70v1.70h-1.70zM132.9 590.8h1.70v1.70h-1.70zM132.9 595.0h1.70v1.70h-1.70zM132.9 597.1h1.70v1.70h-1.70zM132.9 601.3h1.70v1.70h-1.70zM132.9 607.6h1.70v1.70h-1.70zM135.0 397.4h1.70v1.70h-1.70zM135.0 399.5h1.70v1.70h-1.70zM135.0 401.6h1.70v1.70h-1.70zM135.0 403.7h1.70v1.70h-1.70zM135.0 405.8h1.70v1.70h-1.70zM135.0 412.1h1.70v1.70h-1.70zM135.0 416.3h1.70v1.70h-1.70zM135.0 418.4h1.70v1.70h-1.70zM135.0 422.6h1.70v1.70h-1.70zM135.0 424.7h1.70v1.70h-1.70zM135.0 426.8h1.70v1.70h-1.70zM135.0 431.0h1.70v1.70h-1.70zM135.0 439.4h1.70v1.70h-1.70zM135.0 443.6h1.70v1.70h-1.70zM135.0 449.9h1.70v1.70h-1.70zM135.0 454.2h1.70v1.70h-1.70zM135.0 462.6h1.70v1.70h-1.70zM135.0 464.7h1.70v1.70h-1.70zM135.0 466.8h1.70v1.70h-1.70zM135.0 468.9h1.70v1.70h-1.70zM135.0 473.1h1.70v1.70h-1.70zM135.0 477.3h1.70v1.70h-1.70zM135.0 479.4h1.70v1.70h-1.70zM135.0 481.5h1.70v1.70h-1.70zM135.0 483.6h1.70v1.70h-1.70zM135.0 487.8h1.70v1.70h-1.70zM135.0 489.9h1.70v1.70h-1.70zM135.0 494.1h1.70v1.70h-1.70zM135.0 498.3h1.70v1.70h-1.70zM135.0 500.4h1.70v1.70h-1.70zM135.0 502.5h1.70v1.70h-1.70zM135.0 504.6h1.70v1.70h-1.70zM135.0 506.7h1.70v1.70h-1.70zM135.0 508.8h1.70v1.70h-1.70zM135.0 510.9h1.70v1.70h-1.70zM135.0 513.0h1.70v1.70h-1.70zM135.0 515.1h1.70v1.70h-1.70zM135.0 517.2h1.70v1.70h-1.70zM135.0 523.5h1.70v1.70h-1.70zM135.0 525.6h1.70v1.70h-1.70zM135.0 529.8h1.70v1.70h-1.70zM135.0 536.1h1.70v1.70h-1.70zM135.0 542.4h1.70v1.70h-1.70zM135.0 546.6h1.70v1.70h-1.70zM135.0 548.7h1.70v1.70h-1.70zM135.0 550.8h1.70v1.70h-1.70zM135.0 552.9h1.70v1.70h-1.70zM135.0 559.3h1.70v1.70h-1.70zM135.0 561.4h1.70v1.70h-1.70zM135.0 563.5h1.70v1.70h-1.70zM135.0 565.6h1.70v1.70h-1.70zM135.0 567.7h1.70v1.70h-1.70zM135.0 571.9h1.70v1.70h-1.70zM135.0 576.1h1.70v1.70h-1.70zM135.0 578.2h1.70v1.70h-1.70zM135.0 582.4h1.70v1.70h-1.70zM135.0 584.5h1.70v1.70h-1.70zM135.0 588.7h1.70v1.70h-1.70zM135.0 590.8h1.70v1.70h-1.70zM135.0 592.9h1.70v1.70h-1.70zM135.0 595.0h1.70v1.70h-1.70zM135.0 597.1h1.70v1.70h-1.70zM135.0 599.2h1.70v1.70h-1.70zM135.0 601.3h1.70v1.70h-1.70zM135.0 603.4h1.70v1.70h-1.70zM135.0 605.5h1.70v1.70h-1.70zM135.0 607.6h1.70v1.70h-1.70zM135.0 609.7h1.70v1.70h-1.70zM137.1 399.5h1.70v1.70h-1.70zM137.1 401.6h1.70v1.70h-1.70zM137.1 403.7h1.70v1.70h-1.70zM137.1 407.9h1.70v1.70h-1.70zM137.1 420.5h1.70v1.70h-1.70zM137.1 422.6h1.70v1.70h-1.70zM137.1 433.1h1.70v1.70h-1.70zM137.1 435.2h1.70v1.70h-1.70zM137.1 443.6h1.70v1.70h-1.70zM137.1 445.7h1.70v1.70h-1.70zM137.1 449.9h1.70v1.70h-1.70zM137.1 452.1h1.70v1.70h-1.70zM137.1 454.2h1.70v1.70h-1.70zM137.1 456.3h1.70v1.70h-1.70zM137.1 458.4h1.70v1.70h-1.70zM137.1 460.5h1.70v1.70h-1.70zM137.1 473.1h1.70v1.70h-1.70zM137.1 477.3h1.70v1.70h-1.70zM137.1 479.4h1.70v1.70h-1.70zM137.1 483.6h1.70v1.70h-1.70zM137.1 485.7h1.70v1.70h-1.70zM137.1 494.1h1.70v1.70h-1.70zM137.1 498.3h1.70v1.70h-1.70zM137.1 504.6h1.70v1.70h-1.70zM137.1 506.7h1.70v1.70h-1.70zM137.1 508.8h1.70v1.70h-1.70zM137.1 513.0h1.70v1.70h-1.70zM137.1 517.2h1.70v1.70h-1.70zM137.1 523.5h1.70v1.70h-1.70zM137.1 525.6h1.70v1.70h-1.70zM137.1 527.7h1.70v1.70h-1.70zM137.1 531.9h1.70v1.70h-1.70zM137.1 534.0h1.70v1.70h-1.70zM137.1 540.3h1.70v1.70h-1.70zM137.1 546.6h1.70v1.70h-1.70zM137.1 548.7h1.70v1.70h-1.70zM137.1 563.5h1.70v1.70h-1.70zM137.1 569.8h1.70v1.70h-1.70zM137.1 574.0h1.70v1.70h-1.70zM137.1 584.5h1.70v1.70h-1.70zM137.1 586.6h1.70v1.70h-1.70zM137.1 588.7h1.70v1.70h-1.70zM137.1 592.9h1.70v1.70h-1.70zM137.1 599.2h1.70v1.70h-1.70zM137.1 603.4h1.70v1.70h-1.70zM137.1 605.5h1.70v1.70h-1.70zM137.1 607.6h1.70v1.70h-1.70zM137.1 609.7h1.70v1.70h-1.70zM139.2 416.3h1.70v1.70h-1.70zM139.2 418.4h1.70v1.70h-1.70zM139.2 420.5h1.70v1.70h-1.70zM139.2 422.6h1.70v1.70h-1.70zM139.2 428.9h1.70v1.70h-1.70zM139.2 431.0h1.70v1.70h-1.70zM139.2 435.2h1.70v1.70h-1.70zM139.2 437.3h1.70v1.70h-1.70zM139.2 439.4h1.70v1.70h-1.70zM139.2 441.5h1.70v1.70h-1.70zM139.2 447.8h1.70v1.70h-1.70zM139.2 475.2h1.70v1.70h-1.70zM139.2 479.4h1.70v1.70h-1.70zM139.2 487.8h1.70v1.70h-1.70zM139.2 492.0h1.70v1.70h-1.70zM139.2 494.1h1.70v1.70h-1.70zM139.2 498.3h1.70v1.70h-1.70zM139.2 504.6h1.70v1.70h-1.70zM139.2 510.9h1.70v1.70h-1.70zM139.2 513.0h1.70v1.70h-1.70zM139.2 515.1h1.70v1.70h-1.70zM139.2 517.2h1.70v1.70h-1.70zM139.2 523.5h1.70v1.70h-1.70zM139.2 525.6h1.70v1.70h-1.70zM139.2 536.1h1.70v1.70h-1.70zM139.2 540.3h1.70v1.70h-1.70zM139.2 546.6h1.70v1.70h-1.70zM139.2 550.8h1.70v1.70h-1.70zM139.2 555.0h1.70v1.70h-1.70zM139.2 561.4h1.70v1.70h-1.70zM139.2 563.5h1.70v1.70h-1.70zM139.2 567.7h1.70v1.70h-1.70zM139.2 571.9h1.70v1.70h-1.70zM139.2 576.1h1.70v1.70h-1.70zM139.2 578.2h1.70v1.70h-1.70zM139.2 586.6h1.70v1.70h-1.70zM139.2 588.7h1.70v1.70h-1.70zM139.2 595.0h1.70v1.70h-1.70zM139.2 597.1h1.70v1.70h-1.70zM139.2 605.5h1.70v1.70h-1.70zM141.3 403.7h1.70v1.70h-1.70zM141.3 407.9h1.70v1.70h-1.70zM141.3 410.0h1.70v1.70h-1.70zM141.3 414.2h1.70v1.70h-1.70zM141.3 416.3h1.70v1.70h-1.70zM141.3 418.4h1.70v1.70h-1.70zM141.3 422.6h1.70v1.70h-1.70zM141.3 426.8h1.70v1.70h-1.70zM141.3 431.0h1.70v1.70h-1.70zM141.3 433.1h1.70v1.70h-1.70zM141.3 441.5h1.70v1.70h-1.70zM141.3 443.6h1.70v1.70h-1.70zM141.3 458.4h1.70v1.70h-1.70zM141.3 462.6h1.70v1.70h-1.70zM141.3 466.8h1.70v1.70h-1.70zM141.3 468.9h1.70v1.70h-1.70zM141.3 479.4h1.70v1.70h-1.70zM141.3 492.0h1.70v1.70h-1.70zM141.3 513.0h1.70v1.70h-1.70zM141.3 523.5h1.70v1.70h-1.70zM141.3 529.8h1.70v1.70h-1.70zM141.3 531.9h1.70v1.70h-1.70zM141.3 534.0h1.70v1.70h-1.70zM141.3 540.3h1.70v1.70h-1.70zM141.3 546.6h1.70v1.70h-1.70zM141.3 550.8h1.70v1.70h-1.70zM141.3 555.0h1.70v1.70h-1.70zM141.3 561.4h1.70v1.70h-1.70zM141.3 576.1h1.70v1.70h-1.70zM141.3 586.6h1.70v1.70h-1.70zM141.3 592.9h1.70v1.70h-1.70zM141.3 605.5h1.70v1.70h-1.70zM143.4 420.5h1.70v1.70h-1.70zM143.4 431.0h1.70v1.70h-1.70zM143.4 433.1h1.70v1.70h-1.70zM143.4 439.4h1.70v1.70h-1.70zM143.4 441.5h1.70v1.70h-1.70zM143.4 485.7h1.70v1.70h-1.70zM143.4 550.8h1.70v1.70h-1.70zM143.4 567.7h1.70v1.70h-1.70zM143.4 580.3h1.70v1.70h-1.70zM143.4 586.6h1.70v1.70h-1.70zM143.4 592.9h1.70v1.70h-1.70zM145.5 397.4h1.70v1.70h-1.70zM145.5 399.5h1.70v1.70h-1.70zM145.5 414.2h1.70v1.70h-1.70zM145.5 418.4h1.70v1.70h-1.70zM145.5 422.6h1.70v1.70h-1.70zM145.5 437.3h1.70v1.70h-1.70zM145.5 441.5h1.70v1.70h-1.70zM145.5 454.2h1.70v1.70h-1.70zM145.5 471.0h1.70v1.70h-1.70zM145.5 487.8h1.70v1.70h-1.70zM145.5 492.0h1.70v1.70h-1.70zM145.5 523.5h1.70v1.70h-1.70zM145.5 534.0h1.70v1.70h-1.70zM145.5 538.2h1.70v1.70h-1.70zM145.5 552.9h1.70v1.70h-1.70zM145.5 559.3h1.70v1.70h-1.70zM145.5 567.7h1.70v1.70h-1.70zM145.5 582.4h1.70v1.70h-1.70zM145.5 588.7h1.70v1.70h-1.70zM147.6 401.6h1.70v1.70h-1.70zM147.6 405.8h1.70v1.70h-1.70zM147.6 416.3h1.70v1.70h-1.70zM147.6 420.5h1.70v1.70h-1.70zM147.6 424.7h1.70v1.70h-1.70zM147.6 431.0h1.70v1.70h-1.70zM147.6 433.1h1.70v1.70h-1.70zM147.6 447.8h1.70v1.70h-1.70zM147.6 460.5h1.70v1.70h-1.70zM147.6 466.8h1.70v1.70h-1.70zM147.6 468.9h1.70v1.70h-1.70zM147.6 471.0h1.70v1.70h-1.70zM147.6 473.1h1.70v1.70h-1.70zM147.6 477.3h1.70v1.70h-1.70zM147.6 515.1h1.70v1.70h-1.70zM147.6 517.2h1.70v1.70h-1.70zM147.6 521.4h1.70v1.70h-1.70zM147.6 531.9h1.70v1.70h-1.70zM147.6 550.8h1.70v1.70h-1.70zM147.6 557.1h1.70v1.70h-1.70zM147.6 567.7h1.70v1.70h-1.70zM147.6 569.8h1.70v1.70h-1.70zM147.6 576.1h1.70v1.70h-1.70zM147.6 578.2h1.70v1.70h-1.70zM147.6 588.7h1.70v1.70h-1.70zM147.6 592.9h1.70v1.70h-1.70zM147.6 597.1h1.70v1.70h-1.70zM147.6 599.2h1.70v1.70h-1.70zM147.6 607.6h1.70v1.70h-1.70zM149.7 407.9h1.70v1.70h-1.70zM149.7 410.0h1.70v1.70h-1.70zM149.7 412.1h1.70v1.70h-1.70zM149.7 420.5h1.70v1.70h-1.70zM149.7 439.4h1.70v1.70h-1.70zM149.7 443.6h1.70v1.70h-1.70zM149.7 462.6h1.70v1.70h-1.70zM149.7 464.7h1.70v1.70h-1.70zM149.7 473.1h1.70v1.70h-1.70zM149.7 481.5h1.70v1.70h-1.70zM149.7 487.8h1.70v1.70h-1.70zM149.7 504.6h1.70v1.70h-1.70zM149.7 534.0h1.70v1.70h-1.70zM149.7 548.7h1.70v1.70h-1.70zM149.7 563.5h1.70v1.70h-1.70zM149.7 569.8h1.70v1.70h-1.70zM149.7 571.9h1.70v1.70h-1.70zM149.7 588.7h1.70v1.70h-1.70zM149.7 603.4h1.70v1.70h-1.70zM149.7 609.7h1.70v1.70h-1.70zM151.8 397.4h1.70v1.70h-1.70zM151.8 401.6h1.70v1.70h-1.70zM151.8 403.7h1.70v1.70h-1.70zM151.8 405.8h1.70v1.70h-1.70zM151.8 407.9h1.70v1.70h-1.70zM151.8 410.0h1.70v1.70h-1.70zM151.8 412.1h1.70v1.70h-1.70zM151.8 414.2h1.70v1.70h-1.70zM151.8 418.4h1.70v1.70h-1.70zM151.8 420.5h1.70v1.70h-1.70zM151.8 426.8h1.70v1.70h-1.70zM151.8 428.9h1.70v1.70h-1.70zM151.8 433.1h1.70v1.70h-1.70zM151.8 437.3h1.70v1.70h-1.70zM151.8 439.4h1.70v1.70h-1.70zM151.8 441.5h1.70v1.70h-1.70zM151.8 443.6h1.70v1.70h-1.70zM151.8 445.7h1.70v1.70h-1.70zM151.8 447.8h1.70v1.70h-1.70zM151.8 452.1h1.70v1.70h-1.70zM151.8 454.2h1.70v1.70h-1.70zM151.8 456.3h1.70v1.70h-1.70zM151.8 460.5h1.70v1.70h-1.70zM151.8 464.7h1.70v1.70h-1.70zM151.8 466.8h1.70v1.70h-1.70zM151.8 468.9h1.70v1.70h-1.70zM151.8 471.0h1.70v1.70h-1.70zM151.8 473.1h1.70v1.70h-1.70zM151.8 475.2h1.70v1.70h-1.70zM151.8 477.3h1.70v1.70h-1.70zM151.8 481.5h1.70v1.70h-1.70zM151.8 483.6h1.70v1.70h-1.70zM151.8 487.8h1.70v1.70h-1.70zM151.8 489.9h1.70v1.70h-1.70zM151.8 492.0h1.70v1.70h-1.70zM151.8 494.1h1.70v1.70h-1.70zM151.8 500.4h1.70v1.70h-1.70zM151.8 506.7h1.70v1.70h-1.70zM151.8 508.8h1.70v1.70h-1.70zM151.8 510.9h1.70v1.70h-1.70zM151.8 513.0h1.70v1.70h-1.70zM151.8 515.1h1.70v1.70h-1.70zM151.8 517.2h1.70v1.70h-1.70zM151.8 519.3h1.70v1.70h-1.70zM151.8 521.4h1.70v1.70h-1.70zM151.8 523.5h1.70v1.70h-1.70zM151.8 525.6h1.70v1.70h-1.70zM151.8 527.7h1.70v1.70h-1.70zM151.8 529.8h1.70v1.70h-1.70zM151.8 531.9h1.70v1.70h-1.70zM151.8 534.0h1.70v1.70h-1.70zM151.8 536.1h1.70v1.70h-1.70zM151.8 538.2h1.70v1.70h-1.70zM151.8 542.4h1.70v1.70h-1.70zM151.8 544.5h1.70v1.70h-1.70zM151.8 548.7h1.70v1.70h-1.70zM151.8 550.8h1.70v1.70h-1.70zM151.8 552.9h1.70v1.70h-1.70zM151.8 557.1h1.70v1.70h-1.70zM151.8 559.3h1.70v1.70h-1.70zM151.8 561.4h1.70v1.70h-1.70zM151.8 563.5h1.70v1.70h-1.70zM151.8 565.6h1.70v1.70h-1.70zM151.8 567.7h1.70v1.70h-1.70zM151.8 569.8h1.70v1.70h-1.70zM151.8 571.9h1.70v1.70h-1.70zM151.8 576.1h1.70v1.70h-1.70zM151.8 580.3h1.70v1.70h-1.70zM151.8 584.5h1.70v1.70h-1.70zM151.8 586.6h1.70v1.70h-1.70zM151.8 588.7h1.70v1.70h-1.70zM151.8 590.8h1.70v1.70h-1.70zM151.8 592.9h1.70v1.70h-1.70zM151.8 595.0h1.70v1.70h-1.70zM151.8 597.1h1.70v1.70h-1.70zM151.8 599.2h1.70v1.70h-1.70zM151.8 603.4h1.70v1.70h-1.70zM151.8 605.5h1.70v1.70h-1.70zM151.8 609.7h1.70v1.70h-1.70zM153.9 397.4h1.70v1.70h-1.70zM153.9 399.5h1.70v1.70h-1.70zM153.9 403.7h1.70v1.70h-1.70zM153.9 405.8h1.70v1.70h-1.70zM153.9 414.2h1.70v1.70h-1.70zM153.9 416.3h1.70v1.70h-1.70zM153.9 437.3h1.70v1.70h-1.70zM153.9 439.4h1.70v1.70h-1.70zM153.9 443.6h1.70v1.70h-1.70zM153.9 445.7h1.70v1.70h-1.70zM153.9 449.9h1.70v1.70h-1.70zM153.9 462.6h1.70v1.70h-1.70zM153.9 466.8h1.70v1.70h-1.70zM153.9 468.9h1.70v1.70h-1.70zM153.9 473.1h1.70v1.70h-1.70zM153.9 506.7h1.70v1.70h-1.70zM153.9 519.3h1.70v1.70h-1.70zM153.9 534.0h1.70v1.70h-1.70zM153.9 540.3h1.70v1.70h-1.70zM153.9 542.4h1.70v1.70h-1.70zM153.9 546.6h1.70v1.70h-1.70zM153.9 561.4h1.70v1.70h-1.70zM153.9 571.9h1.70v1.70h-1.70zM153.9 582.4h1.70v1.70h-1.70zM153.9 584.5h1.70v1.70h-1.70zM153.9 586.6h1.70v1.70h-1.70zM153.9 592.9h1.70v1.70h-1.70zM153.9 595.0h1.70v1.70h-1.70zM156.0 399.5h1.70v1.70h-1.70zM156.0 403.7h1.70v1.70h-1.70zM156.0 414.2h1.70v1.70h-1.70zM156.0 418.4h1.70v1.70h-1.70zM156.0 420.5h1.70v1.70h-1.70zM156.0 426.8h1.70v1.70h-1.70zM156.0 441.5h1.70v1.70h-1.70zM156.0 443.6h1.70v1.70h-1.70zM156.0 447.8h1.70v1.70h-1.70zM156.0 454.2h1.70v1.70h-1.70zM156.0 464.7h1.70v1.70h-1.70zM156.0 466.8h1.70v1.70h-1.70zM156.0 468.9h1.70v1.70h-1.70zM156.0 473.1h1.70v1.70h-1.70zM156.0 477.3h1.70v1.70h-1.70zM156.0 479.4h1.70v1.70h-1.70zM156.0 492.0h1.70v1.70h-1.70zM156.0 496.2h1.70v1.70h-1.70zM156.0 508.8h1.70v1.70h-1.70zM156.0 510.9h1.70v1.70h-1.70zM156.0 513.0h1.70v1.70h-1.70zM156.0 517.2h1.70v1.70h-1.70zM156.0 521.4h1.70v1.70h-1.70zM156.0 523.5h1.70v1.70h-1.70zM156.0 525.6h1.70v1.70h-1.70zM156.0 531.9h1.70v1.70h-1.70zM156.0 534.0h1.70v1.70h-1.70zM156.0 538.2h1.70v1.70h-1.70zM156.0 542.4h1.70v1.70h-1.70zM156.0 544.5h1.70v1.70h-1.70zM156.0 546.6h1.70v1.70h-1.70zM156.0 550.8h1.70v1.70h-1.70zM156.0 557.1h1.70v1.70h-1.70zM156.0 559.3h1.70v1.70h-1.70zM156.0 571.9h1.70v1.70h-1.70zM156.0 574.0h1.70v1.70h-1.70zM156.0 576.1h1.70v1.70h-1.70zM156.0 580.3h1.70v1.70h-1.70zM156.0 588.7h1.70v1.70h-1.70zM156.0 590.8h1.70v1.70h-1.70zM156.0 592.9h1.70v1.70h-1.70zM156.0 595.0h1.70v1.70h-1.70zM156.0 597.1h1.70v1.70h-1.70zM156.0 601.3h1.70v1.70h-1.70zM156.0 605.5h1.70v1.70h-1.70zM156.0 607.6h1.70v1.70h-1.70zM158.1 397.4h1.70v1.70h-1.70zM158.1 405.8h1.70v1.70h-1.70zM158.1 407.9h1.70v1.70h-1.70zM158.1 428.9h1.70v1.70h-1.70zM158.1 437.3h1.70v1.70h-1.70zM158.1 441.5h1.70v1.70h-1.70zM158.1 443.6h1.70v1.70h-1.70zM158.1 466.8h1.70v1.70h-1.70zM158.1 485.7h1.70v1.70h-1.70zM158.1 502.5h1.70v1.70h-1.70zM158.1 504.6h1.70v1.70h-1.70zM158.1 506.7h1.70v1.70h-1.70zM158.1 508.8h1.70v1.70h-1.70zM158.1 510.9h1.70v1.70h-1.70zM158.1 529.8h1.70v1.70h-1.70zM158.1 531.9h1.70v1.70h-1.70zM158.1 542.4h1.70v1.70h-1.70zM158.1 544.5h1.70v1.70h-1.70zM158.1 550.8h1.70v1.70h-1.70zM158.1 567.7h1.70v1.70h-1.70zM158.1 576.1h1.70v1.70h-1.70zM158.1 590.8h1.70v1.70h-1.70zM158.1 605.5h1.70v1.70h-1.70zM160.2 397.4h1.70v1.70h-1.70zM160.2 399.5h1.70v1.70h-1.70zM160.2 410.0h1.70v1.70h-1.70zM160.2 414.2h1.70v1.70h-1.70zM160.2 418.4h1.70v1.70h-1.70zM160.2 428.9h1.70v1.70h-1.70zM160.2 441.5h1.70v1.70h-1.70zM160.2 443.6h1.70v1.70h-1.70zM160.2 452.1h1.70v1.70h-1.70zM160.2 456.3h1.70v1.70h-1.70zM160.2 460.5h1.70v1.70h-1.70zM160.2 462.6h1.70v1.70h-1.70zM160.2 466.8h1.70v1.70h-1.70zM160.2 473.1h1.70v1.70h-1.70zM160.2 475.2h1.70v1.70h-1.70zM160.2 479.4h1.70v1.70h-1.70zM160.2 481.5h1.70v1.70h-1.70zM160.2 496.2h1.70v1.70h-1.70zM160.2 513.0h1.70v1.70h-1.70zM160.2 517.2h1.70v1.70h-1.70zM160.2 519.3h1.70v1.70h-1.70zM160.2 523.5h1.70v1.70h-1.70zM160.2 529.8h1.70v1.70h-1.70zM160.2 531.9h1.70v1.70h-1.70zM160.2 534.0h1.70v1.70h-1.70zM160.2 538.2h1.70v1.70h-1.70zM160.2 544.5h1.70v1.70h-1.70zM160.2 548.7h1.70v1.70h-1.70zM160.2 552.9h1.70v1.70h-1.70zM160.2 559.3h1.70v1.70h-1.70zM160.2 569.8h1.70v1.70h-1.70zM160.2 571.9h1.70v1.70h-1.70zM160.2 576.1h1.70v1.70h-1.70zM160.2 580.3h1.70v1.70h-1.70zM160.2 582.4h1.70v1.70h-1.70zM160.2 590.8h1.70v1.70h-1.70zM160.2 595.0h1.70v1.70h-1.70zM160.2 605.5h1.70v1.70h-1.70zM160.2 607.6h1.70v1.70h-1.70zM160.2 609.7h1.70v1.70h-1.70zM162.3 401.6h1.70v1.70h-1.70zM162.3 403.7h1.70v1.70h-1.70zM162.3 405.8h1.70v1.70h-1.70zM162.3 407.9h1.70v1.70h-1.70zM162.3 412.1h1.70v1.70h-1.70zM162.3 420.5h1.70v1.70h-1.70zM162.3 422.6h1.70v1.70h-1.70zM162.3 428.9h1.70v1.70h-1.70zM162.3 433.1h1.70v1.70h-1.70zM162.3 437.3h1.70v1.70h-1.70zM162.3 443.6h1.70v1.70h-1.70zM162.3 445.7h1.70v1.70h-1.70zM162.3 449.9h1.70v1.70h-1.70zM162.3 460.5h1.70v1.70h-1.70zM162.3 462.6h1.70v1.70h-1.70zM162.3 464.7h1.70v1.70h-1.70zM162.3 466.8h1.70v1.70h-1.70zM162.3 468.9h1.70v1.70h-1.70zM162.3 471.0h1.70v1.70h-1.70zM162.3 475.2h1.70v1.70h-1.70zM162.3 477.3h1.70v1.70h-1.70zM162.3 479.4h1.70v1.70h-1.70zM162.3 481.5h1.70v1.70h-1.70zM162.3 483.6h1.70v1.70h-1.70zM162.3 487.8h1.70v1.70h-1.70zM162.3 489.9h1.70v1.70h-1.70zM162.3 500.4h1.70v1.70h-1.70zM162.3 502.5h1.70v1.70h-1.70zM162.3 506.7h1.70v1.70h-1.70zM162.3 508.8h1.70v1.70h-1.70zM162.3 521.4h1.70v1.70h-1.70zM162.3 523.5h1.70v1.70h-1.70zM162.3 525.6h1.70v1.70h-1.70zM162.3 527.7h1.70v1.70h-1.70zM162.3 540.3h1.70v1.70h-1.70zM162.3 544.5h1.70v1.70h-1.70zM162.3 552.9h1.70v1.70h-1.70zM162.3 576.1h1.70v1.70h-1.70zM162.3 580.3h1.70v1.70h-1.70zM162.3 597.1h1.70v1.70h-1.70zM164.4 403.7h1.70v1.70h-1.70zM164.4 405.8h1.70v1.70h-1.70zM164.4 410.0h1.70v1.70h-1.70zM164.4 412.1h1.70v1.70h-1.70zM164.4 420.5h1.70v1.70h-1.70zM164.4 433.1h1.70v1.70h-1.70zM164.4 435.2h1.70v1.70h-1.70zM164.4 443.6h1.70v1.70h-1.70zM164.4 445.7h1.70v1.70h-1.70zM164.4 447.8h1.70v1.70h-1.70zM164.4 449.9h1.70v1.70h-1.70zM164.4 452.1h1.70v1.70h-1.70zM164.4 458.4h1.70v1.70h-1.70zM164.4 460.5h1.70v1.70h-1.70zM164.4 462.6h1.70v1.70h-1.70zM164.4 464.7h1.70v1.70h-1.70zM164.4 466.8h1.70v1.70h-1.70zM164.4 468.9h1.70v1.70h-1.70zM164.4 471.0h1.70v1.70h-1.70zM164.4 489.9h1.70v1.70h-1.70zM164.4 492.0h1.70v1.70h-1.70zM164.4 494.1h1.70v1.70h-1.70zM164.4 496.2h1.70v1.70h-1.70zM164.4 500.4h1.70v1.70h-1.70zM164.4 506.7h1.70v1.70h-1.70zM164.4 508.8h1.70v1.70h-1.70zM164.4 513.0h1.70v1.70h-1.70zM164.4 515.1h1.70v1.70h-1.70zM164.4 519.3h1.70v1.70h-1.70zM164.4 531.9h1.70v1.70h-1.70zM164.4 534.0h1.70v1.70h-1.70zM164.4 540.3h1.70v1.70h-1.70zM164.4 548.7h1.70v1.70h-1.70zM164.4 552.9h1.70v1.70h-1.70zM164.4 555.0h1.70v1.70h-1.70zM164.4 567.7h1.70v1.70h-1.70zM164.4 574.0h1.70v1.70h-1.70zM164.4 576.1h1.70v1.70h-1.70zM164.4 582.4h1.70v1.70h-1.70zM164.4 586.6h1.70v1.70h-1.70zM164.4 588.7h1.70v1.70h-1.70zM164.4 595.0h1.70v1.70h-1.70zM164.4 597.1h1.70v1.70h-1.70zM164.4 607.6h1.70v1.70h-1.70zM164.4 609.7h1.70v1.70h-1.70zM166.5 399.5h1.70v1.70h-1.70zM166.5 401.6h1.70v1.70h-1.70zM166.5 403.7h1.70v1.70h-1.70zM166.5 414.2h1.70v1.70h-1.70zM166.5 416.3h1.70v1.70h-1.70zM166.5 420.5h1.70v1.70h-1.70zM166.5 426.8h1.70v1.70h-1.70zM166.5 431.0h1.70v1.70h-1.70zM166.5 435.2h1.70v1.70h-1.70zM166.5 437.3h1.70v1.70h-1.70zM166.5 441.5h1.70v1.70h-1.70zM166.5 449.9h1.70v1.70h-1.70zM166.5 458.4h1.70v1.70h-1.70zM166.5 466.8h1.70v1.70h-1.70zM166.5 471.0h1.70v1.70h-1.70zM166.5 481.5h1.70v1.70h-1.70zM166.5 485.7h1.70v1.70h-1.70zM166.5 487.8h1.70v1.70h-1.70zM166.5 494.1h1.70v1.70h-1.70zM166.5 508.8h1.70v1.70h-1.70zM166.5 515.1h1.70v1.70h-1.70zM166.5 517.2h1.70v1.70h-1.70zM166.5 519.3h1.70v1.70h-1.70zM166.5 527.7h1.70v1.70h-1.70zM166.5 542.4h1.70v1.70h-1.70zM166.5 550.8h1.70v1.70h-1.70zM166.5 552.9h1.70v1.70h-1.70zM166.5 555.0h1.70v1.70h-1.70zM166.5 561.4h1.70v1.70h-1.70zM166.5 563.5h1.70v1.70h-1.70zM166.5 567.7h1.70v1.70h-1.70zM166.5 569.8h1.70v1.70h-1.70zM166.5 578.2h1.70v1.70h-1.70zM166.5 580.3h1.70v1.70h-1.70zM166.5 584.5h1.70v1.70h-1.70zM166.5 588.7h1.70v1.70h-1.70zM166.5 592.9h1.70v1.70h-1.70zM166.5 595.0h1.70v1.70h-1.70zM166.5 597.1h1.70v1.70h-1.70zM166.5 605.5h1.70v1.70h-1.70zM166.5 607.6h1.70v1.70h-1.70zM168.6 397.4h1.70v1.70h-1.70zM168.6 399.5h1.70v1.70h-1.70zM168.6 401.6h1.70v1.70h-1.70zM168.6 405.8h1.70v1.70h-1.70zM168.6 407.9h1.70v1.70h-1.70zM168.6 410.0h1.70v1.70h-1.70zM168.6 414.2h1.70v1.70h-1.70zM168.6 416.3h1.70v1.70h-1.70zM168.6 418.4h1.70v1.70h-1.70zM168.6 420.5h1.70v1.70h-1.70zM168.6 422.6h1.70v1.70h-1.70zM168.6 426.8h1.70v1.70h-1.70zM168.6 431.0h1.70v1.70h-1.70zM168.6 433.1h1.70v1.70h-1.70zM168.6 443.6h1.70v1.70h-1.70zM168.6 445.7h1.70v1.70h-1.70zM168.6 454.2h1.70v1.70h-1.70zM168.6 460.5h1.70v1.70h-1.70zM168.6 462.6h1.70v1.70h-1.70zM168.6 464.7h1.70v1.70h-1.70zM168.6 466.8h1.70v1.70h-1.70zM168.6 468.9h1.70v1.70h-1.70zM168.6 473.1h1.70v1.70h-1.70zM168.6 477.3h1.70v1.70h-1.70zM168.6 483.6h1.70v1.70h-1.70zM168.6 485.7h1.70v1.70h-1.70zM168.6 487.8h1.70v1.70h-1.70zM168.6 489.9h1.70v1.70h-1.70zM168.6 492.0h1.70v1.70h-1.70zM168.6 494.1h1.70v1.70h-1.70zM168.6 496.2h1.70v1.70h-1.70zM168.6 498.3h1.70v1.70h-1.70zM168.6 500.4h1.70v1.70h-1.70zM168.6 502.5h1.70v1.70h-1.70zM168.6 504.6h1.70v1.70h-1.70zM168.6 506.7h1.70v1.70h-1.70zM168.6 510.9h1.70v1.70h-1.70zM168.6 515.1h1.70v1.70h-1.70zM168.6 519.3h1.70v1.70h-1.70zM168.6 521.4h1.70v1.70h-1.70zM168.6 523.5h1.70v1.70h-1.70zM168.6 527.7h1.70v1.70h-1.70zM168.6 531.9h1.70v1.70h-1.70zM168.6 534.0h1.70v1.70h-1.70zM168.6 536.1h1.70v1.70h-1.70zM168.6 538.2h1.70v1.70h-1.70zM168.6 540.3h1.70v1.70h-1.70zM168.6 542.4h1.70v1.70h-1.70zM168.6 544.5h1.70v1.70h-1.70zM168.6 548.7h1.70v1.70h-1.70zM168.6 552.9h1.70v1.70h-1.70zM168.6 559.3h1.70v1.70h-1.70zM168.6 561.4h1.70v1.70h-1.70zM168.6 565.6h1.70v1.70h-1.70zM168.6 569.8h1.70v1.70h-1.70zM168.6 571.9h1.70v1.70h-1.70zM168.6 574.0h1.70v1.70h-1.70zM168.6 576.1h1.70v1.70h-1.70zM168.6 578.2h1.70v1.70h-1.70zM168.6 580.3h1.70v1.70h-1.70zM168.6 582.4h1.70v1.70h-1.70zM168.6 590.8h1.70v1.70h-1.70zM168.6 595.0h1.70v1.70h-1.70zM168.6 599.2h1.70v1.70h-1.70zM168.6 601.3h1.70v1.70h-1.70zM168.6 603.4h1.70v1.70h-1.70zM168.6 605.5h1.70v1.70h-1.70zM168.6 607.6h1.70v1.70h-1.70zM170.7 397.4h1.70v1.70h-1.70zM170.7 399.5h1.70v1.70h-1.70zM170.7 401.6h1.70v1.70h-1.70zM170.7 403.7h1.70v1.70h-1.70zM170.7 405.8h1.70v1.70h-1.70zM170.7 407.9h1.70v1.70h-1.70zM170.7 412.1h1.70v1.70h-1.70zM170.7 414.2h1.70v1.70h-1.70zM170.7 416.3h1.70v1.70h-1.70zM170.7 420.5h1.70v1.70h-1.70zM170.7 422.6h1.70v1.70h-1.70zM170.7 424.7h1.70v1.70h-1.70zM170.7 428.9h1.70v1.70h-1.70zM170.7 431.0h1.70v1.70h-1.70zM170.7 433.1h1.70v1.70h-1.70zM170.7 435.2h1.70v1.70h-1.70zM170.7 437.3h1.70v1.70h-1.70zM170.7 443.6h1.70v1.70h-1.70zM170.7 445.7h1.70v1.70h-1.70zM170.7 454.2h1.70v1.70h-1.70zM170.7 458.4h1.70v1.70h-1.70zM170.7 464.7h1.70v1.70h-1.70zM170.7 466.8h1.70v1.70h-1.70zM170.7 468.9h1.70v1.70h-1.70zM170.7 471.0h1.70v1.70h-1.70zM170.7 475.2h1.70v1.70h-1.70zM170.7 477.3h1.70v1.70h-1.70zM170.7 483.6h1.70v1.70h-1.70zM170.7 485.7h1.70v1.70h-1.70zM170.7 487.8h1.70v1.70h-1.70zM170.7 489.9h1.70v1.70h-1.70zM170.7 494.1h1.70v1.70h-1.70zM170.7 496.2h1.70v1.70h-1.70zM170.7 498.3h1.70v1.70h-1.70zM170.7 504.6h1.70v1.70h-1.70zM170.7 508.8h1.70v1.70h-1.70zM170.7 515.1h1.70v1.70h-1.70zM170.7 517.2h1.70v1.70h-1.70zM170.7 521.4h1.70v1.70h-1.70zM170.7 523.5h1.70v1.70h-1.70zM170.7 527.7h1.70v1.70h-1.70zM170.7 534.0h1.70v1.70h-1.70zM170.7 536.1h1.70v1.70h-1.70zM170.7 540.3h1.70v1.70h-1.70zM170.7 544.5h1.70v1.70h-1.70zM170.7 552.9h1.70v1.70h-1.70zM170.7 555.0h1.70v1.70h-1.70zM170.7 557.1h1.70v1.70h-1.70zM170.7 559.3h1.70v1.70h-1.70zM170.7 563.5h1.70v1.70h-1.70zM170.7 565.6h1.70v1.70h-1.70zM170.7 567.7h1.70v1.70h-1.70zM170.7 569.8h1.70v1.70h-1.70zM170.7 576.1h1.70v1.70h-1.70zM170.7 582.4h1.70v1.70h-1.70zM170.7 584.5h1.70v1.70h-1.70zM170.7 586.6h1.70v1.70h-1.70zM170.7 592.9h1.70v1.70h-1.70zM170.7 595.0h1.70v1.70h-1.70zM170.7 597.1h1.70v1.70h-1.70zM170.7 605.5h1.70v1.70h-1.70zM170.7 607.6h1.70v1.70h-1.70zM170.7 609.7h1.70v1.70h-1.70zM172.8 405.8h1.70v1.70h-1.70zM172.8 407.9h1.70v1.70h-1.70zM172.8 435.2h1.70v1.70h-1.70zM172.8 447.8h1.70v1.70h-1.70zM172.8 460.5h1.70v1.70h-1.70zM172.8 464.7h1.70v1.70h-1.70zM172.8 468.9h1.70v1.70h-1.70zM172.8 494.1h1.70v1.70h-1.70zM172.8 506.7h1.70v1.70h-1.70zM172.8 510.9h1.70v1.70h-1.70zM172.8 513.0h1.70v1.70h-1.70zM172.8 538.2h1.70v1.70h-1.70zM172.8 544.5h1.70v1.70h-1.70zM172.8 546.6h1.70v1.70h-1.70zM172.8 578.2h1.70v1.70h-1.70zM172.8 588.7h1.70v1.70h-1.70zM172.8 592.9h1.70v1.70h-1.70zM172.8 599.2h1.70v1.70h-1.70zM174.9 397.4h1.70v1.70h-1.70zM174.9 403.7h1.70v1.70h-1.70zM174.9 405.8h1.70v1.70h-1.70zM174.9 414.2h1.70v1.70h-1.70zM174.9 416.3h1.70v1.70h-1.70zM174.9 424.7h1.70v1.70h-1.70zM174.9 428.9h1.70v1.70h-1.70zM174.9 431.0h1.70v1.70h-1.70zM174.9 437.3h1.70v1.70h-1.70zM174.9 449.9h1.70v1.70h-1.70zM174.9 456.3h1.70v1.70h-1.70zM174.9 458.4h1.70v1.70h-1.70zM174.9 460.5h1.70v1.70h-1.70zM174.9 462.6h1.70v1.70h-1.70zM174.9 475.2h1.70v1.70h-1.70zM174.9 494.1h1.70v1.70h-1.70zM174.9 506.7h1.70v1.70h-1.70zM174.9 508.8h1.70v1.70h-1.70zM174.9 510.9h1.70v1.70h-1.70zM174.9 536.1h1.70v1.70h-1.70zM174.9 546.6h1.70v1.70h-1.70zM174.9 555.0h1.70v1.70h-1.70zM174.9 563.5h1.70v1.70h-1.70zM174.9 574.0h1.70v1.70h-1.70zM174.9 580.3h1.70v1.70h-1.70zM174.9 597.1h1.70v1.70h-1.70zM174.9 601.3h1.70v1.70h-1.70zM174.9 609.7h1.70v1.70h-1.70z"/></g>
<line x1="34.10" y1="397.00" x2="34.10" y2="611.80" stroke="#000" stroke-width="1.4" />
<text x="29.20" y="598.80" font-size="7.4" textLength="189.00" lengthAdjust="spacingAndGlyphs" transform="rotate(-90 29.20 598.80)">Mandoli, et al. <tspan font-style="italic">CBFB-MYH11</tspan> ChIP-seq high confidence sites</text>
<rect x="186.00" y="384.80" width="3.80" height="4.00" fill="#0a2aa2"/>
<rect x="186.00" y="392.20" width="3.80" height="4.00" fill="#c00008"/>
<text x="192.90" y="389.00" font-size="6.6" textLength="23.00" lengthAdjust="spacingAndGlyphs">E5-E33</text>
<text x="192.90" y="396.50" font-size="6.6" textLength="18.00" lengthAdjust="spacingAndGlyphs">Other</text>
<rect x="186.00" y="407.00" width="3.80" height="4.20" fill="#e8c800"/>
<rect x="186.00" y="411.15" width="3.80" height="4.20" fill="#646a0e"/>
<rect x="186.00" y="415.30" width="3.80" height="4.20" fill="#302404"/>
<rect x="186.00" y="419.45" width="3.80" height="4.20" fill="#000000"/>
<rect x="186.00" y="423.60" width="3.80" height="4.20" fill="#060650"/>
<rect x="186.00" y="427.75" width="3.80" height="4.20" fill="#2a16b9"/>
<rect x="186.00" y="431.90" width="3.80" height="4.20" fill="#681af5"/>
<text x="192.50" y="411.30" font-size="6.8" textLength="9.00" lengthAdjust="spacingAndGlyphs">+3</text>
<text x="192.50" y="437.30" font-size="6.8" textLength="8.50" lengthAdjust="spacingAndGlyphs">−3</text>
<rect x="38.00" y="165.00" width="181.50" height="181.20" fill="none" stroke="#000" stroke-width="1.3"/>
<line x1="35.20" y1="165.40" x2="38.00" y2="165.40" stroke="#000" stroke-width="1.0" />
<text x="33.40" y="168.10" font-size="7.7" text-anchor="end">5.0</text>
<line x1="35.20" y1="206.80" x2="38.00" y2="206.80" stroke="#000" stroke-width="1.0" />
<text x="33.40" y="209.50" font-size="7.7" text-anchor="end">2.5</text>
<line x1="35.20" y1="248.40" x2="38.00" y2="248.40" stroke="#000" stroke-width="1.0" />
<text x="33.40" y="251.10" font-size="7.7" text-anchor="end">0.0</text>
<line x1="35.20" y1="289.80" x2="38.00" y2="289.80" stroke="#000" stroke-width="1.0" />
<text x="33.40" y="292.50" font-size="7.7" text-anchor="end">-2.5</text>
<line x1="35.20" y1="331.60" x2="38.00" y2="331.60" stroke="#000" stroke-width="1.0" />
<text x="33.40" y="334.30" font-size="7.7" text-anchor="end">-5.0</text>
<line x1="39.30" y1="346.20" x2="39.30" y2="349.00" stroke="#000" stroke-width="1.0" />
<text x="39.30" y="357.90" font-size="7.6" text-anchor="middle">-5</text>
<line x1="69.00" y1="346.20" x2="69.00" y2="349.00" stroke="#000" stroke-width="1.0" />
<text x="69.00" y="357.90" font-size="7.6" text-anchor="middle">-2.5</text>
<line x1="99.30" y1="346.20" x2="99.30" y2="349.00" stroke="#000" stroke-width="1.0" />
<text x="99.30" y="357.90" font-size="7.6" text-anchor="middle">0</text>
<line x1="129.50" y1="346.20" x2="129.50" y2="349.00" stroke="#000" stroke-width="1.0" />
<text x="129.50" y="357.90" font-size="7.6" text-anchor="middle">2.5</text>
<line x1="159.30" y1="346.20" x2="159.30" y2="349.00" stroke="#000" stroke-width="1.0" />
<text x="159.30" y="357.90" font-size="7.6" text-anchor="middle">5</text>
<line x1="189.30" y1="346.20" x2="189.30" y2="349.00" stroke="#000" stroke-width="1.0" />
<text x="189.30" y="357.90" font-size="7.6" text-anchor="middle">7.5</text>
<line x1="219.50" y1="346.20" x2="219.50" y2="349.00" stroke="#000" stroke-width="1.0" />
<text x="219.50" y="357.90" font-size="7.6" text-anchor="middle">10</text>
<text x="17.00" y="266.00" font-size="9.0" textLength="21.00" lengthAdjust="spacingAndGlyphs" style="stroke-width:0.45px" transform="rotate(-90 17.00 266.00)">UMAP2</text>
<text x="118.10" y="369.40" font-size="9.0" textLength="20.50" lengthAdjust="spacingAndGlyphs" style="stroke-width:0.45px">UMAP1</text>
<path d="M41.8 228.2 L90.0 270.6 L93.0 343.4 L41.6 335.4 Z" fill="none" stroke="#000" stroke-width="1.5" stroke-linejoin="miter"/>
<circle cx="72.22" cy="188.43" r="1.40" fill="#5e3a10"/>
<circle cx="71.90" cy="186.27" r="1.40" fill="#5e3a10"/>
<circle cx="68.02" cy="189.88" r="1.40" fill="#5e3a10"/>
<circle cx="77.29" cy="180.24" r="1.40" fill="#1f9a48"/>
<circle cx="69.64" cy="191.51" r="1.40" fill="#1f9a48"/>
<circle cx="68.14" cy="189.55" r="1.40" fill="#1f9a48"/>
<circle cx="78.77" cy="180.88" r="1.40" fill="#5e3a10"/>
<circle cx="75.34" cy="184.68" r="1.40" fill="#1f9a48"/>
<circle cx="67.79" cy="191.92" r="1.40" fill="#5e3a10"/>
<circle cx="67.80" cy="192.51" r="1.40" fill="#1f9a48"/>
<circle cx="67.00" cy="193.52" r="1.40" fill="#5e3a10"/>
<circle cx="77.28" cy="175.34" r="1.40" fill="#1f9a48"/>
<circle cx="63.06" cy="197.19" r="1.40" fill="#1f9a48"/>
<circle cx="74.74" cy="180.37" r="1.40" fill="#5e3a10"/>
<circle cx="62.55" cy="199.74" r="1.40" fill="#1f9a48"/>
<circle cx="65.90" cy="194.88" r="1.40" fill="#5e3a10"/>
<circle cx="77.79" cy="176.17" r="1.40" fill="#1f9a48"/>
<circle cx="79.03" cy="182.95" r="1.40" fill="#5e3a10"/>
<circle cx="76.96" cy="180.55" r="1.40" fill="#1f9a48"/>
<circle cx="61.07" cy="200.27" r="1.40" fill="#5e3a10"/>
<circle cx="77.89" cy="178.33" r="1.40" fill="#5e3a10"/>
<circle cx="60.93" cy="195.31" r="1.40" fill="#1f9a48"/>
<circle cx="77.32" cy="182.49" r="1.40" fill="#1f9a48"/>
<circle cx="78.81" cy="176.28" r="1.40" fill="#1f9a48"/>
<circle cx="65.58" cy="194.79" r="1.40" fill="#1f9a48"/>
<circle cx="78.74" cy="177.63" r="1.40" fill="#1f9a48"/>
<circle cx="69.47" cy="191.59" r="1.45" fill="#5e3a10"/>
<circle cx="64.61" cy="196.72" r="1.45" fill="#1a0800"/>
<circle cx="77.13" cy="185.45" r="1.45" fill="#1a0800"/>
<circle cx="76.88" cy="180.05" r="1.45" fill="#5e3a10"/>
<circle cx="62.11" cy="197.03" r="1.45" fill="#1a0800"/>
<circle cx="77.45" cy="178.15" r="1.45" fill="#5e3a10"/>
<circle cx="74.91" cy="182.84" r="1.45" fill="#1a0800"/>
<circle cx="69.37" cy="188.67" r="1.45" fill="#1a0800"/>
<circle cx="76.29" cy="182.75" r="1.45" fill="#1a0800"/>
<circle cx="74.40" cy="182.80" r="1.45" fill="#1a0800"/>
<circle cx="77.79" cy="176.85" r="1.45" fill="#1a0800"/>
<circle cx="77.79" cy="180.99" r="1.45" fill="#1a0800"/>
<circle cx="78.80" cy="177.92" r="1.45" fill="#1a0800"/>
<circle cx="67.02" cy="191.44" r="1.45" fill="#1a0800"/>
<circle cx="68.47" cy="189.27" r="1.45" fill="#1a0800"/>
<circle cx="66.02" cy="190.80" r="1.45" fill="#1a0800"/>
<circle cx="71.71" cy="187.86" r="1.45" fill="#1a0800"/>
<circle cx="77.34" cy="177.83" r="1.45" fill="#1a0800"/>
<circle cx="63.21" cy="193.73" r="1.45" fill="#5e3a10"/>
<circle cx="61.09" cy="197.50" r="1.45" fill="#1a0800"/>
<circle cx="62.43" cy="196.66" r="1.45" fill="#5e3a10"/>
<circle cx="76.92" cy="188.08" r="1.45" fill="#1a0800"/>
<circle cx="66.42" cy="190.26" r="1.45" fill="#1a0800"/>
<circle cx="73.63" cy="186.06" r="1.45" fill="#5e3a10"/>
<circle cx="72.56" cy="188.34" r="1.45" fill="#1a0800"/>
<circle cx="78.10" cy="184.76" r="1.45" fill="#1a0800"/>
<circle cx="71.00" cy="189.25" r="1.45" fill="#1a0800"/>
<circle cx="62.97" cy="197.15" r="1.45" fill="#1a0800"/>
<circle cx="70.74" cy="188.59" r="1.45" fill="#5e3a10"/>
<circle cx="72.80" cy="190.08" r="1.45" fill="#1a0800"/>
<circle cx="77.19" cy="181.95" r="1.45" fill="#1a0800"/>
<circle cx="62.90" cy="197.32" r="1.45" fill="#1a0800"/>
<circle cx="78.60" cy="182.04" r="1.45" fill="#1a0800"/>
<circle cx="65.42" cy="191.25" r="1.45" fill="#1a0800"/>
<circle cx="77.61" cy="179.35" r="1.45" fill="#5e3a10"/>
<circle cx="74.39" cy="186.85" r="1.45" fill="#5e3a10"/>
<circle cx="74.31" cy="184.27" r="1.45" fill="#1a0800"/>
<circle cx="67.63" cy="193.08" r="1.45" fill="#1a0800"/>
<circle cx="68.63" cy="191.90" r="1.45" fill="#1a0800"/>
<circle cx="78.49" cy="182.43" r="1.45" fill="#1a0800"/>
<circle cx="72.50" cy="187.80" r="1.45" fill="#1a0800"/>
<circle cx="61.65" cy="199.11" r="1.45" fill="#5e3a10"/>
<circle cx="75.34" cy="183.22" r="1.45" fill="#1a0800"/>
<circle cx="78.29" cy="180.87" r="1.45" fill="#1a0800"/>
<circle cx="72.92" cy="186.30" r="1.45" fill="#1a0800"/>
<circle cx="72.80" cy="185.74" r="1.45" fill="#5e3a10"/>
<circle cx="72.03" cy="188.25" r="1.45" fill="#5e3a10"/>
<circle cx="70.16" cy="189.66" r="1.45" fill="#1a0800"/>
<circle cx="72.55" cy="187.62" r="1.45" fill="#1a0800"/>
<circle cx="74.88" cy="181.98" r="1.45" fill="#1a0800"/>
<circle cx="70.43" cy="188.72" r="1.45" fill="#1a0800"/>
<circle cx="77.00" cy="187.57" r="1.45" fill="#5e3a10"/>
<circle cx="65.34" cy="193.83" r="1.45" fill="#1a0800"/>
<circle cx="75.05" cy="189.53" r="1.45" fill="#1a0800"/>
<circle cx="70.41" cy="187.23" r="1.45" fill="#5e3a10"/>
<circle cx="62.15" cy="199.97" r="1.45" fill="#1a0800"/>
<circle cx="65.15" cy="194.33" r="1.45" fill="#1a0800"/>
<circle cx="70.08" cy="188.60" r="1.45" fill="#1a0800"/>
<circle cx="65.67" cy="190.98" r="1.45" fill="#1a0800"/>
<circle cx="77.64" cy="185.29" r="1.45" fill="#1a0800"/>
<circle cx="79.30" cy="185.43" r="1.45" fill="#1a0800"/>
<circle cx="79.93" cy="186.73" r="1.45" fill="#1f9a48"/>
<circle cx="75.55" cy="183.82" r="1.45" fill="#1a0800"/>
<circle cx="79.52" cy="187.37" r="1.45" fill="#1f9a48"/>
<circle cx="76.13" cy="190.45" r="1.45" fill="#1a0800"/>
<circle cx="79.87" cy="183.37" r="1.45" fill="#1f9a48"/>
<circle cx="79.94" cy="184.54" r="1.45" fill="#1a0800"/>
<circle cx="78.38" cy="191.41" r="1.45" fill="#1a0800"/>
<circle cx="78.76" cy="175.71" r="1.45" fill="#5e3a10"/>
<circle cx="78.50" cy="181.32" r="1.45" fill="#1a0800"/>
<circle cx="77.50" cy="184.52" r="1.45" fill="#5e3a10"/>
<circle cx="76.62" cy="187.99" r="1.45" fill="#1a0800"/>
<circle cx="78.30" cy="182.05" r="1.45" fill="#1a0800"/>
<circle cx="76.09" cy="184.46" r="1.45" fill="#1a0800"/>
<circle cx="76.15" cy="184.45" r="1.45" fill="#1a0800"/>
<circle cx="76.72" cy="180.29" r="1.45" fill="#1a0800"/>
<circle cx="78.71" cy="181.69" r="1.45" fill="#1a0800"/>
<circle cx="78.76" cy="187.98" r="1.45" fill="#1a0800"/>
<circle cx="79.28" cy="177.84" r="1.45" fill="#1f9a48"/>
<circle cx="77.58" cy="189.82" r="1.45" fill="#1a0800"/>
<circle cx="77.19" cy="179.73" r="1.45" fill="#1a0800"/>
<circle cx="76.97" cy="179.93" r="1.45" fill="#5e3a10"/>
<circle cx="77.50" cy="173.60" r="1.35" fill="#3ee61c"/>
<circle cx="80.50" cy="174.50" r="1.35" fill="#5e3a10"/>
<circle cx="74.00" cy="178.00" r="1.35" fill="#5e3a10"/>
<circle cx="80.00" cy="178.20" r="1.35" fill="#5e3a10"/>
<circle cx="72.50" cy="181.00" r="1.35" fill="#1f9a48"/>
<circle cx="79.50" cy="182.00" r="1.35" fill="#1f9a48"/>
<circle cx="70.50" cy="189.50" r="1.35" fill="#1f9a48"/>
<circle cx="64.50" cy="192.50" r="1.35" fill="#3ee61c"/>
<circle cx="69.00" cy="196.20" r="1.35" fill="#5e3a10"/>
<circle cx="74.00" cy="196.50" r="1.35" fill="#5e3a10"/>
<circle cx="67.00" cy="200.50" r="1.35" fill="#5e3a10"/>
<circle cx="70.20" cy="194.20" r="1.35" fill="#1f9a48"/>
<circle cx="70.00" cy="192.80" r="1.35" fill="#1f9a48"/>
<circle cx="79.50" cy="198.20" r="1.35" fill="#3ee61c"/>
<circle cx="79.60" cy="200.40" r="1.35" fill="#3ee61c"/>
<circle cx="61.00" cy="199.50" r="1.35" fill="#5e3a10"/>
<circle cx="62.50" cy="202.00" r="1.35" fill="#5e3a10"/>
<circle cx="67.50" cy="189.50" r="1.35" fill="#1f9a48"/>
<circle cx="74.50" cy="184.00" r="1.35" fill="#1f9a48"/>
<circle cx="71.36" cy="208.78" r="1.50" fill="#3ee61c"/>
<circle cx="80.07" cy="227.32" r="1.50" fill="#3ee61c"/>
<circle cx="73.09" cy="208.07" r="1.50" fill="#3ee61c"/>
<circle cx="84.21" cy="232.45" r="1.50" fill="#3ee61c"/>
<circle cx="70.25" cy="208.82" r="1.50" fill="#3ee61c"/>
<circle cx="73.73" cy="214.90" r="1.50" fill="#3ee61c"/>
<circle cx="73.40" cy="211.22" r="1.50" fill="#3ee61c"/>
<circle cx="82.77" cy="227.04" r="1.50" fill="#3ee61c"/>
<circle cx="76.37" cy="216.68" r="1.50" fill="#3ee61c"/>
<circle cx="76.58" cy="214.62" r="1.50" fill="#3ee61c"/>
<circle cx="76.61" cy="221.46" r="1.50" fill="#3ee61c"/>
<circle cx="82.03" cy="227.11" r="1.50" fill="#3ee61c"/>
<circle cx="81.79" cy="227.98" r="1.50" fill="#3ee61c"/>
<circle cx="78.68" cy="228.33" r="1.50" fill="#3ee61c"/>
<circle cx="71.24" cy="206.67" r="1.50" fill="#3ee61c"/>
<circle cx="81.77" cy="232.23" r="1.50" fill="#3ee61c"/>
<circle cx="69.93" cy="212.88" r="1.50" fill="#3ee61c"/>
<circle cx="73.07" cy="210.75" r="1.50" fill="#3ee61c"/>
<circle cx="70.17" cy="218.13" r="1.50" fill="#3ee61c"/>
<circle cx="77.32" cy="228.88" r="1.50" fill="#3ee61c"/>
<circle cx="79.57" cy="225.41" r="1.50" fill="#3ee61c"/>
<circle cx="78.39" cy="227.30" r="1.50" fill="#3ee61c"/>
<circle cx="70.22" cy="213.26" r="1.50" fill="#3ee61c"/>
<circle cx="85.58" cy="231.60" r="1.50" fill="#3ee61c"/>
<circle cx="82.36" cy="226.04" r="1.50" fill="#3ee61c"/>
<circle cx="70.53" cy="217.51" r="1.50" fill="#3ee61c"/>
<circle cx="82.04" cy="229.13" r="1.50" fill="#3ee61c"/>
<circle cx="84.76" cy="230.19" r="1.50" fill="#3ee61c"/>
<circle cx="75.47" cy="216.01" r="1.50" fill="#3ee61c"/>
<circle cx="75.51" cy="225.34" r="1.50" fill="#3ee61c"/>
<circle cx="74.69" cy="223.47" r="1.50" fill="#3ee61c"/>
<circle cx="71.02" cy="206.00" r="1.50" fill="#3ee61c"/>
<circle cx="68.67" cy="207.99" r="1.50" fill="#3ee61c"/>
<circle cx="71.02" cy="212.23" r="1.50" fill="#3ee61c"/>
<circle cx="83.60" cy="231.28" r="1.50" fill="#3ee61c"/>
<circle cx="77.69" cy="222.08" r="1.50" fill="#3ee61c"/>
<circle cx="69.34" cy="209.17" r="1.50" fill="#3ee61c"/>
<circle cx="71.74" cy="208.76" r="1.50" fill="#3ee61c"/>
<circle cx="75.29" cy="224.20" r="1.50" fill="#3ee61c"/>
<circle cx="80.51" cy="227.97" r="1.50" fill="#3ee61c"/>
<circle cx="79.13" cy="224.98" r="1.50" fill="#3ee61c"/>
<circle cx="79.53" cy="227.95" r="1.50" fill="#3ee61c"/>
<circle cx="75.11" cy="224.77" r="1.50" fill="#3ee61c"/>
<circle cx="74.97" cy="224.83" r="1.50" fill="#3ee61c"/>
<circle cx="73.27" cy="220.25" r="1.50" fill="#3ee61c"/>
<circle cx="78.29" cy="221.87" r="1.50" fill="#3ee61c"/>
<circle cx="78.06" cy="222.45" r="1.50" fill="#3ee61c"/>
<circle cx="77.57" cy="228.57" r="1.50" fill="#3ee61c"/>
<circle cx="76.94" cy="223.64" r="1.50" fill="#3ee61c"/>
<circle cx="73.47" cy="214.72" r="1.50" fill="#3ee61c"/>
<circle cx="81.21" cy="227.88" r="1.50" fill="#3ee61c"/>
<circle cx="72.32" cy="218.74" r="1.50" fill="#3ee61c"/>
<circle cx="72.85" cy="217.33" r="1.50" fill="#3ee61c"/>
<circle cx="71.53" cy="214.74" r="1.50" fill="#3ee61c"/>
<circle cx="75.05" cy="217.45" r="1.50" fill="#3ee61c"/>
<circle cx="72.63" cy="206.44" r="1.50" fill="#3ee61c"/>
<circle cx="81.52" cy="228.20" r="1.50" fill="#3ee61c"/>
<circle cx="72.06" cy="206.81" r="1.50" fill="#3ee61c"/>
<circle cx="78.08" cy="226.05" r="1.50" fill="#3ee61c"/>
<circle cx="75.53" cy="212.70" r="1.50" fill="#3ee61c"/>
<circle cx="76.77" cy="215.80" r="1.50" fill="#3ee61c"/>
<circle cx="71.86" cy="218.44" r="1.50" fill="#3ee61c"/>
<circle cx="69.76" cy="212.66" r="1.50" fill="#3ee61c"/>
<circle cx="68.87" cy="207.57" r="1.50" fill="#3ee61c"/>
<circle cx="74.26" cy="224.51" r="1.50" fill="#3ee61c"/>
<circle cx="80.78" cy="228.24" r="1.50" fill="#3ee61c"/>
<circle cx="70.95" cy="211.46" r="1.50" fill="#3ee61c"/>
<circle cx="81.23" cy="226.28" r="1.50" fill="#3ee61c"/>
<circle cx="72.96" cy="224.70" r="1.50" fill="#3ee61c"/>
<circle cx="70.44" cy="207.40" r="1.50" fill="#3ee61c"/>
<circle cx="75.04" cy="214.16" r="1.50" fill="#3ee61c"/>
<circle cx="69.87" cy="207.30" r="1.50" fill="#3ee61c"/>
<circle cx="74.77" cy="212.29" r="1.50" fill="#3ee61c"/>
<circle cx="79.74" cy="226.48" r="1.50" fill="#3ee61c"/>
<circle cx="77.35" cy="225.21" r="1.50" fill="#3ee61c"/>
<circle cx="80.09" cy="212.58" r="1.45" fill="#3ee61c"/>
<circle cx="80.33" cy="214.39" r="1.45" fill="#3ee61c"/>
<circle cx="80.64" cy="215.86" r="1.45" fill="#3ee61c"/>
<circle cx="80.86" cy="217.78" r="1.45" fill="#3ee61c"/>
<circle cx="80.52" cy="219.15" r="1.45" fill="#3ee61c"/>
<circle cx="80.55" cy="220.46" r="1.45" fill="#3ee61c"/>
<circle cx="80.47" cy="221.81" r="1.45" fill="#3ee61c"/>
<circle cx="81.26" cy="223.75" r="1.45" fill="#3ee61c"/>
<circle cx="72.91" cy="221.75" r="1.40" fill="#3ee61c"/>
<circle cx="73.13" cy="224.28" r="1.40" fill="#3ee61c"/>
<circle cx="73.51" cy="226.33" r="1.40" fill="#3ee61c"/>
<circle cx="73.99" cy="228.30" r="1.40" fill="#3ee61c"/>
<circle cx="68.50" cy="204.50" r="1.35" fill="#5e3a10"/>
<circle cx="71.80" cy="209.80" r="1.35" fill="#5e3a10"/>
<circle cx="72.00" cy="230.00" r="1.35" fill="#fcbc0c"/>
<circle cx="78.50" cy="225.00" r="1.35" fill="#5e3a10"/>
<circle cx="87.50" cy="230.50" r="1.35" fill="#1a0800"/>
<circle cx="86.00" cy="231.50" r="1.35" fill="#5e3a10"/>
<circle cx="84.00" cy="233.50" r="1.35" fill="#1a0800"/>
<circle cx="84.20" cy="236.00" r="1.35" fill="#1a0800"/>
<circle cx="84.50" cy="237.50" r="1.35" fill="#1f9a48"/>
<circle cx="80.00" cy="200.80" r="1.35" fill="#3ee61c"/>
<circle cx="77.00" cy="218.50" r="1.35" fill="#1a0800"/>
<circle cx="77.00" cy="211.50" r="1.35" fill="#5e3a10"/>
<circle cx="68.50" cy="207.50" r="1.35" fill="#1f9a48"/>
<circle cx="88.50" cy="230.00" r="1.35" fill="#1a0800"/>
<circle cx="85.00" cy="234.50" r="1.35" fill="#1a0800"/>
<circle cx="60.50" cy="250.00" r="1.35" fill="#1f9a48"/>
<circle cx="60.00" cy="265.00" r="1.35" fill="#b8001e"/>
<circle cx="60.50" cy="262.00" r="1.35" fill="#1f9a48"/>
<circle cx="59.00" cy="262.50" r="1.35" fill="#1a0800"/>
<circle cx="61.00" cy="266.50" r="1.35" fill="#b8001e"/>
<circle cx="63.00" cy="266.00" r="1.35" fill="#3ee61c"/>
<circle cx="65.00" cy="262.00" r="1.35" fill="#3ee61c"/>
<circle cx="67.50" cy="263.50" r="1.35" fill="#5e3a10"/>
<circle cx="62.00" cy="267.50" r="1.35" fill="#1a0800"/>
<circle cx="58.50" cy="264.00" r="1.35" fill="#1f9a48"/>
<circle cx="77.50" cy="252.00" r="1.35" fill="#5e3a10"/>
<circle cx="80.70" cy="253.00" r="1.35" fill="#5e3a10"/>
<circle cx="82.00" cy="255.00" r="1.35" fill="#1a0800"/>
<circle cx="83.50" cy="254.00" r="1.35" fill="#1f9a48"/>
<circle cx="73.50" cy="261.00" r="1.35" fill="#5e3a10"/>
<circle cx="75.00" cy="261.20" r="1.35" fill="#1a0800"/>
<circle cx="80.00" cy="260.00" r="1.35" fill="#3ee61c"/>
<circle cx="82.00" cy="262.00" r="1.35" fill="#1f9a48"/>
<circle cx="81.50" cy="263.50" r="1.35" fill="#1a0800"/>
<circle cx="83.00" cy="265.00" r="1.35" fill="#1a0800"/>
<circle cx="79.50" cy="261.50" r="1.35" fill="#3ee61c"/>
<circle cx="82.00" cy="268.00" r="1.35" fill="#1f9a48"/>
<circle cx="82.00" cy="273.00" r="1.35" fill="#3ee61c"/>
<circle cx="83.00" cy="275.00" r="1.35" fill="#1a0800"/>
<circle cx="83.00" cy="276.00" r="1.35" fill="#b8001e"/>
<circle cx="84.30" cy="273.00" r="1.35" fill="#3ee61c"/>
<circle cx="82.00" cy="278.00" r="1.35" fill="#3ee61c"/>
<circle cx="80.00" cy="280.00" r="1.35" fill="#5e3a10"/>
<circle cx="84.00" cy="280.00" r="1.35" fill="#5e3a10"/>
<circle cx="77.50" cy="282.00" r="1.35" fill="#1f9a48"/>
<circle cx="80.50" cy="284.50" r="1.35" fill="#5e3a10"/>
<circle cx="95.00" cy="246.50" r="1.35" fill="#1f9a48"/>
<circle cx="97.00" cy="249.00" r="1.35" fill="#1f9a48"/>
<circle cx="99.00" cy="253.00" r="1.35" fill="#5e3a10"/>
<circle cx="101.50" cy="256.50" r="1.35" fill="#3ee61c"/>
<circle cx="104.00" cy="263.00" r="1.35" fill="#1f9a48"/>
<circle cx="105.00" cy="266.00" r="1.35" fill="#a2a2f2"/>
<circle cx="105.50" cy="268.00" r="1.35" fill="#1f9a48"/>
<circle cx="104.50" cy="270.00" r="1.35" fill="#a2a2f2"/>
<circle cx="104.00" cy="272.50" r="1.35" fill="#1a0800"/>
<circle cx="102.50" cy="275.00" r="1.35" fill="#3ee61c"/>
<circle cx="101.00" cy="277.00" r="1.35" fill="#3ee61c"/>
<circle cx="103.00" cy="276.50" r="1.35" fill="#a2a2f2"/>
<circle cx="101.00" cy="279.00" r="1.35" fill="#1f9a48"/>
<circle cx="107.50" cy="237.80" r="1.35" fill="#1a0800"/>
<circle cx="108.50" cy="236.30" r="1.35" fill="#1535d0"/>
<circle cx="109.50" cy="234.80" r="1.35" fill="#1a0800"/>
<circle cx="119.00" cy="250.00" r="1.35" fill="#3ee61c"/>
<circle cx="118.00" cy="257.00" r="1.35" fill="#3ee61c"/>
<circle cx="133.50" cy="281.50" r="1.35" fill="#3ee61c"/>
<circle cx="134.50" cy="283.00" r="1.35" fill="#5e3a10"/>
<circle cx="135.00" cy="287.80" r="1.35" fill="#5e3a10"/>
<circle cx="130.50" cy="298.80" r="1.35" fill="#3ee61c"/>
<circle cx="135.00" cy="297.50" r="1.35" fill="#5e3a10"/>
<circle cx="135.50" cy="300.50" r="1.35" fill="#1a0800"/>
<circle cx="134.50" cy="301.00" r="1.35" fill="#1a0800"/>
<circle cx="133.50" cy="304.50" r="1.35" fill="#1a0800"/>
<circle cx="171.50" cy="227.00" r="1.35" fill="#5e3a10"/>
<circle cx="172.80" cy="229.20" r="1.35" fill="#1a0800"/>
<circle cx="174.00" cy="231.00" r="1.35" fill="#1a0800"/>
<circle cx="175.20" cy="232.70" r="1.35" fill="#1f9a48"/>
<circle cx="176.00" cy="234.00" r="1.35" fill="#3ee61c"/>
<circle cx="173.50" cy="238.00" r="1.35" fill="#1f9a48"/>
<circle cx="178.00" cy="238.60" r="1.35" fill="#1f9a48"/>
<circle cx="179.50" cy="239.40" r="1.35" fill="#1f9a48"/>
<circle cx="181.00" cy="240.20" r="1.35" fill="#1f9a48"/>
<circle cx="177.80" cy="241.50" r="1.35" fill="#1a0800"/>
<circle cx="179.50" cy="243.50" r="1.35" fill="#1a0800"/>
<circle cx="180.00" cy="244.00" r="1.35" fill="#1f9a48"/>
<circle cx="187.70" cy="242.00" r="1.35" fill="#5e3a10"/>
<circle cx="193.00" cy="242.00" r="1.35" fill="#5e3a10"/>
<circle cx="191.00" cy="250.40" r="1.35" fill="#1a0800"/>
<circle cx="201.00" cy="246.70" r="1.35" fill="#5e3a10"/>
<circle cx="170.50" cy="252.50" r="1.35" fill="#3ee61c"/>
<circle cx="126.00" cy="175.00" r="1.35" fill="#1f9a48"/>
<circle cx="127.00" cy="173.80" r="1.35" fill="#1a0800"/>
<circle cx="128.00" cy="172.60" r="1.35" fill="#1a0800"/>
<circle cx="59.50" cy="264.00" r="1.35" fill="#b8001e"/>
<circle cx="61.50" cy="261.00" r="1.35" fill="#3ee61c"/>
<circle cx="60.50" cy="267.50" r="1.35" fill="#1a0800"/>
<circle cx="62.00" cy="263.00" r="1.35" fill="#5e3a10"/>
<circle cx="58.80" cy="262.00" r="1.35" fill="#b8001e"/>
<circle cx="105.50" cy="265.00" r="1.35" fill="#a2a2f2"/>
<circle cx="106.00" cy="267.00" r="1.35" fill="#a2a2f2"/>
<circle cx="105.80" cy="269.20" r="1.35" fill="#a2a2f2"/>
<circle cx="105.00" cy="271.00" r="1.35" fill="#a2a2f2"/>
<circle cx="104.20" cy="273.50" r="1.35" fill="#1535d0"/>
<circle cx="81.50" cy="256.00" r="1.35" fill="#1a0800"/>
<circle cx="82.50" cy="253.00" r="1.35" fill="#5e3a10"/>
<circle cx="83.00" cy="258.00" r="1.35" fill="#1a0800"/>
<circle cx="83.50" cy="257.00" r="1.35" fill="#1f9a48"/>
<circle cx="80.50" cy="254.50" r="1.35" fill="#1a0800"/>
<circle cx="82.50" cy="274.50" r="1.35" fill="#b8001e"/>
<circle cx="84.00" cy="275.00" r="1.35" fill="#3ee61c"/>
<circle cx="83.50" cy="271.50" r="1.35" fill="#1a0800"/>
<circle cx="81.00" cy="276.00" r="1.35" fill="#3ee61c"/>
<circle cx="82.50" cy="270.00" r="1.35" fill="#3ee61c"/>
<circle cx="151.55" cy="244.65" r="1.30" fill="#3ee61c"/>
<circle cx="152.96" cy="244.39" r="1.30" fill="#3ee61c"/>
<circle cx="154.47" cy="244.58" r="1.30" fill="#3ee61c"/>
<circle cx="156.27" cy="244.75" r="1.30" fill="#3ee61c"/>
<circle cx="158.02" cy="245.03" r="1.30" fill="#3ee61c"/>
<circle cx="159.43" cy="245.52" r="1.30" fill="#3ee61c"/>
<circle cx="161.14" cy="245.42" r="1.30" fill="#3ee61c"/>
<circle cx="162.75" cy="245.51" r="1.30" fill="#3ee61c"/>
<circle cx="162.99" cy="245.83" r="1.40" fill="#1a0800"/>
<circle cx="164.46" cy="245.03" r="1.40" fill="#1a0800"/>
<circle cx="166.54" cy="244.68" r="1.40" fill="#1a0800"/>
<circle cx="168.05" cy="243.48" r="1.40" fill="#1a0800"/>
<circle cx="169.74" cy="243.22" r="1.40" fill="#1a0800"/>
<circle cx="164.47" cy="246.35" r="1.40" fill="#5e3a10"/>
<circle cx="165.81" cy="247.79" r="1.40" fill="#1a0800"/>
<circle cx="167.16" cy="249.29" r="1.40" fill="#1a0800"/>
<circle cx="46.50" cy="313.50" r="1.35" fill="#b8001e"/>
<circle cx="48.50" cy="314.50" r="1.35" fill="#1535d0"/>
<circle cx="50.00" cy="316.50" r="1.35" fill="#66dcf4"/>
<circle cx="50.50" cy="313.00" r="1.35" fill="#1535d0"/>
<circle cx="52.00" cy="315.50" r="1.35" fill="#b8001e"/>
<circle cx="53.00" cy="309.50" r="1.35" fill="#66dcf4"/>
<circle cx="54.00" cy="311.00" r="1.35" fill="#1535d0"/>
<circle cx="55.50" cy="310.00" r="1.35" fill="#1535d0"/>
<circle cx="55.50" cy="314.50" r="1.35" fill="#b8001e"/>
<circle cx="57.50" cy="311.00" r="1.35" fill="#b8001e"/>
<circle cx="58.00" cy="312.50" r="1.35" fill="#1535d0"/>
<circle cx="56.50" cy="312.50" r="1.35" fill="#1535d0"/>
<circle cx="51.00" cy="317.50" r="1.35" fill="#b8001e"/>
<circle cx="52.50" cy="318.00" r="1.35" fill="#66dcf4"/>
<circle cx="47.50" cy="315.50" r="1.35" fill="#1535d0"/>
<circle cx="53.50" cy="312.50" r="1.35" fill="#66dcf4"/>
<circle cx="61.50" cy="306.50" r="1.35" fill="#1f9a48"/>
<circle cx="63.00" cy="305.00" r="1.35" fill="#cc1262"/>
<circle cx="64.80" cy="303.50" r="1.35" fill="#cc1262"/>
<circle cx="64.70" cy="300.50" r="1.35" fill="#b8001e"/>
<circle cx="66.00" cy="298.50" r="1.35" fill="#b8001e"/>
<circle cx="65.50" cy="302.00" r="1.35" fill="#cc1262"/>
<circle cx="67.00" cy="296.50" r="1.35" fill="#b8001e"/>
<circle cx="68.50" cy="295.20" r="1.35" fill="#1a0800"/>
<circle cx="70.00" cy="294.80" r="1.35" fill="#1f9a48"/>
<circle cx="71.00" cy="294.00" r="1.35" fill="#1a0800"/>
<circle cx="69.50" cy="296.50" r="1.35" fill="#1a0800"/>
<circle cx="83.00" cy="308.00" r="1.35" fill="#1a0800"/>
<circle cx="83.00" cy="310.50" r="1.35" fill="#b8001e"/>
<circle cx="82.20" cy="313.00" r="1.35" fill="#fcbc0c"/>
<circle cx="82.00" cy="315.50" r="1.35" fill="#b8001e"/>
<circle cx="81.80" cy="318.50" r="1.35" fill="#1a0800"/>
<circle cx="82.50" cy="320.20" r="1.35" fill="#1a0800"/>
<circle cx="80.00" cy="321.50" r="1.35" fill="#fcbc0c"/>
<circle cx="83.00" cy="306.00" r="1.35" fill="#1a0800"/>
<circle cx="75.90" cy="327.38" r="1.45" fill="#fcbc0c"/>
<circle cx="78.65" cy="323.46" r="1.45" fill="#fcbc0c"/>
<circle cx="80.89" cy="330.81" r="1.45" fill="#fcbc0c"/>
<circle cx="74.24" cy="324.47" r="1.45" fill="#fcbc0c"/>
<circle cx="81.51" cy="329.13" r="1.45" fill="#fcbc0c"/>
<circle cx="82.10" cy="327.95" r="1.45" fill="#fcbc0c"/>
<circle cx="75.24" cy="329.00" r="1.45" fill="#fcbc0c"/>
<circle cx="75.38" cy="327.48" r="1.45" fill="#fcbc0c"/>
<circle cx="74.92" cy="330.65" r="1.45" fill="#fcbc0c"/>
<circle cx="76.34" cy="325.96" r="1.45" fill="#fcbc0c"/>
<circle cx="74.76" cy="328.84" r="1.45" fill="#fcbc0c"/>
<circle cx="80.22" cy="330.13" r="1.45" fill="#fcbc0c"/>
<circle cx="76.89" cy="329.31" r="1.45" fill="#fcbc0c"/>
<circle cx="76.14" cy="322.75" r="1.45" fill="#fcbc0c"/>
<circle cx="81.20" cy="330.79" r="1.45" fill="#fcbc0c"/>
<circle cx="79.15" cy="331.81" r="1.45" fill="#fcbc0c"/>
<circle cx="78.50" cy="322.46" r="1.45" fill="#fcbc0c"/>
<circle cx="75.30" cy="329.55" r="1.45" fill="#fcbc0c"/>
<circle cx="76.29" cy="324.51" r="1.45" fill="#fcbc0c"/>
<circle cx="80.01" cy="325.15" r="1.45" fill="#fcbc0c"/>
<circle cx="74.35" cy="328.95" r="1.45" fill="#fcbc0c"/>
<circle cx="75.12" cy="325.93" r="1.45" fill="#fcbc0c"/>
<circle cx="78.83" cy="322.49" r="1.45" fill="#fcbc0c"/>
<circle cx="77.40" cy="329.98" r="1.45" fill="#fcbc0c"/>
<circle cx="81.79" cy="326.20" r="1.45" fill="#fcbc0c"/>
<circle cx="79.33" cy="329.94" r="1.45" fill="#fcbc0c"/>
<circle cx="77.84" cy="331.63" r="1.45" fill="#fcbc0c"/>
<circle cx="80.04" cy="328.24" r="1.45" fill="#fcbc0c"/>
<circle cx="79.44" cy="328.19" r="1.45" fill="#fcbc0c"/>
<circle cx="75.85" cy="323.58" r="1.45" fill="#fcbc0c"/>
<circle cx="79.36" cy="322.67" r="1.45" fill="#fcbc0c"/>
<circle cx="75.34" cy="325.16" r="1.45" fill="#fcbc0c"/>
<circle cx="80.93" cy="328.23" r="1.45" fill="#fcbc0c"/>
<circle cx="75.78" cy="327.43" r="1.45" fill="#fcbc0c"/>
<circle cx="78.43" cy="325.38" r="1.45" fill="#fcbc0c"/>
<circle cx="78.67" cy="323.68" r="1.45" fill="#fcbc0c"/>
<circle cx="78.61" cy="321.79" r="1.45" fill="#fcbc0c"/>
<circle cx="80.49" cy="323.00" r="1.45" fill="#fcbc0c"/>
<circle cx="78.69" cy="329.17" r="1.45" fill="#fcbc0c"/>
<circle cx="75.90" cy="331.21" r="1.45" fill="#fcbc0c"/>
<circle cx="82.02" cy="334.43" r="1.40" fill="#fcbc0c"/>
<circle cx="80.30" cy="331.64" r="1.40" fill="#fcbc0c"/>
<circle cx="80.51" cy="330.23" r="1.40" fill="#fcbc0c"/>
<circle cx="78.94" cy="337.97" r="1.40" fill="#fcbc0c"/>
<circle cx="81.29" cy="332.63" r="1.40" fill="#fcbc0c"/>
<circle cx="78.43" cy="334.48" r="1.40" fill="#fcbc0c"/>
<circle cx="79.77" cy="333.03" r="1.40" fill="#fcbc0c"/>
<circle cx="79.04" cy="335.71" r="1.40" fill="#fcbc0c"/>
<circle cx="80.58" cy="335.40" r="1.40" fill="#fcbc0c"/>
<circle cx="78.29" cy="333.12" r="1.40" fill="#fcbc0c"/>
<circle cx="78.21" cy="332.86" r="1.40" fill="#fcbc0c"/>
<circle cx="78.37" cy="334.20" r="1.40" fill="#fcbc0c"/>
<circle cx="81.11" cy="336.88" r="1.40" fill="#fcbc0c"/>
<circle cx="82.30" cy="335.00" r="1.40" fill="#fcbc0c"/>
<circle cx="79.23" cy="337.97" r="1.40" fill="#fcbc0c"/>
<circle cx="81.26" cy="333.86" r="1.40" fill="#fcbc0c"/>
<circle cx="78.03" cy="324.78" r="1.40" fill="#fcbc0c"/>
<circle cx="74.98" cy="323.10" r="1.40" fill="#fcbc0c"/>
<circle cx="78.43" cy="322.10" r="1.40" fill="#fcbc0c"/>
<circle cx="74.78" cy="323.58" r="1.40" fill="#fcbc0c"/>
<circle cx="77.39" cy="323.49" r="1.40" fill="#fcbc0c"/>
<circle cx="74.47" cy="324.72" r="1.40" fill="#fcbc0c"/>
<circle cx="76.02" cy="322.48" r="1.40" fill="#fcbc0c"/>
<circle cx="75.85" cy="321.03" r="1.40" fill="#fcbc0c"/>
<circle cx="74.50" cy="328.00" r="1.50" fill="#b8001e"/>
<circle cx="76.00" cy="331.00" r="1.50" fill="#b8001e"/>
<circle cx="230.30" cy="168.40" r="2.50" fill="#5a2dc8"/>
<text x="237.40" y="170.60" font-size="6.3" textLength="133.90" lengthAdjust="spacingAndGlyphs"><tspan font-style="italic">CBFB-MYH11</tspan> (E5-E33 and <tspan font-style="italic">KIT</tspan> exon 17 mutation)</text>
<circle cx="230.30" cy="176.85" r="2.50" fill="#2a68c8"/>
<text x="237.40" y="179.05" font-size="6.3" textLength="130.50" lengthAdjust="spacingAndGlyphs"><tspan font-style="italic">CBFB-MYH11</tspan> (E5-E33 and <tspan font-style="italic">KIT</tspan> exon 8 mutation)</text>
<circle cx="230.30" cy="185.30" r="2.50" fill="#66dcf4"/>
<text x="237.40" y="187.50" font-size="6.3" textLength="111.40" lengthAdjust="spacingAndGlyphs"><tspan font-style="italic">CBFB-MYH11</tspan> (E5-E33 and <tspan font-style="italic">KIT</tspan> mutation)</text>
<circle cx="230.30" cy="193.75" r="2.50" fill="#cc1262"/>
<text x="237.40" y="195.95" font-size="6.3" textLength="90.60" lengthAdjust="spacingAndGlyphs"><tspan font-style="italic">CBFB-MYH11</tspan> (other breakpoints)</text>
<circle cx="230.30" cy="202.20" r="2.50" fill="#fcbc0c"/>
<text x="237.40" y="204.40" font-size="6.3" textLength="49.10" lengthAdjust="spacingAndGlyphs"><tspan font-style="italic">RUNX1-RUNX1T1</tspan></text>
<circle cx="230.30" cy="210.65" r="2.50" fill="#3ee61c"/>
<text x="237.40" y="212.85" font-size="6.3" textLength="20.00" lengthAdjust="spacingAndGlyphs"><tspan font-style="italic">KMT2A</tspan></text>
<circle cx="230.30" cy="219.10" r="2.50" fill="#5e3a10"/>
<text x="237.40" y="221.30" font-size="6.3" textLength="62.90" lengthAdjust="spacingAndGlyphs">AMLs with other fusions</text>
<circle cx="230.30" cy="227.55" r="2.50" fill="#1f9a48"/>
<text x="237.40" y="229.75" font-size="6.3" textLength="74.30" lengthAdjust="spacingAndGlyphs">AMLs with no primary fusion</text>
<circle cx="230.30" cy="236.00" r="2.50" fill="#a2a2f2"/>
<text x="237.40" y="238.20" font-size="6.3" textLength="55.30" lengthAdjust="spacingAndGlyphs">Normal bone marrow</text>
<line x1="97.30" y1="320.90" x2="319.50" y2="320.90" stroke="#000" stroke-width="1.3" />
<path d="M316.2 317.3 L320.2 320.9 L316.2 324.4" fill="none" stroke="#000" stroke-width="1.3" stroke-linejoin="miter"/>
<rect x="339.80" y="229.60" width="116.20" height="117.10" fill="none" stroke="#000" stroke-width="1.3"/>
<line x1="337.00" y1="233.30" x2="339.80" y2="233.30" stroke="#000" stroke-width="1.0" />
<text x="334.40" y="236.00" font-size="7.7" text-anchor="end">0</text>
<line x1="337.00" y1="273.00" x2="339.80" y2="273.00" stroke="#000" stroke-width="1.0" />
<text x="334.40" y="275.70" font-size="7.7" text-anchor="end">-2</text>
<line x1="337.00" y1="312.80" x2="339.80" y2="312.80" stroke="#000" stroke-width="1.0" />
<text x="334.40" y="315.50" font-size="7.7" text-anchor="end">-4</text>
<line x1="362.50" y1="346.70" x2="362.50" y2="349.50" stroke="#000" stroke-width="1.0" />
<text x="362.50" y="357.90" font-size="7.7" text-anchor="middle">-4</text>
<line x1="393.30" y1="346.70" x2="393.30" y2="349.50" stroke="#000" stroke-width="1.0" />
<text x="393.30" y="357.90" font-size="7.7" text-anchor="middle">-3</text>
<line x1="424.00" y1="346.70" x2="424.00" y2="349.50" stroke="#000" stroke-width="1.0" />
<text x="424.00" y="357.90" font-size="7.7" text-anchor="middle">-2</text>
<line x1="454.60" y1="346.70" x2="454.60" y2="349.50" stroke="#000" stroke-width="1.0" />
<text x="454.60" y="357.90" font-size="7.7" text-anchor="middle">-1</text>
<text x="323.00" y="298.50" font-size="9.0" textLength="21.00" lengthAdjust="spacingAndGlyphs" style="stroke-width:0.45px" transform="rotate(-90 323.00 298.50)">UMAP2</text>
<text x="385.00" y="369.40" font-size="9.0" textLength="20.50" lengthAdjust="spacingAndGlyphs" style="stroke-width:0.45px">UMAP1</text>
<ellipse cx="390.3" cy="250.0" rx="15.8" ry="15.8" transform="rotate(0 390.3 250.0)" fill="none" stroke="#000" stroke-width="1.05"/>
<ellipse cx="441.6" cy="258.3" rx="23.8" ry="4.9" transform="rotate(67 441.6 258.3)" fill="none" stroke="#000" stroke-width="1.05"/>
<ellipse cx="367.0" cy="310.4" rx="23.0" ry="5.8" transform="rotate(-8 367.0 310.4)" fill="none" stroke="#000" stroke-width="1.05"/>
<ellipse cx="404.5" cy="292.6" rx="16.0" ry="5.0" transform="rotate(-34 404.5 292.6)" fill="none" stroke="#000" stroke-width="1.05"/>
<ellipse cx="434.2" cy="325.5" rx="24.0" ry="9.0" transform="rotate(-43 434.2 325.5)" fill="none" stroke="#000" stroke-width="1.05"/>
<circle cx="387.00" cy="236.00" r="1.80" fill="#1f9a48"/>
<circle cx="385.00" cy="248.00" r="1.80" fill="#5e3a10"/>
<circle cx="384.00" cy="250.00" r="1.80" fill="#3ee61c"/>
<circle cx="386.00" cy="251.50" r="1.80" fill="#b8001e"/>
<circle cx="388.00" cy="253.00" r="1.80" fill="#b8001e"/>
<circle cx="386.00" cy="254.00" r="1.80" fill="#1a0800"/>
<circle cx="383.50" cy="254.50" r="1.80" fill="#1f9a48"/>
<circle cx="390.00" cy="254.00" r="1.80" fill="#1535d0"/>
<circle cx="392.00" cy="253.00" r="1.80" fill="#3ee61c"/>
<circle cx="393.00" cy="256.00" r="1.80" fill="#b8001e"/>
<circle cx="394.50" cy="255.50" r="1.80" fill="#3ee61c"/>
<circle cx="399.00" cy="249.50" r="1.80" fill="#3ee61c"/>
<circle cx="403.20" cy="251.00" r="1.80" fill="#5e3a10"/>
<circle cx="404.50" cy="251.00" r="1.80" fill="#1a0800"/>
<circle cx="389.00" cy="251.00" r="1.80" fill="#5e3a10"/>
<circle cx="387.00" cy="249.50" r="1.80" fill="#3ee61c"/>
<circle cx="436.00" cy="246.50" r="1.80" fill="#3ee61c"/>
<circle cx="437.50" cy="248.00" r="1.80" fill="#3ee61c"/>
<circle cx="439.00" cy="249.00" r="1.80" fill="#1f9a48"/>
<circle cx="439.50" cy="251.00" r="1.80" fill="#5e3a10"/>
<circle cx="441.50" cy="254.50" r="1.80" fill="#5e3a10"/>
<circle cx="443.50" cy="257.00" r="1.80" fill="#1f9a48"/>
<circle cx="443.00" cy="261.00" r="1.80" fill="#5e3a10"/>
<circle cx="445.00" cy="263.00" r="1.80" fill="#3ee61c"/>
<circle cx="444.50" cy="266.00" r="1.80" fill="#b8001e"/>
<circle cx="446.00" cy="265.50" r="1.80" fill="#3ee61c"/>
<circle cx="439.50" cy="276.50" r="1.80" fill="#5e3a10"/>
<circle cx="349.00" cy="310.50" r="1.80" fill="#1535d0"/>
<circle cx="351.00" cy="311.50" r="1.80" fill="#b8001e"/>
<circle cx="353.00" cy="312.50" r="1.80" fill="#66dcf4"/>
<circle cx="356.00" cy="311.50" r="1.80" fill="#66dcf4"/>
<circle cx="360.00" cy="310.00" r="1.80" fill="#cc1262"/>
<circle cx="363.00" cy="312.00" r="1.80" fill="#66dcf4"/>
<circle cx="365.00" cy="310.50" r="1.80" fill="#b8001e"/>
<circle cx="367.00" cy="308.00" r="1.80" fill="#1535d0"/>
<circle cx="368.50" cy="311.00" r="1.80" fill="#1535d0"/>
<circle cx="370.00" cy="309.00" r="1.80" fill="#1535d0"/>
<circle cx="372.00" cy="307.50" r="1.80" fill="#1535d0"/>
<circle cx="373.50" cy="308.50" r="1.80" fill="#b8001e"/>
<circle cx="375.50" cy="307.00" r="1.80" fill="#1535d0"/>
<circle cx="378.00" cy="308.00" r="1.80" fill="#1535d0"/>
<circle cx="381.00" cy="308.50" r="1.80" fill="#cc1262"/>
<circle cx="369.00" cy="313.00" r="1.80" fill="#b8001e"/>
<circle cx="371.00" cy="314.00" r="1.80" fill="#66dcf4"/>
<circle cx="362.00" cy="309.50" r="1.80" fill="#1535d0"/>
<circle cx="366.00" cy="312.50" r="1.80" fill="#66dcf4"/>
<circle cx="358.00" cy="313.00" r="1.80" fill="#66dcf4"/>
<circle cx="374.00" cy="310.50" r="1.80" fill="#66dcf4"/>
<circle cx="376.50" cy="309.50" r="1.80" fill="#1535d0"/>
<circle cx="413.00" cy="288.00" r="1.80" fill="#1f9a48"/>
<circle cx="411.00" cy="289.00" r="1.80" fill="#1f9a48"/>
<circle cx="409.00" cy="290.00" r="1.80" fill="#1f9a48"/>
<circle cx="407.00" cy="291.50" r="1.80" fill="#1f9a48"/>
<circle cx="405.00" cy="290.50" r="1.80" fill="#b8001e"/>
<circle cx="401.00" cy="293.00" r="1.80" fill="#b8001e"/>
<circle cx="399.00" cy="294.50" r="1.80" fill="#1a0800"/>
<circle cx="398.00" cy="297.50" r="1.80" fill="#b8001e"/>
<circle cx="396.00" cy="299.00" r="1.80" fill="#cc1262"/>
<circle cx="393.00" cy="301.50" r="1.80" fill="#cc1262"/>
<circle cx="391.50" cy="302.80" r="1.80" fill="#1f9a48"/>
<circle cx="402.50" cy="300.50" r="1.80" fill="#cc1262"/>
<circle cx="400.00" cy="297.00" r="1.80" fill="#b8001e"/>
<circle cx="415.00" cy="287.50" r="1.80" fill="#1f9a48"/>
<circle cx="433.42" cy="328.85" r="1.90" fill="#fcbc0c"/>
<circle cx="438.42" cy="327.12" r="1.90" fill="#fcbc0c"/>
<circle cx="437.93" cy="321.43" r="1.90" fill="#fcbc0c"/>
<circle cx="427.89" cy="335.24" r="1.90" fill="#fcbc0c"/>
<circle cx="434.49" cy="320.56" r="1.90" fill="#fcbc0c"/>
<circle cx="426.49" cy="330.78" r="1.90" fill="#fcbc0c"/>
<circle cx="430.03" cy="329.18" r="1.90" fill="#fcbc0c"/>
<circle cx="425.99" cy="336.27" r="1.90" fill="#fcbc0c"/>
<circle cx="437.77" cy="320.03" r="1.90" fill="#fcbc0c"/>
<circle cx="426.60" cy="336.85" r="1.90" fill="#fcbc0c"/>
<circle cx="436.67" cy="319.61" r="1.90" fill="#fcbc0c"/>
<circle cx="428.01" cy="336.37" r="1.90" fill="#fcbc0c"/>
<circle cx="435.42" cy="327.55" r="1.90" fill="#fcbc0c"/>
<circle cx="430.33" cy="325.98" r="1.90" fill="#fcbc0c"/>
<circle cx="433.03" cy="324.42" r="1.90" fill="#fcbc0c"/>
<circle cx="432.57" cy="332.68" r="1.90" fill="#fcbc0c"/>
<circle cx="438.21" cy="328.23" r="1.90" fill="#fcbc0c"/>
<circle cx="427.63" cy="327.59" r="1.90" fill="#fcbc0c"/>
<circle cx="425.59" cy="336.62" r="1.90" fill="#fcbc0c"/>
<circle cx="423.63" cy="332.22" r="1.90" fill="#fcbc0c"/>
<circle cx="436.15" cy="322.42" r="1.90" fill="#fcbc0c"/>
<circle cx="431.36" cy="324.92" r="1.90" fill="#fcbc0c"/>
<circle cx="423.78" cy="330.67" r="1.90" fill="#fcbc0c"/>
<circle cx="427.90" cy="326.06" r="1.90" fill="#fcbc0c"/>
<circle cx="428.99" cy="324.63" r="1.90" fill="#fcbc0c"/>
<circle cx="431.69" cy="327.28" r="1.90" fill="#fcbc0c"/>
<circle cx="423.41" cy="331.66" r="1.90" fill="#fcbc0c"/>
<circle cx="432.48" cy="331.01" r="1.90" fill="#fcbc0c"/>
<circle cx="439.56" cy="326.59" r="1.90" fill="#fcbc0c"/>
<circle cx="436.44" cy="327.76" r="1.90" fill="#fcbc0c"/>
<circle cx="433.96" cy="330.93" r="1.90" fill="#fcbc0c"/>
<circle cx="435.13" cy="328.82" r="1.90" fill="#fcbc0c"/>
<circle cx="431.75" cy="324.65" r="1.90" fill="#fcbc0c"/>
<circle cx="430.75" cy="325.87" r="1.90" fill="#fcbc0c"/>
<circle cx="427.23" cy="333.08" r="1.90" fill="#fcbc0c"/>
<circle cx="424.93" cy="330.56" r="1.90" fill="#fcbc0c"/>
<circle cx="435.42" cy="329.94" r="1.90" fill="#fcbc0c"/>
<circle cx="428.91" cy="332.39" r="1.90" fill="#fcbc0c"/>
<circle cx="437.35" cy="323.10" r="1.90" fill="#fcbc0c"/>
<circle cx="434.70" cy="326.60" r="1.90" fill="#fcbc0c"/>
<circle cx="430.80" cy="323.05" r="1.90" fill="#fcbc0c"/>
<circle cx="421.53" cy="335.26" r="1.90" fill="#fcbc0c"/>
<circle cx="436.53" cy="323.78" r="1.90" fill="#fcbc0c"/>
<circle cx="427.48" cy="328.81" r="1.90" fill="#fcbc0c"/>
<circle cx="437.38" cy="327.54" r="1.90" fill="#fcbc0c"/>
<circle cx="422.55" cy="335.63" r="1.90" fill="#fcbc0c"/>
<circle cx="436.67" cy="326.47" r="1.90" fill="#fcbc0c"/>
<circle cx="426.18" cy="336.96" r="1.90" fill="#fcbc0c"/>
<circle cx="424.44" cy="334.48" r="1.90" fill="#fcbc0c"/>
<circle cx="429.20" cy="325.06" r="1.90" fill="#fcbc0c"/>
<circle cx="433.94" cy="332.18" r="1.90" fill="#fcbc0c"/>
<circle cx="436.40" cy="326.90" r="1.90" fill="#fcbc0c"/>
<circle cx="425.02" cy="329.34" r="1.90" fill="#fcbc0c"/>
<circle cx="427.12" cy="326.92" r="1.90" fill="#fcbc0c"/>
<circle cx="427.80" cy="329.72" r="1.90" fill="#fcbc0c"/>
<circle cx="422.09" cy="335.95" r="1.90" fill="#fcbc0c"/>
<circle cx="436.47" cy="324.78" r="1.90" fill="#fcbc0c"/>
<circle cx="430.06" cy="328.38" r="1.90" fill="#fcbc0c"/>
<circle cx="431.16" cy="332.67" r="1.90" fill="#fcbc0c"/>
<circle cx="428.22" cy="328.09" r="1.90" fill="#fcbc0c"/>
<circle cx="436.42" cy="321.72" r="1.90" fill="#fcbc0c"/>
<circle cx="439.17" cy="319.76" r="1.90" fill="#fcbc0c"/>
<circle cx="438.97" cy="317.74" r="1.90" fill="#fcbc0c"/>
<circle cx="434.44" cy="320.67" r="1.90" fill="#fcbc0c"/>
<circle cx="434.87" cy="322.13" r="1.90" fill="#fcbc0c"/>
<circle cx="438.15" cy="322.91" r="1.90" fill="#fcbc0c"/>
<circle cx="438.20" cy="322.10" r="1.90" fill="#fcbc0c"/>
<circle cx="434.40" cy="323.28" r="1.90" fill="#fcbc0c"/>
<circle cx="440.13" cy="321.35" r="1.90" fill="#fcbc0c"/>
<circle cx="440.25" cy="320.81" r="1.90" fill="#fcbc0c"/>
<circle cx="434.28" cy="321.12" r="1.90" fill="#fcbc0c"/>
<circle cx="436.57" cy="324.62" r="1.90" fill="#fcbc0c"/>
<circle cx="440.80" cy="317.11" r="1.80" fill="#b8001e"/>
<circle cx="441.87" cy="314.65" r="1.80" fill="#fcbc0c"/>
<circle cx="443.20" cy="312.81" r="1.80" fill="#b8001e"/>
<circle cx="444.98" cy="311.19" r="1.80" fill="#b8001e"/>
<circle cx="425.00" cy="328.00" r="1.80" fill="#b8001e"/>
<circle cx="428.00" cy="331.00" r="1.80" fill="#b8001e"/>
<circle cx="444.00" cy="314.00" r="1.80" fill="#b8001e"/>
<circle cx="446.00" cy="319.50" r="1.80" fill="#1f9a48"/>
<circle cx="446.50" cy="307.50" r="1.80" fill="#b8001e"/>
<circle cx="446.00" cy="305.00" r="1.80" fill="#1f9a48"/>
<circle cx="446.30" cy="303.00" r="1.80" fill="#1f9a48"/>
<circle cx="443.50" cy="311.50" r="1.80" fill="#fcbc0c"/>
<circle cx="441.00" cy="319.00" r="1.80" fill="#5e3a10"/>
<text x="381.50" y="204.10" font-size="6.2" textLength="86.80" lengthAdjust="spacingAndGlyphs">94.6% of E5-E33 <tspan font-style="italic">CBFB-MYH11</tspan></text>
<text x="381.50" y="211.20" font-size="6.2" textLength="83.10" lengthAdjust="spacingAndGlyphs">AMLs appear within this cluster</text>
<text x="381.50" y="218.40" font-size="6.2" textLength="62.20" lengthAdjust="spacingAndGlyphs">(compared to 37.0% of</text>
<text x="381.50" y="225.50" font-size="6.2" textLength="91.70" lengthAdjust="spacingAndGlyphs">non-E5-E33 <tspan font-style="italic">CBFB-MYH11</tspan> AMLs)</text>
<path d="M378.5 202.7 C373 205.5, 368 216, 366.8 240 L365.7 298.8" fill="none" stroke="#000" stroke-width="1.3" />
<path d="M361.9 295.3 L365.7 299.3 L369.6 295.3" fill="none" stroke="#000" stroke-width="1.3" />
<line x1="251.10" y1="390.90" x2="251.10" y2="449.90" stroke="#000" stroke-width="1.3" />
<line x1="248.20" y1="449.30" x2="281.10" y2="449.30" stroke="#000" stroke-width="1.3" />
<text x="246.10" y="452.00" font-size="7.6" text-anchor="end">0</text>
<line x1="248.20" y1="430.03" x2="251.10" y2="430.03" stroke="#000" stroke-width="1.0" />
<text x="246.10" y="432.73" font-size="7.6" text-anchor="end">100</text>
<line x1="248.20" y1="410.77" x2="251.10" y2="410.77" stroke="#000" stroke-width="1.0" />
<text x="246.10" y="413.47" font-size="7.6" text-anchor="end">200</text>
<line x1="248.20" y1="391.50" x2="251.10" y2="391.50" stroke="#000" stroke-width="1.0" />
<text x="246.10" y="394.20" font-size="7.6" text-anchor="end">300</text>
<path d="M259.70 441.98 C259.97 441.91 260.88 441.98 261.30 441.59 C261.72 441.21 261.97 440.63 262.20 439.67 C262.43 438.70 262.45 437.10 262.70 435.81 C262.95 434.53 263.43 433.08 263.70 431.96 C263.97 430.84 264.30 430.03 264.30 429.07 C264.30 428.11 263.93 427.30 263.70 426.18 C263.47 425.06 263.15 423.61 262.90 422.33 C262.65 421.04 262.43 419.76 262.20 418.47 C261.97 417.19 261.72 415.90 261.50 414.62 C261.28 413.34 261.07 412.37 260.90 410.77 C260.73 409.16 260.60 406.85 260.50 404.99 C260.40 403.12 260.43 400.56 260.30 399.59 C260.17 398.63 259.90 399.21 259.70 399.21 C259.50 399.21 259.23 398.63 259.10 399.59 C258.97 400.56 259.00 403.12 258.90 404.99 C258.80 406.85 258.67 409.16 258.50 410.77 C258.33 412.37 258.12 413.34 257.90 414.62 C257.68 415.90 257.43 417.19 257.20 418.47 C256.97 419.76 256.75 421.04 256.50 422.33 C256.25 423.61 255.93 425.06 255.70 426.18 C255.47 427.30 255.10 428.11 255.10 429.07 C255.10 430.03 255.43 430.84 255.70 431.96 C255.97 433.08 256.45 434.53 256.70 435.81 C256.95 437.10 256.97 438.70 257.20 439.67 C257.43 440.63 257.68 441.21 258.10 441.59 C258.52 441.98 259.43 441.91 259.70 441.98 Z" fill="#fff" stroke="#000" stroke-width="1.4" stroke-linejoin="round"/>
<line x1="256.80" y1="433.89" x2="262.60" y2="433.89" stroke="#333" stroke-width="0.6" />
<line x1="255.70" y1="429.07" x2="263.70" y2="429.07" stroke="#333" stroke-width="0.6" />
<line x1="257.10" y1="422.33" x2="262.30" y2="422.33" stroke="#333" stroke-width="0.6" />
<path d="M272.30 445.06 C272.63 444.96 273.80 444.90 274.30 444.48 C274.80 444.07 275.03 443.20 275.30 442.56 C275.57 441.91 275.97 441.43 275.90 440.63 C275.83 439.83 274.90 438.70 274.90 437.74 C274.90 436.78 275.80 435.81 275.90 434.85 C276.00 433.89 275.73 433.08 275.50 431.96 C275.27 430.84 274.77 429.13 274.50 428.11 C274.23 427.08 274.27 426.28 273.90 425.79 C273.53 425.31 272.83 425.22 272.30 425.22 C271.77 425.22 271.07 425.31 270.70 425.79 C270.33 426.28 270.37 427.08 270.10 428.11 C269.83 429.13 269.33 430.84 269.10 431.96 C268.87 433.08 268.60 433.89 268.70 434.85 C268.80 435.81 269.70 436.78 269.70 437.74 C269.70 438.70 268.77 439.83 268.70 440.63 C268.63 441.43 269.03 441.91 269.30 442.56 C269.57 443.20 269.80 444.07 270.30 444.48 C270.80 444.90 271.97 444.96 272.30 445.06 Z" fill="#fff" stroke="#000" stroke-width="1.4" stroke-linejoin="round"/>
<line x1="269.30" y1="440.63" x2="275.30" y2="440.63" stroke="#333" stroke-width="0.6" />
<line x1="269.97" y1="436.78" x2="274.63" y2="436.78" stroke="#333" stroke-width="0.6" />
<line x1="269.57" y1="432.92" x2="275.03" y2="432.92" stroke="#333" stroke-width="0.6" />
<line x1="259.70" y1="449.30" x2="259.70" y2="452.20" stroke="#000" stroke-width="1.0" />
<line x1="272.30" y1="449.30" x2="272.30" y2="452.20" stroke="#000" stroke-width="1.0" />
<text x="261.30" y="458.70" font-size="7.0" text-anchor="end" textLength="15.50" lengthAdjust="spacingAndGlyphs" transform="rotate(-45 261.30 458.70)">5–33</text>
<text x="273.90" y="458.70" font-size="7.0" text-anchor="end" textLength="17.00" lengthAdjust="spacingAndGlyphs" transform="rotate(-45 273.90 458.70)">Other</text>
<text transform="translate(266.10 479.20) scale(0.64 1)" text-anchor="middle" font-size="9.0" style="stroke-width:0.45px" fill="#111">LRRC33</text>
<line x1="259.70" y1="392.80" x2="272.30" y2="392.80" stroke="#000" stroke-width="1.4" />
<line x1="259.70" y1="391.70" x2="259.70" y2="394.10" stroke="#000" stroke-width="1.0" />
<line x1="272.30" y1="391.70" x2="272.30" y2="394.10" stroke="#000" stroke-width="1.0" />
<text x="266.00" y="392.30" font-size="6.0" text-anchor="middle" textLength="8.80" lengthAdjust="spacingAndGlyphs" style="stroke-width:0.3px">****</text>
<text transform="translate(231.40 420.90) rotate(-90) scale(0.7 1)" text-anchor="middle" font-size="8.6" style="stroke-width:0.45px" fill="#111">TPM</text>
<line x1="307.20" y1="390.90" x2="307.20" y2="449.90" stroke="#000" stroke-width="1.3" />
<line x1="304.30" y1="449.30" x2="337.20" y2="449.30" stroke="#000" stroke-width="1.3" />
<text x="302.20" y="452.00" font-size="7.6" text-anchor="end">0</text>
<line x1="304.30" y1="430.03" x2="307.20" y2="430.03" stroke="#000" stroke-width="1.0" />
<text x="302.20" y="432.73" font-size="7.6" text-anchor="end">20</text>
<line x1="304.30" y1="410.77" x2="307.20" y2="410.77" stroke="#000" stroke-width="1.0" />
<text x="302.20" y="413.47" font-size="7.6" text-anchor="end">40</text>
<line x1="304.30" y1="391.50" x2="307.20" y2="391.50" stroke="#000" stroke-width="1.0" />
<text x="302.20" y="394.20" font-size="7.6" text-anchor="end">60</text>
<path d="M315.80 443.52 C316.05 443.36 316.88 443.20 317.30 442.56 C317.72 441.91 317.92 440.95 318.30 439.67 C318.68 438.38 319.25 436.46 319.60 434.85 C319.95 433.24 320.37 431.64 320.40 430.03 C320.43 428.43 320.15 426.82 319.80 425.22 C319.45 423.61 318.73 422.01 318.30 420.40 C317.87 418.79 317.48 417.99 317.20 415.58 C316.92 413.18 316.72 408.52 316.60 405.95 C316.48 403.38 316.63 401.29 316.50 400.17 C316.37 399.05 316.03 399.21 315.80 399.21 C315.57 399.21 315.23 399.05 315.10 400.17 C314.97 401.29 315.12 403.38 315.00 405.95 C314.88 408.52 314.68 413.18 314.40 415.58 C314.12 417.99 313.73 418.79 313.30 420.40 C312.87 422.01 312.15 423.61 311.80 425.22 C311.45 426.82 311.17 428.43 311.20 430.03 C311.23 431.64 311.65 433.24 312.00 434.85 C312.35 436.46 312.92 438.38 313.30 439.67 C313.68 440.95 313.88 441.91 314.30 442.56 C314.72 443.20 315.55 443.36 315.80 443.52 Z" fill="#fff" stroke="#000" stroke-width="1.4" stroke-linejoin="round"/>
<line x1="312.44" y1="433.89" x2="319.16" y2="433.89" stroke="#333" stroke-width="0.6" />
<line x1="311.92" y1="429.07" x2="319.68" y2="429.07" stroke="#333" stroke-width="0.6" />
<line x1="312.70" y1="424.25" x2="318.90" y2="424.25" stroke="#333" stroke-width="0.6" />
<path d="M328.40 449.30 C328.57 449.14 329.07 449.14 329.40 448.34 C329.73 447.53 330.07 445.93 330.40 444.48 C330.73 443.04 331.10 441.27 331.40 439.67 C331.70 438.06 332.23 436.46 332.20 434.85 C332.17 433.24 331.47 431.64 331.20 430.03 C330.93 428.43 330.87 426.82 330.60 425.22 C330.33 423.61 329.83 422.49 329.60 420.40 C329.37 418.31 329.40 414.30 329.20 412.69 C329.00 411.09 328.67 410.77 328.40 410.77 C328.13 410.77 327.80 411.09 327.60 412.69 C327.40 414.30 327.43 418.31 327.20 420.40 C326.97 422.49 326.47 423.61 326.20 425.22 C325.93 426.82 325.87 428.43 325.60 430.03 C325.33 431.64 324.63 433.24 324.60 434.85 C324.57 436.46 325.10 438.06 325.40 439.67 C325.70 441.27 326.07 443.04 326.40 444.48 C326.73 445.93 327.07 447.53 327.40 448.34 C327.73 449.14 328.23 449.14 328.40 449.30 Z" fill="#fff" stroke="#000" stroke-width="1.4" stroke-linejoin="round"/>
<line x1="326.40" y1="441.59" x2="330.40" y2="441.59" stroke="#333" stroke-width="0.6" />
<line x1="325.36" y1="435.81" x2="331.44" y2="435.81" stroke="#333" stroke-width="0.6" />
<line x1="325.80" y1="431.96" x2="331.00" y2="431.96" stroke="#333" stroke-width="0.6" />
<line x1="315.80" y1="449.30" x2="315.80" y2="452.20" stroke="#000" stroke-width="1.0" />
<line x1="328.40" y1="449.30" x2="328.40" y2="452.20" stroke="#000" stroke-width="1.0" />
<text x="317.40" y="458.70" font-size="7.0" text-anchor="end" textLength="15.50" lengthAdjust="spacingAndGlyphs" transform="rotate(-45 317.40 458.70)">5–33</text>
<text x="330.00" y="458.70" font-size="7.0" text-anchor="end" textLength="17.00" lengthAdjust="spacingAndGlyphs" transform="rotate(-45 330.00 458.70)">Other</text>
<text transform="translate(322.20 479.20) scale(0.64 1)" text-anchor="middle" font-size="9.0" style="stroke-width:0.45px" fill="#111">JAG1</text>
<line x1="315.80" y1="392.80" x2="328.40" y2="392.80" stroke="#000" stroke-width="1.4" />
<line x1="315.80" y1="391.70" x2="315.80" y2="394.10" stroke="#000" stroke-width="1.0" />
<line x1="328.40" y1="391.70" x2="328.40" y2="394.10" stroke="#000" stroke-width="1.0" />
<text x="322.10" y="392.30" font-size="6.0" text-anchor="middle" textLength="6.60" lengthAdjust="spacingAndGlyphs" style="stroke-width:0.3px">***</text>
<line x1="364.20" y1="390.90" x2="364.20" y2="449.90" stroke="#000" stroke-width="1.3" />
<line x1="361.30" y1="449.30" x2="394.20" y2="449.30" stroke="#000" stroke-width="1.3" />
<text x="359.20" y="452.00" font-size="7.6" text-anchor="end">0</text>
<line x1="361.30" y1="434.85" x2="364.20" y2="434.85" stroke="#000" stroke-width="1.0" />
<text x="359.20" y="437.55" font-size="7.6" text-anchor="end">20</text>
<line x1="361.30" y1="420.40" x2="364.20" y2="420.40" stroke="#000" stroke-width="1.0" />
<text x="359.20" y="423.10" font-size="7.6" text-anchor="end">40</text>
<line x1="361.30" y1="405.95" x2="364.20" y2="405.95" stroke="#000" stroke-width="1.0" />
<text x="359.20" y="408.65" font-size="7.6" text-anchor="end">60</text>
<line x1="361.30" y1="391.50" x2="364.20" y2="391.50" stroke="#000" stroke-width="1.0" />
<text x="359.20" y="394.20" font-size="7.6" text-anchor="end">80</text>
<path d="M372.80 433.41 C373.13 433.28 374.25 433.28 374.80 432.68 C375.35 432.08 375.80 430.88 376.10 429.79 C376.40 428.71 376.40 427.50 376.60 426.18 C376.80 424.86 377.35 423.41 377.30 421.85 C377.25 420.28 376.68 418.47 376.30 416.79 C375.92 415.10 375.38 413.54 375.00 411.73 C374.62 409.92 374.27 408.12 374.00 405.95 C373.73 403.78 373.60 400.17 373.40 398.73 C373.20 397.28 373.00 397.28 372.80 397.28 C372.60 397.28 372.40 397.28 372.20 398.73 C372.00 400.17 371.87 403.78 371.60 405.95 C371.33 408.12 370.98 409.92 370.60 411.73 C370.22 413.54 369.68 415.10 369.30 416.79 C368.92 418.47 368.35 420.28 368.30 421.85 C368.25 423.41 368.80 424.86 369.00 426.18 C369.20 427.50 369.20 428.71 369.50 429.79 C369.80 430.88 370.25 432.08 370.80 432.68 C371.35 433.28 372.47 433.28 372.80 433.41 Z" fill="#fff" stroke="#000" stroke-width="1.4" stroke-linejoin="round"/>
<line x1="369.80" y1="427.62" x2="375.80" y2="427.62" stroke="#333" stroke-width="0.6" />
<line x1="369.02" y1="422.57" x2="376.58" y2="422.57" stroke="#333" stroke-width="0.6" />
<line x1="369.47" y1="418.95" x2="376.13" y2="418.95" stroke="#333" stroke-width="0.6" />
<path d="M385.40 436.30 C385.57 436.05 386.07 435.69 386.40 434.85 C386.73 434.01 386.90 432.68 387.40 431.24 C387.90 429.79 389.23 427.75 389.40 426.18 C389.57 424.61 388.82 423.05 388.40 421.85 C387.98 420.64 387.40 419.56 386.90 418.95 C386.40 418.35 385.90 418.23 385.40 418.23 C384.90 418.23 384.40 418.35 383.90 418.95 C383.40 419.56 382.82 420.64 382.40 421.85 C381.98 423.05 381.23 424.61 381.40 426.18 C381.57 427.75 382.90 429.79 383.40 431.24 C383.90 432.68 384.07 434.01 384.40 434.85 C384.73 435.69 385.23 436.05 385.40 436.30 Z" fill="#fff" stroke="#000" stroke-width="1.4" stroke-linejoin="round"/>
<line x1="383.14" y1="429.07" x2="387.66" y2="429.07" stroke="#333" stroke-width="0.6" />
<line x1="382.00" y1="426.18" x2="388.80" y2="426.18" stroke="#333" stroke-width="0.6" />
<line x1="382.50" y1="424.01" x2="388.30" y2="424.01" stroke="#333" stroke-width="0.6" />
<line x1="372.80" y1="449.30" x2="372.80" y2="452.20" stroke="#000" stroke-width="1.0" />
<line x1="385.40" y1="449.30" x2="385.40" y2="452.20" stroke="#000" stroke-width="1.0" />
<text x="374.40" y="458.70" font-size="7.0" text-anchor="end" textLength="15.50" lengthAdjust="spacingAndGlyphs" transform="rotate(-45 374.40 458.70)">5–33</text>
<text x="387.00" y="458.70" font-size="7.0" text-anchor="end" textLength="17.00" lengthAdjust="spacingAndGlyphs" transform="rotate(-45 387.00 458.70)">Other</text>
<text transform="translate(379.20 479.20) scale(0.64 1)" text-anchor="middle" font-size="9.0" style="stroke-width:0.45px" fill="#111">MKRN2</text>
<line x1="372.80" y1="392.80" x2="385.40" y2="392.80" stroke="#000" stroke-width="1.4" />
<line x1="372.80" y1="391.70" x2="372.80" y2="394.10" stroke="#000" stroke-width="1.0" />
<line x1="385.40" y1="391.70" x2="385.40" y2="394.10" stroke="#000" stroke-width="1.0" />
<text x="379.10" y="392.30" font-size="6.0" text-anchor="middle" textLength="4.40" lengthAdjust="spacingAndGlyphs" style="stroke-width:0.3px">**</text>
<line x1="420.00" y1="390.90" x2="420.00" y2="449.90" stroke="#000" stroke-width="1.3" />
<line x1="417.10" y1="449.30" x2="450.00" y2="449.30" stroke="#000" stroke-width="1.3" />
<text x="415.00" y="452.00" font-size="7.6" text-anchor="end">0</text>
<line x1="417.10" y1="430.03" x2="420.00" y2="430.03" stroke="#000" stroke-width="1.0" />
<text x="415.00" y="432.73" font-size="7.6" text-anchor="end">20</text>
<line x1="417.10" y1="410.77" x2="420.00" y2="410.77" stroke="#000" stroke-width="1.0" />
<text x="415.00" y="413.47" font-size="7.6" text-anchor="end">40</text>
<line x1="417.10" y1="391.50" x2="420.00" y2="391.50" stroke="#000" stroke-width="1.0" />
<text x="415.00" y="394.20" font-size="7.6" text-anchor="end">60</text>
<path d="M428.60 443.52 C428.85 443.36 429.67 443.20 430.10 442.56 C430.53 441.91 430.78 440.95 431.20 439.67 C431.62 438.38 432.47 436.30 432.60 434.85 C432.73 433.41 432.23 432.28 432.00 431.00 C431.77 429.71 431.27 428.43 431.20 427.14 C431.13 425.86 431.70 424.41 431.60 423.29 C431.50 422.17 430.95 421.36 430.60 420.40 C430.25 419.44 429.75 419.12 429.50 417.51 C429.25 415.90 429.17 414.78 429.10 410.77 C429.03 406.75 429.18 396.40 429.10 393.43 C429.02 390.46 428.77 392.94 428.60 392.94 C428.43 392.94 428.18 390.46 428.10 393.43 C428.02 396.40 428.17 406.75 428.10 410.77 C428.03 414.78 427.95 415.90 427.70 417.51 C427.45 419.12 426.95 419.44 426.60 420.40 C426.25 421.36 425.70 422.17 425.60 423.29 C425.50 424.41 426.07 425.86 426.00 427.14 C425.93 428.43 425.43 429.71 425.20 431.00 C424.97 432.28 424.47 433.41 424.60 434.85 C424.73 436.30 425.58 438.38 426.00 439.67 C426.42 440.95 426.67 441.91 427.10 442.56 C427.53 443.20 428.35 443.36 428.60 443.52 Z" fill="#fff" stroke="#000" stroke-width="1.4" stroke-linejoin="round"/>
<line x1="426.04" y1="437.74" x2="431.16" y2="437.74" stroke="#333" stroke-width="0.6" />
<line x1="425.50" y1="432.92" x2="431.70" y2="432.92" stroke="#333" stroke-width="0.6" />
<line x1="426.50" y1="426.18" x2="430.70" y2="426.18" stroke="#333" stroke-width="0.6" />
<path d="M441.20 441.59 C441.63 441.43 443.30 441.11 443.80 440.63 C444.30 440.15 444.00 439.51 444.20 438.70 C444.40 437.90 445.13 436.78 445.00 435.81 C444.87 434.85 443.83 433.89 443.40 432.92 C442.97 431.96 442.45 431.00 442.40 430.03 C442.35 429.07 443.13 427.95 443.10 427.14 C443.07 426.34 442.40 426.02 442.20 425.22 C442.00 424.41 441.97 423.13 441.90 422.33 C441.83 421.52 441.92 420.80 441.80 420.40 C441.68 420.00 441.40 419.92 441.20 419.92 C441.00 419.92 440.72 420.00 440.60 420.40 C440.48 420.80 440.57 421.52 440.50 422.33 C440.43 423.13 440.40 424.41 440.20 425.22 C440.00 426.02 439.33 426.34 439.30 427.14 C439.27 427.95 440.05 429.07 440.00 430.03 C439.95 431.00 439.43 431.96 439.00 432.92 C438.57 433.89 437.53 434.85 437.40 435.81 C437.27 436.78 438.00 437.90 438.20 438.70 C438.40 439.51 438.10 440.15 438.60 440.63 C439.10 441.11 440.77 441.43 441.20 441.59 Z" fill="#fff" stroke="#000" stroke-width="1.4" stroke-linejoin="round"/>
<line x1="438.80" y1="438.70" x2="443.60" y2="438.70" stroke="#333" stroke-width="0.6" />
<line x1="438.27" y1="436.78" x2="444.13" y2="436.78" stroke="#333" stroke-width="0.6" />
<line x1="439.07" y1="433.89" x2="443.33" y2="433.89" stroke="#333" stroke-width="0.6" />
<line x1="428.60" y1="449.30" x2="428.60" y2="452.20" stroke="#000" stroke-width="1.0" />
<line x1="441.20" y1="449.30" x2="441.20" y2="452.20" stroke="#000" stroke-width="1.0" />
<text x="430.20" y="458.70" font-size="7.0" text-anchor="end" textLength="15.50" lengthAdjust="spacingAndGlyphs" transform="rotate(-45 430.20 458.70)">5–33</text>
<text x="442.80" y="458.70" font-size="7.0" text-anchor="end" textLength="17.00" lengthAdjust="spacingAndGlyphs" transform="rotate(-45 442.80 458.70)">Other</text>
<text transform="translate(435.00 479.20) scale(0.64 1)" text-anchor="middle" font-size="9.0" style="stroke-width:0.45px" fill="#111">BCOR</text>
<line x1="428.60" y1="392.80" x2="441.20" y2="392.80" stroke="#000" stroke-width="1.4" />
<line x1="428.60" y1="391.70" x2="428.60" y2="394.10" stroke="#000" stroke-width="1.0" />
<line x1="441.20" y1="391.70" x2="441.20" y2="394.10" stroke="#000" stroke-width="1.0" />
<text x="434.90" y="392.30" font-size="6.0" text-anchor="middle" textLength="4.40" lengthAdjust="spacingAndGlyphs" style="stroke-width:0.3px">**</text>
<line x1="475.40" y1="390.90" x2="475.40" y2="449.90" stroke="#000" stroke-width="1.3" />
<line x1="472.50" y1="449.30" x2="505.40" y2="449.30" stroke="#000" stroke-width="1.3" />
<text x="470.40" y="452.00" font-size="7.6" text-anchor="end">0</text>
<line x1="472.50" y1="430.03" x2="475.40" y2="430.03" stroke="#000" stroke-width="1.0" />
<text x="470.40" y="432.73" font-size="7.6" text-anchor="end">20</text>
<line x1="472.50" y1="410.77" x2="475.40" y2="410.77" stroke="#000" stroke-width="1.0" />
<text x="470.40" y="413.47" font-size="7.6" text-anchor="end">40</text>
<line x1="472.50" y1="391.50" x2="475.40" y2="391.50" stroke="#000" stroke-width="1.0" />
<text x="470.40" y="394.20" font-size="7.6" text-anchor="end">60</text>
<path d="M484.00 440.63 C484.17 440.47 484.75 440.63 485.00 439.67 C485.25 438.70 485.25 436.46 485.50 434.85 C485.75 433.24 486.22 431.64 486.50 430.03 C486.78 428.43 486.87 426.66 487.20 425.22 C487.53 423.77 488.45 422.65 488.50 421.36 C488.55 420.08 488.00 418.95 487.50 417.51 C487.00 416.06 485.95 414.14 485.50 412.69 C485.05 411.25 484.92 410.77 484.80 408.84 C484.68 406.91 484.83 402.90 484.80 401.13 C484.77 399.37 484.73 398.89 484.60 398.24 C484.47 397.60 484.20 397.28 484.00 397.28 C483.80 397.28 483.53 397.60 483.40 398.24 C483.27 398.89 483.23 399.37 483.20 401.13 C483.17 402.90 483.32 406.91 483.20 408.84 C483.08 410.77 482.95 411.25 482.50 412.69 C482.05 414.14 481.00 416.06 480.50 417.51 C480.00 418.95 479.45 420.08 479.50 421.36 C479.55 422.65 480.47 423.77 480.80 425.22 C481.13 426.66 481.22 428.43 481.50 430.03 C481.78 431.64 482.25 433.24 482.50 434.85 C482.75 436.46 482.75 438.70 483.00 439.67 C483.25 440.63 483.83 440.47 484.00 440.63 Z" fill="#fff" stroke="#000" stroke-width="1.4" stroke-linejoin="round"/>
<line x1="481.82" y1="428.11" x2="486.18" y2="428.11" stroke="#333" stroke-width="0.6" />
<line x1="480.43" y1="422.33" x2="487.57" y2="422.33" stroke="#333" stroke-width="0.6" />
<line x1="480.35" y1="420.40" x2="487.65" y2="420.40" stroke="#333" stroke-width="0.6" />
<path d="M496.60 442.56 C496.93 442.40 498.07 442.40 498.60 441.59 C499.13 440.79 499.50 439.35 499.80 437.74 C500.10 436.13 500.33 433.73 500.40 431.96 C500.47 430.19 500.50 428.59 500.20 427.14 C499.90 425.70 498.83 424.74 498.60 423.29 C498.37 421.85 498.83 419.92 498.80 418.47 C498.77 417.03 498.63 415.90 498.40 414.62 C498.17 413.34 497.60 412.21 497.40 410.77 C497.20 409.32 497.33 406.91 497.20 405.95 C497.07 404.99 496.80 404.99 496.60 404.99 C496.40 404.99 496.13 404.99 496.00 405.95 C495.87 406.91 496.00 409.32 495.80 410.77 C495.60 412.21 495.03 413.34 494.80 414.62 C494.57 415.90 494.43 417.03 494.40 418.47 C494.37 419.92 494.83 421.85 494.60 423.29 C494.37 424.74 493.30 425.70 493.00 427.14 C492.70 428.59 492.73 430.19 492.80 431.96 C492.87 433.73 493.10 436.13 493.40 437.74 C493.70 439.35 494.07 440.79 494.60 441.59 C495.13 442.40 496.27 442.40 496.60 442.56 Z" fill="#fff" stroke="#000" stroke-width="1.4" stroke-linejoin="round"/>
<line x1="494.00" y1="437.74" x2="499.20" y2="437.74" stroke="#333" stroke-width="0.6" />
<line x1="493.48" y1="430.03" x2="499.72" y2="430.03" stroke="#333" stroke-width="0.6" />
<line x1="495.20" y1="423.29" x2="498.00" y2="423.29" stroke="#333" stroke-width="0.6" />
<line x1="484.00" y1="449.30" x2="484.00" y2="452.20" stroke="#000" stroke-width="1.0" />
<line x1="496.60" y1="449.30" x2="496.60" y2="452.20" stroke="#000" stroke-width="1.0" />
<text x="485.60" y="458.70" font-size="7.0" text-anchor="end" textLength="15.50" lengthAdjust="spacingAndGlyphs" transform="rotate(-45 485.60 458.70)">5–33</text>
<text x="498.20" y="458.70" font-size="7.0" text-anchor="end" textLength="17.00" lengthAdjust="spacingAndGlyphs" transform="rotate(-45 498.20 458.70)">Other</text>
<text transform="translate(490.40 479.20) scale(0.64 1)" text-anchor="middle" font-size="9.0" style="stroke-width:0.45px" fill="#111">DEGS1</text>
<line x1="484.00" y1="392.80" x2="496.60" y2="392.80" stroke="#000" stroke-width="1.4" />
<line x1="484.00" y1="391.70" x2="484.00" y2="394.10" stroke="#000" stroke-width="1.0" />
<line x1="496.60" y1="391.70" x2="496.60" y2="394.10" stroke="#000" stroke-width="1.0" />
<text x="490.30" y="392.30" font-size="6.0" text-anchor="middle" textLength="4.40" lengthAdjust="spacingAndGlyphs" style="stroke-width:0.3px">**</text>
<line x1="251.10" y1="493.90" x2="251.10" y2="552.90" stroke="#000" stroke-width="1.3" />
<line x1="248.20" y1="552.30" x2="281.10" y2="552.30" stroke="#000" stroke-width="1.3" />
<text x="246.10" y="555.00" font-size="7.6" text-anchor="end">0</text>
<line x1="248.20" y1="537.85" x2="251.10" y2="537.85" stroke="#000" stroke-width="1.0" />
<text x="246.10" y="540.55" font-size="7.6" text-anchor="end">10</text>
<line x1="248.20" y1="523.40" x2="251.10" y2="523.40" stroke="#000" stroke-width="1.0" />
<text x="246.10" y="526.10" font-size="7.6" text-anchor="end">20</text>
<line x1="248.20" y1="508.95" x2="251.10" y2="508.95" stroke="#000" stroke-width="1.0" />
<text x="246.10" y="511.65" font-size="7.6" text-anchor="end">30</text>
<line x1="248.20" y1="494.50" x2="251.10" y2="494.50" stroke="#000" stroke-width="1.0" />
<text x="246.10" y="497.20" font-size="7.6" text-anchor="end">40</text>
<path d="M259.70 549.41 C260.12 549.17 261.53 548.69 262.20 547.96 C262.87 547.24 263.40 546.04 263.70 545.07 C264.00 544.11 264.08 543.15 264.00 542.18 C263.92 541.22 263.58 540.26 263.20 539.29 C262.82 538.33 262.08 537.61 261.70 536.40 C261.32 535.20 261.13 534.24 260.90 532.07 C260.67 529.90 260.42 527.25 260.30 523.40 C260.18 519.55 260.25 513.04 260.20 508.95 C260.15 504.86 260.08 500.64 260.00 498.83 C259.92 497.03 259.80 498.11 259.70 498.11 C259.60 498.11 259.48 497.03 259.40 498.83 C259.32 500.64 259.25 504.86 259.20 508.95 C259.15 513.04 259.22 519.55 259.10 523.40 C258.98 527.25 258.73 529.90 258.50 532.07 C258.27 534.24 258.08 535.20 257.70 536.40 C257.32 537.61 256.58 538.33 256.20 539.29 C255.82 540.26 255.48 541.22 255.40 542.18 C255.32 543.15 255.40 544.11 255.70 545.07 C256.00 546.04 256.53 547.24 257.20 547.96 C257.87 548.69 259.28 549.17 259.70 549.41 Z" fill="#fff" stroke="#000" stroke-width="1.4" stroke-linejoin="round"/>
<line x1="256.68" y1="545.80" x2="262.72" y2="545.80" stroke="#333" stroke-width="0.6" />
<line x1="256.08" y1="542.91" x2="263.32" y2="542.91" stroke="#333" stroke-width="0.6" />
<line x1="256.60" y1="540.02" x2="262.80" y2="540.02" stroke="#333" stroke-width="0.6" />
<path d="M272.30 549.41 C272.88 549.17 275.17 548.69 275.80 547.96 C276.43 547.24 276.27 546.28 276.10 545.07 C275.93 543.87 275.18 542.43 274.80 540.74 C274.42 539.05 274.05 536.89 273.80 534.96 C273.55 533.03 273.45 531.35 273.30 529.18 C273.15 527.01 273.07 523.40 272.90 521.95 C272.73 520.51 272.50 520.51 272.30 520.51 C272.10 520.51 271.87 520.51 271.70 521.95 C271.53 523.40 271.45 527.01 271.30 529.18 C271.15 531.35 271.05 533.03 270.80 534.96 C270.55 536.89 270.18 539.05 269.80 540.74 C269.42 542.43 268.67 543.87 268.50 545.07 C268.33 546.28 268.17 547.24 268.80 547.96 C269.43 548.69 271.72 549.17 272.30 549.41 Z" fill="#fff" stroke="#000" stroke-width="1.4" stroke-linejoin="round"/>
<line x1="269.40" y1="547.96" x2="275.20" y2="547.96" stroke="#333" stroke-width="0.6" />
<line x1="269.10" y1="545.07" x2="275.50" y2="545.07" stroke="#333" stroke-width="0.6" />
<line x1="270.90" y1="537.85" x2="273.70" y2="537.85" stroke="#333" stroke-width="0.6" />
<line x1="259.70" y1="552.30" x2="259.70" y2="555.20" stroke="#000" stroke-width="1.0" />
<line x1="272.30" y1="552.30" x2="272.30" y2="555.20" stroke="#000" stroke-width="1.0" />
<text x="261.30" y="561.70" font-size="7.0" text-anchor="end" textLength="15.50" lengthAdjust="spacingAndGlyphs" transform="rotate(-45 261.30 561.70)">5–33</text>
<text x="273.90" y="561.70" font-size="7.0" text-anchor="end" textLength="17.00" lengthAdjust="spacingAndGlyphs" transform="rotate(-45 273.90 561.70)">Other</text>
<text transform="translate(266.10 582.20) scale(0.64 1)" text-anchor="middle" font-size="9.0" style="stroke-width:0.45px" fill="#111">ID1</text>
<line x1="259.70" y1="495.80" x2="272.30" y2="495.80" stroke="#000" stroke-width="1.4" />
<line x1="259.70" y1="494.70" x2="259.70" y2="497.10" stroke="#000" stroke-width="1.0" />
<line x1="272.30" y1="494.70" x2="272.30" y2="497.10" stroke="#000" stroke-width="1.0" />
<text x="266.00" y="495.30" font-size="6.0" text-anchor="middle" textLength="2.20" lengthAdjust="spacingAndGlyphs" style="stroke-width:0.3px">*</text>
<text transform="translate(231.40 523.90) rotate(-90) scale(0.7 1)" text-anchor="middle" font-size="8.6" style="stroke-width:0.45px" fill="#111">TPM</text>
<line x1="307.20" y1="493.90" x2="307.20" y2="552.90" stroke="#000" stroke-width="1.3" />
<line x1="304.30" y1="552.30" x2="337.20" y2="552.30" stroke="#000" stroke-width="1.3" />
<text x="302.20" y="555.00" font-size="7.6" text-anchor="end">0</text>
<line x1="304.30" y1="540.74" x2="307.20" y2="540.74" stroke="#000" stroke-width="1.0" />
<text x="302.20" y="543.44" font-size="7.6" text-anchor="end">10</text>
<line x1="304.30" y1="529.18" x2="307.20" y2="529.18" stroke="#000" stroke-width="1.0" />
<text x="302.20" y="531.88" font-size="7.6" text-anchor="end">20</text>
<line x1="304.30" y1="517.62" x2="307.20" y2="517.62" stroke="#000" stroke-width="1.0" />
<text x="302.20" y="520.32" font-size="7.6" text-anchor="end">30</text>
<line x1="304.30" y1="506.06" x2="307.20" y2="506.06" stroke="#000" stroke-width="1.0" />
<text x="302.20" y="508.76" font-size="7.6" text-anchor="end">40</text>
<line x1="304.30" y1="494.50" x2="307.20" y2="494.50" stroke="#000" stroke-width="1.0" />
<text x="302.20" y="497.20" font-size="7.6" text-anchor="end">50</text>
<path d="M315.80 545.36 C316.05 545.17 316.80 544.98 317.30 544.21 C317.80 543.44 318.30 542.28 318.80 540.74 C319.30 539.20 320.02 536.89 320.30 534.96 C320.58 533.03 320.67 531.30 320.50 529.18 C320.33 527.06 319.75 524.56 319.30 522.24 C318.85 519.93 318.22 517.23 317.80 515.31 C317.38 513.38 317.02 512.23 316.80 510.68 C316.58 509.14 316.67 506.93 316.50 506.06 C316.33 505.19 316.03 505.48 315.80 505.48 C315.57 505.48 315.27 505.19 315.10 506.06 C314.93 506.93 315.02 509.14 314.80 510.68 C314.58 512.23 314.22 513.38 313.80 515.31 C313.38 517.23 312.75 519.93 312.30 522.24 C311.85 524.56 311.27 527.06 311.10 529.18 C310.93 531.30 311.02 533.03 311.30 534.96 C311.58 536.89 312.30 539.20 312.80 540.74 C313.30 542.28 313.80 543.44 314.30 544.21 C314.80 544.98 315.55 545.17 315.80 545.36 Z" fill="#fff" stroke="#000" stroke-width="1.4" stroke-linejoin="round"/>
<line x1="312.50" y1="537.27" x2="319.10" y2="537.27" stroke="#333" stroke-width="0.6" />
<line x1="311.78" y1="531.49" x2="319.82" y2="531.49" stroke="#333" stroke-width="0.6" />
<line x1="312.90" y1="522.24" x2="318.70" y2="522.24" stroke="#333" stroke-width="0.6" />
<path d="M328.40 551.14 C328.57 550.76 329.07 550.18 329.40 548.83 C329.73 547.48 330.07 544.79 330.40 543.05 C330.73 541.32 331.13 539.58 331.40 538.43 C331.67 537.27 332.08 537.27 332.00 536.12 C331.92 534.96 331.25 533.42 330.90 531.49 C330.55 529.57 330.15 526.87 329.90 524.56 C329.65 522.24 329.53 519.74 329.40 517.62 C329.27 515.50 329.27 513.00 329.10 511.84 C328.93 510.68 328.63 510.68 328.40 510.68 C328.17 510.68 327.87 510.68 327.70 511.84 C327.53 513.00 327.53 515.50 327.40 517.62 C327.27 519.74 327.15 522.24 326.90 524.56 C326.65 526.87 326.25 529.57 325.90 531.49 C325.55 533.42 324.88 534.96 324.80 536.12 C324.72 537.27 325.13 537.27 325.40 538.43 C325.67 539.58 326.07 541.32 326.40 543.05 C326.73 544.79 327.07 547.48 327.40 548.83 C327.73 550.18 328.23 550.76 328.40 551.14 Z" fill="#fff" stroke="#000" stroke-width="1.4" stroke-linejoin="round"/>
<line x1="326.50" y1="540.74" x2="330.30" y2="540.74" stroke="#333" stroke-width="0.6" />
<line x1="325.40" y1="536.12" x2="331.40" y2="536.12" stroke="#333" stroke-width="0.6" />
<line x1="327.17" y1="526.87" x2="329.63" y2="526.87" stroke="#333" stroke-width="0.6" />
<line x1="315.80" y1="552.30" x2="315.80" y2="555.20" stroke="#000" stroke-width="1.0" />
<line x1="328.40" y1="552.30" x2="328.40" y2="555.20" stroke="#000" stroke-width="1.0" />
<text x="317.40" y="561.70" font-size="7.0" text-anchor="end" textLength="15.50" lengthAdjust="spacingAndGlyphs" transform="rotate(-45 317.40 561.70)">5–33</text>
<text x="330.00" y="561.70" font-size="7.0" text-anchor="end" textLength="17.00" lengthAdjust="spacingAndGlyphs" transform="rotate(-45 330.00 561.70)">Other</text>
<text transform="translate(322.20 582.20) scale(0.64 1)" text-anchor="middle" font-size="9.0" style="stroke-width:0.45px" fill="#111">KEAP1</text>
<line x1="315.80" y1="495.80" x2="328.40" y2="495.80" stroke="#000" stroke-width="1.4" />
<line x1="315.80" y1="494.70" x2="315.80" y2="497.10" stroke="#000" stroke-width="1.0" />
<line x1="328.40" y1="494.70" x2="328.40" y2="497.10" stroke="#000" stroke-width="1.0" />
<text x="322.10" y="495.30" font-size="6.0" text-anchor="middle" textLength="2.20" lengthAdjust="spacingAndGlyphs" style="stroke-width:0.3px">*</text>
<line x1="364.20" y1="493.90" x2="364.20" y2="552.90" stroke="#000" stroke-width="1.3" />
<line x1="361.30" y1="552.30" x2="394.20" y2="552.30" stroke="#000" stroke-width="1.3" />
<text x="359.20" y="555.00" font-size="7.6" text-anchor="end">0</text>
<line x1="361.30" y1="533.03" x2="364.20" y2="533.03" stroke="#000" stroke-width="1.0" />
<text x="359.20" y="535.73" font-size="7.6" text-anchor="end">100</text>
<line x1="361.30" y1="513.77" x2="364.20" y2="513.77" stroke="#000" stroke-width="1.0" />
<text x="359.20" y="516.47" font-size="7.6" text-anchor="end">200</text>
<line x1="361.30" y1="494.50" x2="364.20" y2="494.50" stroke="#000" stroke-width="1.0" />
<text x="359.20" y="497.20" font-size="7.6" text-anchor="end">300</text>
<path d="M372.80 544.59 C373.30 544.53 375.22 544.85 375.80 544.21 C376.38 543.57 376.17 541.96 376.30 540.74 C376.43 539.52 376.48 538.49 376.60 536.89 C376.72 535.28 377.00 532.71 377.00 531.11 C377.00 529.50 376.80 528.54 376.60 527.25 C376.40 525.97 376.02 524.68 375.80 523.40 C375.58 522.12 375.60 520.83 375.30 519.55 C375.00 518.26 374.30 517.30 374.00 515.69 C373.70 514.09 373.60 512.42 373.50 509.91 C373.40 507.41 373.52 502.27 373.40 500.67 C373.28 499.06 373.00 500.28 372.80 500.28 C372.60 500.28 372.32 499.06 372.20 500.67 C372.08 502.27 372.20 507.41 372.10 509.91 C372.00 512.42 371.90 514.09 371.60 515.69 C371.30 517.30 370.60 518.26 370.30 519.55 C370.00 520.83 370.02 522.12 369.80 523.40 C369.58 524.68 369.20 525.97 369.00 527.25 C368.80 528.54 368.60 529.50 368.60 531.11 C368.60 532.71 368.88 535.28 369.00 536.89 C369.12 538.49 369.17 539.52 369.30 540.74 C369.43 541.96 369.22 543.57 369.80 544.21 C370.38 544.85 372.30 544.53 372.80 544.59 Z" fill="#fff" stroke="#000" stroke-width="1.4" stroke-linejoin="round"/>
<line x1="369.75" y1="538.81" x2="375.85" y2="538.81" stroke="#333" stroke-width="0.6" />
<line x1="369.30" y1="530.14" x2="376.30" y2="530.14" stroke="#333" stroke-width="0.6" />
<line x1="370.52" y1="522.44" x2="375.08" y2="522.44" stroke="#333" stroke-width="0.6" />
<path d="M385.40 548.45 C385.73 548.29 386.82 548.13 387.40 547.48 C387.98 546.84 388.60 545.72 388.90 544.59 C389.20 543.47 389.32 542.02 389.20 540.74 C389.08 539.46 388.40 538.17 388.20 536.89 C388.00 535.60 388.05 534.32 388.00 533.03 C387.95 531.75 388.08 530.46 387.90 529.18 C387.72 527.90 387.15 526.61 386.90 525.33 C386.65 524.04 386.45 522.92 386.40 521.47 C386.35 520.03 386.77 517.62 386.60 516.66 C386.43 515.69 385.80 515.69 385.40 515.69 C385.00 515.69 384.37 515.69 384.20 516.66 C384.03 517.62 384.45 520.03 384.40 521.47 C384.35 522.92 384.15 524.04 383.90 525.33 C383.65 526.61 383.08 527.90 382.90 529.18 C382.72 530.46 382.85 531.75 382.80 533.03 C382.75 534.32 382.80 535.60 382.60 536.89 C382.40 538.17 381.72 539.46 381.60 540.74 C381.48 542.02 381.60 543.47 381.90 544.59 C382.20 545.72 382.82 546.84 383.40 547.48 C383.98 548.13 385.07 548.29 385.40 548.45 Z" fill="#fff" stroke="#000" stroke-width="1.4" stroke-linejoin="round"/>
<line x1="382.43" y1="543.63" x2="388.37" y2="543.63" stroke="#333" stroke-width="0.6" />
<line x1="382.70" y1="538.81" x2="388.10" y2="538.81" stroke="#333" stroke-width="0.6" />
<line x1="383.50" y1="529.18" x2="387.30" y2="529.18" stroke="#333" stroke-width="0.6" />
<line x1="372.80" y1="552.30" x2="372.80" y2="555.20" stroke="#000" stroke-width="1.0" />
<line x1="385.40" y1="552.30" x2="385.40" y2="555.20" stroke="#000" stroke-width="1.0" />
<text x="374.40" y="561.70" font-size="7.0" text-anchor="end" textLength="15.50" lengthAdjust="spacingAndGlyphs" transform="rotate(-45 374.40 561.70)">5–33</text>
<text x="387.00" y="561.70" font-size="7.0" text-anchor="end" textLength="17.00" lengthAdjust="spacingAndGlyphs" transform="rotate(-45 387.00 561.70)">Other</text>
<text transform="translate(379.20 582.20) scale(0.64 1)" text-anchor="middle" font-size="9.0" style="stroke-width:0.45px" fill="#111">IL10RA</text>
<line x1="372.80" y1="495.80" x2="385.40" y2="495.80" stroke="#000" stroke-width="1.4" />
<line x1="372.80" y1="494.70" x2="372.80" y2="497.10" stroke="#000" stroke-width="1.0" />
<line x1="385.40" y1="494.70" x2="385.40" y2="497.10" stroke="#000" stroke-width="1.0" />
<text x="379.10" y="495.30" font-size="6.0" text-anchor="middle" textLength="2.20" lengthAdjust="spacingAndGlyphs" style="stroke-width:0.3px">*</text>
<line x1="420.00" y1="493.90" x2="420.00" y2="552.90" stroke="#000" stroke-width="1.3" />
<line x1="417.10" y1="552.30" x2="450.00" y2="552.30" stroke="#000" stroke-width="1.3" />
<text x="415.00" y="555.00" font-size="7.6" text-anchor="end">0</text>
<line x1="417.10" y1="540.74" x2="420.00" y2="540.74" stroke="#000" stroke-width="1.0" />
<text x="415.00" y="543.44" font-size="7.6" text-anchor="end">10</text>
<line x1="417.10" y1="529.18" x2="420.00" y2="529.18" stroke="#000" stroke-width="1.0" />
<text x="415.00" y="531.88" font-size="7.6" text-anchor="end">20</text>
<line x1="417.10" y1="517.62" x2="420.00" y2="517.62" stroke="#000" stroke-width="1.0" />
<text x="415.00" y="520.32" font-size="7.6" text-anchor="end">30</text>
<line x1="417.10" y1="506.06" x2="420.00" y2="506.06" stroke="#000" stroke-width="1.0" />
<text x="415.00" y="508.76" font-size="7.6" text-anchor="end">40</text>
<line x1="417.10" y1="494.50" x2="420.00" y2="494.50" stroke="#000" stroke-width="1.0" />
<text x="415.00" y="497.20" font-size="7.6" text-anchor="end">50</text>
<path d="M428.60 546.52 C428.77 546.33 429.27 546.33 429.60 545.36 C429.93 544.40 430.27 542.47 430.60 540.74 C430.93 539.01 431.13 536.69 431.60 534.96 C432.07 533.23 433.32 531.88 433.40 530.34 C433.48 528.79 432.57 527.25 432.10 525.71 C431.63 524.17 430.97 522.82 430.60 521.09 C430.23 519.35 430.10 517.43 429.90 515.31 C429.70 513.19 429.52 510.30 429.40 508.37 C429.28 506.45 429.33 504.71 429.20 503.75 C429.07 502.78 428.80 502.59 428.60 502.59 C428.40 502.59 428.13 502.78 428.00 503.75 C427.87 504.71 427.92 506.45 427.80 508.37 C427.68 510.30 427.50 513.19 427.30 515.31 C427.10 517.43 426.97 519.35 426.60 521.09 C426.23 522.82 425.57 524.17 425.10 525.71 C424.63 527.25 423.72 528.79 423.80 530.34 C423.88 531.88 425.13 533.23 425.60 534.96 C426.07 536.69 426.27 539.01 426.60 540.74 C426.93 542.47 427.27 544.40 427.60 545.36 C427.93 546.33 428.43 546.33 428.60 546.52 Z" fill="#fff" stroke="#000" stroke-width="1.4" stroke-linejoin="round"/>
<line x1="426.40" y1="536.12" x2="430.80" y2="536.12" stroke="#333" stroke-width="0.6" />
<line x1="424.56" y1="529.76" x2="432.64" y2="529.76" stroke="#333" stroke-width="0.6" />
<line x1="425.37" y1="526.87" x2="431.83" y2="526.87" stroke="#333" stroke-width="0.6" />
<path d="M441.20 546.52 C441.78 546.33 444.07 546.13 444.70 545.36 C445.33 544.59 445.00 543.05 445.00 541.90 C445.00 540.74 444.87 539.78 444.70 538.43 C444.53 537.08 444.17 535.35 444.00 533.80 C443.83 532.26 443.80 530.91 443.70 529.18 C443.60 527.45 443.48 525.33 443.40 523.40 C443.32 521.47 443.57 518.78 443.20 517.62 C442.83 516.46 441.87 516.46 441.20 516.46 C440.53 516.46 439.57 516.46 439.20 517.62 C438.83 518.78 439.08 521.47 439.00 523.40 C438.92 525.33 438.80 527.45 438.70 529.18 C438.60 530.91 438.57 532.26 438.40 533.80 C438.23 535.35 437.87 537.08 437.70 538.43 C437.53 539.78 437.40 540.74 437.40 541.90 C437.40 543.05 437.07 544.59 437.70 545.36 C438.33 546.13 440.62 546.33 441.20 546.52 Z" fill="#fff" stroke="#000" stroke-width="1.4" stroke-linejoin="round"/>
<line x1="438.00" y1="541.90" x2="444.40" y2="541.90" stroke="#333" stroke-width="0.6" />
<line x1="438.65" y1="536.12" x2="443.75" y2="536.12" stroke="#333" stroke-width="0.6" />
<line x1="439.36" y1="528.02" x2="443.04" y2="528.02" stroke="#333" stroke-width="0.6" />
<line x1="428.60" y1="552.30" x2="428.60" y2="555.20" stroke="#000" stroke-width="1.0" />
<line x1="441.20" y1="552.30" x2="441.20" y2="555.20" stroke="#000" stroke-width="1.0" />
<text x="430.20" y="561.70" font-size="7.0" text-anchor="end" textLength="15.50" lengthAdjust="spacingAndGlyphs" transform="rotate(-45 430.20 561.70)">5–33</text>
<text x="442.80" y="561.70" font-size="7.0" text-anchor="end" textLength="17.00" lengthAdjust="spacingAndGlyphs" transform="rotate(-45 442.80 561.70)">Other</text>
<text transform="translate(435.00 582.20) scale(0.64 1)" text-anchor="middle" font-size="9.0" style="stroke-width:0.45px" fill="#111">IL1RAP</text>
<line x1="428.60" y1="495.80" x2="441.20" y2="495.80" stroke="#000" stroke-width="1.4" />
<line x1="428.60" y1="494.70" x2="428.60" y2="497.10" stroke="#000" stroke-width="1.0" />
<line x1="441.20" y1="494.70" x2="441.20" y2="497.10" stroke="#000" stroke-width="1.0" />
<text x="434.90" y="495.30" font-size="6.0" text-anchor="middle" textLength="2.20" lengthAdjust="spacingAndGlyphs" style="stroke-width:0.3px">*</text>
<line x1="475.40" y1="493.90" x2="475.40" y2="552.90" stroke="#000" stroke-width="1.3" />
<line x1="472.50" y1="552.30" x2="505.40" y2="552.30" stroke="#000" stroke-width="1.3" />
<text x="470.40" y="555.00" font-size="7.6" text-anchor="end">0</text>
<line x1="472.50" y1="537.85" x2="475.40" y2="537.85" stroke="#000" stroke-width="1.0" />
<text x="470.40" y="540.55" font-size="7.6" text-anchor="end">100</text>
<line x1="472.50" y1="523.40" x2="475.40" y2="523.40" stroke="#000" stroke-width="1.0" />
<text x="470.40" y="526.10" font-size="7.6" text-anchor="end">200</text>
<line x1="472.50" y1="508.95" x2="475.40" y2="508.95" stroke="#000" stroke-width="1.0" />
<text x="470.40" y="511.65" font-size="7.6" text-anchor="end">300</text>
<line x1="472.50" y1="494.50" x2="475.40" y2="494.50" stroke="#000" stroke-width="1.0" />
<text x="470.40" y="497.20" font-size="7.6" text-anchor="end">400</text>
<path d="M484.00 552.30 C484.42 552.18 485.83 552.30 486.50 551.58 C487.17 550.86 487.75 549.53 488.00 547.96 C488.25 546.40 488.12 544.35 488.00 542.18 C487.88 540.02 487.55 537.37 487.30 534.96 C487.05 532.55 486.85 530.14 486.50 527.74 C486.15 525.33 485.52 522.92 485.20 520.51 C484.88 518.10 484.72 515.93 484.60 513.28 C484.48 510.64 484.60 506.11 484.50 504.62 C484.40 503.12 484.17 504.33 484.00 504.33 C483.83 504.33 483.60 503.12 483.50 504.62 C483.40 506.11 483.52 510.64 483.40 513.28 C483.28 515.93 483.12 518.10 482.80 520.51 C482.48 522.92 481.85 525.33 481.50 527.74 C481.15 530.14 480.95 532.55 480.70 534.96 C480.45 537.37 480.12 540.02 480.00 542.18 C479.88 544.35 479.75 546.40 480.00 547.96 C480.25 549.53 480.83 550.86 481.50 551.58 C482.17 552.30 483.58 552.18 484.00 552.30 Z" fill="#fff" stroke="#000" stroke-width="1.4" stroke-linejoin="round"/>
<line x1="480.60" y1="546.52" x2="487.40" y2="546.52" stroke="#333" stroke-width="0.6" />
<line x1="480.88" y1="539.29" x2="487.12" y2="539.29" stroke="#333" stroke-width="0.6" />
<line x1="482.02" y1="528.46" x2="485.98" y2="528.46" stroke="#333" stroke-width="0.6" />
<path d="M496.60 552.30 C497.02 552.18 498.43 552.06 499.10 551.58 C499.77 551.10 500.43 550.25 500.60 549.41 C500.77 548.57 500.43 547.72 500.10 546.52 C499.77 545.32 498.98 544.11 498.60 542.18 C498.22 540.26 498.03 538.09 497.80 534.96 C497.57 531.83 497.32 527.74 497.20 523.40 C497.08 519.06 497.13 512.56 497.10 508.95 C497.07 505.34 497.08 502.98 497.00 501.73 C496.92 500.47 496.73 501.44 496.60 501.44 C496.47 501.44 496.28 500.47 496.20 501.73 C496.12 502.98 496.13 505.34 496.10 508.95 C496.07 512.56 496.12 519.06 496.00 523.40 C495.88 527.74 495.63 531.83 495.40 534.96 C495.17 538.09 494.98 540.26 494.60 542.18 C494.22 544.11 493.43 545.32 493.10 546.52 C492.77 547.72 492.43 548.57 492.60 549.41 C492.77 550.25 493.43 551.10 494.10 551.58 C494.77 552.06 496.18 552.18 496.60 552.30 Z" fill="#fff" stroke="#000" stroke-width="1.4" stroke-linejoin="round"/>
<line x1="493.20" y1="549.41" x2="500.00" y2="549.41" stroke="#333" stroke-width="0.6" />
<line x1="493.57" y1="547.24" x2="499.63" y2="547.24" stroke="#333" stroke-width="0.6" />
<line x1="495.20" y1="542.18" x2="498.00" y2="542.18" stroke="#333" stroke-width="0.6" />
<line x1="484.00" y1="552.30" x2="484.00" y2="555.20" stroke="#000" stroke-width="1.0" />
<line x1="496.60" y1="552.30" x2="496.60" y2="555.20" stroke="#000" stroke-width="1.0" />
<text x="485.60" y="561.70" font-size="7.0" text-anchor="end" textLength="15.50" lengthAdjust="spacingAndGlyphs" transform="rotate(-45 485.60 561.70)">5–33</text>
<text x="498.20" y="561.70" font-size="7.0" text-anchor="end" textLength="17.00" lengthAdjust="spacingAndGlyphs" transform="rotate(-45 498.20 561.70)">Other</text>
<text transform="translate(490.40 582.20) scale(0.64 1)" text-anchor="middle" font-size="9.0" style="stroke-width:0.45px" fill="#111">CD34</text>
<line x1="484.00" y1="495.80" x2="496.60" y2="495.80" stroke="#000" stroke-width="1.4" />
<line x1="484.00" y1="494.70" x2="484.00" y2="497.10" stroke="#000" stroke-width="1.0" />
<line x1="496.60" y1="494.70" x2="496.60" y2="497.10" stroke="#000" stroke-width="1.0" />
<text x="490.30" y="495.30" font-size="6.0" text-anchor="middle" textLength="2.20" lengthAdjust="spacingAndGlyphs" style="stroke-width:0.3px">*</text>
<text x="445.20" y="596.70" font-size="6.6" font-style="italic" textLength="21.80" lengthAdjust="spacingAndGlyphs">p-value</text>
<text x="432.40" y="604.60" font-size="6.0" textLength="10.80" lengthAdjust="spacingAndGlyphs" style="stroke-width:0.35px">****</text>
<text x="445.20" y="603.80" font-size="6.6" font-style="italic" textLength="27.00" lengthAdjust="spacingAndGlyphs">&lt; 0.0001</text>
<text x="432.40" y="611.80" font-size="6.0" textLength="8.10" lengthAdjust="spacingAndGlyphs" style="stroke-width:0.35px">***</text>
<text x="445.20" y="611.00" font-size="6.6" font-style="italic" textLength="68.00" lengthAdjust="spacingAndGlyphs">≥ 0.0001 and &lt; 0.001</text>
<text x="432.40" y="619.00" font-size="6.0" textLength="5.40" lengthAdjust="spacingAndGlyphs" style="stroke-width:0.35px">**</text>
<text x="445.20" y="618.20" font-size="6.6" font-style="italic" textLength="59.40" lengthAdjust="spacingAndGlyphs">≥ 0.001 and &lt; 0.01</text>
<text x="432.40" y="626.20" font-size="6.0" textLength="2.70" lengthAdjust="spacingAndGlyphs" style="stroke-width:0.35px">*</text>
<text x="445.20" y="625.40" font-size="6.6" font-style="italic" textLength="55.60" lengthAdjust="spacingAndGlyphs">≥ 0.01 and &lt; 0.05</text></svg></div>
</body></html>
